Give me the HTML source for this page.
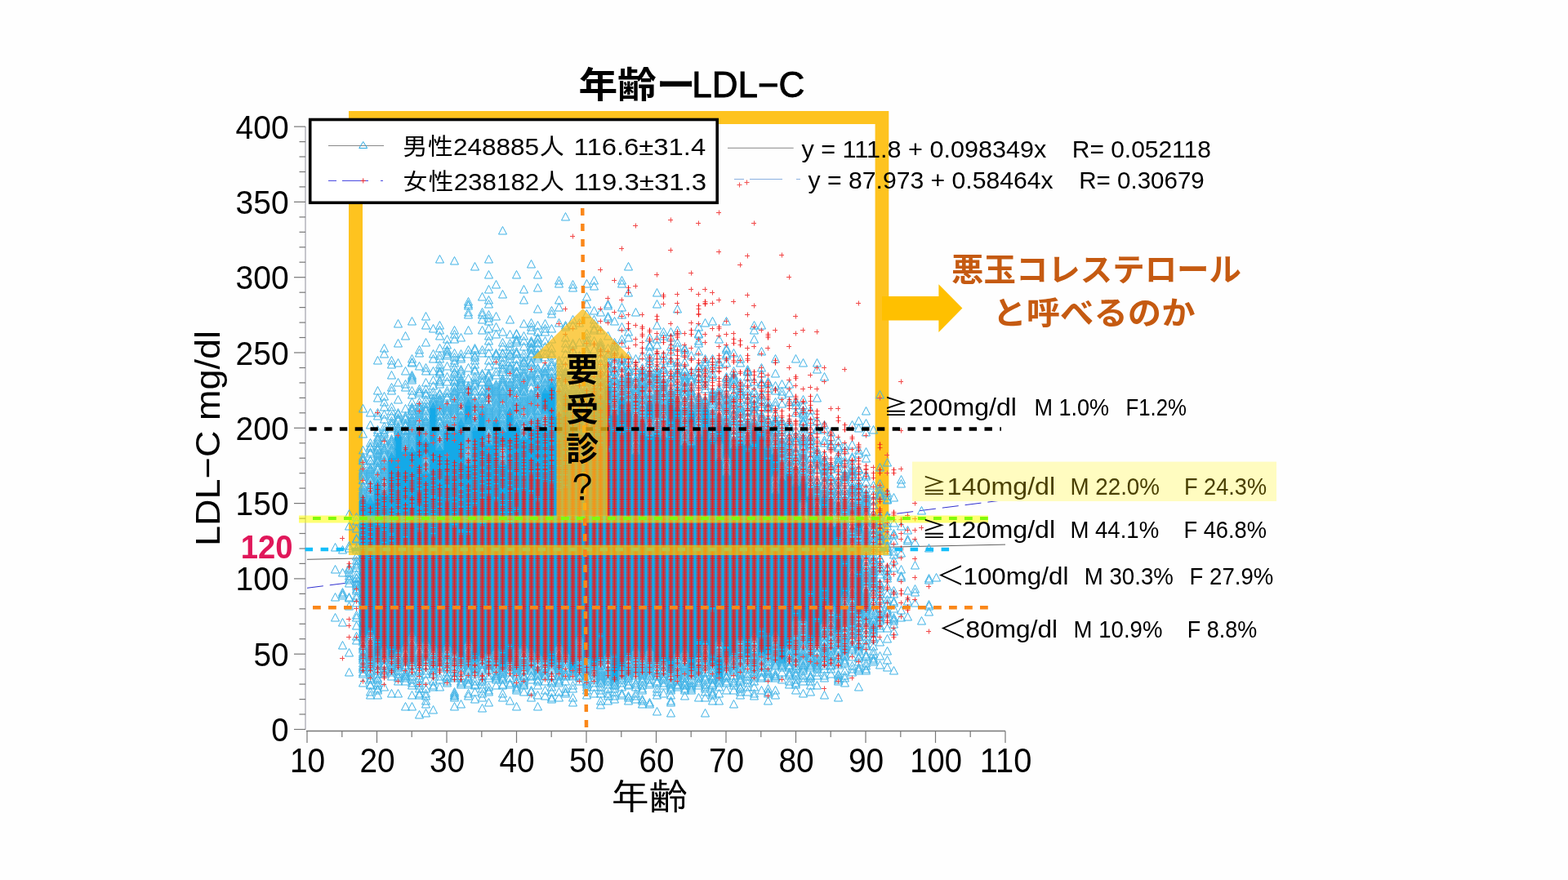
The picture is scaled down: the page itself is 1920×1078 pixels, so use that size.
<!DOCTYPE html>
<html><head><meta charset="utf-8"><title>年齢ーLDL-C</title>
<style>html,body{margin:0;padding:0;background:#fefefe;width:1920px;height:1078px;overflow:hidden}svg{display:block}</style>
</head><body>
<svg width="1920" height="1078" viewBox="0 0 1920 1078"><line x1="374" y1="155.1" x2="374" y2="893.5" stroke="#b8b8c0" stroke-width="1.6"/>
<line x1="360" y1="893.5" x2="374" y2="893.5" stroke="#777" stroke-width="1.2"/>
<line x1="366.5" y1="875.0" x2="374" y2="875.0" stroke="#777" stroke-width="1.2"/>
<line x1="366.5" y1="856.6" x2="374" y2="856.6" stroke="#777" stroke-width="1.2"/>
<line x1="366.5" y1="838.1" x2="374" y2="838.1" stroke="#777" stroke-width="1.2"/>
<line x1="366.5" y1="819.7" x2="374" y2="819.7" stroke="#777" stroke-width="1.2"/>
<line x1="360" y1="801.2" x2="374" y2="801.2" stroke="#777" stroke-width="1.2"/>
<line x1="366.5" y1="782.7" x2="374" y2="782.7" stroke="#777" stroke-width="1.2"/>
<line x1="366.5" y1="764.3" x2="374" y2="764.3" stroke="#777" stroke-width="1.2"/>
<line x1="366.5" y1="745.8" x2="374" y2="745.8" stroke="#777" stroke-width="1.2"/>
<line x1="366.5" y1="727.4" x2="374" y2="727.4" stroke="#777" stroke-width="1.2"/>
<line x1="360" y1="708.9" x2="374" y2="708.9" stroke="#777" stroke-width="1.2"/>
<line x1="366.5" y1="690.4" x2="374" y2="690.4" stroke="#777" stroke-width="1.2"/>
<line x1="366.5" y1="672.0" x2="374" y2="672.0" stroke="#777" stroke-width="1.2"/>
<line x1="366.5" y1="653.5" x2="374" y2="653.5" stroke="#777" stroke-width="1.2"/>
<line x1="366.5" y1="635.1" x2="374" y2="635.1" stroke="#777" stroke-width="1.2"/>
<line x1="360" y1="616.6" x2="374" y2="616.6" stroke="#777" stroke-width="1.2"/>
<line x1="366.5" y1="598.1" x2="374" y2="598.1" stroke="#777" stroke-width="1.2"/>
<line x1="366.5" y1="579.7" x2="374" y2="579.7" stroke="#777" stroke-width="1.2"/>
<line x1="366.5" y1="561.2" x2="374" y2="561.2" stroke="#777" stroke-width="1.2"/>
<line x1="366.5" y1="542.8" x2="374" y2="542.8" stroke="#777" stroke-width="1.2"/>
<line x1="360" y1="524.3" x2="374" y2="524.3" stroke="#777" stroke-width="1.2"/>
<line x1="366.5" y1="505.8" x2="374" y2="505.8" stroke="#777" stroke-width="1.2"/>
<line x1="366.5" y1="487.4" x2="374" y2="487.4" stroke="#777" stroke-width="1.2"/>
<line x1="366.5" y1="468.9" x2="374" y2="468.9" stroke="#777" stroke-width="1.2"/>
<line x1="366.5" y1="450.5" x2="374" y2="450.5" stroke="#777" stroke-width="1.2"/>
<line x1="360" y1="432.0" x2="374" y2="432.0" stroke="#777" stroke-width="1.2"/>
<line x1="366.5" y1="413.5" x2="374" y2="413.5" stroke="#777" stroke-width="1.2"/>
<line x1="366.5" y1="395.1" x2="374" y2="395.1" stroke="#777" stroke-width="1.2"/>
<line x1="366.5" y1="376.6" x2="374" y2="376.6" stroke="#777" stroke-width="1.2"/>
<line x1="366.5" y1="358.2" x2="374" y2="358.2" stroke="#777" stroke-width="1.2"/>
<line x1="360" y1="339.7" x2="374" y2="339.7" stroke="#777" stroke-width="1.2"/>
<line x1="366.5" y1="321.2" x2="374" y2="321.2" stroke="#777" stroke-width="1.2"/>
<line x1="366.5" y1="302.8" x2="374" y2="302.8" stroke="#777" stroke-width="1.2"/>
<line x1="366.5" y1="284.3" x2="374" y2="284.3" stroke="#777" stroke-width="1.2"/>
<line x1="366.5" y1="265.9" x2="374" y2="265.9" stroke="#777" stroke-width="1.2"/>
<line x1="360" y1="247.4" x2="374" y2="247.4" stroke="#777" stroke-width="1.2"/>
<line x1="366.5" y1="228.9" x2="374" y2="228.9" stroke="#777" stroke-width="1.2"/>
<line x1="366.5" y1="210.5" x2="374" y2="210.5" stroke="#777" stroke-width="1.2"/>
<line x1="366.5" y1="192.0" x2="374" y2="192.0" stroke="#777" stroke-width="1.2"/>
<line x1="366.5" y1="173.6" x2="374" y2="173.6" stroke="#777" stroke-width="1.2"/>
<line x1="360" y1="155.1" x2="374" y2="155.1" stroke="#777" stroke-width="1.2"/>
<line x1="375" y1="895.5" x2="1231" y2="895.5" stroke="#777" stroke-width="1.4"/>
<line x1="376.0" y1="895.5" x2="376.0" y2="910" stroke="#777" stroke-width="1.2"/>
<line x1="418.8" y1="895.5" x2="418.8" y2="903" stroke="#777" stroke-width="1.2"/>
<line x1="461.5" y1="895.5" x2="461.5" y2="910" stroke="#777" stroke-width="1.2"/>
<line x1="504.2" y1="895.5" x2="504.2" y2="903" stroke="#777" stroke-width="1.2"/>
<line x1="547.0" y1="895.5" x2="547.0" y2="910" stroke="#777" stroke-width="1.2"/>
<line x1="589.8" y1="895.5" x2="589.8" y2="903" stroke="#777" stroke-width="1.2"/>
<line x1="632.5" y1="895.5" x2="632.5" y2="910" stroke="#777" stroke-width="1.2"/>
<line x1="675.2" y1="895.5" x2="675.2" y2="903" stroke="#777" stroke-width="1.2"/>
<line x1="718.0" y1="895.5" x2="718.0" y2="910" stroke="#777" stroke-width="1.2"/>
<line x1="760.8" y1="895.5" x2="760.8" y2="903" stroke="#777" stroke-width="1.2"/>
<line x1="803.5" y1="895.5" x2="803.5" y2="910" stroke="#777" stroke-width="1.2"/>
<line x1="846.2" y1="895.5" x2="846.2" y2="903" stroke="#777" stroke-width="1.2"/>
<line x1="889.0" y1="895.5" x2="889.0" y2="910" stroke="#777" stroke-width="1.2"/>
<line x1="931.8" y1="895.5" x2="931.8" y2="903" stroke="#777" stroke-width="1.2"/>
<line x1="974.5" y1="895.5" x2="974.5" y2="910" stroke="#777" stroke-width="1.2"/>
<line x1="1017.2" y1="895.5" x2="1017.2" y2="903" stroke="#777" stroke-width="1.2"/>
<line x1="1060.0" y1="895.5" x2="1060.0" y2="910" stroke="#777" stroke-width="1.2"/>
<line x1="1102.8" y1="895.5" x2="1102.8" y2="903" stroke="#777" stroke-width="1.2"/>
<line x1="1145.5" y1="895.5" x2="1145.5" y2="910" stroke="#777" stroke-width="1.2"/>
<line x1="1188.2" y1="895.5" x2="1188.2" y2="903" stroke="#777" stroke-width="1.2"/>
<line x1="1231.0" y1="895.5" x2="1231.0" y2="910" stroke="#777" stroke-width="1.2"/>
<text x="353.6" y="908.0" font-size="40" fill="#000" font-weight="normal" font-family='"Liberation Sans",sans-serif' text-anchor="end" textLength="21.3" lengthAdjust="spacingAndGlyphs" >0</text>
<text x="353.6" y="815.7" font-size="40" fill="#000" font-weight="normal" font-family='"Liberation Sans",sans-serif' text-anchor="end" textLength="43.2" lengthAdjust="spacingAndGlyphs" >50</text>
<text x="353.6" y="723.4" font-size="40" fill="#000" font-weight="normal" font-family='"Liberation Sans",sans-serif' text-anchor="end" textLength="65.1" lengthAdjust="spacingAndGlyphs" >100</text>
<text x="353.6" y="631.1" font-size="40" fill="#000" font-weight="normal" font-family='"Liberation Sans",sans-serif' text-anchor="end" textLength="65.1" lengthAdjust="spacingAndGlyphs" >150</text>
<text x="353.6" y="538.8" font-size="40" fill="#000" font-weight="normal" font-family='"Liberation Sans",sans-serif' text-anchor="end" textLength="65.1" lengthAdjust="spacingAndGlyphs" >200</text>
<text x="353.6" y="446.5" font-size="40" fill="#000" font-weight="normal" font-family='"Liberation Sans",sans-serif' text-anchor="end" textLength="65.1" lengthAdjust="spacingAndGlyphs" >250</text>
<text x="353.6" y="354.2" font-size="40" fill="#000" font-weight="normal" font-family='"Liberation Sans",sans-serif' text-anchor="end" textLength="65.1" lengthAdjust="spacingAndGlyphs" >300</text>
<text x="353.6" y="261.9" font-size="40" fill="#000" font-weight="normal" font-family='"Liberation Sans",sans-serif' text-anchor="end" textLength="65.1" lengthAdjust="spacingAndGlyphs" >350</text>
<text x="353.6" y="169.6" font-size="40" fill="#000" font-weight="normal" font-family='"Liberation Sans",sans-serif' text-anchor="end" textLength="65.1" lengthAdjust="spacingAndGlyphs" >400</text>
<text x="376.6" y="946.0" font-size="42" fill="#000" font-weight="normal" font-family='"Liberation Sans",sans-serif' text-anchor="middle" textLength="43.2" lengthAdjust="spacingAndGlyphs" >10</text>
<text x="462.1" y="946.0" font-size="42" fill="#000" font-weight="normal" font-family='"Liberation Sans",sans-serif' text-anchor="middle" textLength="43.2" lengthAdjust="spacingAndGlyphs" >20</text>
<text x="547.6" y="946.0" font-size="42" fill="#000" font-weight="normal" font-family='"Liberation Sans",sans-serif' text-anchor="middle" textLength="43.2" lengthAdjust="spacingAndGlyphs" >30</text>
<text x="633.1" y="946.0" font-size="42" fill="#000" font-weight="normal" font-family='"Liberation Sans",sans-serif' text-anchor="middle" textLength="43.2" lengthAdjust="spacingAndGlyphs" >40</text>
<text x="718.6" y="946.0" font-size="42" fill="#000" font-weight="normal" font-family='"Liberation Sans",sans-serif' text-anchor="middle" textLength="43.2" lengthAdjust="spacingAndGlyphs" >50</text>
<text x="804.1" y="946.0" font-size="42" fill="#000" font-weight="normal" font-family='"Liberation Sans",sans-serif' text-anchor="middle" textLength="43.2" lengthAdjust="spacingAndGlyphs" >60</text>
<text x="889.6" y="946.0" font-size="42" fill="#000" font-weight="normal" font-family='"Liberation Sans",sans-serif' text-anchor="middle" textLength="43.2" lengthAdjust="spacingAndGlyphs" >70</text>
<text x="975.1" y="946.0" font-size="42" fill="#000" font-weight="normal" font-family='"Liberation Sans",sans-serif' text-anchor="middle" textLength="43.2" lengthAdjust="spacingAndGlyphs" >80</text>
<text x="1060.6" y="946.0" font-size="42" fill="#000" font-weight="normal" font-family='"Liberation Sans",sans-serif' text-anchor="middle" textLength="43.2" lengthAdjust="spacingAndGlyphs" >90</text>
<text x="1146.1" y="946.0" font-size="42" fill="#000" font-weight="normal" font-family='"Liberation Sans",sans-serif' text-anchor="middle" textLength="63.6" lengthAdjust="spacingAndGlyphs" >100</text>
<text x="1231.6" y="946.0" font-size="42" fill="#000" font-weight="normal" font-family='"Liberation Sans",sans-serif' text-anchor="middle" textLength="63.6" lengthAdjust="spacingAndGlyphs" >110</text>
<line x1="376" y1="685.3" x2="1231" y2="667.1" stroke="#606060" stroke-width="1"/>
<line x1="376" y1="720.3" x2="1231" y2="612.4" stroke="#3030d0" stroke-width="1" stroke-dasharray="20,8"/>
<g fill="rgb(254,195,31)"><rect x="427" y="136" width="661.3" height="16"/><rect x="427" y="152" width="17" height="516"/><rect x="1071.6" y="152" width="16.7" height="516"/></g>
<path d="M444.5 604.5L449.5 614V782H439.5V614ZM453.5 607.5L458.5 617V778H448.5V617ZM462.5 585.5L467.5 595V808H457.5V595ZM470.5 598.5L475.5 608V796H465.5V608ZM479.5 552.5L484.5 562V806H474.5V562ZM487.5 526.5L492.5 536V800H482.5V536ZM496.5 545.5L501.5 555V793H491.5V555ZM504.5 545.5L509.5 555V780H499.5V555ZM513.5 524.5L518.5 534V789H508.5V534ZM521.5 572.5L526.5 582V789H516.5V582ZM521.5 534.5L526.5 544V560H516.5V544ZM530.5 491.5L535.5 501V795H525.5V501ZM538.5 543.5L543.5 553V800H533.5V553ZM547.5 521.5L552.5 531V793H542.5V531ZM556.5 521.5L561.5 531V800H551.5V531ZM564.5 511.5L569.5 521V809H559.5V521ZM573.5 561.5L578.5 571V789H568.5V571ZM573.5 487.5L578.5 497V520H568.5V497ZM581.5 519.5L586.5 529V811H576.5V529ZM590.5 498.5L595.5 508V804H585.5V508ZM598.5 537.5L603.5 547V802H593.5V547ZM607.5 508.5L612.5 518V798H602.5V518ZM615.5 561.5L620.5 571V820H610.5V571ZM615.5 521.5L620.5 531V549H610.5V531ZM624.5 497.5L629.5 507V811H619.5V507ZM632.5 515.5L637.5 525V796H627.5V525ZM641.5 530.5L646.5 540V795H636.5V540ZM650.5 517.5L655.5 527V800H645.5V527ZM658.5 511.5L663.5 521V804H653.5V521ZM667.5 519.5L672.5 529V808H662.5V529ZM667.5 473.5L672.5 483V507H662.5V483ZM675.5 465.5L680.5 475V815H670.5V475ZM684.5 502.5L689.5 512V793H679.5V512ZM692.5 478.5L697.5 488V802H687.5V488ZM701.5 498.5L706.5 508V824H696.5V508ZM709.5 478.5L714.5 488V784H704.5V488ZM718.5 524.5L723.5 534V808H713.5V534ZM727.5 478.5L732.5 488V819H722.5V488ZM735.5 482.5L740.5 492V811H730.5V492ZM744.5 465.5L749.5 475V804H739.5V475ZM752.5 500.5L757.5 510V835H747.5V510ZM761.5 482.5L766.5 492V822H756.5V492ZM769.5 497.5L774.5 507V806H764.5V507ZM778.5 548.5L783.5 558V798H773.5V558ZM786.5 510.5L791.5 520V804H781.5V520ZM795.5 526.5L800.5 536V798H790.5V536ZM795.5 486.5L800.5 496V514H790.5V496ZM804.5 522.5L809.5 532V811H799.5V532ZM812.5 528.5L817.5 538V811H807.5V538ZM821.5 482.5L826.5 492V824H816.5V492ZM829.5 493.5L834.5 503V802H824.5V503ZM838.5 537.5L843.5 547V800H833.5V547ZM846.5 537.5L851.5 547V822H841.5V547ZM846.5 497.5L851.5 507V525H841.5V507ZM855.5 526.5L860.5 536V806H850.5V536ZM863.5 493.5L868.5 503V791H858.5V503ZM872.5 530.5L877.5 540V815H867.5V540ZM880.5 799.5L885.5 809V832H875.5V809ZM880.5 556.5L885.5 566V787H875.5V566ZM880.5 513.5L885.5 523V544H875.5V523ZM889.5 574.5L894.5 584V806H884.5V584ZM889.5 515.5L894.5 525V562H884.5V525ZM898.5 541.5L903.5 551V804H893.5V551ZM906.5 534.5L911.5 544V785H901.5V544ZM915.5 537.5L920.5 547V806H910.5V547ZM923.5 519.5L928.5 529V782H918.5V529ZM932.5 522.5L937.5 532V804H927.5V532ZM940.5 541.5L945.5 551V802H935.5V551ZM949.5 596.5L954.5 606V780H944.5V606ZM949.5 548.5L954.5 558V584H944.5V558ZM957.5 580.5L962.5 590V813H952.5V590ZM966.5 572.5L971.5 582V793H961.5V582ZM974.5 587.5L979.5 597V761H969.5V597ZM983.5 628.5L988.5 638V761H978.5V638ZM983.5 583.5L988.5 593V616H978.5V593ZM992.5 600.5L997.5 610V789H987.5V610ZM1000.5 624.5L1005.5 634V784H995.5V634ZM1009.5 602.5L1014.5 612V765H1004.5V612ZM1017.5 637.5L1022.5 647V743H1012.5V647ZM1026.5 635.5L1031.5 645V776H1021.5V645ZM1034.5 665.5L1039.5 675V732H1029.5V675ZM1051.5 676.5L1056.5 686V752H1046.5V686ZM1051.5 628.5L1056.5 638V654H1046.5V638Z" fill="#14a9e8"/>
<path d="M410.5 751.5l5 9.5h-10zM410.5 726.5l5 9.5h-10zM410.5 692.5l5 9.5h-10zM410.5 665.5l5 9.5h-10zM419.5 785.5l5 9.5h-10zM419.5 757.5l5 9.5h-10zM419.5 724.5l5 9.5h-10zM419.5 722.5l5 9.5h-10zM419.5 720.5l5 9.5h-10zM419.5 696.5l5 9.5h-10zM419.5 668.5l5 9.5h-10zM427.5 818.5l5 9.5h-10zM427.5 794.5l5 9.5h-10zM427.5 737.5l5 9.5h-10zM427.5 727.5l5 9.5h-10zM427.5 726.5l5 9.5h-10zM427.5 709.5l5 9.5h-10zM427.5 705.5l5 9.5h-10zM427.5 703.5l5 9.5h-10zM427.5 700.5l5 9.5h-10zM427.5 696.5l5 9.5h-10zM427.5 692.5l5 9.5h-10zM427.5 690.5l5 9.5h-10zM427.5 666.5l5 9.5h-10zM427.5 663.5l5 9.5h-10zM427.5 639.5l5 9.5h-10zM427.5 624.5l5 9.5h-10zM436.5 779.5l5 9.5h-10zM436.5 774.5l5 9.5h-10zM436.5 761.5l5 9.5h-10zM436.5 751.5l5 9.5h-10zM436.5 748.5l5 9.5h-10zM436.5 733.5l5 9.5h-10zM436.5 727.5l5 9.5h-10zM436.5 724.5l5 9.5h-10zM436.5 718.5l5 9.5h-10zM436.5 716.5l5 9.5h-10zM436.5 713.5l5 9.5h-10zM436.5 711.5l5 9.5h-10zM436.5 709.5l5 9.5h-10zM436.5 707.5l5 9.5h-10zM436.5 703.5l5 9.5h-10zM436.5 702.5l5 9.5h-10zM436.5 698.5l5 9.5h-10zM436.5 690.5l5 9.5h-10zM436.5 687.5l5 9.5h-10zM436.5 685.5l5 9.5h-10zM436.5 681.5l5 9.5h-10zM436.5 676.5l5 9.5h-10zM436.5 668.5l5 9.5h-10zM436.5 666.5l5 9.5h-10zM436.5 655.5l5 9.5h-10zM436.5 654.5l5 9.5h-10zM436.5 642.5l5 9.5h-10zM436.5 633.5l5 9.5h-10zM436.5 628.5l5 9.5h-10zM444.5 831.5l5 9.5h-10zM444.5 820.5l5 9.5h-10zM444.5 818.5l5 9.5h-10zM444.5 814.5l5 9.5h-10zM444.5 812.5l5 9.5h-10zM444.5 810.5l5 9.5h-10zM444.5 807.5l5 9.5h-10zM444.5 803.5l5 9.5h-10zM444.5 801.5l5 9.5h-10zM444.5 799.5l5 9.5h-10zM444.5 798.5l5 9.5h-10zM444.5 796.5l5 9.5h-10zM444.5 794.5l5 9.5h-10zM444.5 790.5l5 9.5h-10zM444.5 788.5l5 9.5h-10zM444.5 786.5l5 9.5h-10zM444.5 785.5l5 9.5h-10zM444.5 594.5l5 9.5h-10zM444.5 596.5l5 9.5h-10zM444.5 598.5l5 9.5h-10zM444.5 600.5l5 9.5h-10zM444.5 602.5l5 9.5h-10zM444.5 781.5l5 9.5h-10zM444.5 779.5l5 9.5h-10zM444.5 777.5l5 9.5h-10zM444.5 775.5l5 9.5h-10zM444.5 774.5l5 9.5h-10zM444.5 591.5l5 9.5h-10zM444.5 589.5l5 9.5h-10zM444.5 583.5l5 9.5h-10zM444.5 582.5l5 9.5h-10zM444.5 578.5l5 9.5h-10zM444.5 576.5l5 9.5h-10zM444.5 574.5l5 9.5h-10zM444.5 572.5l5 9.5h-10zM444.5 570.5l5 9.5h-10zM444.5 567.5l5 9.5h-10zM444.5 559.5l5 9.5h-10zM444.5 558.5l5 9.5h-10zM444.5 556.5l5 9.5h-10zM444.5 554.5l5 9.5h-10zM444.5 546.5l5 9.5h-10zM444.5 526.5l5 9.5h-10zM444.5 495.5l5 9.5h-10zM453.5 846.5l5 9.5h-10zM453.5 842.5l5 9.5h-10zM453.5 834.5l5 9.5h-10zM453.5 833.5l5 9.5h-10zM453.5 827.5l5 9.5h-10zM453.5 825.5l5 9.5h-10zM453.5 822.5l5 9.5h-10zM453.5 818.5l5 9.5h-10zM453.5 816.5l5 9.5h-10zM453.5 812.5l5 9.5h-10zM453.5 810.5l5 9.5h-10zM453.5 809.5l5 9.5h-10zM453.5 807.5l5 9.5h-10zM453.5 805.5l5 9.5h-10zM453.5 803.5l5 9.5h-10zM453.5 801.5l5 9.5h-10zM453.5 799.5l5 9.5h-10zM453.5 798.5l5 9.5h-10zM453.5 796.5l5 9.5h-10zM453.5 794.5l5 9.5h-10zM453.5 792.5l5 9.5h-10zM453.5 790.5l5 9.5h-10zM453.5 788.5l5 9.5h-10zM453.5 786.5l5 9.5h-10zM453.5 783.5l5 9.5h-10zM453.5 781.5l5 9.5h-10zM453.5 598.5l5 9.5h-10zM453.5 600.5l5 9.5h-10zM453.5 602.5l5 9.5h-10zM453.5 604.5l5 9.5h-10zM453.5 606.5l5 9.5h-10zM453.5 777.5l5 9.5h-10zM453.5 775.5l5 9.5h-10zM453.5 774.5l5 9.5h-10zM453.5 772.5l5 9.5h-10zM453.5 770.5l5 9.5h-10zM453.5 594.5l5 9.5h-10zM453.5 593.5l5 9.5h-10zM453.5 591.5l5 9.5h-10zM453.5 589.5l5 9.5h-10zM453.5 587.5l5 9.5h-10zM453.5 583.5l5 9.5h-10zM453.5 582.5l5 9.5h-10zM453.5 580.5l5 9.5h-10zM453.5 578.5l5 9.5h-10zM453.5 576.5l5 9.5h-10zM453.5 574.5l5 9.5h-10zM453.5 572.5l5 9.5h-10zM453.5 570.5l5 9.5h-10zM453.5 569.5l5 9.5h-10zM453.5 567.5l5 9.5h-10zM453.5 563.5l5 9.5h-10zM453.5 559.5l5 9.5h-10zM453.5 558.5l5 9.5h-10zM453.5 550.5l5 9.5h-10zM453.5 548.5l5 9.5h-10zM453.5 543.5l5 9.5h-10zM453.5 541.5l5 9.5h-10zM453.5 537.5l5 9.5h-10zM453.5 515.5l5 9.5h-10zM453.5 500.5l5 9.5h-10zM462.5 846.5l5 9.5h-10zM462.5 840.5l5 9.5h-10zM462.5 838.5l5 9.5h-10zM462.5 834.5l5 9.5h-10zM462.5 831.5l5 9.5h-10zM462.5 827.5l5 9.5h-10zM462.5 825.5l5 9.5h-10zM462.5 820.5l5 9.5h-10zM462.5 816.5l5 9.5h-10zM462.5 814.5l5 9.5h-10zM462.5 810.5l5 9.5h-10zM462.5 576.5l5 9.5h-10zM462.5 578.5l5 9.5h-10zM462.5 580.5l5 9.5h-10zM462.5 582.5l5 9.5h-10zM462.5 583.5l5 9.5h-10zM462.5 807.5l5 9.5h-10zM462.5 805.5l5 9.5h-10zM462.5 803.5l5 9.5h-10zM462.5 801.5l5 9.5h-10zM462.5 799.5l5 9.5h-10zM462.5 570.5l5 9.5h-10zM462.5 569.5l5 9.5h-10zM462.5 567.5l5 9.5h-10zM462.5 565.5l5 9.5h-10zM462.5 561.5l5 9.5h-10zM462.5 559.5l5 9.5h-10zM462.5 558.5l5 9.5h-10zM462.5 556.5l5 9.5h-10zM462.5 554.5l5 9.5h-10zM462.5 552.5l5 9.5h-10zM462.5 550.5l5 9.5h-10zM462.5 546.5l5 9.5h-10zM462.5 545.5l5 9.5h-10zM462.5 543.5l5 9.5h-10zM462.5 541.5l5 9.5h-10zM462.5 537.5l5 9.5h-10zM462.5 534.5l5 9.5h-10zM462.5 532.5l5 9.5h-10zM462.5 530.5l5 9.5h-10zM462.5 524.5l5 9.5h-10zM462.5 521.5l5 9.5h-10zM462.5 504.5l5 9.5h-10zM462.5 500.5l5 9.5h-10zM462.5 482.5l5 9.5h-10zM462.5 473.5l5 9.5h-10zM462.5 436.5l5 9.5h-10zM470.5 836.5l5 9.5h-10zM470.5 820.5l5 9.5h-10zM470.5 818.5l5 9.5h-10zM470.5 816.5l5 9.5h-10zM470.5 810.5l5 9.5h-10zM470.5 809.5l5 9.5h-10zM470.5 807.5l5 9.5h-10zM470.5 803.5l5 9.5h-10zM470.5 801.5l5 9.5h-10zM470.5 799.5l5 9.5h-10zM470.5 589.5l5 9.5h-10zM470.5 591.5l5 9.5h-10zM470.5 593.5l5 9.5h-10zM470.5 594.5l5 9.5h-10zM470.5 596.5l5 9.5h-10zM470.5 796.5l5 9.5h-10zM470.5 794.5l5 9.5h-10zM470.5 792.5l5 9.5h-10zM470.5 790.5l5 9.5h-10zM470.5 788.5l5 9.5h-10zM470.5 585.5l5 9.5h-10zM470.5 583.5l5 9.5h-10zM470.5 582.5l5 9.5h-10zM470.5 580.5l5 9.5h-10zM470.5 578.5l5 9.5h-10zM470.5 576.5l5 9.5h-10zM470.5 574.5l5 9.5h-10zM470.5 572.5l5 9.5h-10zM470.5 570.5l5 9.5h-10zM470.5 569.5l5 9.5h-10zM470.5 567.5l5 9.5h-10zM470.5 565.5l5 9.5h-10zM470.5 563.5l5 9.5h-10zM470.5 561.5l5 9.5h-10zM470.5 559.5l5 9.5h-10zM470.5 558.5l5 9.5h-10zM470.5 552.5l5 9.5h-10zM470.5 550.5l5 9.5h-10zM470.5 548.5l5 9.5h-10zM470.5 546.5l5 9.5h-10zM470.5 545.5l5 9.5h-10zM470.5 543.5l5 9.5h-10zM470.5 537.5l5 9.5h-10zM470.5 535.5l5 9.5h-10zM470.5 534.5l5 9.5h-10zM470.5 530.5l5 9.5h-10zM470.5 526.5l5 9.5h-10zM470.5 524.5l5 9.5h-10zM470.5 521.5l5 9.5h-10zM470.5 517.5l5 9.5h-10zM470.5 508.5l5 9.5h-10zM470.5 502.5l5 9.5h-10zM470.5 493.5l5 9.5h-10zM470.5 487.5l5 9.5h-10zM470.5 480.5l5 9.5h-10zM470.5 428.5l5 9.5h-10zM470.5 421.5l5 9.5h-10zM479.5 844.5l5 9.5h-10zM479.5 823.5l5 9.5h-10zM479.5 818.5l5 9.5h-10zM479.5 816.5l5 9.5h-10zM479.5 814.5l5 9.5h-10zM479.5 812.5l5 9.5h-10zM479.5 810.5l5 9.5h-10zM479.5 809.5l5 9.5h-10zM479.5 543.5l5 9.5h-10zM479.5 545.5l5 9.5h-10zM479.5 546.5l5 9.5h-10zM479.5 548.5l5 9.5h-10zM479.5 550.5l5 9.5h-10zM479.5 805.5l5 9.5h-10zM479.5 803.5l5 9.5h-10zM479.5 801.5l5 9.5h-10zM479.5 799.5l5 9.5h-10zM479.5 798.5l5 9.5h-10zM479.5 539.5l5 9.5h-10zM479.5 537.5l5 9.5h-10zM479.5 535.5l5 9.5h-10zM479.5 534.5l5 9.5h-10zM479.5 532.5l5 9.5h-10zM479.5 519.5l5 9.5h-10zM479.5 515.5l5 9.5h-10zM479.5 513.5l5 9.5h-10zM479.5 510.5l5 9.5h-10zM479.5 504.5l5 9.5h-10zM479.5 498.5l5 9.5h-10zM479.5 493.5l5 9.5h-10zM479.5 473.5l5 9.5h-10zM479.5 469.5l5 9.5h-10zM479.5 454.5l5 9.5h-10zM479.5 441.5l5 9.5h-10zM479.5 436.5l5 9.5h-10zM487.5 844.5l5 9.5h-10zM487.5 829.5l5 9.5h-10zM487.5 825.5l5 9.5h-10zM487.5 823.5l5 9.5h-10zM487.5 820.5l5 9.5h-10zM487.5 816.5l5 9.5h-10zM487.5 812.5l5 9.5h-10zM487.5 810.5l5 9.5h-10zM487.5 809.5l5 9.5h-10zM487.5 807.5l5 9.5h-10zM487.5 805.5l5 9.5h-10zM487.5 803.5l5 9.5h-10zM487.5 517.5l5 9.5h-10zM487.5 519.5l5 9.5h-10zM487.5 521.5l5 9.5h-10zM487.5 522.5l5 9.5h-10zM487.5 524.5l5 9.5h-10zM487.5 799.5l5 9.5h-10zM487.5 798.5l5 9.5h-10zM487.5 796.5l5 9.5h-10zM487.5 794.5l5 9.5h-10zM487.5 792.5l5 9.5h-10zM487.5 510.5l5 9.5h-10zM487.5 508.5l5 9.5h-10zM487.5 506.5l5 9.5h-10zM487.5 502.5l5 9.5h-10zM487.5 500.5l5 9.5h-10zM487.5 484.5l5 9.5h-10zM487.5 463.5l5 9.5h-10zM487.5 439.5l5 9.5h-10zM487.5 415.5l5 9.5h-10zM487.5 391.5l5 9.5h-10zM496.5 860.5l5 9.5h-10zM496.5 829.5l5 9.5h-10zM496.5 825.5l5 9.5h-10zM496.5 823.5l5 9.5h-10zM496.5 822.5l5 9.5h-10zM496.5 820.5l5 9.5h-10zM496.5 818.5l5 9.5h-10zM496.5 812.5l5 9.5h-10zM496.5 810.5l5 9.5h-10zM496.5 809.5l5 9.5h-10zM496.5 805.5l5 9.5h-10zM496.5 803.5l5 9.5h-10zM496.5 801.5l5 9.5h-10zM496.5 799.5l5 9.5h-10zM496.5 798.5l5 9.5h-10zM496.5 535.5l5 9.5h-10zM496.5 537.5l5 9.5h-10zM496.5 539.5l5 9.5h-10zM496.5 541.5l5 9.5h-10zM496.5 543.5l5 9.5h-10zM496.5 792.5l5 9.5h-10zM496.5 790.5l5 9.5h-10zM496.5 788.5l5 9.5h-10zM496.5 786.5l5 9.5h-10zM496.5 785.5l5 9.5h-10zM496.5 532.5l5 9.5h-10zM496.5 530.5l5 9.5h-10zM496.5 528.5l5 9.5h-10zM496.5 526.5l5 9.5h-10zM496.5 522.5l5 9.5h-10zM496.5 521.5l5 9.5h-10zM496.5 517.5l5 9.5h-10zM496.5 515.5l5 9.5h-10zM496.5 513.5l5 9.5h-10zM496.5 508.5l5 9.5h-10zM496.5 506.5l5 9.5h-10zM496.5 504.5l5 9.5h-10zM496.5 495.5l5 9.5h-10zM496.5 469.5l5 9.5h-10zM496.5 465.5l5 9.5h-10zM496.5 449.5l5 9.5h-10zM496.5 406.5l5 9.5h-10zM504.5 860.5l5 9.5h-10zM504.5 846.5l5 9.5h-10zM504.5 834.5l5 9.5h-10zM504.5 831.5l5 9.5h-10zM504.5 827.5l5 9.5h-10zM504.5 823.5l5 9.5h-10zM504.5 818.5l5 9.5h-10zM504.5 816.5l5 9.5h-10zM504.5 809.5l5 9.5h-10zM504.5 807.5l5 9.5h-10zM504.5 805.5l5 9.5h-10zM504.5 803.5l5 9.5h-10zM504.5 801.5l5 9.5h-10zM504.5 799.5l5 9.5h-10zM504.5 798.5l5 9.5h-10zM504.5 796.5l5 9.5h-10zM504.5 794.5l5 9.5h-10zM504.5 792.5l5 9.5h-10zM504.5 790.5l5 9.5h-10zM504.5 788.5l5 9.5h-10zM504.5 786.5l5 9.5h-10zM504.5 785.5l5 9.5h-10zM504.5 783.5l5 9.5h-10zM504.5 535.5l5 9.5h-10zM504.5 537.5l5 9.5h-10zM504.5 539.5l5 9.5h-10zM504.5 541.5l5 9.5h-10zM504.5 543.5l5 9.5h-10zM504.5 779.5l5 9.5h-10zM504.5 777.5l5 9.5h-10zM504.5 775.5l5 9.5h-10zM504.5 774.5l5 9.5h-10zM504.5 772.5l5 9.5h-10zM504.5 532.5l5 9.5h-10zM504.5 530.5l5 9.5h-10zM504.5 528.5l5 9.5h-10zM504.5 526.5l5 9.5h-10zM504.5 524.5l5 9.5h-10zM504.5 522.5l5 9.5h-10zM504.5 521.5l5 9.5h-10zM504.5 519.5l5 9.5h-10zM504.5 517.5l5 9.5h-10zM504.5 515.5l5 9.5h-10zM504.5 513.5l5 9.5h-10zM504.5 511.5l5 9.5h-10zM504.5 510.5l5 9.5h-10zM504.5 508.5l5 9.5h-10zM504.5 506.5l5 9.5h-10zM504.5 502.5l5 9.5h-10zM504.5 498.5l5 9.5h-10zM504.5 497.5l5 9.5h-10zM504.5 495.5l5 9.5h-10zM504.5 493.5l5 9.5h-10zM504.5 487.5l5 9.5h-10zM504.5 478.5l5 9.5h-10zM504.5 473.5l5 9.5h-10zM504.5 460.5l5 9.5h-10zM504.5 458.5l5 9.5h-10zM504.5 456.5l5 9.5h-10zM504.5 454.5l5 9.5h-10zM504.5 439.5l5 9.5h-10zM504.5 438.5l5 9.5h-10zM504.5 434.5l5 9.5h-10zM504.5 388.5l5 9.5h-10zM513.5 870.5l5 9.5h-10zM513.5 846.5l5 9.5h-10zM513.5 844.5l5 9.5h-10zM513.5 838.5l5 9.5h-10zM513.5 834.5l5 9.5h-10zM513.5 831.5l5 9.5h-10zM513.5 825.5l5 9.5h-10zM513.5 822.5l5 9.5h-10zM513.5 816.5l5 9.5h-10zM513.5 814.5l5 9.5h-10zM513.5 810.5l5 9.5h-10zM513.5 809.5l5 9.5h-10zM513.5 805.5l5 9.5h-10zM513.5 803.5l5 9.5h-10zM513.5 801.5l5 9.5h-10zM513.5 799.5l5 9.5h-10zM513.5 798.5l5 9.5h-10zM513.5 796.5l5 9.5h-10zM513.5 794.5l5 9.5h-10zM513.5 515.5l5 9.5h-10zM513.5 517.5l5 9.5h-10zM513.5 519.5l5 9.5h-10zM513.5 521.5l5 9.5h-10zM513.5 522.5l5 9.5h-10zM513.5 788.5l5 9.5h-10zM513.5 786.5l5 9.5h-10zM513.5 785.5l5 9.5h-10zM513.5 783.5l5 9.5h-10zM513.5 781.5l5 9.5h-10zM513.5 510.5l5 9.5h-10zM513.5 508.5l5 9.5h-10zM513.5 506.5l5 9.5h-10zM513.5 504.5l5 9.5h-10zM513.5 502.5l5 9.5h-10zM513.5 500.5l5 9.5h-10zM513.5 497.5l5 9.5h-10zM513.5 495.5l5 9.5h-10zM513.5 493.5l5 9.5h-10zM513.5 491.5l5 9.5h-10zM513.5 487.5l5 9.5h-10zM513.5 476.5l5 9.5h-10zM513.5 474.5l5 9.5h-10zM513.5 471.5l5 9.5h-10zM513.5 443.5l5 9.5h-10zM513.5 427.5l5 9.5h-10zM513.5 423.5l5 9.5h-10zM521.5 868.5l5 9.5h-10zM521.5 857.5l5 9.5h-10zM521.5 853.5l5 9.5h-10zM521.5 847.5l5 9.5h-10zM521.5 844.5l5 9.5h-10zM521.5 838.5l5 9.5h-10zM521.5 827.5l5 9.5h-10zM521.5 820.5l5 9.5h-10zM521.5 816.5l5 9.5h-10zM521.5 810.5l5 9.5h-10zM521.5 805.5l5 9.5h-10zM521.5 803.5l5 9.5h-10zM521.5 801.5l5 9.5h-10zM521.5 799.5l5 9.5h-10zM521.5 796.5l5 9.5h-10zM521.5 794.5l5 9.5h-10zM521.5 792.5l5 9.5h-10zM521.5 563.5l5 9.5h-10zM521.5 565.5l5 9.5h-10zM521.5 567.5l5 9.5h-10zM521.5 569.5l5 9.5h-10zM521.5 570.5l5 9.5h-10zM521.5 788.5l5 9.5h-10zM521.5 786.5l5 9.5h-10zM521.5 785.5l5 9.5h-10zM521.5 783.5l5 9.5h-10zM521.5 781.5l5 9.5h-10zM521.5 524.5l5 9.5h-10zM521.5 526.5l5 9.5h-10zM521.5 528.5l5 9.5h-10zM521.5 530.5l5 9.5h-10zM521.5 532.5l5 9.5h-10zM521.5 559.5l5 9.5h-10zM521.5 558.5l5 9.5h-10zM521.5 556.5l5 9.5h-10zM521.5 554.5l5 9.5h-10zM521.5 552.5l5 9.5h-10zM521.5 521.5l5 9.5h-10zM521.5 519.5l5 9.5h-10zM521.5 517.5l5 9.5h-10zM521.5 515.5l5 9.5h-10zM521.5 513.5l5 9.5h-10zM521.5 511.5l5 9.5h-10zM521.5 510.5l5 9.5h-10zM521.5 508.5l5 9.5h-10zM521.5 504.5l5 9.5h-10zM521.5 498.5l5 9.5h-10zM521.5 497.5l5 9.5h-10zM521.5 495.5l5 9.5h-10zM521.5 493.5l5 9.5h-10zM521.5 489.5l5 9.5h-10zM521.5 484.5l5 9.5h-10zM521.5 478.5l5 9.5h-10zM521.5 476.5l5 9.5h-10zM521.5 471.5l5 9.5h-10zM521.5 463.5l5 9.5h-10zM521.5 449.5l5 9.5h-10zM521.5 445.5l5 9.5h-10zM521.5 414.5l5 9.5h-10zM521.5 393.5l5 9.5h-10zM521.5 382.5l5 9.5h-10zM530.5 864.5l5 9.5h-10zM530.5 836.5l5 9.5h-10zM530.5 834.5l5 9.5h-10zM530.5 829.5l5 9.5h-10zM530.5 820.5l5 9.5h-10zM530.5 818.5l5 9.5h-10zM530.5 816.5l5 9.5h-10zM530.5 814.5l5 9.5h-10zM530.5 810.5l5 9.5h-10zM530.5 809.5l5 9.5h-10zM530.5 807.5l5 9.5h-10zM530.5 805.5l5 9.5h-10zM530.5 803.5l5 9.5h-10zM530.5 801.5l5 9.5h-10zM530.5 799.5l5 9.5h-10zM530.5 798.5l5 9.5h-10zM530.5 482.5l5 9.5h-10zM530.5 484.5l5 9.5h-10zM530.5 486.5l5 9.5h-10zM530.5 487.5l5 9.5h-10zM530.5 489.5l5 9.5h-10zM530.5 794.5l5 9.5h-10zM530.5 792.5l5 9.5h-10zM530.5 790.5l5 9.5h-10zM530.5 788.5l5 9.5h-10zM530.5 786.5l5 9.5h-10zM530.5 478.5l5 9.5h-10zM530.5 474.5l5 9.5h-10zM530.5 467.5l5 9.5h-10zM530.5 460.5l5 9.5h-10zM530.5 449.5l5 9.5h-10zM530.5 434.5l5 9.5h-10zM530.5 428.5l5 9.5h-10zM530.5 397.5l5 9.5h-10zM538.5 836.5l5 9.5h-10zM538.5 827.5l5 9.5h-10zM538.5 823.5l5 9.5h-10zM538.5 812.5l5 9.5h-10zM538.5 810.5l5 9.5h-10zM538.5 807.5l5 9.5h-10zM538.5 805.5l5 9.5h-10zM538.5 803.5l5 9.5h-10zM538.5 534.5l5 9.5h-10zM538.5 535.5l5 9.5h-10zM538.5 537.5l5 9.5h-10zM538.5 539.5l5 9.5h-10zM538.5 541.5l5 9.5h-10zM538.5 799.5l5 9.5h-10zM538.5 798.5l5 9.5h-10zM538.5 796.5l5 9.5h-10zM538.5 794.5l5 9.5h-10zM538.5 792.5l5 9.5h-10zM538.5 530.5l5 9.5h-10zM538.5 528.5l5 9.5h-10zM538.5 526.5l5 9.5h-10zM538.5 524.5l5 9.5h-10zM538.5 522.5l5 9.5h-10zM538.5 519.5l5 9.5h-10zM538.5 517.5l5 9.5h-10zM538.5 513.5l5 9.5h-10zM538.5 511.5l5 9.5h-10zM538.5 510.5l5 9.5h-10zM538.5 508.5l5 9.5h-10zM538.5 504.5l5 9.5h-10zM538.5 502.5l5 9.5h-10zM538.5 498.5l5 9.5h-10zM538.5 497.5l5 9.5h-10zM538.5 495.5l5 9.5h-10zM538.5 493.5l5 9.5h-10zM538.5 491.5l5 9.5h-10zM538.5 489.5l5 9.5h-10zM538.5 487.5l5 9.5h-10zM538.5 486.5l5 9.5h-10zM538.5 484.5l5 9.5h-10zM538.5 482.5l5 9.5h-10zM538.5 478.5l5 9.5h-10zM538.5 476.5l5 9.5h-10zM538.5 465.5l5 9.5h-10zM538.5 462.5l5 9.5h-10zM538.5 460.5l5 9.5h-10zM538.5 452.5l5 9.5h-10zM538.5 450.5l5 9.5h-10zM538.5 449.5l5 9.5h-10zM538.5 445.5l5 9.5h-10zM538.5 441.5l5 9.5h-10zM538.5 434.5l5 9.5h-10zM538.5 430.5l5 9.5h-10zM538.5 421.5l5 9.5h-10zM538.5 406.5l5 9.5h-10zM538.5 399.5l5 9.5h-10zM538.5 393.5l5 9.5h-10zM538.5 312.5l5 9.5h-10zM547.5 831.5l5 9.5h-10zM547.5 829.5l5 9.5h-10zM547.5 825.5l5 9.5h-10zM547.5 823.5l5 9.5h-10zM547.5 818.5l5 9.5h-10zM547.5 814.5l5 9.5h-10zM547.5 812.5l5 9.5h-10zM547.5 809.5l5 9.5h-10zM547.5 805.5l5 9.5h-10zM547.5 803.5l5 9.5h-10zM547.5 801.5l5 9.5h-10zM547.5 799.5l5 9.5h-10zM547.5 798.5l5 9.5h-10zM547.5 796.5l5 9.5h-10zM547.5 511.5l5 9.5h-10zM547.5 513.5l5 9.5h-10zM547.5 515.5l5 9.5h-10zM547.5 517.5l5 9.5h-10zM547.5 519.5l5 9.5h-10zM547.5 792.5l5 9.5h-10zM547.5 790.5l5 9.5h-10zM547.5 788.5l5 9.5h-10zM547.5 786.5l5 9.5h-10zM547.5 785.5l5 9.5h-10zM547.5 508.5l5 9.5h-10zM547.5 506.5l5 9.5h-10zM547.5 502.5l5 9.5h-10zM547.5 500.5l5 9.5h-10zM547.5 498.5l5 9.5h-10zM547.5 497.5l5 9.5h-10zM547.5 495.5l5 9.5h-10zM547.5 493.5l5 9.5h-10zM547.5 491.5l5 9.5h-10zM547.5 489.5l5 9.5h-10zM547.5 482.5l5 9.5h-10zM547.5 480.5l5 9.5h-10zM547.5 476.5l5 9.5h-10zM547.5 473.5l5 9.5h-10zM547.5 462.5l5 9.5h-10zM547.5 456.5l5 9.5h-10zM547.5 443.5l5 9.5h-10zM547.5 430.5l5 9.5h-10zM547.5 428.5l5 9.5h-10zM547.5 425.5l5 9.5h-10zM547.5 423.5l5 9.5h-10zM547.5 417.5l5 9.5h-10zM547.5 410.5l5 9.5h-10zM556.5 860.5l5 9.5h-10zM556.5 849.5l5 9.5h-10zM556.5 847.5l5 9.5h-10zM556.5 846.5l5 9.5h-10zM556.5 844.5l5 9.5h-10zM556.5 842.5l5 9.5h-10zM556.5 825.5l5 9.5h-10zM556.5 823.5l5 9.5h-10zM556.5 822.5l5 9.5h-10zM556.5 818.5l5 9.5h-10zM556.5 814.5l5 9.5h-10zM556.5 810.5l5 9.5h-10zM556.5 807.5l5 9.5h-10zM556.5 805.5l5 9.5h-10zM556.5 803.5l5 9.5h-10zM556.5 511.5l5 9.5h-10zM556.5 513.5l5 9.5h-10zM556.5 515.5l5 9.5h-10zM556.5 517.5l5 9.5h-10zM556.5 519.5l5 9.5h-10zM556.5 799.5l5 9.5h-10zM556.5 798.5l5 9.5h-10zM556.5 796.5l5 9.5h-10zM556.5 794.5l5 9.5h-10zM556.5 792.5l5 9.5h-10zM556.5 508.5l5 9.5h-10zM556.5 504.5l5 9.5h-10zM556.5 502.5l5 9.5h-10zM556.5 500.5l5 9.5h-10zM556.5 498.5l5 9.5h-10zM556.5 497.5l5 9.5h-10zM556.5 495.5l5 9.5h-10zM556.5 493.5l5 9.5h-10zM556.5 491.5l5 9.5h-10zM556.5 489.5l5 9.5h-10zM556.5 487.5l5 9.5h-10zM556.5 486.5l5 9.5h-10zM556.5 482.5l5 9.5h-10zM556.5 480.5l5 9.5h-10zM556.5 478.5l5 9.5h-10zM556.5 476.5l5 9.5h-10zM556.5 474.5l5 9.5h-10zM556.5 473.5l5 9.5h-10zM556.5 469.5l5 9.5h-10zM556.5 467.5l5 9.5h-10zM556.5 462.5l5 9.5h-10zM556.5 460.5l5 9.5h-10zM556.5 456.5l5 9.5h-10zM556.5 452.5l5 9.5h-10zM556.5 450.5l5 9.5h-10zM556.5 445.5l5 9.5h-10zM556.5 439.5l5 9.5h-10zM556.5 436.5l5 9.5h-10zM556.5 432.5l5 9.5h-10zM556.5 427.5l5 9.5h-10zM556.5 410.5l5 9.5h-10zM556.5 404.5l5 9.5h-10zM556.5 399.5l5 9.5h-10zM556.5 314.5l5 9.5h-10zM564.5 857.5l5 9.5h-10zM564.5 833.5l5 9.5h-10zM564.5 831.5l5 9.5h-10zM564.5 829.5l5 9.5h-10zM564.5 825.5l5 9.5h-10zM564.5 818.5l5 9.5h-10zM564.5 816.5l5 9.5h-10zM564.5 812.5l5 9.5h-10zM564.5 502.5l5 9.5h-10zM564.5 504.5l5 9.5h-10zM564.5 506.5l5 9.5h-10zM564.5 508.5l5 9.5h-10zM564.5 510.5l5 9.5h-10zM564.5 809.5l5 9.5h-10zM564.5 807.5l5 9.5h-10zM564.5 805.5l5 9.5h-10zM564.5 803.5l5 9.5h-10zM564.5 801.5l5 9.5h-10zM564.5 498.5l5 9.5h-10zM564.5 497.5l5 9.5h-10zM564.5 495.5l5 9.5h-10zM564.5 491.5l5 9.5h-10zM564.5 489.5l5 9.5h-10zM564.5 486.5l5 9.5h-10zM564.5 484.5l5 9.5h-10zM564.5 480.5l5 9.5h-10zM564.5 478.5l5 9.5h-10zM564.5 476.5l5 9.5h-10zM564.5 474.5l5 9.5h-10zM564.5 471.5l5 9.5h-10zM564.5 467.5l5 9.5h-10zM564.5 465.5l5 9.5h-10zM564.5 463.5l5 9.5h-10zM564.5 462.5l5 9.5h-10zM564.5 460.5l5 9.5h-10zM564.5 458.5l5 9.5h-10zM564.5 452.5l5 9.5h-10zM564.5 449.5l5 9.5h-10zM564.5 447.5l5 9.5h-10zM564.5 434.5l5 9.5h-10zM564.5 432.5l5 9.5h-10zM564.5 428.5l5 9.5h-10zM564.5 408.5l5 9.5h-10zM573.5 847.5l5 9.5h-10zM573.5 844.5l5 9.5h-10zM573.5 833.5l5 9.5h-10zM573.5 831.5l5 9.5h-10zM573.5 827.5l5 9.5h-10zM573.5 825.5l5 9.5h-10zM573.5 823.5l5 9.5h-10zM573.5 816.5l5 9.5h-10zM573.5 814.5l5 9.5h-10zM573.5 812.5l5 9.5h-10zM573.5 810.5l5 9.5h-10zM573.5 809.5l5 9.5h-10zM573.5 807.5l5 9.5h-10zM573.5 805.5l5 9.5h-10zM573.5 803.5l5 9.5h-10zM573.5 801.5l5 9.5h-10zM573.5 798.5l5 9.5h-10zM573.5 796.5l5 9.5h-10zM573.5 794.5l5 9.5h-10zM573.5 792.5l5 9.5h-10zM573.5 552.5l5 9.5h-10zM573.5 554.5l5 9.5h-10zM573.5 556.5l5 9.5h-10zM573.5 558.5l5 9.5h-10zM573.5 559.5l5 9.5h-10zM573.5 788.5l5 9.5h-10zM573.5 786.5l5 9.5h-10zM573.5 785.5l5 9.5h-10zM573.5 783.5l5 9.5h-10zM573.5 781.5l5 9.5h-10zM573.5 548.5l5 9.5h-10zM573.5 546.5l5 9.5h-10zM573.5 545.5l5 9.5h-10zM573.5 543.5l5 9.5h-10zM573.5 541.5l5 9.5h-10zM573.5 539.5l5 9.5h-10zM573.5 537.5l5 9.5h-10zM573.5 535.5l5 9.5h-10zM573.5 534.5l5 9.5h-10zM573.5 532.5l5 9.5h-10zM573.5 530.5l5 9.5h-10zM573.5 528.5l5 9.5h-10zM573.5 526.5l5 9.5h-10zM573.5 524.5l5 9.5h-10zM573.5 522.5l5 9.5h-10zM573.5 478.5l5 9.5h-10zM573.5 480.5l5 9.5h-10zM573.5 482.5l5 9.5h-10zM573.5 484.5l5 9.5h-10zM573.5 486.5l5 9.5h-10zM573.5 519.5l5 9.5h-10zM573.5 517.5l5 9.5h-10zM573.5 515.5l5 9.5h-10zM573.5 513.5l5 9.5h-10zM573.5 511.5l5 9.5h-10zM573.5 474.5l5 9.5h-10zM573.5 473.5l5 9.5h-10zM573.5 471.5l5 9.5h-10zM573.5 469.5l5 9.5h-10zM573.5 467.5l5 9.5h-10zM573.5 458.5l5 9.5h-10zM573.5 445.5l5 9.5h-10zM573.5 428.5l5 9.5h-10zM573.5 423.5l5 9.5h-10zM573.5 399.5l5 9.5h-10zM573.5 380.5l5 9.5h-10zM573.5 377.5l5 9.5h-10zM573.5 369.5l5 9.5h-10zM573.5 367.5l5 9.5h-10zM573.5 364.5l5 9.5h-10zM581.5 851.5l5 9.5h-10zM581.5 842.5l5 9.5h-10zM581.5 834.5l5 9.5h-10zM581.5 833.5l5 9.5h-10zM581.5 829.5l5 9.5h-10zM581.5 820.5l5 9.5h-10zM581.5 818.5l5 9.5h-10zM581.5 816.5l5 9.5h-10zM581.5 814.5l5 9.5h-10zM581.5 510.5l5 9.5h-10zM581.5 511.5l5 9.5h-10zM581.5 513.5l5 9.5h-10zM581.5 515.5l5 9.5h-10zM581.5 517.5l5 9.5h-10zM581.5 810.5l5 9.5h-10zM581.5 809.5l5 9.5h-10zM581.5 807.5l5 9.5h-10zM581.5 805.5l5 9.5h-10zM581.5 803.5l5 9.5h-10zM581.5 506.5l5 9.5h-10zM581.5 504.5l5 9.5h-10zM581.5 502.5l5 9.5h-10zM581.5 498.5l5 9.5h-10zM581.5 497.5l5 9.5h-10zM581.5 495.5l5 9.5h-10zM581.5 493.5l5 9.5h-10zM581.5 491.5l5 9.5h-10zM581.5 489.5l5 9.5h-10zM581.5 487.5l5 9.5h-10zM581.5 486.5l5 9.5h-10zM581.5 484.5l5 9.5h-10zM581.5 478.5l5 9.5h-10zM581.5 474.5l5 9.5h-10zM581.5 473.5l5 9.5h-10zM581.5 467.5l5 9.5h-10zM581.5 465.5l5 9.5h-10zM581.5 463.5l5 9.5h-10zM581.5 460.5l5 9.5h-10zM581.5 456.5l5 9.5h-10zM581.5 449.5l5 9.5h-10zM581.5 447.5l5 9.5h-10zM581.5 441.5l5 9.5h-10zM581.5 436.5l5 9.5h-10zM581.5 432.5l5 9.5h-10zM581.5 430.5l5 9.5h-10zM581.5 423.5l5 9.5h-10zM581.5 421.5l5 9.5h-10zM581.5 321.5l5 9.5h-10zM590.5 862.5l5 9.5h-10zM590.5 849.5l5 9.5h-10zM590.5 844.5l5 9.5h-10zM590.5 838.5l5 9.5h-10zM590.5 833.5l5 9.5h-10zM590.5 829.5l5 9.5h-10zM590.5 827.5l5 9.5h-10zM590.5 823.5l5 9.5h-10zM590.5 816.5l5 9.5h-10zM590.5 814.5l5 9.5h-10zM590.5 812.5l5 9.5h-10zM590.5 809.5l5 9.5h-10zM590.5 807.5l5 9.5h-10zM590.5 489.5l5 9.5h-10zM590.5 491.5l5 9.5h-10zM590.5 493.5l5 9.5h-10zM590.5 495.5l5 9.5h-10zM590.5 497.5l5 9.5h-10zM590.5 803.5l5 9.5h-10zM590.5 801.5l5 9.5h-10zM590.5 799.5l5 9.5h-10zM590.5 798.5l5 9.5h-10zM590.5 796.5l5 9.5h-10zM590.5 486.5l5 9.5h-10zM590.5 482.5l5 9.5h-10zM590.5 480.5l5 9.5h-10zM590.5 478.5l5 9.5h-10zM590.5 474.5l5 9.5h-10zM590.5 473.5l5 9.5h-10zM590.5 463.5l5 9.5h-10zM590.5 462.5l5 9.5h-10zM590.5 458.5l5 9.5h-10zM590.5 454.5l5 9.5h-10zM590.5 452.5l5 9.5h-10zM590.5 427.5l5 9.5h-10zM590.5 423.5l5 9.5h-10zM590.5 399.5l5 9.5h-10zM590.5 386.5l5 9.5h-10zM590.5 380.5l5 9.5h-10zM590.5 377.5l5 9.5h-10zM590.5 358.5l5 9.5h-10zM598.5 855.5l5 9.5h-10zM598.5 842.5l5 9.5h-10zM598.5 840.5l5 9.5h-10zM598.5 836.5l5 9.5h-10zM598.5 825.5l5 9.5h-10zM598.5 822.5l5 9.5h-10zM598.5 814.5l5 9.5h-10zM598.5 812.5l5 9.5h-10zM598.5 810.5l5 9.5h-10zM598.5 809.5l5 9.5h-10zM598.5 807.5l5 9.5h-10zM598.5 805.5l5 9.5h-10zM598.5 528.5l5 9.5h-10zM598.5 530.5l5 9.5h-10zM598.5 532.5l5 9.5h-10zM598.5 534.5l5 9.5h-10zM598.5 535.5l5 9.5h-10zM598.5 801.5l5 9.5h-10zM598.5 799.5l5 9.5h-10zM598.5 798.5l5 9.5h-10zM598.5 796.5l5 9.5h-10zM598.5 794.5l5 9.5h-10zM598.5 524.5l5 9.5h-10zM598.5 522.5l5 9.5h-10zM598.5 521.5l5 9.5h-10zM598.5 519.5l5 9.5h-10zM598.5 517.5l5 9.5h-10zM598.5 515.5l5 9.5h-10zM598.5 513.5l5 9.5h-10zM598.5 511.5l5 9.5h-10zM598.5 510.5l5 9.5h-10zM598.5 508.5l5 9.5h-10zM598.5 506.5l5 9.5h-10zM598.5 504.5l5 9.5h-10zM598.5 502.5l5 9.5h-10zM598.5 500.5l5 9.5h-10zM598.5 498.5l5 9.5h-10zM598.5 497.5l5 9.5h-10zM598.5 495.5l5 9.5h-10zM598.5 493.5l5 9.5h-10zM598.5 491.5l5 9.5h-10zM598.5 486.5l5 9.5h-10zM598.5 482.5l5 9.5h-10zM598.5 480.5l5 9.5h-10zM598.5 476.5l5 9.5h-10zM598.5 474.5l5 9.5h-10zM598.5 473.5l5 9.5h-10zM598.5 471.5l5 9.5h-10zM598.5 469.5l5 9.5h-10zM598.5 467.5l5 9.5h-10zM598.5 465.5l5 9.5h-10zM598.5 463.5l5 9.5h-10zM598.5 462.5l5 9.5h-10zM598.5 456.5l5 9.5h-10zM598.5 454.5l5 9.5h-10zM598.5 452.5l5 9.5h-10zM598.5 443.5l5 9.5h-10zM598.5 436.5l5 9.5h-10zM598.5 427.5l5 9.5h-10zM598.5 419.5l5 9.5h-10zM598.5 412.5l5 9.5h-10zM598.5 406.5l5 9.5h-10zM598.5 397.5l5 9.5h-10zM598.5 388.5l5 9.5h-10zM598.5 384.5l5 9.5h-10zM598.5 380.5l5 9.5h-10zM598.5 367.5l5 9.5h-10zM598.5 362.5l5 9.5h-10zM598.5 349.5l5 9.5h-10zM598.5 331.5l5 9.5h-10zM598.5 312.5l5 9.5h-10zM607.5 834.5l5 9.5h-10zM607.5 827.5l5 9.5h-10zM607.5 825.5l5 9.5h-10zM607.5 823.5l5 9.5h-10zM607.5 822.5l5 9.5h-10zM607.5 820.5l5 9.5h-10zM607.5 816.5l5 9.5h-10zM607.5 812.5l5 9.5h-10zM607.5 810.5l5 9.5h-10zM607.5 809.5l5 9.5h-10zM607.5 807.5l5 9.5h-10zM607.5 805.5l5 9.5h-10zM607.5 803.5l5 9.5h-10zM607.5 801.5l5 9.5h-10zM607.5 498.5l5 9.5h-10zM607.5 500.5l5 9.5h-10zM607.5 502.5l5 9.5h-10zM607.5 504.5l5 9.5h-10zM607.5 506.5l5 9.5h-10zM607.5 798.5l5 9.5h-10zM607.5 796.5l5 9.5h-10zM607.5 794.5l5 9.5h-10zM607.5 792.5l5 9.5h-10zM607.5 790.5l5 9.5h-10zM607.5 495.5l5 9.5h-10zM607.5 493.5l5 9.5h-10zM607.5 491.5l5 9.5h-10zM607.5 489.5l5 9.5h-10zM607.5 487.5l5 9.5h-10zM607.5 484.5l5 9.5h-10zM607.5 482.5l5 9.5h-10zM607.5 480.5l5 9.5h-10zM607.5 478.5l5 9.5h-10zM607.5 476.5l5 9.5h-10zM607.5 474.5l5 9.5h-10zM607.5 473.5l5 9.5h-10zM607.5 471.5l5 9.5h-10zM607.5 469.5l5 9.5h-10zM607.5 467.5l5 9.5h-10zM607.5 465.5l5 9.5h-10zM607.5 454.5l5 9.5h-10zM607.5 450.5l5 9.5h-10zM607.5 441.5l5 9.5h-10zM607.5 436.5l5 9.5h-10zM607.5 430.5l5 9.5h-10zM607.5 428.5l5 9.5h-10zM607.5 427.5l5 9.5h-10zM607.5 404.5l5 9.5h-10zM607.5 395.5l5 9.5h-10zM607.5 382.5l5 9.5h-10zM607.5 343.5l5 9.5h-10zM615.5 849.5l5 9.5h-10zM615.5 844.5l5 9.5h-10zM615.5 834.5l5 9.5h-10zM615.5 833.5l5 9.5h-10zM615.5 827.5l5 9.5h-10zM615.5 825.5l5 9.5h-10zM615.5 823.5l5 9.5h-10zM615.5 552.5l5 9.5h-10zM615.5 554.5l5 9.5h-10zM615.5 556.5l5 9.5h-10zM615.5 558.5l5 9.5h-10zM615.5 559.5l5 9.5h-10zM615.5 820.5l5 9.5h-10zM615.5 818.5l5 9.5h-10zM615.5 816.5l5 9.5h-10zM615.5 814.5l5 9.5h-10zM615.5 812.5l5 9.5h-10zM615.5 511.5l5 9.5h-10zM615.5 513.5l5 9.5h-10zM615.5 515.5l5 9.5h-10zM615.5 517.5l5 9.5h-10zM615.5 519.5l5 9.5h-10zM615.5 548.5l5 9.5h-10zM615.5 546.5l5 9.5h-10zM615.5 545.5l5 9.5h-10zM615.5 543.5l5 9.5h-10zM615.5 541.5l5 9.5h-10zM615.5 508.5l5 9.5h-10zM615.5 506.5l5 9.5h-10zM615.5 502.5l5 9.5h-10zM615.5 500.5l5 9.5h-10zM615.5 498.5l5 9.5h-10zM615.5 497.5l5 9.5h-10zM615.5 495.5l5 9.5h-10zM615.5 493.5l5 9.5h-10zM615.5 489.5l5 9.5h-10zM615.5 487.5l5 9.5h-10zM615.5 486.5l5 9.5h-10zM615.5 484.5l5 9.5h-10zM615.5 482.5l5 9.5h-10zM615.5 480.5l5 9.5h-10zM615.5 478.5l5 9.5h-10zM615.5 476.5l5 9.5h-10zM615.5 474.5l5 9.5h-10zM615.5 473.5l5 9.5h-10zM615.5 467.5l5 9.5h-10zM615.5 465.5l5 9.5h-10zM615.5 463.5l5 9.5h-10zM615.5 462.5l5 9.5h-10zM615.5 460.5l5 9.5h-10zM615.5 458.5l5 9.5h-10zM615.5 450.5l5 9.5h-10zM615.5 447.5l5 9.5h-10zM615.5 445.5l5 9.5h-10zM615.5 441.5l5 9.5h-10zM615.5 438.5l5 9.5h-10zM615.5 432.5l5 9.5h-10zM615.5 428.5l5 9.5h-10zM615.5 427.5l5 9.5h-10zM615.5 419.5l5 9.5h-10zM615.5 414.5l5 9.5h-10zM615.5 401.5l5 9.5h-10zM615.5 355.5l5 9.5h-10zM615.5 277.5l5 9.5h-10zM624.5 853.5l5 9.5h-10zM624.5 833.5l5 9.5h-10zM624.5 831.5l5 9.5h-10zM624.5 825.5l5 9.5h-10zM624.5 818.5l5 9.5h-10zM624.5 814.5l5 9.5h-10zM624.5 487.5l5 9.5h-10zM624.5 489.5l5 9.5h-10zM624.5 491.5l5 9.5h-10zM624.5 493.5l5 9.5h-10zM624.5 495.5l5 9.5h-10zM624.5 810.5l5 9.5h-10zM624.5 809.5l5 9.5h-10zM624.5 807.5l5 9.5h-10zM624.5 805.5l5 9.5h-10zM624.5 803.5l5 9.5h-10zM624.5 484.5l5 9.5h-10zM624.5 482.5l5 9.5h-10zM624.5 480.5l5 9.5h-10zM624.5 478.5l5 9.5h-10zM624.5 476.5l5 9.5h-10zM624.5 473.5l5 9.5h-10zM624.5 471.5l5 9.5h-10zM624.5 469.5l5 9.5h-10zM624.5 467.5l5 9.5h-10zM624.5 465.5l5 9.5h-10zM624.5 463.5l5 9.5h-10zM624.5 458.5l5 9.5h-10zM624.5 454.5l5 9.5h-10zM624.5 450.5l5 9.5h-10zM624.5 447.5l5 9.5h-10zM624.5 445.5l5 9.5h-10zM624.5 443.5l5 9.5h-10zM624.5 438.5l5 9.5h-10zM624.5 434.5l5 9.5h-10zM624.5 430.5l5 9.5h-10zM624.5 428.5l5 9.5h-10zM624.5 423.5l5 9.5h-10zM624.5 419.5l5 9.5h-10zM624.5 415.5l5 9.5h-10zM624.5 404.5l5 9.5h-10zM624.5 386.5l5 9.5h-10zM632.5 860.5l5 9.5h-10zM632.5 840.5l5 9.5h-10zM632.5 838.5l5 9.5h-10zM632.5 836.5l5 9.5h-10zM632.5 831.5l5 9.5h-10zM632.5 829.5l5 9.5h-10zM632.5 822.5l5 9.5h-10zM632.5 820.5l5 9.5h-10zM632.5 818.5l5 9.5h-10zM632.5 816.5l5 9.5h-10zM632.5 814.5l5 9.5h-10zM632.5 812.5l5 9.5h-10zM632.5 810.5l5 9.5h-10zM632.5 809.5l5 9.5h-10zM632.5 807.5l5 9.5h-10zM632.5 805.5l5 9.5h-10zM632.5 803.5l5 9.5h-10zM632.5 801.5l5 9.5h-10zM632.5 799.5l5 9.5h-10zM632.5 506.5l5 9.5h-10zM632.5 508.5l5 9.5h-10zM632.5 510.5l5 9.5h-10zM632.5 511.5l5 9.5h-10zM632.5 513.5l5 9.5h-10zM632.5 796.5l5 9.5h-10zM632.5 794.5l5 9.5h-10zM632.5 792.5l5 9.5h-10zM632.5 790.5l5 9.5h-10zM632.5 788.5l5 9.5h-10zM632.5 502.5l5 9.5h-10zM632.5 500.5l5 9.5h-10zM632.5 498.5l5 9.5h-10zM632.5 497.5l5 9.5h-10zM632.5 495.5l5 9.5h-10zM632.5 493.5l5 9.5h-10zM632.5 491.5l5 9.5h-10zM632.5 489.5l5 9.5h-10zM632.5 487.5l5 9.5h-10zM632.5 486.5l5 9.5h-10zM632.5 484.5l5 9.5h-10zM632.5 480.5l5 9.5h-10zM632.5 478.5l5 9.5h-10zM632.5 474.5l5 9.5h-10zM632.5 473.5l5 9.5h-10zM632.5 471.5l5 9.5h-10zM632.5 469.5l5 9.5h-10zM632.5 465.5l5 9.5h-10zM632.5 462.5l5 9.5h-10zM632.5 460.5l5 9.5h-10zM632.5 458.5l5 9.5h-10zM632.5 456.5l5 9.5h-10zM632.5 452.5l5 9.5h-10zM632.5 450.5l5 9.5h-10zM632.5 449.5l5 9.5h-10zM632.5 443.5l5 9.5h-10zM632.5 441.5l5 9.5h-10zM632.5 434.5l5 9.5h-10zM632.5 428.5l5 9.5h-10zM632.5 427.5l5 9.5h-10zM632.5 425.5l5 9.5h-10zM632.5 414.5l5 9.5h-10zM632.5 412.5l5 9.5h-10zM632.5 410.5l5 9.5h-10zM632.5 404.5l5 9.5h-10zM632.5 403.5l5 9.5h-10zM632.5 331.5l5 9.5h-10zM641.5 842.5l5 9.5h-10zM641.5 834.5l5 9.5h-10zM641.5 833.5l5 9.5h-10zM641.5 831.5l5 9.5h-10zM641.5 829.5l5 9.5h-10zM641.5 825.5l5 9.5h-10zM641.5 823.5l5 9.5h-10zM641.5 822.5l5 9.5h-10zM641.5 816.5l5 9.5h-10zM641.5 814.5l5 9.5h-10zM641.5 812.5l5 9.5h-10zM641.5 810.5l5 9.5h-10zM641.5 809.5l5 9.5h-10zM641.5 807.5l5 9.5h-10zM641.5 805.5l5 9.5h-10zM641.5 803.5l5 9.5h-10zM641.5 801.5l5 9.5h-10zM641.5 799.5l5 9.5h-10zM641.5 798.5l5 9.5h-10zM641.5 521.5l5 9.5h-10zM641.5 522.5l5 9.5h-10zM641.5 524.5l5 9.5h-10zM641.5 526.5l5 9.5h-10zM641.5 528.5l5 9.5h-10zM641.5 794.5l5 9.5h-10zM641.5 792.5l5 9.5h-10zM641.5 790.5l5 9.5h-10zM641.5 788.5l5 9.5h-10zM641.5 786.5l5 9.5h-10zM641.5 517.5l5 9.5h-10zM641.5 515.5l5 9.5h-10zM641.5 513.5l5 9.5h-10zM641.5 511.5l5 9.5h-10zM641.5 510.5l5 9.5h-10zM641.5 508.5l5 9.5h-10zM641.5 506.5l5 9.5h-10zM641.5 502.5l5 9.5h-10zM641.5 500.5l5 9.5h-10zM641.5 498.5l5 9.5h-10zM641.5 497.5l5 9.5h-10zM641.5 495.5l5 9.5h-10zM641.5 493.5l5 9.5h-10zM641.5 491.5l5 9.5h-10zM641.5 489.5l5 9.5h-10zM641.5 487.5l5 9.5h-10zM641.5 486.5l5 9.5h-10zM641.5 484.5l5 9.5h-10zM641.5 482.5l5 9.5h-10zM641.5 480.5l5 9.5h-10zM641.5 478.5l5 9.5h-10zM641.5 474.5l5 9.5h-10zM641.5 473.5l5 9.5h-10zM641.5 471.5l5 9.5h-10zM641.5 469.5l5 9.5h-10zM641.5 467.5l5 9.5h-10zM641.5 465.5l5 9.5h-10zM641.5 463.5l5 9.5h-10zM641.5 462.5l5 9.5h-10zM641.5 460.5l5 9.5h-10zM641.5 456.5l5 9.5h-10zM641.5 454.5l5 9.5h-10zM641.5 452.5l5 9.5h-10zM641.5 450.5l5 9.5h-10zM641.5 447.5l5 9.5h-10zM641.5 443.5l5 9.5h-10zM641.5 439.5l5 9.5h-10zM641.5 438.5l5 9.5h-10zM641.5 436.5l5 9.5h-10zM641.5 432.5l5 9.5h-10zM641.5 428.5l5 9.5h-10zM641.5 419.5l5 9.5h-10zM641.5 412.5l5 9.5h-10zM641.5 406.5l5 9.5h-10zM641.5 391.5l5 9.5h-10zM641.5 362.5l5 9.5h-10zM641.5 349.5l5 9.5h-10zM650.5 849.5l5 9.5h-10zM650.5 842.5l5 9.5h-10zM650.5 840.5l5 9.5h-10zM650.5 827.5l5 9.5h-10zM650.5 823.5l5 9.5h-10zM650.5 822.5l5 9.5h-10zM650.5 816.5l5 9.5h-10zM650.5 814.5l5 9.5h-10zM650.5 812.5l5 9.5h-10zM650.5 810.5l5 9.5h-10zM650.5 807.5l5 9.5h-10zM650.5 805.5l5 9.5h-10zM650.5 803.5l5 9.5h-10zM650.5 508.5l5 9.5h-10zM650.5 510.5l5 9.5h-10zM650.5 511.5l5 9.5h-10zM650.5 513.5l5 9.5h-10zM650.5 515.5l5 9.5h-10zM650.5 799.5l5 9.5h-10zM650.5 798.5l5 9.5h-10zM650.5 796.5l5 9.5h-10zM650.5 794.5l5 9.5h-10zM650.5 792.5l5 9.5h-10zM650.5 504.5l5 9.5h-10zM650.5 502.5l5 9.5h-10zM650.5 500.5l5 9.5h-10zM650.5 498.5l5 9.5h-10zM650.5 497.5l5 9.5h-10zM650.5 495.5l5 9.5h-10zM650.5 493.5l5 9.5h-10zM650.5 491.5l5 9.5h-10zM650.5 489.5l5 9.5h-10zM650.5 487.5l5 9.5h-10zM650.5 486.5l5 9.5h-10zM650.5 484.5l5 9.5h-10zM650.5 482.5l5 9.5h-10zM650.5 480.5l5 9.5h-10zM650.5 478.5l5 9.5h-10zM650.5 476.5l5 9.5h-10zM650.5 469.5l5 9.5h-10zM650.5 462.5l5 9.5h-10zM650.5 460.5l5 9.5h-10zM650.5 458.5l5 9.5h-10zM650.5 456.5l5 9.5h-10zM650.5 454.5l5 9.5h-10zM650.5 452.5l5 9.5h-10zM650.5 445.5l5 9.5h-10zM650.5 441.5l5 9.5h-10zM650.5 439.5l5 9.5h-10zM650.5 438.5l5 9.5h-10zM650.5 430.5l5 9.5h-10zM650.5 428.5l5 9.5h-10zM650.5 427.5l5 9.5h-10zM650.5 423.5l5 9.5h-10zM650.5 421.5l5 9.5h-10zM650.5 419.5l5 9.5h-10zM650.5 415.5l5 9.5h-10zM650.5 414.5l5 9.5h-10zM650.5 412.5l5 9.5h-10zM650.5 399.5l5 9.5h-10zM650.5 395.5l5 9.5h-10zM650.5 390.5l5 9.5h-10zM650.5 318.5l5 9.5h-10zM658.5 860.5l5 9.5h-10zM658.5 846.5l5 9.5h-10zM658.5 834.5l5 9.5h-10zM658.5 829.5l5 9.5h-10zM658.5 827.5l5 9.5h-10zM658.5 822.5l5 9.5h-10zM658.5 820.5l5 9.5h-10zM658.5 818.5l5 9.5h-10zM658.5 816.5l5 9.5h-10zM658.5 814.5l5 9.5h-10zM658.5 810.5l5 9.5h-10zM658.5 807.5l5 9.5h-10zM658.5 502.5l5 9.5h-10zM658.5 504.5l5 9.5h-10zM658.5 506.5l5 9.5h-10zM658.5 508.5l5 9.5h-10zM658.5 510.5l5 9.5h-10zM658.5 803.5l5 9.5h-10zM658.5 801.5l5 9.5h-10zM658.5 799.5l5 9.5h-10zM658.5 798.5l5 9.5h-10zM658.5 796.5l5 9.5h-10zM658.5 498.5l5 9.5h-10zM658.5 497.5l5 9.5h-10zM658.5 495.5l5 9.5h-10zM658.5 493.5l5 9.5h-10zM658.5 491.5l5 9.5h-10zM658.5 489.5l5 9.5h-10zM658.5 487.5l5 9.5h-10zM658.5 486.5l5 9.5h-10zM658.5 484.5l5 9.5h-10zM658.5 482.5l5 9.5h-10zM658.5 480.5l5 9.5h-10zM658.5 476.5l5 9.5h-10zM658.5 474.5l5 9.5h-10zM658.5 473.5l5 9.5h-10zM658.5 471.5l5 9.5h-10zM658.5 469.5l5 9.5h-10zM658.5 467.5l5 9.5h-10zM658.5 463.5l5 9.5h-10zM658.5 460.5l5 9.5h-10zM658.5 458.5l5 9.5h-10zM658.5 452.5l5 9.5h-10zM658.5 450.5l5 9.5h-10zM658.5 447.5l5 9.5h-10zM658.5 445.5l5 9.5h-10zM658.5 434.5l5 9.5h-10zM658.5 432.5l5 9.5h-10zM658.5 430.5l5 9.5h-10zM658.5 428.5l5 9.5h-10zM658.5 427.5l5 9.5h-10zM658.5 421.5l5 9.5h-10zM658.5 415.5l5 9.5h-10zM658.5 414.5l5 9.5h-10zM658.5 410.5l5 9.5h-10zM658.5 408.5l5 9.5h-10zM658.5 401.5l5 9.5h-10zM658.5 393.5l5 9.5h-10zM658.5 373.5l5 9.5h-10zM658.5 347.5l5 9.5h-10zM658.5 331.5l5 9.5h-10zM667.5 847.5l5 9.5h-10zM667.5 840.5l5 9.5h-10zM667.5 829.5l5 9.5h-10zM667.5 823.5l5 9.5h-10zM667.5 822.5l5 9.5h-10zM667.5 820.5l5 9.5h-10zM667.5 818.5l5 9.5h-10zM667.5 816.5l5 9.5h-10zM667.5 812.5l5 9.5h-10zM667.5 810.5l5 9.5h-10zM667.5 510.5l5 9.5h-10zM667.5 511.5l5 9.5h-10zM667.5 513.5l5 9.5h-10zM667.5 515.5l5 9.5h-10zM667.5 517.5l5 9.5h-10zM667.5 807.5l5 9.5h-10zM667.5 805.5l5 9.5h-10zM667.5 803.5l5 9.5h-10zM667.5 801.5l5 9.5h-10zM667.5 799.5l5 9.5h-10zM667.5 463.5l5 9.5h-10zM667.5 465.5l5 9.5h-10zM667.5 467.5l5 9.5h-10zM667.5 469.5l5 9.5h-10zM667.5 471.5l5 9.5h-10zM667.5 506.5l5 9.5h-10zM667.5 504.5l5 9.5h-10zM667.5 502.5l5 9.5h-10zM667.5 500.5l5 9.5h-10zM667.5 498.5l5 9.5h-10zM667.5 458.5l5 9.5h-10zM667.5 456.5l5 9.5h-10zM667.5 454.5l5 9.5h-10zM667.5 452.5l5 9.5h-10zM667.5 450.5l5 9.5h-10zM667.5 449.5l5 9.5h-10zM667.5 445.5l5 9.5h-10zM667.5 443.5l5 9.5h-10zM667.5 432.5l5 9.5h-10zM667.5 428.5l5 9.5h-10zM667.5 419.5l5 9.5h-10zM667.5 412.5l5 9.5h-10zM667.5 401.5l5 9.5h-10zM667.5 397.5l5 9.5h-10zM667.5 391.5l5 9.5h-10zM675.5 851.5l5 9.5h-10zM675.5 849.5l5 9.5h-10zM675.5 842.5l5 9.5h-10zM675.5 836.5l5 9.5h-10zM675.5 831.5l5 9.5h-10zM675.5 829.5l5 9.5h-10zM675.5 823.5l5 9.5h-10zM675.5 822.5l5 9.5h-10zM675.5 456.5l5 9.5h-10zM675.5 458.5l5 9.5h-10zM675.5 460.5l5 9.5h-10zM675.5 462.5l5 9.5h-10zM675.5 463.5l5 9.5h-10zM675.5 814.5l5 9.5h-10zM675.5 812.5l5 9.5h-10zM675.5 810.5l5 9.5h-10zM675.5 809.5l5 9.5h-10zM675.5 807.5l5 9.5h-10zM675.5 452.5l5 9.5h-10zM675.5 449.5l5 9.5h-10zM675.5 443.5l5 9.5h-10zM675.5 441.5l5 9.5h-10zM675.5 438.5l5 9.5h-10zM675.5 430.5l5 9.5h-10zM675.5 427.5l5 9.5h-10zM675.5 421.5l5 9.5h-10zM675.5 410.5l5 9.5h-10zM675.5 397.5l5 9.5h-10zM675.5 379.5l5 9.5h-10zM675.5 375.5l5 9.5h-10zM684.5 849.5l5 9.5h-10zM684.5 842.5l5 9.5h-10zM684.5 831.5l5 9.5h-10zM684.5 829.5l5 9.5h-10zM684.5 827.5l5 9.5h-10zM684.5 822.5l5 9.5h-10zM684.5 820.5l5 9.5h-10zM684.5 818.5l5 9.5h-10zM684.5 816.5l5 9.5h-10zM684.5 814.5l5 9.5h-10zM684.5 812.5l5 9.5h-10zM684.5 810.5l5 9.5h-10zM684.5 809.5l5 9.5h-10zM684.5 807.5l5 9.5h-10zM684.5 805.5l5 9.5h-10zM684.5 803.5l5 9.5h-10zM684.5 801.5l5 9.5h-10zM684.5 799.5l5 9.5h-10zM684.5 798.5l5 9.5h-10zM684.5 796.5l5 9.5h-10zM684.5 493.5l5 9.5h-10zM684.5 495.5l5 9.5h-10zM684.5 497.5l5 9.5h-10zM684.5 498.5l5 9.5h-10zM684.5 500.5l5 9.5h-10zM684.5 792.5l5 9.5h-10zM684.5 790.5l5 9.5h-10zM684.5 788.5l5 9.5h-10zM684.5 786.5l5 9.5h-10zM684.5 785.5l5 9.5h-10zM684.5 489.5l5 9.5h-10zM684.5 487.5l5 9.5h-10zM684.5 486.5l5 9.5h-10zM684.5 484.5l5 9.5h-10zM684.5 482.5l5 9.5h-10zM684.5 480.5l5 9.5h-10zM684.5 478.5l5 9.5h-10zM684.5 476.5l5 9.5h-10zM684.5 474.5l5 9.5h-10zM684.5 473.5l5 9.5h-10zM684.5 467.5l5 9.5h-10zM684.5 465.5l5 9.5h-10zM684.5 463.5l5 9.5h-10zM684.5 462.5l5 9.5h-10zM684.5 456.5l5 9.5h-10zM684.5 454.5l5 9.5h-10zM684.5 450.5l5 9.5h-10zM684.5 449.5l5 9.5h-10zM684.5 445.5l5 9.5h-10zM684.5 439.5l5 9.5h-10zM684.5 436.5l5 9.5h-10zM684.5 390.5l5 9.5h-10zM684.5 371.5l5 9.5h-10zM684.5 362.5l5 9.5h-10zM684.5 342.5l5 9.5h-10zM684.5 338.5l5 9.5h-10zM692.5 844.5l5 9.5h-10zM692.5 842.5l5 9.5h-10zM692.5 838.5l5 9.5h-10zM692.5 829.5l5 9.5h-10zM692.5 823.5l5 9.5h-10zM692.5 822.5l5 9.5h-10zM692.5 820.5l5 9.5h-10zM692.5 818.5l5 9.5h-10zM692.5 812.5l5 9.5h-10zM692.5 809.5l5 9.5h-10zM692.5 807.5l5 9.5h-10zM692.5 805.5l5 9.5h-10zM692.5 469.5l5 9.5h-10zM692.5 471.5l5 9.5h-10zM692.5 473.5l5 9.5h-10zM692.5 474.5l5 9.5h-10zM692.5 476.5l5 9.5h-10zM692.5 801.5l5 9.5h-10zM692.5 799.5l5 9.5h-10zM692.5 798.5l5 9.5h-10zM692.5 796.5l5 9.5h-10zM692.5 794.5l5 9.5h-10zM692.5 462.5l5 9.5h-10zM692.5 460.5l5 9.5h-10zM692.5 458.5l5 9.5h-10zM692.5 456.5l5 9.5h-10zM692.5 454.5l5 9.5h-10zM692.5 452.5l5 9.5h-10zM692.5 450.5l5 9.5h-10zM692.5 449.5l5 9.5h-10zM692.5 443.5l5 9.5h-10zM692.5 436.5l5 9.5h-10zM692.5 428.5l5 9.5h-10zM692.5 421.5l5 9.5h-10zM692.5 415.5l5 9.5h-10zM692.5 408.5l5 9.5h-10zM692.5 395.5l5 9.5h-10zM692.5 393.5l5 9.5h-10zM692.5 260.5l5 9.5h-10zM701.5 855.5l5 9.5h-10zM701.5 849.5l5 9.5h-10zM701.5 838.5l5 9.5h-10zM701.5 834.5l5 9.5h-10zM701.5 489.5l5 9.5h-10zM701.5 491.5l5 9.5h-10zM701.5 493.5l5 9.5h-10zM701.5 495.5l5 9.5h-10zM701.5 497.5l5 9.5h-10zM701.5 823.5l5 9.5h-10zM701.5 822.5l5 9.5h-10zM701.5 820.5l5 9.5h-10zM701.5 818.5l5 9.5h-10zM701.5 816.5l5 9.5h-10zM701.5 486.5l5 9.5h-10zM701.5 484.5l5 9.5h-10zM701.5 482.5l5 9.5h-10zM701.5 480.5l5 9.5h-10zM701.5 478.5l5 9.5h-10zM701.5 476.5l5 9.5h-10zM701.5 474.5l5 9.5h-10zM701.5 473.5l5 9.5h-10zM701.5 471.5l5 9.5h-10zM701.5 469.5l5 9.5h-10zM701.5 465.5l5 9.5h-10zM701.5 463.5l5 9.5h-10zM701.5 460.5l5 9.5h-10zM701.5 458.5l5 9.5h-10zM701.5 454.5l5 9.5h-10zM701.5 452.5l5 9.5h-10zM701.5 450.5l5 9.5h-10zM701.5 449.5l5 9.5h-10zM701.5 438.5l5 9.5h-10zM701.5 434.5l5 9.5h-10zM701.5 432.5l5 9.5h-10zM701.5 425.5l5 9.5h-10zM701.5 423.5l5 9.5h-10zM701.5 417.5l5 9.5h-10zM701.5 415.5l5 9.5h-10zM701.5 393.5l5 9.5h-10zM701.5 386.5l5 9.5h-10zM701.5 347.5l5 9.5h-10zM701.5 343.5l5 9.5h-10zM709.5 829.5l5 9.5h-10zM709.5 825.5l5 9.5h-10zM709.5 823.5l5 9.5h-10zM709.5 822.5l5 9.5h-10zM709.5 818.5l5 9.5h-10zM709.5 816.5l5 9.5h-10zM709.5 814.5l5 9.5h-10zM709.5 812.5l5 9.5h-10zM709.5 810.5l5 9.5h-10zM709.5 809.5l5 9.5h-10zM709.5 807.5l5 9.5h-10zM709.5 805.5l5 9.5h-10zM709.5 803.5l5 9.5h-10zM709.5 801.5l5 9.5h-10zM709.5 799.5l5 9.5h-10zM709.5 798.5l5 9.5h-10zM709.5 796.5l5 9.5h-10zM709.5 794.5l5 9.5h-10zM709.5 792.5l5 9.5h-10zM709.5 790.5l5 9.5h-10zM709.5 788.5l5 9.5h-10zM709.5 786.5l5 9.5h-10zM709.5 469.5l5 9.5h-10zM709.5 471.5l5 9.5h-10zM709.5 473.5l5 9.5h-10zM709.5 474.5l5 9.5h-10zM709.5 476.5l5 9.5h-10zM709.5 783.5l5 9.5h-10zM709.5 781.5l5 9.5h-10zM709.5 779.5l5 9.5h-10zM709.5 777.5l5 9.5h-10zM709.5 775.5l5 9.5h-10zM709.5 463.5l5 9.5h-10zM709.5 462.5l5 9.5h-10zM709.5 460.5l5 9.5h-10zM709.5 458.5l5 9.5h-10zM709.5 454.5l5 9.5h-10zM709.5 452.5l5 9.5h-10zM709.5 450.5l5 9.5h-10zM709.5 449.5l5 9.5h-10zM709.5 447.5l5 9.5h-10zM709.5 443.5l5 9.5h-10zM709.5 441.5l5 9.5h-10zM709.5 439.5l5 9.5h-10zM709.5 436.5l5 9.5h-10zM709.5 432.5l5 9.5h-10zM709.5 430.5l5 9.5h-10zM709.5 414.5l5 9.5h-10zM709.5 390.5l5 9.5h-10zM718.5 846.5l5 9.5h-10zM718.5 840.5l5 9.5h-10zM718.5 836.5l5 9.5h-10zM718.5 833.5l5 9.5h-10zM718.5 831.5l5 9.5h-10zM718.5 829.5l5 9.5h-10zM718.5 822.5l5 9.5h-10zM718.5 820.5l5 9.5h-10zM718.5 818.5l5 9.5h-10zM718.5 816.5l5 9.5h-10zM718.5 814.5l5 9.5h-10zM718.5 812.5l5 9.5h-10zM718.5 810.5l5 9.5h-10zM718.5 515.5l5 9.5h-10zM718.5 517.5l5 9.5h-10zM718.5 519.5l5 9.5h-10zM718.5 521.5l5 9.5h-10zM718.5 522.5l5 9.5h-10zM718.5 807.5l5 9.5h-10zM718.5 805.5l5 9.5h-10zM718.5 803.5l5 9.5h-10zM718.5 801.5l5 9.5h-10zM718.5 799.5l5 9.5h-10zM718.5 511.5l5 9.5h-10zM718.5 510.5l5 9.5h-10zM718.5 506.5l5 9.5h-10zM718.5 504.5l5 9.5h-10zM718.5 502.5l5 9.5h-10zM718.5 500.5l5 9.5h-10zM718.5 498.5l5 9.5h-10zM718.5 497.5l5 9.5h-10zM718.5 495.5l5 9.5h-10zM718.5 493.5l5 9.5h-10zM718.5 491.5l5 9.5h-10zM718.5 489.5l5 9.5h-10zM718.5 487.5l5 9.5h-10zM718.5 486.5l5 9.5h-10zM718.5 482.5l5 9.5h-10zM718.5 480.5l5 9.5h-10zM718.5 478.5l5 9.5h-10zM718.5 476.5l5 9.5h-10zM718.5 474.5l5 9.5h-10zM718.5 471.5l5 9.5h-10zM718.5 469.5l5 9.5h-10zM718.5 467.5l5 9.5h-10zM718.5 463.5l5 9.5h-10zM718.5 462.5l5 9.5h-10zM718.5 460.5l5 9.5h-10zM718.5 458.5l5 9.5h-10zM718.5 454.5l5 9.5h-10zM718.5 452.5l5 9.5h-10zM718.5 449.5l5 9.5h-10zM718.5 447.5l5 9.5h-10zM718.5 445.5l5 9.5h-10zM718.5 439.5l5 9.5h-10zM718.5 438.5l5 9.5h-10zM718.5 436.5l5 9.5h-10zM718.5 434.5l5 9.5h-10zM718.5 428.5l5 9.5h-10zM718.5 425.5l5 9.5h-10zM718.5 423.5l5 9.5h-10zM718.5 414.5l5 9.5h-10zM718.5 412.5l5 9.5h-10zM718.5 408.5l5 9.5h-10zM718.5 403.5l5 9.5h-10zM718.5 379.5l5 9.5h-10zM718.5 367.5l5 9.5h-10zM718.5 358.5l5 9.5h-10zM718.5 342.5l5 9.5h-10zM727.5 844.5l5 9.5h-10zM727.5 836.5l5 9.5h-10zM727.5 831.5l5 9.5h-10zM727.5 827.5l5 9.5h-10zM727.5 825.5l5 9.5h-10zM727.5 822.5l5 9.5h-10zM727.5 469.5l5 9.5h-10zM727.5 471.5l5 9.5h-10zM727.5 473.5l5 9.5h-10zM727.5 474.5l5 9.5h-10zM727.5 476.5l5 9.5h-10zM727.5 818.5l5 9.5h-10zM727.5 816.5l5 9.5h-10zM727.5 814.5l5 9.5h-10zM727.5 812.5l5 9.5h-10zM727.5 810.5l5 9.5h-10zM727.5 465.5l5 9.5h-10zM727.5 460.5l5 9.5h-10zM727.5 456.5l5 9.5h-10zM727.5 454.5l5 9.5h-10zM727.5 452.5l5 9.5h-10zM727.5 449.5l5 9.5h-10zM727.5 447.5l5 9.5h-10zM727.5 445.5l5 9.5h-10zM727.5 441.5l5 9.5h-10zM727.5 436.5l5 9.5h-10zM727.5 434.5l5 9.5h-10zM727.5 423.5l5 9.5h-10zM727.5 412.5l5 9.5h-10zM727.5 399.5l5 9.5h-10zM727.5 397.5l5 9.5h-10zM727.5 391.5l5 9.5h-10zM727.5 386.5l5 9.5h-10zM727.5 375.5l5 9.5h-10zM727.5 345.5l5 9.5h-10zM727.5 338.5l5 9.5h-10zM735.5 858.5l5 9.5h-10zM735.5 853.5l5 9.5h-10zM735.5 844.5l5 9.5h-10zM735.5 840.5l5 9.5h-10zM735.5 836.5l5 9.5h-10zM735.5 831.5l5 9.5h-10zM735.5 829.5l5 9.5h-10zM735.5 827.5l5 9.5h-10zM735.5 825.5l5 9.5h-10zM735.5 823.5l5 9.5h-10zM735.5 822.5l5 9.5h-10zM735.5 820.5l5 9.5h-10zM735.5 818.5l5 9.5h-10zM735.5 816.5l5 9.5h-10zM735.5 814.5l5 9.5h-10zM735.5 473.5l5 9.5h-10zM735.5 474.5l5 9.5h-10zM735.5 476.5l5 9.5h-10zM735.5 478.5l5 9.5h-10zM735.5 480.5l5 9.5h-10zM735.5 810.5l5 9.5h-10zM735.5 809.5l5 9.5h-10zM735.5 807.5l5 9.5h-10zM735.5 805.5l5 9.5h-10zM735.5 803.5l5 9.5h-10zM735.5 469.5l5 9.5h-10zM735.5 467.5l5 9.5h-10zM735.5 465.5l5 9.5h-10zM735.5 463.5l5 9.5h-10zM735.5 462.5l5 9.5h-10zM735.5 460.5l5 9.5h-10zM735.5 458.5l5 9.5h-10zM735.5 454.5l5 9.5h-10zM735.5 450.5l5 9.5h-10zM735.5 449.5l5 9.5h-10zM735.5 441.5l5 9.5h-10zM735.5 439.5l5 9.5h-10zM735.5 432.5l5 9.5h-10zM735.5 427.5l5 9.5h-10zM735.5 421.5l5 9.5h-10zM735.5 419.5l5 9.5h-10zM735.5 417.5l5 9.5h-10zM735.5 414.5l5 9.5h-10zM735.5 399.5l5 9.5h-10zM735.5 377.5l5 9.5h-10zM744.5 853.5l5 9.5h-10zM744.5 847.5l5 9.5h-10zM744.5 844.5l5 9.5h-10zM744.5 838.5l5 9.5h-10zM744.5 833.5l5 9.5h-10zM744.5 829.5l5 9.5h-10zM744.5 827.5l5 9.5h-10zM744.5 825.5l5 9.5h-10zM744.5 822.5l5 9.5h-10zM744.5 820.5l5 9.5h-10zM744.5 818.5l5 9.5h-10zM744.5 816.5l5 9.5h-10zM744.5 814.5l5 9.5h-10zM744.5 809.5l5 9.5h-10zM744.5 807.5l5 9.5h-10zM744.5 456.5l5 9.5h-10zM744.5 458.5l5 9.5h-10zM744.5 460.5l5 9.5h-10zM744.5 462.5l5 9.5h-10zM744.5 463.5l5 9.5h-10zM744.5 803.5l5 9.5h-10zM744.5 801.5l5 9.5h-10zM744.5 799.5l5 9.5h-10zM744.5 798.5l5 9.5h-10zM744.5 796.5l5 9.5h-10zM744.5 450.5l5 9.5h-10zM744.5 449.5l5 9.5h-10zM744.5 447.5l5 9.5h-10zM744.5 443.5l5 9.5h-10zM744.5 441.5l5 9.5h-10zM744.5 438.5l5 9.5h-10zM744.5 434.5l5 9.5h-10zM744.5 430.5l5 9.5h-10zM744.5 428.5l5 9.5h-10zM744.5 421.5l5 9.5h-10zM744.5 406.5l5 9.5h-10zM744.5 384.5l5 9.5h-10zM744.5 382.5l5 9.5h-10zM744.5 369.5l5 9.5h-10zM744.5 367.5l5 9.5h-10zM752.5 851.5l5 9.5h-10zM752.5 847.5l5 9.5h-10zM752.5 842.5l5 9.5h-10zM752.5 838.5l5 9.5h-10zM752.5 491.5l5 9.5h-10zM752.5 493.5l5 9.5h-10zM752.5 495.5l5 9.5h-10zM752.5 497.5l5 9.5h-10zM752.5 498.5l5 9.5h-10zM752.5 834.5l5 9.5h-10zM752.5 833.5l5 9.5h-10zM752.5 831.5l5 9.5h-10zM752.5 829.5l5 9.5h-10zM752.5 827.5l5 9.5h-10zM752.5 487.5l5 9.5h-10zM752.5 486.5l5 9.5h-10zM752.5 484.5l5 9.5h-10zM752.5 482.5l5 9.5h-10zM752.5 480.5l5 9.5h-10zM752.5 478.5l5 9.5h-10zM752.5 476.5l5 9.5h-10zM752.5 474.5l5 9.5h-10zM752.5 473.5l5 9.5h-10zM752.5 469.5l5 9.5h-10zM752.5 467.5l5 9.5h-10zM752.5 465.5l5 9.5h-10zM752.5 462.5l5 9.5h-10zM752.5 460.5l5 9.5h-10zM752.5 458.5l5 9.5h-10zM752.5 456.5l5 9.5h-10zM752.5 450.5l5 9.5h-10zM752.5 449.5l5 9.5h-10zM752.5 447.5l5 9.5h-10zM752.5 439.5l5 9.5h-10zM752.5 436.5l5 9.5h-10zM752.5 430.5l5 9.5h-10zM752.5 425.5l5 9.5h-10zM752.5 423.5l5 9.5h-10zM752.5 419.5l5 9.5h-10zM752.5 417.5l5 9.5h-10zM752.5 414.5l5 9.5h-10zM752.5 388.5l5 9.5h-10zM761.5 846.5l5 9.5h-10zM761.5 844.5l5 9.5h-10zM761.5 836.5l5 9.5h-10zM761.5 831.5l5 9.5h-10zM761.5 827.5l5 9.5h-10zM761.5 825.5l5 9.5h-10zM761.5 473.5l5 9.5h-10zM761.5 474.5l5 9.5h-10zM761.5 476.5l5 9.5h-10zM761.5 478.5l5 9.5h-10zM761.5 480.5l5 9.5h-10zM761.5 822.5l5 9.5h-10zM761.5 820.5l5 9.5h-10zM761.5 818.5l5 9.5h-10zM761.5 816.5l5 9.5h-10zM761.5 814.5l5 9.5h-10zM761.5 469.5l5 9.5h-10zM761.5 467.5l5 9.5h-10zM761.5 465.5l5 9.5h-10zM761.5 463.5l5 9.5h-10zM761.5 462.5l5 9.5h-10zM761.5 460.5l5 9.5h-10zM761.5 458.5l5 9.5h-10zM761.5 452.5l5 9.5h-10zM761.5 445.5l5 9.5h-10zM761.5 443.5l5 9.5h-10zM761.5 441.5l5 9.5h-10zM761.5 436.5l5 9.5h-10zM761.5 434.5l5 9.5h-10zM761.5 432.5l5 9.5h-10zM761.5 415.5l5 9.5h-10zM761.5 410.5l5 9.5h-10zM761.5 395.5l5 9.5h-10zM761.5 380.5l5 9.5h-10zM761.5 371.5l5 9.5h-10zM761.5 342.5l5 9.5h-10zM761.5 338.5l5 9.5h-10zM769.5 853.5l5 9.5h-10zM769.5 849.5l5 9.5h-10zM769.5 847.5l5 9.5h-10zM769.5 834.5l5 9.5h-10zM769.5 833.5l5 9.5h-10zM769.5 829.5l5 9.5h-10zM769.5 825.5l5 9.5h-10zM769.5 823.5l5 9.5h-10zM769.5 822.5l5 9.5h-10zM769.5 820.5l5 9.5h-10zM769.5 818.5l5 9.5h-10zM769.5 816.5l5 9.5h-10zM769.5 814.5l5 9.5h-10zM769.5 812.5l5 9.5h-10zM769.5 810.5l5 9.5h-10zM769.5 809.5l5 9.5h-10zM769.5 487.5l5 9.5h-10zM769.5 489.5l5 9.5h-10zM769.5 491.5l5 9.5h-10zM769.5 493.5l5 9.5h-10zM769.5 495.5l5 9.5h-10zM769.5 805.5l5 9.5h-10zM769.5 803.5l5 9.5h-10zM769.5 801.5l5 9.5h-10zM769.5 799.5l5 9.5h-10zM769.5 798.5l5 9.5h-10zM769.5 484.5l5 9.5h-10zM769.5 482.5l5 9.5h-10zM769.5 480.5l5 9.5h-10zM769.5 478.5l5 9.5h-10zM769.5 474.5l5 9.5h-10zM769.5 473.5l5 9.5h-10zM769.5 471.5l5 9.5h-10zM769.5 469.5l5 9.5h-10zM769.5 467.5l5 9.5h-10zM769.5 465.5l5 9.5h-10zM769.5 463.5l5 9.5h-10zM769.5 462.5l5 9.5h-10zM769.5 460.5l5 9.5h-10zM769.5 458.5l5 9.5h-10zM769.5 456.5l5 9.5h-10zM769.5 454.5l5 9.5h-10zM769.5 450.5l5 9.5h-10zM769.5 449.5l5 9.5h-10zM769.5 447.5l5 9.5h-10zM769.5 443.5l5 9.5h-10zM769.5 436.5l5 9.5h-10zM769.5 430.5l5 9.5h-10zM769.5 408.5l5 9.5h-10zM769.5 401.5l5 9.5h-10zM769.5 353.5l5 9.5h-10zM769.5 321.5l5 9.5h-10zM778.5 851.5l5 9.5h-10zM778.5 847.5l5 9.5h-10zM778.5 844.5l5 9.5h-10zM778.5 836.5l5 9.5h-10zM778.5 833.5l5 9.5h-10zM778.5 831.5l5 9.5h-10zM778.5 822.5l5 9.5h-10zM778.5 820.5l5 9.5h-10zM778.5 818.5l5 9.5h-10zM778.5 816.5l5 9.5h-10zM778.5 814.5l5 9.5h-10zM778.5 812.5l5 9.5h-10zM778.5 810.5l5 9.5h-10zM778.5 807.5l5 9.5h-10zM778.5 805.5l5 9.5h-10zM778.5 803.5l5 9.5h-10zM778.5 801.5l5 9.5h-10zM778.5 539.5l5 9.5h-10zM778.5 541.5l5 9.5h-10zM778.5 543.5l5 9.5h-10zM778.5 545.5l5 9.5h-10zM778.5 546.5l5 9.5h-10zM778.5 798.5l5 9.5h-10zM778.5 796.5l5 9.5h-10zM778.5 794.5l5 9.5h-10zM778.5 792.5l5 9.5h-10zM778.5 790.5l5 9.5h-10zM778.5 535.5l5 9.5h-10zM778.5 534.5l5 9.5h-10zM778.5 532.5l5 9.5h-10zM778.5 530.5l5 9.5h-10zM778.5 528.5l5 9.5h-10zM778.5 526.5l5 9.5h-10zM778.5 524.5l5 9.5h-10zM778.5 522.5l5 9.5h-10zM778.5 521.5l5 9.5h-10zM778.5 519.5l5 9.5h-10zM778.5 517.5l5 9.5h-10zM778.5 515.5l5 9.5h-10zM778.5 513.5l5 9.5h-10zM778.5 511.5l5 9.5h-10zM778.5 510.5l5 9.5h-10zM778.5 508.5l5 9.5h-10zM778.5 506.5l5 9.5h-10zM778.5 504.5l5 9.5h-10zM778.5 500.5l5 9.5h-10zM778.5 498.5l5 9.5h-10zM778.5 497.5l5 9.5h-10zM778.5 495.5l5 9.5h-10zM778.5 493.5l5 9.5h-10zM778.5 491.5l5 9.5h-10zM778.5 489.5l5 9.5h-10zM778.5 487.5l5 9.5h-10zM778.5 486.5l5 9.5h-10zM778.5 484.5l5 9.5h-10zM778.5 482.5l5 9.5h-10zM778.5 478.5l5 9.5h-10zM778.5 476.5l5 9.5h-10zM778.5 474.5l5 9.5h-10zM778.5 473.5l5 9.5h-10zM778.5 471.5l5 9.5h-10zM778.5 469.5l5 9.5h-10zM778.5 463.5l5 9.5h-10zM778.5 462.5l5 9.5h-10zM778.5 460.5l5 9.5h-10zM778.5 458.5l5 9.5h-10zM778.5 449.5l5 9.5h-10zM778.5 445.5l5 9.5h-10zM778.5 434.5l5 9.5h-10zM778.5 377.5l5 9.5h-10zM786.5 857.5l5 9.5h-10zM786.5 853.5l5 9.5h-10zM786.5 851.5l5 9.5h-10zM786.5 840.5l5 9.5h-10zM786.5 838.5l5 9.5h-10zM786.5 834.5l5 9.5h-10zM786.5 829.5l5 9.5h-10zM786.5 827.5l5 9.5h-10zM786.5 825.5l5 9.5h-10zM786.5 822.5l5 9.5h-10zM786.5 820.5l5 9.5h-10zM786.5 818.5l5 9.5h-10zM786.5 816.5l5 9.5h-10zM786.5 814.5l5 9.5h-10zM786.5 812.5l5 9.5h-10zM786.5 810.5l5 9.5h-10zM786.5 809.5l5 9.5h-10zM786.5 807.5l5 9.5h-10zM786.5 500.5l5 9.5h-10zM786.5 502.5l5 9.5h-10zM786.5 504.5l5 9.5h-10zM786.5 506.5l5 9.5h-10zM786.5 508.5l5 9.5h-10zM786.5 803.5l5 9.5h-10zM786.5 801.5l5 9.5h-10zM786.5 799.5l5 9.5h-10zM786.5 798.5l5 9.5h-10zM786.5 796.5l5 9.5h-10zM786.5 497.5l5 9.5h-10zM786.5 495.5l5 9.5h-10zM786.5 493.5l5 9.5h-10zM786.5 489.5l5 9.5h-10zM786.5 487.5l5 9.5h-10zM786.5 486.5l5 9.5h-10zM786.5 484.5l5 9.5h-10zM786.5 480.5l5 9.5h-10zM786.5 478.5l5 9.5h-10zM786.5 476.5l5 9.5h-10zM786.5 474.5l5 9.5h-10zM786.5 473.5l5 9.5h-10zM786.5 471.5l5 9.5h-10zM786.5 469.5l5 9.5h-10zM786.5 467.5l5 9.5h-10zM786.5 465.5l5 9.5h-10zM786.5 463.5l5 9.5h-10zM786.5 462.5l5 9.5h-10zM786.5 460.5l5 9.5h-10zM786.5 456.5l5 9.5h-10zM786.5 454.5l5 9.5h-10zM786.5 452.5l5 9.5h-10zM786.5 450.5l5 9.5h-10zM786.5 449.5l5 9.5h-10zM786.5 445.5l5 9.5h-10zM786.5 430.5l5 9.5h-10zM795.5 857.5l5 9.5h-10zM795.5 855.5l5 9.5h-10zM795.5 833.5l5 9.5h-10zM795.5 831.5l5 9.5h-10zM795.5 827.5l5 9.5h-10zM795.5 822.5l5 9.5h-10zM795.5 820.5l5 9.5h-10zM795.5 818.5l5 9.5h-10zM795.5 816.5l5 9.5h-10zM795.5 814.5l5 9.5h-10zM795.5 812.5l5 9.5h-10zM795.5 810.5l5 9.5h-10zM795.5 809.5l5 9.5h-10zM795.5 807.5l5 9.5h-10zM795.5 805.5l5 9.5h-10zM795.5 803.5l5 9.5h-10zM795.5 801.5l5 9.5h-10zM795.5 517.5l5 9.5h-10zM795.5 519.5l5 9.5h-10zM795.5 521.5l5 9.5h-10zM795.5 522.5l5 9.5h-10zM795.5 524.5l5 9.5h-10zM795.5 798.5l5 9.5h-10zM795.5 796.5l5 9.5h-10zM795.5 794.5l5 9.5h-10zM795.5 792.5l5 9.5h-10zM795.5 790.5l5 9.5h-10zM795.5 476.5l5 9.5h-10zM795.5 478.5l5 9.5h-10zM795.5 480.5l5 9.5h-10zM795.5 482.5l5 9.5h-10zM795.5 484.5l5 9.5h-10zM795.5 513.5l5 9.5h-10zM795.5 511.5l5 9.5h-10zM795.5 510.5l5 9.5h-10zM795.5 508.5l5 9.5h-10zM795.5 506.5l5 9.5h-10zM795.5 469.5l5 9.5h-10zM795.5 467.5l5 9.5h-10zM795.5 465.5l5 9.5h-10zM795.5 463.5l5 9.5h-10zM795.5 462.5l5 9.5h-10zM795.5 458.5l5 9.5h-10zM795.5 456.5l5 9.5h-10zM795.5 454.5l5 9.5h-10zM795.5 452.5l5 9.5h-10zM795.5 450.5l5 9.5h-10zM795.5 445.5l5 9.5h-10zM795.5 439.5l5 9.5h-10zM795.5 436.5l5 9.5h-10zM795.5 432.5l5 9.5h-10zM795.5 425.5l5 9.5h-10zM795.5 419.5l5 9.5h-10zM795.5 417.5l5 9.5h-10zM795.5 408.5l5 9.5h-10zM804.5 866.5l5 9.5h-10zM804.5 846.5l5 9.5h-10zM804.5 842.5l5 9.5h-10zM804.5 838.5l5 9.5h-10zM804.5 831.5l5 9.5h-10zM804.5 829.5l5 9.5h-10zM804.5 823.5l5 9.5h-10zM804.5 822.5l5 9.5h-10zM804.5 820.5l5 9.5h-10zM804.5 818.5l5 9.5h-10zM804.5 814.5l5 9.5h-10zM804.5 513.5l5 9.5h-10zM804.5 515.5l5 9.5h-10zM804.5 517.5l5 9.5h-10zM804.5 519.5l5 9.5h-10zM804.5 521.5l5 9.5h-10zM804.5 810.5l5 9.5h-10zM804.5 809.5l5 9.5h-10zM804.5 807.5l5 9.5h-10zM804.5 805.5l5 9.5h-10zM804.5 803.5l5 9.5h-10zM804.5 508.5l5 9.5h-10zM804.5 506.5l5 9.5h-10zM804.5 504.5l5 9.5h-10zM804.5 502.5l5 9.5h-10zM804.5 500.5l5 9.5h-10zM804.5 498.5l5 9.5h-10zM804.5 497.5l5 9.5h-10zM804.5 495.5l5 9.5h-10zM804.5 493.5l5 9.5h-10zM804.5 491.5l5 9.5h-10zM804.5 489.5l5 9.5h-10zM804.5 487.5l5 9.5h-10zM804.5 486.5l5 9.5h-10zM804.5 484.5l5 9.5h-10zM804.5 482.5l5 9.5h-10zM804.5 480.5l5 9.5h-10zM804.5 478.5l5 9.5h-10zM804.5 476.5l5 9.5h-10zM804.5 474.5l5 9.5h-10zM804.5 471.5l5 9.5h-10zM804.5 467.5l5 9.5h-10zM804.5 465.5l5 9.5h-10zM804.5 463.5l5 9.5h-10zM804.5 460.5l5 9.5h-10zM804.5 458.5l5 9.5h-10zM804.5 456.5l5 9.5h-10zM804.5 454.5l5 9.5h-10zM804.5 452.5l5 9.5h-10zM804.5 449.5l5 9.5h-10zM804.5 445.5l5 9.5h-10zM804.5 430.5l5 9.5h-10zM804.5 417.5l5 9.5h-10zM804.5 410.5l5 9.5h-10zM804.5 393.5l5 9.5h-10zM804.5 367.5l5 9.5h-10zM804.5 353.5l5 9.5h-10zM812.5 844.5l5 9.5h-10zM812.5 834.5l5 9.5h-10zM812.5 831.5l5 9.5h-10zM812.5 827.5l5 9.5h-10zM812.5 825.5l5 9.5h-10zM812.5 823.5l5 9.5h-10zM812.5 820.5l5 9.5h-10zM812.5 816.5l5 9.5h-10zM812.5 814.5l5 9.5h-10zM812.5 519.5l5 9.5h-10zM812.5 521.5l5 9.5h-10zM812.5 522.5l5 9.5h-10zM812.5 524.5l5 9.5h-10zM812.5 526.5l5 9.5h-10zM812.5 810.5l5 9.5h-10zM812.5 809.5l5 9.5h-10zM812.5 807.5l5 9.5h-10zM812.5 805.5l5 9.5h-10zM812.5 803.5l5 9.5h-10zM812.5 515.5l5 9.5h-10zM812.5 513.5l5 9.5h-10zM812.5 511.5l5 9.5h-10zM812.5 510.5l5 9.5h-10zM812.5 508.5l5 9.5h-10zM812.5 506.5l5 9.5h-10zM812.5 502.5l5 9.5h-10zM812.5 500.5l5 9.5h-10zM812.5 498.5l5 9.5h-10zM812.5 497.5l5 9.5h-10zM812.5 495.5l5 9.5h-10zM812.5 493.5l5 9.5h-10zM812.5 491.5l5 9.5h-10zM812.5 489.5l5 9.5h-10zM812.5 487.5l5 9.5h-10zM812.5 484.5l5 9.5h-10zM812.5 482.5l5 9.5h-10zM812.5 480.5l5 9.5h-10zM812.5 476.5l5 9.5h-10zM812.5 474.5l5 9.5h-10zM812.5 473.5l5 9.5h-10zM812.5 471.5l5 9.5h-10zM812.5 469.5l5 9.5h-10zM812.5 467.5l5 9.5h-10zM812.5 465.5l5 9.5h-10zM812.5 463.5l5 9.5h-10zM812.5 462.5l5 9.5h-10zM812.5 458.5l5 9.5h-10zM812.5 450.5l5 9.5h-10zM812.5 447.5l5 9.5h-10zM812.5 445.5l5 9.5h-10zM812.5 436.5l5 9.5h-10zM812.5 430.5l5 9.5h-10zM812.5 406.5l5 9.5h-10zM812.5 401.5l5 9.5h-10zM821.5 868.5l5 9.5h-10zM821.5 855.5l5 9.5h-10zM821.5 853.5l5 9.5h-10zM821.5 846.5l5 9.5h-10zM821.5 840.5l5 9.5h-10zM821.5 838.5l5 9.5h-10zM821.5 836.5l5 9.5h-10zM821.5 833.5l5 9.5h-10zM821.5 831.5l5 9.5h-10zM821.5 829.5l5 9.5h-10zM821.5 473.5l5 9.5h-10zM821.5 474.5l5 9.5h-10zM821.5 476.5l5 9.5h-10zM821.5 478.5l5 9.5h-10zM821.5 480.5l5 9.5h-10zM821.5 823.5l5 9.5h-10zM821.5 822.5l5 9.5h-10zM821.5 820.5l5 9.5h-10zM821.5 818.5l5 9.5h-10zM821.5 816.5l5 9.5h-10zM821.5 463.5l5 9.5h-10zM821.5 462.5l5 9.5h-10zM821.5 458.5l5 9.5h-10zM821.5 456.5l5 9.5h-10zM821.5 450.5l5 9.5h-10zM821.5 439.5l5 9.5h-10zM821.5 436.5l5 9.5h-10zM821.5 425.5l5 9.5h-10zM821.5 419.5l5 9.5h-10zM821.5 408.5l5 9.5h-10zM821.5 401.5l5 9.5h-10zM829.5 836.5l5 9.5h-10zM829.5 834.5l5 9.5h-10zM829.5 833.5l5 9.5h-10zM829.5 829.5l5 9.5h-10zM829.5 827.5l5 9.5h-10zM829.5 825.5l5 9.5h-10zM829.5 823.5l5 9.5h-10zM829.5 822.5l5 9.5h-10zM829.5 820.5l5 9.5h-10zM829.5 818.5l5 9.5h-10zM829.5 814.5l5 9.5h-10zM829.5 812.5l5 9.5h-10zM829.5 810.5l5 9.5h-10zM829.5 809.5l5 9.5h-10zM829.5 807.5l5 9.5h-10zM829.5 805.5l5 9.5h-10zM829.5 484.5l5 9.5h-10zM829.5 486.5l5 9.5h-10zM829.5 487.5l5 9.5h-10zM829.5 489.5l5 9.5h-10zM829.5 491.5l5 9.5h-10zM829.5 801.5l5 9.5h-10zM829.5 799.5l5 9.5h-10zM829.5 798.5l5 9.5h-10zM829.5 796.5l5 9.5h-10zM829.5 794.5l5 9.5h-10zM829.5 478.5l5 9.5h-10zM829.5 476.5l5 9.5h-10zM829.5 474.5l5 9.5h-10zM829.5 473.5l5 9.5h-10zM829.5 471.5l5 9.5h-10zM829.5 467.5l5 9.5h-10zM829.5 462.5l5 9.5h-10zM829.5 454.5l5 9.5h-10zM829.5 452.5l5 9.5h-10zM829.5 450.5l5 9.5h-10zM829.5 449.5l5 9.5h-10zM829.5 443.5l5 9.5h-10zM829.5 438.5l5 9.5h-10zM829.5 419.5l5 9.5h-10zM829.5 414.5l5 9.5h-10zM829.5 399.5l5 9.5h-10zM829.5 373.5l5 9.5h-10zM838.5 847.5l5 9.5h-10zM838.5 840.5l5 9.5h-10zM838.5 838.5l5 9.5h-10zM838.5 834.5l5 9.5h-10zM838.5 833.5l5 9.5h-10zM838.5 831.5l5 9.5h-10zM838.5 829.5l5 9.5h-10zM838.5 825.5l5 9.5h-10zM838.5 822.5l5 9.5h-10zM838.5 820.5l5 9.5h-10zM838.5 818.5l5 9.5h-10zM838.5 816.5l5 9.5h-10zM838.5 814.5l5 9.5h-10zM838.5 812.5l5 9.5h-10zM838.5 810.5l5 9.5h-10zM838.5 809.5l5 9.5h-10zM838.5 805.5l5 9.5h-10zM838.5 803.5l5 9.5h-10zM838.5 528.5l5 9.5h-10zM838.5 530.5l5 9.5h-10zM838.5 532.5l5 9.5h-10zM838.5 534.5l5 9.5h-10zM838.5 535.5l5 9.5h-10zM838.5 799.5l5 9.5h-10zM838.5 798.5l5 9.5h-10zM838.5 796.5l5 9.5h-10zM838.5 794.5l5 9.5h-10zM838.5 792.5l5 9.5h-10zM838.5 524.5l5 9.5h-10zM838.5 522.5l5 9.5h-10zM838.5 521.5l5 9.5h-10zM838.5 519.5l5 9.5h-10zM838.5 517.5l5 9.5h-10zM838.5 515.5l5 9.5h-10zM838.5 513.5l5 9.5h-10zM838.5 511.5l5 9.5h-10zM838.5 510.5l5 9.5h-10zM838.5 506.5l5 9.5h-10zM838.5 504.5l5 9.5h-10zM838.5 502.5l5 9.5h-10zM838.5 500.5l5 9.5h-10zM838.5 498.5l5 9.5h-10zM838.5 497.5l5 9.5h-10zM838.5 495.5l5 9.5h-10zM838.5 493.5l5 9.5h-10zM838.5 489.5l5 9.5h-10zM838.5 486.5l5 9.5h-10zM838.5 484.5l5 9.5h-10zM838.5 480.5l5 9.5h-10zM838.5 478.5l5 9.5h-10zM838.5 474.5l5 9.5h-10zM838.5 471.5l5 9.5h-10zM838.5 469.5l5 9.5h-10zM838.5 467.5l5 9.5h-10zM838.5 463.5l5 9.5h-10zM838.5 462.5l5 9.5h-10zM838.5 460.5l5 9.5h-10zM838.5 458.5l5 9.5h-10zM838.5 456.5l5 9.5h-10zM838.5 454.5l5 9.5h-10zM838.5 449.5l5 9.5h-10zM838.5 447.5l5 9.5h-10zM838.5 438.5l5 9.5h-10zM838.5 427.5l5 9.5h-10zM838.5 423.5l5 9.5h-10zM838.5 421.5l5 9.5h-10zM846.5 840.5l5 9.5h-10zM846.5 838.5l5 9.5h-10zM846.5 836.5l5 9.5h-10zM846.5 834.5l5 9.5h-10zM846.5 831.5l5 9.5h-10zM846.5 827.5l5 9.5h-10zM846.5 528.5l5 9.5h-10zM846.5 530.5l5 9.5h-10zM846.5 532.5l5 9.5h-10zM846.5 534.5l5 9.5h-10zM846.5 535.5l5 9.5h-10zM846.5 822.5l5 9.5h-10zM846.5 820.5l5 9.5h-10zM846.5 818.5l5 9.5h-10zM846.5 816.5l5 9.5h-10zM846.5 814.5l5 9.5h-10zM846.5 487.5l5 9.5h-10zM846.5 489.5l5 9.5h-10zM846.5 491.5l5 9.5h-10zM846.5 493.5l5 9.5h-10zM846.5 495.5l5 9.5h-10zM846.5 524.5l5 9.5h-10zM846.5 522.5l5 9.5h-10zM846.5 521.5l5 9.5h-10zM846.5 519.5l5 9.5h-10zM846.5 517.5l5 9.5h-10zM846.5 480.5l5 9.5h-10zM846.5 478.5l5 9.5h-10zM846.5 476.5l5 9.5h-10zM846.5 474.5l5 9.5h-10zM846.5 473.5l5 9.5h-10zM846.5 469.5l5 9.5h-10zM846.5 462.5l5 9.5h-10zM846.5 460.5l5 9.5h-10zM846.5 458.5l5 9.5h-10zM846.5 454.5l5 9.5h-10zM846.5 450.5l5 9.5h-10zM846.5 430.5l5 9.5h-10zM855.5 849.5l5 9.5h-10zM855.5 834.5l5 9.5h-10zM855.5 831.5l5 9.5h-10zM855.5 829.5l5 9.5h-10zM855.5 825.5l5 9.5h-10zM855.5 823.5l5 9.5h-10zM855.5 820.5l5 9.5h-10zM855.5 818.5l5 9.5h-10zM855.5 816.5l5 9.5h-10zM855.5 814.5l5 9.5h-10zM855.5 812.5l5 9.5h-10zM855.5 810.5l5 9.5h-10zM855.5 809.5l5 9.5h-10zM855.5 517.5l5 9.5h-10zM855.5 519.5l5 9.5h-10zM855.5 521.5l5 9.5h-10zM855.5 522.5l5 9.5h-10zM855.5 524.5l5 9.5h-10zM855.5 805.5l5 9.5h-10zM855.5 803.5l5 9.5h-10zM855.5 801.5l5 9.5h-10zM855.5 799.5l5 9.5h-10zM855.5 798.5l5 9.5h-10zM855.5 513.5l5 9.5h-10zM855.5 511.5l5 9.5h-10zM855.5 510.5l5 9.5h-10zM855.5 508.5l5 9.5h-10zM855.5 504.5l5 9.5h-10zM855.5 502.5l5 9.5h-10zM855.5 500.5l5 9.5h-10zM855.5 498.5l5 9.5h-10zM855.5 497.5l5 9.5h-10zM855.5 495.5l5 9.5h-10zM855.5 493.5l5 9.5h-10zM855.5 491.5l5 9.5h-10zM855.5 489.5l5 9.5h-10zM855.5 487.5l5 9.5h-10zM855.5 484.5l5 9.5h-10zM855.5 482.5l5 9.5h-10zM855.5 480.5l5 9.5h-10zM855.5 465.5l5 9.5h-10zM855.5 458.5l5 9.5h-10zM855.5 456.5l5 9.5h-10zM855.5 450.5l5 9.5h-10zM855.5 445.5l5 9.5h-10zM855.5 443.5l5 9.5h-10zM855.5 425.5l5 9.5h-10zM855.5 415.5l5 9.5h-10zM855.5 412.5l5 9.5h-10zM855.5 404.5l5 9.5h-10zM855.5 403.5l5 9.5h-10zM855.5 395.5l5 9.5h-10zM863.5 868.5l5 9.5h-10zM863.5 849.5l5 9.5h-10zM863.5 842.5l5 9.5h-10zM863.5 838.5l5 9.5h-10zM863.5 836.5l5 9.5h-10zM863.5 833.5l5 9.5h-10zM863.5 827.5l5 9.5h-10zM863.5 825.5l5 9.5h-10zM863.5 823.5l5 9.5h-10zM863.5 818.5l5 9.5h-10zM863.5 814.5l5 9.5h-10zM863.5 810.5l5 9.5h-10zM863.5 809.5l5 9.5h-10zM863.5 807.5l5 9.5h-10zM863.5 805.5l5 9.5h-10zM863.5 803.5l5 9.5h-10zM863.5 799.5l5 9.5h-10zM863.5 798.5l5 9.5h-10zM863.5 796.5l5 9.5h-10zM863.5 794.5l5 9.5h-10zM863.5 484.5l5 9.5h-10zM863.5 486.5l5 9.5h-10zM863.5 487.5l5 9.5h-10zM863.5 489.5l5 9.5h-10zM863.5 491.5l5 9.5h-10zM863.5 790.5l5 9.5h-10zM863.5 788.5l5 9.5h-10zM863.5 786.5l5 9.5h-10zM863.5 785.5l5 9.5h-10zM863.5 783.5l5 9.5h-10zM863.5 471.5l5 9.5h-10zM863.5 467.5l5 9.5h-10zM863.5 462.5l5 9.5h-10zM863.5 458.5l5 9.5h-10zM863.5 452.5l5 9.5h-10zM863.5 447.5l5 9.5h-10zM863.5 441.5l5 9.5h-10zM863.5 438.5l5 9.5h-10zM863.5 434.5l5 9.5h-10zM863.5 390.5l5 9.5h-10zM872.5 853.5l5 9.5h-10zM872.5 846.5l5 9.5h-10zM872.5 844.5l5 9.5h-10zM872.5 842.5l5 9.5h-10zM872.5 834.5l5 9.5h-10zM872.5 833.5l5 9.5h-10zM872.5 831.5l5 9.5h-10zM872.5 827.5l5 9.5h-10zM872.5 825.5l5 9.5h-10zM872.5 823.5l5 9.5h-10zM872.5 822.5l5 9.5h-10zM872.5 818.5l5 9.5h-10zM872.5 521.5l5 9.5h-10zM872.5 522.5l5 9.5h-10zM872.5 524.5l5 9.5h-10zM872.5 526.5l5 9.5h-10zM872.5 528.5l5 9.5h-10zM872.5 814.5l5 9.5h-10zM872.5 812.5l5 9.5h-10zM872.5 810.5l5 9.5h-10zM872.5 809.5l5 9.5h-10zM872.5 807.5l5 9.5h-10zM872.5 517.5l5 9.5h-10zM872.5 515.5l5 9.5h-10zM872.5 513.5l5 9.5h-10zM872.5 511.5l5 9.5h-10zM872.5 510.5l5 9.5h-10zM872.5 508.5l5 9.5h-10zM872.5 506.5l5 9.5h-10zM872.5 504.5l5 9.5h-10zM872.5 502.5l5 9.5h-10zM872.5 500.5l5 9.5h-10zM872.5 497.5l5 9.5h-10zM872.5 493.5l5 9.5h-10zM872.5 489.5l5 9.5h-10zM872.5 486.5l5 9.5h-10zM872.5 484.5l5 9.5h-10zM872.5 482.5l5 9.5h-10zM872.5 480.5l5 9.5h-10zM872.5 478.5l5 9.5h-10zM872.5 476.5l5 9.5h-10zM872.5 474.5l5 9.5h-10zM872.5 456.5l5 9.5h-10zM872.5 452.5l5 9.5h-10zM872.5 445.5l5 9.5h-10zM872.5 434.5l5 9.5h-10zM872.5 388.5l5 9.5h-10zM880.5 853.5l5 9.5h-10zM880.5 844.5l5 9.5h-10zM880.5 836.5l5 9.5h-10zM880.5 790.5l5 9.5h-10zM880.5 792.5l5 9.5h-10zM880.5 794.5l5 9.5h-10zM880.5 796.5l5 9.5h-10zM880.5 798.5l5 9.5h-10zM880.5 831.5l5 9.5h-10zM880.5 829.5l5 9.5h-10zM880.5 827.5l5 9.5h-10zM880.5 825.5l5 9.5h-10zM880.5 823.5l5 9.5h-10zM880.5 546.5l5 9.5h-10zM880.5 548.5l5 9.5h-10zM880.5 550.5l5 9.5h-10zM880.5 552.5l5 9.5h-10zM880.5 554.5l5 9.5h-10zM880.5 786.5l5 9.5h-10zM880.5 785.5l5 9.5h-10zM880.5 783.5l5 9.5h-10zM880.5 781.5l5 9.5h-10zM880.5 779.5l5 9.5h-10zM880.5 504.5l5 9.5h-10zM880.5 506.5l5 9.5h-10zM880.5 508.5l5 9.5h-10zM880.5 510.5l5 9.5h-10zM880.5 511.5l5 9.5h-10zM880.5 543.5l5 9.5h-10zM880.5 541.5l5 9.5h-10zM880.5 539.5l5 9.5h-10zM880.5 537.5l5 9.5h-10zM880.5 535.5l5 9.5h-10zM880.5 498.5l5 9.5h-10zM880.5 493.5l5 9.5h-10zM880.5 491.5l5 9.5h-10zM880.5 489.5l5 9.5h-10zM880.5 486.5l5 9.5h-10zM880.5 480.5l5 9.5h-10zM880.5 478.5l5 9.5h-10zM880.5 476.5l5 9.5h-10zM880.5 474.5l5 9.5h-10zM880.5 471.5l5 9.5h-10zM880.5 441.5l5 9.5h-10zM880.5 438.5l5 9.5h-10zM880.5 410.5l5 9.5h-10zM889.5 840.5l5 9.5h-10zM889.5 831.5l5 9.5h-10zM889.5 829.5l5 9.5h-10zM889.5 825.5l5 9.5h-10zM889.5 823.5l5 9.5h-10zM889.5 822.5l5 9.5h-10zM889.5 816.5l5 9.5h-10zM889.5 814.5l5 9.5h-10zM889.5 812.5l5 9.5h-10zM889.5 810.5l5 9.5h-10zM889.5 809.5l5 9.5h-10zM889.5 565.5l5 9.5h-10zM889.5 567.5l5 9.5h-10zM889.5 569.5l5 9.5h-10zM889.5 570.5l5 9.5h-10zM889.5 572.5l5 9.5h-10zM889.5 805.5l5 9.5h-10zM889.5 803.5l5 9.5h-10zM889.5 801.5l5 9.5h-10zM889.5 799.5l5 9.5h-10zM889.5 798.5l5 9.5h-10zM889.5 506.5l5 9.5h-10zM889.5 508.5l5 9.5h-10zM889.5 510.5l5 9.5h-10zM889.5 511.5l5 9.5h-10zM889.5 513.5l5 9.5h-10zM889.5 561.5l5 9.5h-10zM889.5 559.5l5 9.5h-10zM889.5 558.5l5 9.5h-10zM889.5 556.5l5 9.5h-10zM889.5 554.5l5 9.5h-10zM889.5 502.5l5 9.5h-10zM889.5 500.5l5 9.5h-10zM889.5 497.5l5 9.5h-10zM889.5 495.5l5 9.5h-10zM889.5 493.5l5 9.5h-10zM889.5 491.5l5 9.5h-10zM889.5 489.5l5 9.5h-10zM889.5 487.5l5 9.5h-10zM889.5 484.5l5 9.5h-10zM889.5 482.5l5 9.5h-10zM889.5 480.5l5 9.5h-10zM889.5 476.5l5 9.5h-10zM889.5 469.5l5 9.5h-10zM889.5 465.5l5 9.5h-10zM889.5 462.5l5 9.5h-10zM889.5 458.5l5 9.5h-10zM889.5 456.5l5 9.5h-10zM889.5 439.5l5 9.5h-10zM889.5 430.5l5 9.5h-10zM889.5 428.5l5 9.5h-10zM889.5 423.5l5 9.5h-10zM889.5 421.5l5 9.5h-10zM889.5 388.5l5 9.5h-10zM898.5 857.5l5 9.5h-10zM898.5 840.5l5 9.5h-10zM898.5 834.5l5 9.5h-10zM898.5 831.5l5 9.5h-10zM898.5 829.5l5 9.5h-10zM898.5 822.5l5 9.5h-10zM898.5 818.5l5 9.5h-10zM898.5 816.5l5 9.5h-10zM898.5 814.5l5 9.5h-10zM898.5 812.5l5 9.5h-10zM898.5 810.5l5 9.5h-10zM898.5 809.5l5 9.5h-10zM898.5 807.5l5 9.5h-10zM898.5 532.5l5 9.5h-10zM898.5 534.5l5 9.5h-10zM898.5 535.5l5 9.5h-10zM898.5 537.5l5 9.5h-10zM898.5 539.5l5 9.5h-10zM898.5 803.5l5 9.5h-10zM898.5 801.5l5 9.5h-10zM898.5 799.5l5 9.5h-10zM898.5 798.5l5 9.5h-10zM898.5 796.5l5 9.5h-10zM898.5 528.5l5 9.5h-10zM898.5 526.5l5 9.5h-10zM898.5 522.5l5 9.5h-10zM898.5 521.5l5 9.5h-10zM898.5 517.5l5 9.5h-10zM898.5 515.5l5 9.5h-10zM898.5 513.5l5 9.5h-10zM898.5 510.5l5 9.5h-10zM898.5 508.5l5 9.5h-10zM898.5 504.5l5 9.5h-10zM898.5 502.5l5 9.5h-10zM898.5 500.5l5 9.5h-10zM898.5 495.5l5 9.5h-10zM898.5 491.5l5 9.5h-10zM898.5 489.5l5 9.5h-10zM898.5 487.5l5 9.5h-10zM898.5 484.5l5 9.5h-10zM898.5 482.5l5 9.5h-10zM898.5 478.5l5 9.5h-10zM898.5 476.5l5 9.5h-10zM898.5 467.5l5 9.5h-10zM898.5 465.5l5 9.5h-10zM898.5 460.5l5 9.5h-10zM898.5 458.5l5 9.5h-10zM898.5 456.5l5 9.5h-10zM898.5 454.5l5 9.5h-10zM898.5 449.5l5 9.5h-10zM898.5 427.5l5 9.5h-10zM906.5 846.5l5 9.5h-10zM906.5 842.5l5 9.5h-10zM906.5 838.5l5 9.5h-10zM906.5 836.5l5 9.5h-10zM906.5 829.5l5 9.5h-10zM906.5 827.5l5 9.5h-10zM906.5 825.5l5 9.5h-10zM906.5 822.5l5 9.5h-10zM906.5 820.5l5 9.5h-10zM906.5 818.5l5 9.5h-10zM906.5 814.5l5 9.5h-10zM906.5 812.5l5 9.5h-10zM906.5 810.5l5 9.5h-10zM906.5 809.5l5 9.5h-10zM906.5 807.5l5 9.5h-10zM906.5 803.5l5 9.5h-10zM906.5 801.5l5 9.5h-10zM906.5 799.5l5 9.5h-10zM906.5 798.5l5 9.5h-10zM906.5 796.5l5 9.5h-10zM906.5 794.5l5 9.5h-10zM906.5 792.5l5 9.5h-10zM906.5 790.5l5 9.5h-10zM906.5 788.5l5 9.5h-10zM906.5 524.5l5 9.5h-10zM906.5 526.5l5 9.5h-10zM906.5 528.5l5 9.5h-10zM906.5 530.5l5 9.5h-10zM906.5 532.5l5 9.5h-10zM906.5 785.5l5 9.5h-10zM906.5 783.5l5 9.5h-10zM906.5 781.5l5 9.5h-10zM906.5 779.5l5 9.5h-10zM906.5 777.5l5 9.5h-10zM906.5 521.5l5 9.5h-10zM906.5 519.5l5 9.5h-10zM906.5 517.5l5 9.5h-10zM906.5 515.5l5 9.5h-10zM906.5 513.5l5 9.5h-10zM906.5 511.5l5 9.5h-10zM906.5 506.5l5 9.5h-10zM906.5 502.5l5 9.5h-10zM906.5 500.5l5 9.5h-10zM906.5 498.5l5 9.5h-10zM906.5 495.5l5 9.5h-10zM906.5 493.5l5 9.5h-10zM906.5 491.5l5 9.5h-10zM906.5 484.5l5 9.5h-10zM906.5 478.5l5 9.5h-10zM906.5 476.5l5 9.5h-10zM906.5 474.5l5 9.5h-10zM906.5 471.5l5 9.5h-10zM906.5 467.5l5 9.5h-10zM906.5 463.5l5 9.5h-10zM906.5 439.5l5 9.5h-10zM906.5 434.5l5 9.5h-10zM915.5 842.5l5 9.5h-10zM915.5 836.5l5 9.5h-10zM915.5 831.5l5 9.5h-10zM915.5 827.5l5 9.5h-10zM915.5 823.5l5 9.5h-10zM915.5 820.5l5 9.5h-10zM915.5 814.5l5 9.5h-10zM915.5 812.5l5 9.5h-10zM915.5 810.5l5 9.5h-10zM915.5 528.5l5 9.5h-10zM915.5 530.5l5 9.5h-10zM915.5 532.5l5 9.5h-10zM915.5 534.5l5 9.5h-10zM915.5 535.5l5 9.5h-10zM915.5 805.5l5 9.5h-10zM915.5 803.5l5 9.5h-10zM915.5 801.5l5 9.5h-10zM915.5 799.5l5 9.5h-10zM915.5 798.5l5 9.5h-10zM915.5 524.5l5 9.5h-10zM915.5 521.5l5 9.5h-10zM915.5 519.5l5 9.5h-10zM915.5 517.5l5 9.5h-10zM915.5 515.5l5 9.5h-10zM915.5 513.5l5 9.5h-10zM915.5 511.5l5 9.5h-10zM915.5 506.5l5 9.5h-10zM915.5 504.5l5 9.5h-10zM915.5 498.5l5 9.5h-10zM915.5 497.5l5 9.5h-10zM915.5 493.5l5 9.5h-10zM915.5 487.5l5 9.5h-10zM915.5 484.5l5 9.5h-10zM915.5 478.5l5 9.5h-10zM915.5 474.5l5 9.5h-10zM915.5 463.5l5 9.5h-10zM915.5 456.5l5 9.5h-10zM915.5 450.5l5 9.5h-10zM915.5 449.5l5 9.5h-10zM915.5 447.5l5 9.5h-10zM923.5 847.5l5 9.5h-10zM923.5 844.5l5 9.5h-10zM923.5 836.5l5 9.5h-10zM923.5 829.5l5 9.5h-10zM923.5 825.5l5 9.5h-10zM923.5 823.5l5 9.5h-10zM923.5 820.5l5 9.5h-10zM923.5 818.5l5 9.5h-10zM923.5 814.5l5 9.5h-10zM923.5 812.5l5 9.5h-10zM923.5 810.5l5 9.5h-10zM923.5 809.5l5 9.5h-10zM923.5 807.5l5 9.5h-10zM923.5 805.5l5 9.5h-10zM923.5 803.5l5 9.5h-10zM923.5 801.5l5 9.5h-10zM923.5 799.5l5 9.5h-10zM923.5 798.5l5 9.5h-10zM923.5 796.5l5 9.5h-10zM923.5 794.5l5 9.5h-10zM923.5 790.5l5 9.5h-10zM923.5 788.5l5 9.5h-10zM923.5 785.5l5 9.5h-10zM923.5 510.5l5 9.5h-10zM923.5 511.5l5 9.5h-10zM923.5 513.5l5 9.5h-10zM923.5 515.5l5 9.5h-10zM923.5 517.5l5 9.5h-10zM923.5 781.5l5 9.5h-10zM923.5 779.5l5 9.5h-10zM923.5 777.5l5 9.5h-10zM923.5 775.5l5 9.5h-10zM923.5 774.5l5 9.5h-10zM923.5 500.5l5 9.5h-10zM923.5 498.5l5 9.5h-10zM923.5 497.5l5 9.5h-10zM923.5 493.5l5 9.5h-10zM923.5 491.5l5 9.5h-10zM923.5 489.5l5 9.5h-10zM923.5 484.5l5 9.5h-10zM923.5 482.5l5 9.5h-10zM923.5 476.5l5 9.5h-10zM923.5 473.5l5 9.5h-10zM923.5 462.5l5 9.5h-10zM923.5 410.5l5 9.5h-10zM923.5 399.5l5 9.5h-10zM923.5 393.5l5 9.5h-10zM932.5 840.5l5 9.5h-10zM932.5 825.5l5 9.5h-10zM932.5 823.5l5 9.5h-10zM932.5 818.5l5 9.5h-10zM932.5 816.5l5 9.5h-10zM932.5 812.5l5 9.5h-10zM932.5 810.5l5 9.5h-10zM932.5 807.5l5 9.5h-10zM932.5 513.5l5 9.5h-10zM932.5 515.5l5 9.5h-10zM932.5 517.5l5 9.5h-10zM932.5 519.5l5 9.5h-10zM932.5 521.5l5 9.5h-10zM932.5 803.5l5 9.5h-10zM932.5 801.5l5 9.5h-10zM932.5 799.5l5 9.5h-10zM932.5 798.5l5 9.5h-10zM932.5 796.5l5 9.5h-10zM932.5 508.5l5 9.5h-10zM932.5 506.5l5 9.5h-10zM932.5 504.5l5 9.5h-10zM932.5 502.5l5 9.5h-10zM932.5 493.5l5 9.5h-10zM932.5 489.5l5 9.5h-10zM932.5 484.5l5 9.5h-10zM932.5 480.5l5 9.5h-10zM932.5 478.5l5 9.5h-10zM932.5 465.5l5 9.5h-10zM932.5 463.5l5 9.5h-10zM932.5 452.5l5 9.5h-10zM932.5 445.5l5 9.5h-10zM932.5 425.5l5 9.5h-10zM932.5 393.5l5 9.5h-10zM940.5 853.5l5 9.5h-10zM940.5 844.5l5 9.5h-10zM940.5 842.5l5 9.5h-10zM940.5 838.5l5 9.5h-10zM940.5 825.5l5 9.5h-10zM940.5 823.5l5 9.5h-10zM940.5 820.5l5 9.5h-10zM940.5 818.5l5 9.5h-10zM940.5 816.5l5 9.5h-10zM940.5 812.5l5 9.5h-10zM940.5 809.5l5 9.5h-10zM940.5 805.5l5 9.5h-10zM940.5 532.5l5 9.5h-10zM940.5 534.5l5 9.5h-10zM940.5 535.5l5 9.5h-10zM940.5 537.5l5 9.5h-10zM940.5 539.5l5 9.5h-10zM940.5 801.5l5 9.5h-10zM940.5 799.5l5 9.5h-10zM940.5 798.5l5 9.5h-10zM940.5 796.5l5 9.5h-10zM940.5 794.5l5 9.5h-10zM940.5 528.5l5 9.5h-10zM940.5 526.5l5 9.5h-10zM940.5 524.5l5 9.5h-10zM940.5 522.5l5 9.5h-10zM940.5 521.5l5 9.5h-10zM940.5 519.5l5 9.5h-10zM940.5 515.5l5 9.5h-10zM940.5 511.5l5 9.5h-10zM940.5 510.5l5 9.5h-10zM940.5 508.5l5 9.5h-10zM940.5 495.5l5 9.5h-10zM940.5 493.5l5 9.5h-10zM940.5 491.5l5 9.5h-10zM940.5 487.5l5 9.5h-10zM940.5 471.5l5 9.5h-10zM940.5 463.5l5 9.5h-10zM940.5 462.5l5 9.5h-10zM949.5 846.5l5 9.5h-10zM949.5 840.5l5 9.5h-10zM949.5 825.5l5 9.5h-10zM949.5 823.5l5 9.5h-10zM949.5 822.5l5 9.5h-10zM949.5 820.5l5 9.5h-10zM949.5 810.5l5 9.5h-10zM949.5 809.5l5 9.5h-10zM949.5 807.5l5 9.5h-10zM949.5 805.5l5 9.5h-10zM949.5 803.5l5 9.5h-10zM949.5 801.5l5 9.5h-10zM949.5 799.5l5 9.5h-10zM949.5 798.5l5 9.5h-10zM949.5 796.5l5 9.5h-10zM949.5 794.5l5 9.5h-10zM949.5 792.5l5 9.5h-10zM949.5 790.5l5 9.5h-10zM949.5 788.5l5 9.5h-10zM949.5 786.5l5 9.5h-10zM949.5 785.5l5 9.5h-10zM949.5 783.5l5 9.5h-10zM949.5 587.5l5 9.5h-10zM949.5 589.5l5 9.5h-10zM949.5 591.5l5 9.5h-10zM949.5 593.5l5 9.5h-10zM949.5 594.5l5 9.5h-10zM949.5 779.5l5 9.5h-10zM949.5 777.5l5 9.5h-10zM949.5 775.5l5 9.5h-10zM949.5 774.5l5 9.5h-10zM949.5 772.5l5 9.5h-10zM949.5 539.5l5 9.5h-10zM949.5 541.5l5 9.5h-10zM949.5 543.5l5 9.5h-10zM949.5 545.5l5 9.5h-10zM949.5 546.5l5 9.5h-10zM949.5 583.5l5 9.5h-10zM949.5 582.5l5 9.5h-10zM949.5 580.5l5 9.5h-10zM949.5 578.5l5 9.5h-10zM949.5 576.5l5 9.5h-10zM949.5 535.5l5 9.5h-10zM949.5 532.5l5 9.5h-10zM949.5 530.5l5 9.5h-10zM949.5 528.5l5 9.5h-10zM949.5 524.5l5 9.5h-10zM949.5 522.5l5 9.5h-10zM949.5 521.5l5 9.5h-10zM949.5 519.5l5 9.5h-10zM949.5 515.5l5 9.5h-10zM949.5 513.5l5 9.5h-10zM949.5 511.5l5 9.5h-10zM949.5 510.5l5 9.5h-10zM949.5 508.5l5 9.5h-10zM949.5 502.5l5 9.5h-10zM949.5 491.5l5 9.5h-10zM949.5 487.5l5 9.5h-10zM949.5 473.5l5 9.5h-10zM949.5 467.5l5 9.5h-10zM949.5 452.5l5 9.5h-10zM949.5 434.5l5 9.5h-10zM957.5 827.5l5 9.5h-10zM957.5 818.5l5 9.5h-10zM957.5 570.5l5 9.5h-10zM957.5 572.5l5 9.5h-10zM957.5 574.5l5 9.5h-10zM957.5 576.5l5 9.5h-10zM957.5 578.5l5 9.5h-10zM957.5 812.5l5 9.5h-10zM957.5 810.5l5 9.5h-10zM957.5 809.5l5 9.5h-10zM957.5 807.5l5 9.5h-10zM957.5 805.5l5 9.5h-10zM957.5 567.5l5 9.5h-10zM957.5 565.5l5 9.5h-10zM957.5 563.5l5 9.5h-10zM957.5 561.5l5 9.5h-10zM957.5 558.5l5 9.5h-10zM957.5 556.5l5 9.5h-10zM957.5 554.5l5 9.5h-10zM957.5 552.5l5 9.5h-10zM957.5 550.5l5 9.5h-10zM957.5 548.5l5 9.5h-10zM957.5 546.5l5 9.5h-10zM957.5 545.5l5 9.5h-10zM957.5 543.5l5 9.5h-10zM957.5 541.5l5 9.5h-10zM957.5 539.5l5 9.5h-10zM957.5 537.5l5 9.5h-10zM957.5 535.5l5 9.5h-10zM957.5 534.5l5 9.5h-10zM957.5 528.5l5 9.5h-10zM957.5 524.5l5 9.5h-10zM957.5 521.5l5 9.5h-10zM957.5 515.5l5 9.5h-10zM957.5 513.5l5 9.5h-10zM957.5 510.5l5 9.5h-10zM957.5 489.5l5 9.5h-10zM957.5 478.5l5 9.5h-10zM957.5 474.5l5 9.5h-10zM957.5 465.5l5 9.5h-10zM966.5 833.5l5 9.5h-10zM966.5 829.5l5 9.5h-10zM966.5 822.5l5 9.5h-10zM966.5 820.5l5 9.5h-10zM966.5 818.5l5 9.5h-10zM966.5 812.5l5 9.5h-10zM966.5 810.5l5 9.5h-10zM966.5 809.5l5 9.5h-10zM966.5 805.5l5 9.5h-10zM966.5 803.5l5 9.5h-10zM966.5 799.5l5 9.5h-10zM966.5 798.5l5 9.5h-10zM966.5 796.5l5 9.5h-10zM966.5 563.5l5 9.5h-10zM966.5 565.5l5 9.5h-10zM966.5 567.5l5 9.5h-10zM966.5 569.5l5 9.5h-10zM966.5 570.5l5 9.5h-10zM966.5 792.5l5 9.5h-10zM966.5 790.5l5 9.5h-10zM966.5 788.5l5 9.5h-10zM966.5 786.5l5 9.5h-10zM966.5 785.5l5 9.5h-10zM966.5 559.5l5 9.5h-10zM966.5 558.5l5 9.5h-10zM966.5 556.5l5 9.5h-10zM966.5 554.5l5 9.5h-10zM966.5 552.5l5 9.5h-10zM966.5 548.5l5 9.5h-10zM966.5 546.5l5 9.5h-10zM966.5 545.5l5 9.5h-10zM966.5 543.5l5 9.5h-10zM966.5 541.5l5 9.5h-10zM966.5 537.5l5 9.5h-10zM966.5 535.5l5 9.5h-10zM966.5 534.5l5 9.5h-10zM966.5 530.5l5 9.5h-10zM966.5 528.5l5 9.5h-10zM966.5 519.5l5 9.5h-10zM966.5 517.5l5 9.5h-10zM966.5 515.5l5 9.5h-10zM966.5 511.5l5 9.5h-10zM966.5 487.5l5 9.5h-10zM966.5 476.5l5 9.5h-10zM966.5 465.5l5 9.5h-10zM974.5 840.5l5 9.5h-10zM974.5 833.5l5 9.5h-10zM974.5 831.5l5 9.5h-10zM974.5 827.5l5 9.5h-10zM974.5 822.5l5 9.5h-10zM974.5 820.5l5 9.5h-10zM974.5 818.5l5 9.5h-10zM974.5 814.5l5 9.5h-10zM974.5 810.5l5 9.5h-10zM974.5 807.5l5 9.5h-10zM974.5 805.5l5 9.5h-10zM974.5 801.5l5 9.5h-10zM974.5 799.5l5 9.5h-10zM974.5 798.5l5 9.5h-10zM974.5 796.5l5 9.5h-10zM974.5 794.5l5 9.5h-10zM974.5 792.5l5 9.5h-10zM974.5 790.5l5 9.5h-10zM974.5 788.5l5 9.5h-10zM974.5 786.5l5 9.5h-10zM974.5 783.5l5 9.5h-10zM974.5 781.5l5 9.5h-10zM974.5 779.5l5 9.5h-10zM974.5 777.5l5 9.5h-10zM974.5 775.5l5 9.5h-10zM974.5 774.5l5 9.5h-10zM974.5 772.5l5 9.5h-10zM974.5 770.5l5 9.5h-10zM974.5 768.5l5 9.5h-10zM974.5 766.5l5 9.5h-10zM974.5 764.5l5 9.5h-10zM974.5 578.5l5 9.5h-10zM974.5 580.5l5 9.5h-10zM974.5 582.5l5 9.5h-10zM974.5 583.5l5 9.5h-10zM974.5 585.5l5 9.5h-10zM974.5 761.5l5 9.5h-10zM974.5 759.5l5 9.5h-10zM974.5 757.5l5 9.5h-10zM974.5 755.5l5 9.5h-10zM974.5 753.5l5 9.5h-10zM974.5 574.5l5 9.5h-10zM974.5 572.5l5 9.5h-10zM974.5 570.5l5 9.5h-10zM974.5 569.5l5 9.5h-10zM974.5 563.5l5 9.5h-10zM974.5 559.5l5 9.5h-10zM974.5 558.5l5 9.5h-10zM974.5 556.5l5 9.5h-10zM974.5 550.5l5 9.5h-10zM974.5 548.5l5 9.5h-10zM974.5 546.5l5 9.5h-10zM974.5 535.5l5 9.5h-10zM974.5 534.5l5 9.5h-10zM974.5 532.5l5 9.5h-10zM974.5 528.5l5 9.5h-10zM974.5 522.5l5 9.5h-10zM974.5 500.5l5 9.5h-10zM974.5 491.5l5 9.5h-10zM974.5 487.5l5 9.5h-10zM974.5 486.5l5 9.5h-10zM974.5 434.5l5 9.5h-10zM983.5 844.5l5 9.5h-10zM983.5 829.5l5 9.5h-10zM983.5 825.5l5 9.5h-10zM983.5 822.5l5 9.5h-10zM983.5 816.5l5 9.5h-10zM983.5 814.5l5 9.5h-10zM983.5 812.5l5 9.5h-10zM983.5 810.5l5 9.5h-10zM983.5 809.5l5 9.5h-10zM983.5 803.5l5 9.5h-10zM983.5 801.5l5 9.5h-10zM983.5 799.5l5 9.5h-10zM983.5 798.5l5 9.5h-10zM983.5 796.5l5 9.5h-10zM983.5 794.5l5 9.5h-10zM983.5 792.5l5 9.5h-10zM983.5 786.5l5 9.5h-10zM983.5 785.5l5 9.5h-10zM983.5 783.5l5 9.5h-10zM983.5 781.5l5 9.5h-10zM983.5 779.5l5 9.5h-10zM983.5 777.5l5 9.5h-10zM983.5 774.5l5 9.5h-10zM983.5 772.5l5 9.5h-10zM983.5 770.5l5 9.5h-10zM983.5 768.5l5 9.5h-10zM983.5 766.5l5 9.5h-10zM983.5 764.5l5 9.5h-10zM983.5 618.5l5 9.5h-10zM983.5 620.5l5 9.5h-10zM983.5 622.5l5 9.5h-10zM983.5 624.5l5 9.5h-10zM983.5 626.5l5 9.5h-10zM983.5 761.5l5 9.5h-10zM983.5 759.5l5 9.5h-10zM983.5 757.5l5 9.5h-10zM983.5 755.5l5 9.5h-10zM983.5 753.5l5 9.5h-10zM983.5 574.5l5 9.5h-10zM983.5 576.5l5 9.5h-10zM983.5 578.5l5 9.5h-10zM983.5 580.5l5 9.5h-10zM983.5 582.5l5 9.5h-10zM983.5 615.5l5 9.5h-10zM983.5 613.5l5 9.5h-10zM983.5 611.5l5 9.5h-10zM983.5 609.5l5 9.5h-10zM983.5 607.5l5 9.5h-10zM983.5 570.5l5 9.5h-10zM983.5 569.5l5 9.5h-10zM983.5 567.5l5 9.5h-10zM983.5 565.5l5 9.5h-10zM983.5 563.5l5 9.5h-10zM983.5 559.5l5 9.5h-10zM983.5 558.5l5 9.5h-10zM983.5 556.5l5 9.5h-10zM983.5 554.5l5 9.5h-10zM983.5 552.5l5 9.5h-10zM983.5 550.5l5 9.5h-10zM983.5 548.5l5 9.5h-10zM983.5 543.5l5 9.5h-10zM983.5 541.5l5 9.5h-10zM983.5 539.5l5 9.5h-10zM983.5 537.5l5 9.5h-10zM983.5 535.5l5 9.5h-10zM983.5 532.5l5 9.5h-10zM983.5 530.5l5 9.5h-10zM983.5 526.5l5 9.5h-10zM983.5 519.5l5 9.5h-10zM983.5 513.5l5 9.5h-10zM983.5 511.5l5 9.5h-10zM983.5 510.5l5 9.5h-10zM983.5 506.5l5 9.5h-10zM983.5 502.5l5 9.5h-10zM983.5 500.5l5 9.5h-10zM983.5 497.5l5 9.5h-10zM983.5 491.5l5 9.5h-10zM983.5 484.5l5 9.5h-10zM983.5 439.5l5 9.5h-10zM992.5 842.5l5 9.5h-10zM992.5 834.5l5 9.5h-10zM992.5 829.5l5 9.5h-10zM992.5 825.5l5 9.5h-10zM992.5 823.5l5 9.5h-10zM992.5 822.5l5 9.5h-10zM992.5 812.5l5 9.5h-10zM992.5 810.5l5 9.5h-10zM992.5 809.5l5 9.5h-10zM992.5 807.5l5 9.5h-10zM992.5 805.5l5 9.5h-10zM992.5 801.5l5 9.5h-10zM992.5 799.5l5 9.5h-10zM992.5 798.5l5 9.5h-10zM992.5 796.5l5 9.5h-10zM992.5 794.5l5 9.5h-10zM992.5 792.5l5 9.5h-10zM992.5 591.5l5 9.5h-10zM992.5 593.5l5 9.5h-10zM992.5 594.5l5 9.5h-10zM992.5 596.5l5 9.5h-10zM992.5 598.5l5 9.5h-10zM992.5 788.5l5 9.5h-10zM992.5 786.5l5 9.5h-10zM992.5 785.5l5 9.5h-10zM992.5 783.5l5 9.5h-10zM992.5 781.5l5 9.5h-10zM992.5 587.5l5 9.5h-10zM992.5 585.5l5 9.5h-10zM992.5 582.5l5 9.5h-10zM992.5 578.5l5 9.5h-10zM992.5 576.5l5 9.5h-10zM992.5 572.5l5 9.5h-10zM992.5 569.5l5 9.5h-10zM992.5 567.5l5 9.5h-10zM992.5 561.5l5 9.5h-10zM992.5 556.5l5 9.5h-10zM992.5 554.5l5 9.5h-10zM992.5 545.5l5 9.5h-10zM992.5 541.5l5 9.5h-10zM992.5 539.5l5 9.5h-10zM992.5 535.5l5 9.5h-10zM992.5 534.5l5 9.5h-10zM992.5 530.5l5 9.5h-10zM992.5 528.5l5 9.5h-10zM992.5 521.5l5 9.5h-10zM992.5 511.5l5 9.5h-10zM992.5 504.5l5 9.5h-10zM992.5 497.5l5 9.5h-10zM1000.5 834.5l5 9.5h-10zM1000.5 822.5l5 9.5h-10zM1000.5 818.5l5 9.5h-10zM1000.5 814.5l5 9.5h-10zM1000.5 812.5l5 9.5h-10zM1000.5 810.5l5 9.5h-10zM1000.5 809.5l5 9.5h-10zM1000.5 807.5l5 9.5h-10zM1000.5 805.5l5 9.5h-10zM1000.5 803.5l5 9.5h-10zM1000.5 801.5l5 9.5h-10zM1000.5 799.5l5 9.5h-10zM1000.5 794.5l5 9.5h-10zM1000.5 792.5l5 9.5h-10zM1000.5 788.5l5 9.5h-10zM1000.5 786.5l5 9.5h-10zM1000.5 615.5l5 9.5h-10zM1000.5 617.5l5 9.5h-10zM1000.5 618.5l5 9.5h-10zM1000.5 620.5l5 9.5h-10zM1000.5 622.5l5 9.5h-10zM1000.5 783.5l5 9.5h-10zM1000.5 781.5l5 9.5h-10zM1000.5 779.5l5 9.5h-10zM1000.5 777.5l5 9.5h-10zM1000.5 775.5l5 9.5h-10zM1000.5 611.5l5 9.5h-10zM1000.5 609.5l5 9.5h-10zM1000.5 607.5l5 9.5h-10zM1000.5 606.5l5 9.5h-10zM1000.5 604.5l5 9.5h-10zM1000.5 602.5l5 9.5h-10zM1000.5 600.5l5 9.5h-10zM1000.5 598.5l5 9.5h-10zM1000.5 596.5l5 9.5h-10zM1000.5 594.5l5 9.5h-10zM1000.5 593.5l5 9.5h-10zM1000.5 591.5l5 9.5h-10zM1000.5 589.5l5 9.5h-10zM1000.5 585.5l5 9.5h-10zM1000.5 583.5l5 9.5h-10zM1000.5 570.5l5 9.5h-10zM1000.5 569.5l5 9.5h-10zM1000.5 567.5l5 9.5h-10zM1000.5 561.5l5 9.5h-10zM1000.5 559.5l5 9.5h-10zM1000.5 558.5l5 9.5h-10zM1000.5 556.5l5 9.5h-10zM1000.5 554.5l5 9.5h-10zM1000.5 550.5l5 9.5h-10zM1000.5 548.5l5 9.5h-10zM1000.5 545.5l5 9.5h-10zM1000.5 534.5l5 9.5h-10zM1000.5 521.5l5 9.5h-10zM1000.5 519.5l5 9.5h-10zM1000.5 510.5l5 9.5h-10zM1000.5 482.5l5 9.5h-10zM1000.5 447.5l5 9.5h-10zM1000.5 439.5l5 9.5h-10zM1009.5 846.5l5 9.5h-10zM1009.5 825.5l5 9.5h-10zM1009.5 822.5l5 9.5h-10zM1009.5 814.5l5 9.5h-10zM1009.5 810.5l5 9.5h-10zM1009.5 805.5l5 9.5h-10zM1009.5 803.5l5 9.5h-10zM1009.5 799.5l5 9.5h-10zM1009.5 798.5l5 9.5h-10zM1009.5 796.5l5 9.5h-10zM1009.5 794.5l5 9.5h-10zM1009.5 792.5l5 9.5h-10zM1009.5 790.5l5 9.5h-10zM1009.5 788.5l5 9.5h-10zM1009.5 786.5l5 9.5h-10zM1009.5 785.5l5 9.5h-10zM1009.5 781.5l5 9.5h-10zM1009.5 779.5l5 9.5h-10zM1009.5 775.5l5 9.5h-10zM1009.5 774.5l5 9.5h-10zM1009.5 772.5l5 9.5h-10zM1009.5 770.5l5 9.5h-10zM1009.5 768.5l5 9.5h-10zM1009.5 593.5l5 9.5h-10zM1009.5 594.5l5 9.5h-10zM1009.5 596.5l5 9.5h-10zM1009.5 598.5l5 9.5h-10zM1009.5 600.5l5 9.5h-10zM1009.5 764.5l5 9.5h-10zM1009.5 762.5l5 9.5h-10zM1009.5 761.5l5 9.5h-10zM1009.5 759.5l5 9.5h-10zM1009.5 757.5l5 9.5h-10zM1009.5 587.5l5 9.5h-10zM1009.5 585.5l5 9.5h-10zM1009.5 583.5l5 9.5h-10zM1009.5 578.5l5 9.5h-10zM1009.5 576.5l5 9.5h-10zM1009.5 574.5l5 9.5h-10zM1009.5 572.5l5 9.5h-10zM1009.5 570.5l5 9.5h-10zM1009.5 567.5l5 9.5h-10zM1009.5 563.5l5 9.5h-10zM1009.5 561.5l5 9.5h-10zM1009.5 559.5l5 9.5h-10zM1009.5 558.5l5 9.5h-10zM1009.5 552.5l5 9.5h-10zM1009.5 537.5l5 9.5h-10zM1009.5 534.5l5 9.5h-10zM1009.5 521.5l5 9.5h-10zM1009.5 515.5l5 9.5h-10zM1009.5 456.5l5 9.5h-10zM1017.5 820.5l5 9.5h-10zM1017.5 814.5l5 9.5h-10zM1017.5 810.5l5 9.5h-10zM1017.5 809.5l5 9.5h-10zM1017.5 805.5l5 9.5h-10zM1017.5 803.5l5 9.5h-10zM1017.5 801.5l5 9.5h-10zM1017.5 798.5l5 9.5h-10zM1017.5 796.5l5 9.5h-10zM1017.5 792.5l5 9.5h-10zM1017.5 790.5l5 9.5h-10zM1017.5 788.5l5 9.5h-10zM1017.5 785.5l5 9.5h-10zM1017.5 781.5l5 9.5h-10zM1017.5 777.5l5 9.5h-10zM1017.5 775.5l5 9.5h-10zM1017.5 774.5l5 9.5h-10zM1017.5 772.5l5 9.5h-10zM1017.5 768.5l5 9.5h-10zM1017.5 766.5l5 9.5h-10zM1017.5 764.5l5 9.5h-10zM1017.5 762.5l5 9.5h-10zM1017.5 761.5l5 9.5h-10zM1017.5 757.5l5 9.5h-10zM1017.5 755.5l5 9.5h-10zM1017.5 753.5l5 9.5h-10zM1017.5 751.5l5 9.5h-10zM1017.5 750.5l5 9.5h-10zM1017.5 748.5l5 9.5h-10zM1017.5 746.5l5 9.5h-10zM1017.5 628.5l5 9.5h-10zM1017.5 630.5l5 9.5h-10zM1017.5 631.5l5 9.5h-10zM1017.5 633.5l5 9.5h-10zM1017.5 635.5l5 9.5h-10zM1017.5 742.5l5 9.5h-10zM1017.5 740.5l5 9.5h-10zM1017.5 738.5l5 9.5h-10zM1017.5 737.5l5 9.5h-10zM1017.5 735.5l5 9.5h-10zM1017.5 624.5l5 9.5h-10zM1017.5 622.5l5 9.5h-10zM1017.5 620.5l5 9.5h-10zM1017.5 618.5l5 9.5h-10zM1017.5 617.5l5 9.5h-10zM1017.5 615.5l5 9.5h-10zM1017.5 613.5l5 9.5h-10zM1017.5 611.5l5 9.5h-10zM1017.5 609.5l5 9.5h-10zM1017.5 607.5l5 9.5h-10zM1017.5 606.5l5 9.5h-10zM1017.5 602.5l5 9.5h-10zM1017.5 600.5l5 9.5h-10zM1017.5 598.5l5 9.5h-10zM1017.5 596.5l5 9.5h-10zM1017.5 591.5l5 9.5h-10zM1017.5 589.5l5 9.5h-10zM1017.5 582.5l5 9.5h-10zM1017.5 580.5l5 9.5h-10zM1017.5 578.5l5 9.5h-10zM1017.5 569.5l5 9.5h-10zM1017.5 567.5l5 9.5h-10zM1017.5 565.5l5 9.5h-10zM1017.5 541.5l5 9.5h-10zM1017.5 539.5l5 9.5h-10zM1017.5 530.5l5 9.5h-10zM1017.5 524.5l5 9.5h-10zM1026.5 849.5l5 9.5h-10zM1026.5 829.5l5 9.5h-10zM1026.5 827.5l5 9.5h-10zM1026.5 825.5l5 9.5h-10zM1026.5 822.5l5 9.5h-10zM1026.5 820.5l5 9.5h-10zM1026.5 809.5l5 9.5h-10zM1026.5 807.5l5 9.5h-10zM1026.5 801.5l5 9.5h-10zM1026.5 799.5l5 9.5h-10zM1026.5 798.5l5 9.5h-10zM1026.5 792.5l5 9.5h-10zM1026.5 790.5l5 9.5h-10zM1026.5 788.5l5 9.5h-10zM1026.5 785.5l5 9.5h-10zM1026.5 783.5l5 9.5h-10zM1026.5 781.5l5 9.5h-10zM1026.5 779.5l5 9.5h-10zM1026.5 626.5l5 9.5h-10zM1026.5 628.5l5 9.5h-10zM1026.5 630.5l5 9.5h-10zM1026.5 631.5l5 9.5h-10zM1026.5 633.5l5 9.5h-10zM1026.5 775.5l5 9.5h-10zM1026.5 774.5l5 9.5h-10zM1026.5 772.5l5 9.5h-10zM1026.5 770.5l5 9.5h-10zM1026.5 768.5l5 9.5h-10zM1026.5 622.5l5 9.5h-10zM1026.5 620.5l5 9.5h-10zM1026.5 618.5l5 9.5h-10zM1026.5 617.5l5 9.5h-10zM1026.5 615.5l5 9.5h-10zM1026.5 613.5l5 9.5h-10zM1026.5 609.5l5 9.5h-10zM1026.5 607.5l5 9.5h-10zM1026.5 606.5l5 9.5h-10zM1026.5 602.5l5 9.5h-10zM1026.5 600.5l5 9.5h-10zM1026.5 596.5l5 9.5h-10zM1026.5 594.5l5 9.5h-10zM1026.5 593.5l5 9.5h-10zM1026.5 589.5l5 9.5h-10zM1026.5 585.5l5 9.5h-10zM1026.5 583.5l5 9.5h-10zM1026.5 578.5l5 9.5h-10zM1026.5 569.5l5 9.5h-10zM1026.5 563.5l5 9.5h-10zM1026.5 561.5l5 9.5h-10zM1026.5 558.5l5 9.5h-10zM1026.5 556.5l5 9.5h-10zM1026.5 552.5l5 9.5h-10zM1026.5 543.5l5 9.5h-10zM1026.5 541.5l5 9.5h-10zM1026.5 535.5l5 9.5h-10zM1034.5 831.5l5 9.5h-10zM1034.5 825.5l5 9.5h-10zM1034.5 822.5l5 9.5h-10zM1034.5 816.5l5 9.5h-10zM1034.5 807.5l5 9.5h-10zM1034.5 805.5l5 9.5h-10zM1034.5 803.5l5 9.5h-10zM1034.5 798.5l5 9.5h-10zM1034.5 796.5l5 9.5h-10zM1034.5 794.5l5 9.5h-10zM1034.5 792.5l5 9.5h-10zM1034.5 790.5l5 9.5h-10zM1034.5 788.5l5 9.5h-10zM1034.5 786.5l5 9.5h-10zM1034.5 783.5l5 9.5h-10zM1034.5 781.5l5 9.5h-10zM1034.5 779.5l5 9.5h-10zM1034.5 777.5l5 9.5h-10zM1034.5 775.5l5 9.5h-10zM1034.5 774.5l5 9.5h-10zM1034.5 770.5l5 9.5h-10zM1034.5 768.5l5 9.5h-10zM1034.5 766.5l5 9.5h-10zM1034.5 762.5l5 9.5h-10zM1034.5 761.5l5 9.5h-10zM1034.5 759.5l5 9.5h-10zM1034.5 757.5l5 9.5h-10zM1034.5 755.5l5 9.5h-10zM1034.5 753.5l5 9.5h-10zM1034.5 751.5l5 9.5h-10zM1034.5 750.5l5 9.5h-10zM1034.5 748.5l5 9.5h-10zM1034.5 746.5l5 9.5h-10zM1034.5 744.5l5 9.5h-10zM1034.5 742.5l5 9.5h-10zM1034.5 740.5l5 9.5h-10zM1034.5 738.5l5 9.5h-10zM1034.5 737.5l5 9.5h-10zM1034.5 735.5l5 9.5h-10zM1034.5 655.5l5 9.5h-10zM1034.5 657.5l5 9.5h-10zM1034.5 659.5l5 9.5h-10zM1034.5 661.5l5 9.5h-10zM1034.5 663.5l5 9.5h-10zM1034.5 731.5l5 9.5h-10zM1034.5 729.5l5 9.5h-10zM1034.5 727.5l5 9.5h-10zM1034.5 726.5l5 9.5h-10zM1034.5 724.5l5 9.5h-10zM1034.5 652.5l5 9.5h-10zM1034.5 650.5l5 9.5h-10zM1034.5 648.5l5 9.5h-10zM1034.5 646.5l5 9.5h-10zM1034.5 642.5l5 9.5h-10zM1034.5 641.5l5 9.5h-10zM1034.5 639.5l5 9.5h-10zM1034.5 637.5l5 9.5h-10zM1034.5 635.5l5 9.5h-10zM1034.5 633.5l5 9.5h-10zM1034.5 631.5l5 9.5h-10zM1034.5 630.5l5 9.5h-10zM1034.5 628.5l5 9.5h-10zM1034.5 626.5l5 9.5h-10zM1034.5 624.5l5 9.5h-10zM1034.5 622.5l5 9.5h-10zM1034.5 620.5l5 9.5h-10zM1034.5 618.5l5 9.5h-10zM1034.5 617.5l5 9.5h-10zM1034.5 615.5l5 9.5h-10zM1034.5 613.5l5 9.5h-10zM1034.5 611.5l5 9.5h-10zM1034.5 609.5l5 9.5h-10zM1034.5 606.5l5 9.5h-10zM1034.5 604.5l5 9.5h-10zM1034.5 600.5l5 9.5h-10zM1034.5 596.5l5 9.5h-10zM1034.5 594.5l5 9.5h-10zM1034.5 585.5l5 9.5h-10zM1034.5 582.5l5 9.5h-10zM1034.5 580.5l5 9.5h-10zM1034.5 578.5l5 9.5h-10zM1034.5 576.5l5 9.5h-10zM1034.5 574.5l5 9.5h-10zM1034.5 569.5l5 9.5h-10zM1034.5 561.5l5 9.5h-10zM1034.5 558.5l5 9.5h-10zM1034.5 546.5l5 9.5h-10zM1034.5 541.5l5 9.5h-10zM1043.5 818.5l5 9.5h-10zM1043.5 814.5l5 9.5h-10zM1043.5 810.5l5 9.5h-10zM1043.5 799.5l5 9.5h-10zM1043.5 790.5l5 9.5h-10zM1043.5 788.5l5 9.5h-10zM1043.5 786.5l5 9.5h-10zM1043.5 783.5l5 9.5h-10zM1043.5 777.5l5 9.5h-10zM1043.5 775.5l5 9.5h-10zM1043.5 772.5l5 9.5h-10zM1043.5 770.5l5 9.5h-10zM1043.5 766.5l5 9.5h-10zM1043.5 764.5l5 9.5h-10zM1043.5 762.5l5 9.5h-10zM1043.5 761.5l5 9.5h-10zM1043.5 759.5l5 9.5h-10zM1043.5 757.5l5 9.5h-10zM1043.5 755.5l5 9.5h-10zM1043.5 753.5l5 9.5h-10zM1043.5 751.5l5 9.5h-10zM1043.5 750.5l5 9.5h-10zM1043.5 748.5l5 9.5h-10zM1043.5 746.5l5 9.5h-10zM1043.5 744.5l5 9.5h-10zM1043.5 742.5l5 9.5h-10zM1043.5 740.5l5 9.5h-10zM1043.5 738.5l5 9.5h-10zM1043.5 737.5l5 9.5h-10zM1043.5 735.5l5 9.5h-10zM1043.5 731.5l5 9.5h-10zM1043.5 729.5l5 9.5h-10zM1043.5 727.5l5 9.5h-10zM1043.5 726.5l5 9.5h-10zM1043.5 724.5l5 9.5h-10zM1043.5 722.5l5 9.5h-10zM1043.5 720.5l5 9.5h-10zM1043.5 716.5l5 9.5h-10zM1043.5 714.5l5 9.5h-10zM1043.5 713.5l5 9.5h-10zM1043.5 711.5l5 9.5h-10zM1043.5 709.5l5 9.5h-10zM1043.5 707.5l5 9.5h-10zM1043.5 705.5l5 9.5h-10zM1043.5 703.5l5 9.5h-10zM1043.5 702.5l5 9.5h-10zM1043.5 700.5l5 9.5h-10zM1043.5 698.5l5 9.5h-10zM1043.5 694.5l5 9.5h-10zM1043.5 692.5l5 9.5h-10zM1043.5 690.5l5 9.5h-10zM1043.5 689.5l5 9.5h-10zM1043.5 687.5l5 9.5h-10zM1043.5 685.5l5 9.5h-10zM1043.5 683.5l5 9.5h-10zM1043.5 681.5l5 9.5h-10zM1043.5 679.5l5 9.5h-10zM1043.5 678.5l5 9.5h-10zM1043.5 676.5l5 9.5h-10zM1043.5 674.5l5 9.5h-10zM1043.5 672.5l5 9.5h-10zM1043.5 670.5l5 9.5h-10zM1043.5 668.5l5 9.5h-10zM1043.5 666.5l5 9.5h-10zM1043.5 665.5l5 9.5h-10zM1043.5 661.5l5 9.5h-10zM1043.5 659.5l5 9.5h-10zM1043.5 657.5l5 9.5h-10zM1043.5 655.5l5 9.5h-10zM1043.5 654.5l5 9.5h-10zM1043.5 652.5l5 9.5h-10zM1043.5 650.5l5 9.5h-10zM1043.5 648.5l5 9.5h-10zM1043.5 646.5l5 9.5h-10zM1043.5 644.5l5 9.5h-10zM1043.5 642.5l5 9.5h-10zM1043.5 637.5l5 9.5h-10zM1043.5 633.5l5 9.5h-10zM1043.5 630.5l5 9.5h-10zM1043.5 626.5l5 9.5h-10zM1043.5 624.5l5 9.5h-10zM1043.5 622.5l5 9.5h-10zM1043.5 620.5l5 9.5h-10zM1043.5 618.5l5 9.5h-10zM1043.5 617.5l5 9.5h-10zM1043.5 615.5l5 9.5h-10zM1043.5 613.5l5 9.5h-10zM1043.5 611.5l5 9.5h-10zM1043.5 607.5l5 9.5h-10zM1043.5 606.5l5 9.5h-10zM1043.5 602.5l5 9.5h-10zM1043.5 600.5l5 9.5h-10zM1043.5 598.5l5 9.5h-10zM1043.5 596.5l5 9.5h-10zM1043.5 594.5l5 9.5h-10zM1043.5 593.5l5 9.5h-10zM1043.5 591.5l5 9.5h-10zM1043.5 589.5l5 9.5h-10zM1043.5 585.5l5 9.5h-10zM1043.5 578.5l5 9.5h-10zM1043.5 576.5l5 9.5h-10zM1043.5 574.5l5 9.5h-10zM1043.5 572.5l5 9.5h-10zM1043.5 570.5l5 9.5h-10zM1043.5 567.5l5 9.5h-10zM1043.5 563.5l5 9.5h-10zM1043.5 556.5l5 9.5h-10zM1043.5 554.5l5 9.5h-10zM1043.5 539.5l5 9.5h-10zM1043.5 515.5l5 9.5h-10zM1051.5 836.5l5 9.5h-10zM1051.5 816.5l5 9.5h-10zM1051.5 814.5l5 9.5h-10zM1051.5 812.5l5 9.5h-10zM1051.5 805.5l5 9.5h-10zM1051.5 801.5l5 9.5h-10zM1051.5 799.5l5 9.5h-10zM1051.5 792.5l5 9.5h-10zM1051.5 790.5l5 9.5h-10zM1051.5 788.5l5 9.5h-10zM1051.5 786.5l5 9.5h-10zM1051.5 785.5l5 9.5h-10zM1051.5 783.5l5 9.5h-10zM1051.5 775.5l5 9.5h-10zM1051.5 774.5l5 9.5h-10zM1051.5 772.5l5 9.5h-10zM1051.5 770.5l5 9.5h-10zM1051.5 768.5l5 9.5h-10zM1051.5 764.5l5 9.5h-10zM1051.5 762.5l5 9.5h-10zM1051.5 761.5l5 9.5h-10zM1051.5 759.5l5 9.5h-10zM1051.5 755.5l5 9.5h-10zM1051.5 666.5l5 9.5h-10zM1051.5 668.5l5 9.5h-10zM1051.5 670.5l5 9.5h-10zM1051.5 672.5l5 9.5h-10zM1051.5 674.5l5 9.5h-10zM1051.5 751.5l5 9.5h-10zM1051.5 750.5l5 9.5h-10zM1051.5 748.5l5 9.5h-10zM1051.5 746.5l5 9.5h-10zM1051.5 744.5l5 9.5h-10zM1051.5 663.5l5 9.5h-10zM1051.5 661.5l5 9.5h-10zM1051.5 659.5l5 9.5h-10zM1051.5 657.5l5 9.5h-10zM1051.5 618.5l5 9.5h-10zM1051.5 620.5l5 9.5h-10zM1051.5 622.5l5 9.5h-10zM1051.5 624.5l5 9.5h-10zM1051.5 626.5l5 9.5h-10zM1051.5 654.5l5 9.5h-10zM1051.5 652.5l5 9.5h-10zM1051.5 650.5l5 9.5h-10zM1051.5 648.5l5 9.5h-10zM1051.5 646.5l5 9.5h-10zM1051.5 615.5l5 9.5h-10zM1051.5 613.5l5 9.5h-10zM1051.5 611.5l5 9.5h-10zM1051.5 609.5l5 9.5h-10zM1051.5 607.5l5 9.5h-10zM1051.5 606.5l5 9.5h-10zM1051.5 602.5l5 9.5h-10zM1051.5 600.5l5 9.5h-10zM1051.5 596.5l5 9.5h-10zM1051.5 594.5l5 9.5h-10zM1051.5 593.5l5 9.5h-10zM1051.5 591.5l5 9.5h-10zM1051.5 589.5l5 9.5h-10zM1051.5 585.5l5 9.5h-10zM1051.5 578.5l5 9.5h-10zM1051.5 570.5l5 9.5h-10zM1051.5 569.5l5 9.5h-10zM1051.5 550.5l5 9.5h-10zM1051.5 546.5l5 9.5h-10zM1051.5 519.5l5 9.5h-10zM1051.5 510.5l5 9.5h-10zM1060.5 816.5l5 9.5h-10zM1060.5 814.5l5 9.5h-10zM1060.5 810.5l5 9.5h-10zM1060.5 807.5l5 9.5h-10zM1060.5 799.5l5 9.5h-10zM1060.5 798.5l5 9.5h-10zM1060.5 796.5l5 9.5h-10zM1060.5 786.5l5 9.5h-10zM1060.5 785.5l5 9.5h-10zM1060.5 783.5l5 9.5h-10zM1060.5 779.5l5 9.5h-10zM1060.5 774.5l5 9.5h-10zM1060.5 770.5l5 9.5h-10zM1060.5 764.5l5 9.5h-10zM1060.5 761.5l5 9.5h-10zM1060.5 757.5l5 9.5h-10zM1060.5 755.5l5 9.5h-10zM1060.5 753.5l5 9.5h-10zM1060.5 751.5l5 9.5h-10zM1060.5 748.5l5 9.5h-10zM1060.5 746.5l5 9.5h-10zM1060.5 744.5l5 9.5h-10zM1060.5 742.5l5 9.5h-10zM1060.5 740.5l5 9.5h-10zM1060.5 738.5l5 9.5h-10zM1060.5 737.5l5 9.5h-10zM1060.5 735.5l5 9.5h-10zM1060.5 733.5l5 9.5h-10zM1060.5 731.5l5 9.5h-10zM1060.5 729.5l5 9.5h-10zM1060.5 727.5l5 9.5h-10zM1060.5 726.5l5 9.5h-10zM1060.5 724.5l5 9.5h-10zM1060.5 722.5l5 9.5h-10zM1060.5 720.5l5 9.5h-10zM1060.5 718.5l5 9.5h-10zM1060.5 713.5l5 9.5h-10zM1060.5 711.5l5 9.5h-10zM1060.5 709.5l5 9.5h-10zM1060.5 707.5l5 9.5h-10zM1060.5 705.5l5 9.5h-10zM1060.5 703.5l5 9.5h-10zM1060.5 700.5l5 9.5h-10zM1060.5 698.5l5 9.5h-10zM1060.5 696.5l5 9.5h-10zM1060.5 694.5l5 9.5h-10zM1060.5 690.5l5 9.5h-10zM1060.5 689.5l5 9.5h-10zM1060.5 687.5l5 9.5h-10zM1060.5 681.5l5 9.5h-10zM1060.5 679.5l5 9.5h-10zM1060.5 676.5l5 9.5h-10zM1060.5 672.5l5 9.5h-10zM1060.5 670.5l5 9.5h-10zM1060.5 668.5l5 9.5h-10zM1060.5 666.5l5 9.5h-10zM1060.5 665.5l5 9.5h-10zM1060.5 663.5l5 9.5h-10zM1060.5 661.5l5 9.5h-10zM1060.5 659.5l5 9.5h-10zM1060.5 657.5l5 9.5h-10zM1060.5 655.5l5 9.5h-10zM1060.5 654.5l5 9.5h-10zM1060.5 652.5l5 9.5h-10zM1060.5 650.5l5 9.5h-10zM1060.5 648.5l5 9.5h-10zM1060.5 646.5l5 9.5h-10zM1060.5 644.5l5 9.5h-10zM1060.5 642.5l5 9.5h-10zM1060.5 637.5l5 9.5h-10zM1060.5 635.5l5 9.5h-10zM1060.5 633.5l5 9.5h-10zM1060.5 631.5l5 9.5h-10zM1060.5 630.5l5 9.5h-10zM1060.5 624.5l5 9.5h-10zM1060.5 622.5l5 9.5h-10zM1060.5 620.5l5 9.5h-10zM1060.5 617.5l5 9.5h-10zM1060.5 615.5l5 9.5h-10zM1060.5 613.5l5 9.5h-10zM1060.5 611.5l5 9.5h-10zM1060.5 609.5l5 9.5h-10zM1060.5 607.5l5 9.5h-10zM1060.5 606.5l5 9.5h-10zM1060.5 604.5l5 9.5h-10zM1060.5 602.5l5 9.5h-10zM1060.5 600.5l5 9.5h-10zM1060.5 598.5l5 9.5h-10zM1060.5 593.5l5 9.5h-10zM1060.5 585.5l5 9.5h-10zM1060.5 578.5l5 9.5h-10zM1060.5 576.5l5 9.5h-10zM1060.5 556.5l5 9.5h-10zM1060.5 548.5l5 9.5h-10zM1060.5 524.5l5 9.5h-10zM1060.5 513.5l5 9.5h-10zM1060.5 498.5l5 9.5h-10zM1069.5 805.5l5 9.5h-10zM1069.5 803.5l5 9.5h-10zM1069.5 801.5l5 9.5h-10zM1069.5 796.5l5 9.5h-10zM1069.5 792.5l5 9.5h-10zM1069.5 786.5l5 9.5h-10zM1069.5 777.5l5 9.5h-10zM1069.5 775.5l5 9.5h-10zM1069.5 770.5l5 9.5h-10zM1069.5 768.5l5 9.5h-10zM1069.5 766.5l5 9.5h-10zM1069.5 764.5l5 9.5h-10zM1069.5 762.5l5 9.5h-10zM1069.5 761.5l5 9.5h-10zM1069.5 759.5l5 9.5h-10zM1069.5 755.5l5 9.5h-10zM1069.5 753.5l5 9.5h-10zM1069.5 751.5l5 9.5h-10zM1069.5 748.5l5 9.5h-10zM1069.5 742.5l5 9.5h-10zM1069.5 740.5l5 9.5h-10zM1069.5 738.5l5 9.5h-10zM1069.5 733.5l5 9.5h-10zM1069.5 731.5l5 9.5h-10zM1069.5 724.5l5 9.5h-10zM1069.5 720.5l5 9.5h-10zM1069.5 718.5l5 9.5h-10zM1069.5 714.5l5 9.5h-10zM1069.5 713.5l5 9.5h-10zM1069.5 711.5l5 9.5h-10zM1069.5 709.5l5 9.5h-10zM1069.5 707.5l5 9.5h-10zM1069.5 705.5l5 9.5h-10zM1069.5 703.5l5 9.5h-10zM1069.5 702.5l5 9.5h-10zM1069.5 700.5l5 9.5h-10zM1069.5 698.5l5 9.5h-10zM1069.5 696.5l5 9.5h-10zM1069.5 694.5l5 9.5h-10zM1069.5 692.5l5 9.5h-10zM1069.5 690.5l5 9.5h-10zM1069.5 687.5l5 9.5h-10zM1069.5 683.5l5 9.5h-10zM1069.5 681.5l5 9.5h-10zM1069.5 679.5l5 9.5h-10zM1069.5 678.5l5 9.5h-10zM1069.5 674.5l5 9.5h-10zM1069.5 670.5l5 9.5h-10zM1069.5 668.5l5 9.5h-10zM1069.5 665.5l5 9.5h-10zM1069.5 663.5l5 9.5h-10zM1069.5 659.5l5 9.5h-10zM1069.5 657.5l5 9.5h-10zM1069.5 655.5l5 9.5h-10zM1069.5 654.5l5 9.5h-10zM1069.5 650.5l5 9.5h-10zM1069.5 648.5l5 9.5h-10zM1069.5 644.5l5 9.5h-10zM1069.5 642.5l5 9.5h-10zM1069.5 639.5l5 9.5h-10zM1069.5 635.5l5 9.5h-10zM1069.5 633.5l5 9.5h-10zM1069.5 631.5l5 9.5h-10zM1069.5 628.5l5 9.5h-10zM1069.5 624.5l5 9.5h-10zM1069.5 613.5l5 9.5h-10zM1069.5 607.5l5 9.5h-10zM1069.5 600.5l5 9.5h-10zM1069.5 589.5l5 9.5h-10zM1069.5 521.5l5 9.5h-10zM1077.5 809.5l5 9.5h-10zM1077.5 798.5l5 9.5h-10zM1077.5 781.5l5 9.5h-10zM1077.5 764.5l5 9.5h-10zM1077.5 761.5l5 9.5h-10zM1077.5 755.5l5 9.5h-10zM1077.5 753.5l5 9.5h-10zM1077.5 751.5l5 9.5h-10zM1077.5 750.5l5 9.5h-10zM1077.5 748.5l5 9.5h-10zM1077.5 746.5l5 9.5h-10zM1077.5 740.5l5 9.5h-10zM1077.5 738.5l5 9.5h-10zM1077.5 729.5l5 9.5h-10zM1077.5 727.5l5 9.5h-10zM1077.5 722.5l5 9.5h-10zM1077.5 718.5l5 9.5h-10zM1077.5 714.5l5 9.5h-10zM1077.5 711.5l5 9.5h-10zM1077.5 709.5l5 9.5h-10zM1077.5 698.5l5 9.5h-10zM1077.5 694.5l5 9.5h-10zM1077.5 690.5l5 9.5h-10zM1077.5 689.5l5 9.5h-10zM1077.5 685.5l5 9.5h-10zM1077.5 679.5l5 9.5h-10zM1077.5 678.5l5 9.5h-10zM1077.5 666.5l5 9.5h-10zM1077.5 665.5l5 9.5h-10zM1077.5 657.5l5 9.5h-10zM1077.5 655.5l5 9.5h-10zM1077.5 652.5l5 9.5h-10zM1077.5 650.5l5 9.5h-10zM1077.5 648.5l5 9.5h-10zM1077.5 642.5l5 9.5h-10zM1077.5 641.5l5 9.5h-10zM1077.5 633.5l5 9.5h-10zM1077.5 630.5l5 9.5h-10zM1077.5 628.5l5 9.5h-10zM1077.5 626.5l5 9.5h-10zM1077.5 602.5l5 9.5h-10zM1077.5 600.5l5 9.5h-10zM1077.5 598.5l5 9.5h-10zM1077.5 594.5l5 9.5h-10zM1077.5 587.5l5 9.5h-10zM1077.5 567.5l5 9.5h-10zM1077.5 478.5l5 9.5h-10zM1086.5 812.5l5 9.5h-10zM1086.5 803.5l5 9.5h-10zM1086.5 792.5l5 9.5h-10zM1086.5 777.5l5 9.5h-10zM1086.5 764.5l5 9.5h-10zM1086.5 753.5l5 9.5h-10zM1086.5 746.5l5 9.5h-10zM1086.5 744.5l5 9.5h-10zM1086.5 742.5l5 9.5h-10zM1086.5 735.5l5 9.5h-10zM1086.5 733.5l5 9.5h-10zM1086.5 729.5l5 9.5h-10zM1086.5 722.5l5 9.5h-10zM1086.5 713.5l5 9.5h-10zM1086.5 703.5l5 9.5h-10zM1086.5 700.5l5 9.5h-10zM1086.5 698.5l5 9.5h-10zM1086.5 692.5l5 9.5h-10zM1086.5 690.5l5 9.5h-10zM1086.5 670.5l5 9.5h-10zM1086.5 668.5l5 9.5h-10zM1086.5 665.5l5 9.5h-10zM1086.5 663.5l5 9.5h-10zM1086.5 655.5l5 9.5h-10zM1086.5 650.5l5 9.5h-10zM1086.5 639.5l5 9.5h-10zM1086.5 635.5l5 9.5h-10zM1086.5 628.5l5 9.5h-10zM1086.5 626.5l5 9.5h-10zM1086.5 607.5l5 9.5h-10zM1086.5 606.5l5 9.5h-10zM1086.5 602.5l5 9.5h-10zM1086.5 598.5l5 9.5h-10zM1086.5 561.5l5 9.5h-10zM1094.5 816.5l5 9.5h-10zM1094.5 768.5l5 9.5h-10zM1094.5 759.5l5 9.5h-10zM1094.5 755.5l5 9.5h-10zM1094.5 753.5l5 9.5h-10zM1094.5 751.5l5 9.5h-10zM1094.5 740.5l5 9.5h-10zM1094.5 733.5l5 9.5h-10zM1094.5 731.5l5 9.5h-10zM1094.5 722.5l5 9.5h-10zM1094.5 718.5l5 9.5h-10zM1094.5 690.5l5 9.5h-10zM1094.5 681.5l5 9.5h-10zM1094.5 674.5l5 9.5h-10zM1094.5 670.5l5 9.5h-10zM1094.5 657.5l5 9.5h-10zM1094.5 650.5l5 9.5h-10zM1094.5 648.5l5 9.5h-10zM1094.5 635.5l5 9.5h-10zM1094.5 604.5l5 9.5h-10zM1103.5 751.5l5 9.5h-10zM1103.5 742.5l5 9.5h-10zM1103.5 702.5l5 9.5h-10zM1103.5 700.5l5 9.5h-10zM1103.5 692.5l5 9.5h-10zM1103.5 672.5l5 9.5h-10zM1103.5 639.5l5 9.5h-10zM1103.5 587.5l5 9.5h-10zM1103.5 582.5l5 9.5h-10zM1111.5 750.5l5 9.5h-10zM1111.5 731.5l5 9.5h-10zM1111.5 718.5l5 9.5h-10zM1111.5 657.5l5 9.5h-10zM1111.5 655.5l5 9.5h-10zM1111.5 644.5l5 9.5h-10zM1120.5 733.5l5 9.5h-10zM1120.5 720.5l5 9.5h-10zM1120.5 716.5l5 9.5h-10zM1120.5 687.5l5 9.5h-10zM1120.5 659.5l5 9.5h-10zM1128.5 755.5l5 9.5h-10zM1128.5 620.5l5 9.5h-10zM1137.5 744.5l5 9.5h-10zM1137.5 737.5l5 9.5h-10zM1137.5 735.5l5 9.5h-10zM1137.5 705.5l5 9.5h-10zM1137.5 703.5l5 9.5h-10zM1137.5 666.5l5 9.5h-10zM1146.5 702.5l5 9.5h-10z" fill="none" stroke="#3fb2e6" stroke-width="1"/>
<path d="M442 675.5h5V793.5h-5zM451 784.5h5V806.5h-5zM451 686.5h5V769.5h-5zM451 666.5h5V679.5h-5zM460 646.5h5V782.5h-5zM468 668.5h5V808.5h-5zM477 666.5h5V791.5h-5zM485 631.5h5V795.5h-5zM494 660.5h5V812.5h-5zM502 623.5h5V810.5h-5zM511 651.5h5V815.5h-5zM511 603.5h5V616.5h-5zM519 640.5h5V806.5h-5zM528 657.5h5V799.5h-5zM536 636.5h5V814.5h-5zM545 614.5h5V797.5h-5zM554 646.5h5V801.5h-5zM562 655.5h5V803.5h-5zM562 623.5h5V646.5h-5zM571 655.5h5V808.5h-5zM579 620.5h5V799.5h-5zM588 644.5h5V806.5h-5zM588 612.5h5V636.5h-5zM596 607.5h5V801.5h-5zM605 614.5h5V808.5h-5zM613 631.5h5V795.5h-5zM622 795.5h5V810.5h-5zM622 642.5h5V788.5h-5zM630 627.5h5V815.5h-5zM630 603.5h5V620.5h-5zM639 601.5h5V803.5h-5zM648 605.5h5V808.5h-5zM648 581.5h5V598.5h-5zM656 614.5h5V808.5h-5zM656 588.5h5V607.5h-5zM665 590.5h5V808.5h-5zM673 592.5h5V797.5h-5zM682 601.5h5V808.5h-5zM690 598.5h5V808.5h-5zM699 568.5h5V810.5h-5zM699 531.5h5V546.5h-5zM707 561.5h5V806.5h-5zM716 568.5h5V804.5h-5zM725 542.5h5V806.5h-5zM733 782.5h5V804.5h-5zM733 546.5h5V775.5h-5zM742 553.5h5V804.5h-5zM742 520.5h5V546.5h-5zM742 496.5h5V509.5h-5zM750 529.5h5V801.5h-5zM750 503.5h5V522.5h-5zM759 533.5h5V810.5h-5zM767 529.5h5V799.5h-5zM767 494.5h5V522.5h-5zM776 507.5h5V804.5h-5zM784 533.5h5V808.5h-5zM784 513.5h5V526.5h-5zM793 540.5h5V810.5h-5zM793 513.5h5V529.5h-5zM802 535.5h5V810.5h-5zM802 494.5h5V511.5h-5zM810 516.5h5V804.5h-5zM819 539.5h5V806.5h-5zM819 496.5h5V513.5h-5zM827 513.5h5V804.5h-5zM827 485.5h5V502.5h-5zM836 542.5h5V810.5h-5zM844 548.5h5V804.5h-5zM844 513.5h5V540.5h-5zM853 526.5h5V782.5h-5zM861 791.5h5V808.5h-5zM861 526.5h5V784.5h-5zM870 749.5h5V801.5h-5zM870 544.5h5V742.5h-5zM878 535.5h5V790.5h-5zM878 505.5h5V527.5h-5zM887 797.5h5V812.5h-5zM887 520.5h5V790.5h-5zM896 537.5h5V799.5h-5zM904 546.5h5V784.5h-5zM913 553.5h5V782.5h-5zM913 529.5h5V546.5h-5zM921 550.5h5V784.5h-5zM921 520.5h5V540.5h-5zM930 782.5h5V795.5h-5zM930 537.5h5V769.5h-5zM938 564.5h5V775.5h-5zM938 527.5h5V546.5h-5zM947 577.5h5V786.5h-5zM947 550.5h5V563.5h-5zM955 566.5h5V791.5h-5zM964 583.5h5V780.5h-5zM972 755.5h5V777.5h-5zM972 570.5h5V747.5h-5zM981 583.5h5V760.5h-5zM990 731.5h5V777.5h-5zM990 599.5h5V723.5h-5zM998 762.5h5V791.5h-5zM998 609.5h5V755.5h-5zM1007 736.5h5V767.5h-5zM1007 622.5h5V719.5h-5zM1015 611.5h5V749.5h-5zM1024 758.5h5V771.5h-5zM1024 675.5h5V751.5h-5zM1024 638.5h5V657.5h-5zM1024 614.5h5V631.5h-5zM1032 745.5h5V766.5h-5zM1032 694.5h5V719.5h-5zM1032 640.5h5V686.5h-5zM1032 611.5h5V623.5h-5zM1041 660.5h5V732.5h-5zM1041 625.5h5V649.5h-5zM1049 707.5h5V749.5h-5zM1049 666.5h5V699.5h-5zM1049 620.5h5V644.5h-5zM1058 721.5h5V745.5h-5zM1058 622.5h5V671.5h-5zM1067 629.5h5V646.5h-5z" fill="#f01818" fill-opacity="0.4"/>
<path d="M424.5 690.5h6m-6 4h6M441.5 609.5h6m-6 3h6m-6 2h6m-6 2h6m-6 4h6m-6 3h6m-6 2h6m-6 6h6m-6 2h6m-6 3h6m-6 2h6m-6 4h6m-6 4h6m-6 1h6m-6 4h6m-6 2h6m-6 4h6m-6 2h6m-6 1h6m-6 4h6m-6 4h6m-6 2h6m-6 3h6m-6 2h6m-6 2h6m-6 2h6m-6 2h6m-6 2h6m-6 1h6m-6 2h6m-6 2h6m-6 2h6m-6 2h6m-6 2h6m-6 1h6m-6 2h6m-6 2h6m-6 2h6m-6 2h6m-6 2h6m-6 2h6m-6 1h6m-6 2h6m-6 2h6m-6 2h6m-6 2h6m-6 2h6m-6 1h6m-6 2h6m-6 2h6m-6 2h6m-6 2h6m-6 2h6m-6 2h6m-6 1h6m-6 2h6m-6 2h6m-6 2h6m-6 2h6m-6 2h6m-6 1h6m-6 2h6m-6 2h6m-6 2h6m-6 2h6m-6 2h6m-6 2h6m-6 1h6m-6 2h6m-6 2h6m-6 2h6m-6 2h6m-6 2h6m-6 1h6m-6 2h6m-6 2h6m-6 2h6m-6 2h6m-6 2h6m-6 2h6m-6 1h6m-6 2h6m-6 2h6m-6 2h6m-6 2h6m-6 2h6m-6 1h6m-6 2h6m-6 2h6m-6 6h6m-6 2h6m-6 3h6m-6 6h6m-6 2h6m-6 3h6m-6 4h6M450.5 638.5h6m-6 2h6m-6 2h6m-6 2h6m-6 3h6m-6 2h6m-6 4h6m-6 2h6m-6 4h6m-6 1h6m-6 4h6m-6 2h6m-6 2h6m-6 2h6m-6 1h6m-6 2h6m-6 2h6m-6 2h6m-6 2h6m-6 2h6m-6 3h6m-6 2h6m-6 2h6m-6 2h6m-6 2h6m-6 2h6m-6 1h6m-6 2h6m-6 2h6m-6 2h6m-6 2h6m-6 2h6m-6 2h6m-6 1h6m-6 2h6m-6 2h6m-6 2h6m-6 2h6m-6 2h6m-6 1h6m-6 2h6m-6 2h6m-6 2h6m-6 2h6m-6 2h6m-6 2h6m-6 1h6m-6 2h6m-6 2h6m-6 2h6m-6 2h6m-6 2h6m-6 1h6m-6 2h6m-6 2h6m-6 2h6m-6 2h6m-6 2h6m-6 2h6m-6 1h6m-6 2h6m-6 2h6m-6 2h6m-6 2h6m-6 2h6m-6 1h6m-6 2h6m-6 2h6m-6 4h6m-6 2h6m-6 2h6m-6 3h6m-6 2h6m-6 2h6m-6 2h6m-6 2h6m-6 1h6m-6 2h6m-6 2h6m-6 2h6m-6 2h6m-6 2h6m-6 2h6m-6 1h6m-6 2h6m-6 2h6m-6 4h6m-6 3h6m-6 2h6m-6 4h6M450.5 622.5h6m-6 5h6M450.5 592.5h6m-6 6h6m-6 3h6M459.5 817.5h6m-6 2h6m-6 4h6M459.5 612.5h6m-6 4h6m-6 2h6m-6 4h6m-6 3h6m-6 2h6m-6 2h6m-6 2h6m-6 2h6m-6 2h6m-6 5h6m-6 4h6m-6 2h6m-6 1h6m-6 2h6m-6 2h6m-6 2h6m-6 2h6m-6 2h6m-6 2h6m-6 1h6m-6 2h6m-6 2h6m-6 2h6m-6 2h6m-6 2h6m-6 1h6m-6 2h6m-6 2h6m-6 2h6m-6 2h6m-6 2h6m-6 2h6m-6 1h6m-6 2h6m-6 2h6m-6 2h6m-6 2h6m-6 2h6m-6 1h6m-6 2h6m-6 2h6m-6 2h6m-6 2h6m-6 2h6m-6 2h6m-6 1h6m-6 2h6m-6 2h6m-6 2h6m-6 2h6m-6 2h6m-6 1h6m-6 2h6m-6 2h6m-6 2h6m-6 2h6m-6 2h6m-6 2h6m-6 1h6m-6 2h6m-6 2h6m-6 2h6m-6 2h6m-6 2h6m-6 1h6m-6 2h6m-6 2h6m-6 2h6m-6 2h6m-6 2h6m-6 2h6m-6 1h6m-6 2h6m-6 2h6m-6 2h6m-6 2h6m-6 2h6m-6 1h6m-6 2h6m-6 2h6m-6 2h6m-6 2h6m-6 2h6m-6 2h6m-6 1h6m-6 2h6m-6 2h6m-6 4h6m-6 3h6m-6 2h6m-6 2h6m-6 2h6m-6 2h6m-6 2h6m-6 2h6m-6 3h6m-6 2h6m-6 2h6M459.5 594.5h6m-6 5h6m-6 6h6M467.5 817.5h6m-6 2h6m-6 4h6m-6 2h6m-6 3h6m-6 2h6M467.5 601.5h6m-6 2h6m-6 2h6m-6 4h6m-6 2h6m-6 3h6m-6 6h6m-6 3h6m-6 2h6m-6 2h6m-6 2h6m-6 4h6m-6 2h6m-6 3h6m-6 2h6m-6 6h6m-6 5h6m-6 2h6m-6 2h6m-6 2h6m-6 2h6m-6 1h6m-6 2h6m-6 4h6m-6 2h6m-6 2h6m-6 1h6m-6 2h6m-6 2h6m-6 2h6m-6 2h6m-6 2h6m-6 2h6m-6 1h6m-6 2h6m-6 2h6m-6 2h6m-6 2h6m-6 2h6m-6 1h6m-6 2h6m-6 2h6m-6 2h6m-6 2h6m-6 2h6m-6 2h6m-6 1h6m-6 2h6m-6 2h6m-6 2h6m-6 2h6m-6 2h6m-6 1h6m-6 2h6m-6 2h6m-6 2h6m-6 2h6m-6 2h6m-6 2h6m-6 1h6m-6 2h6m-6 2h6m-6 2h6m-6 2h6m-6 2h6m-6 1h6m-6 2h6m-6 2h6m-6 2h6m-6 2h6m-6 2h6m-6 2h6m-6 1h6m-6 2h6m-6 2h6m-6 2h6m-6 2h6m-6 2h6m-6 1h6m-6 2h6m-6 2h6m-6 2h6m-6 2h6m-6 2h6m-6 2h6m-6 1h6m-6 2h6m-6 2h6m-6 2h6m-6 2h6m-6 2h6m-6 1h6m-6 2h6m-6 2h6m-6 2h6m-6 2h6m-6 2h6m-6 2h6m-6 1h6m-6 2h6m-6 2h6m-6 2h6M467.5 587.5h6m-6 5h6m-6 2h6M476.5 821.5h6m-6 2h6M476.5 623.5h6m-6 4h6m-6 4h6m-6 2h6m-6 2h6m-6 5h6m-6 2h6m-6 2h6m-6 2h6m-6 1h6m-6 2h6m-6 2h6m-6 6h6m-6 2h6m-6 1h6m-6 4h6m-6 2h6m-6 2h6m-6 2h6m-6 1h6m-6 2h6m-6 2h6m-6 2h6m-6 2h6m-6 2h6m-6 2h6m-6 1h6m-6 2h6m-6 2h6m-6 2h6m-6 2h6m-6 2h6m-6 1h6m-6 2h6m-6 2h6m-6 2h6m-6 2h6m-6 2h6m-6 2h6m-6 1h6m-6 2h6m-6 2h6m-6 2h6m-6 2h6m-6 2h6m-6 1h6m-6 2h6m-6 2h6m-6 2h6m-6 2h6m-6 2h6m-6 2h6m-6 1h6m-6 2h6m-6 2h6m-6 2h6m-6 2h6m-6 2h6m-6 1h6m-6 2h6m-6 2h6m-6 2h6m-6 2h6m-6 2h6m-6 2h6m-6 1h6m-6 2h6m-6 2h6m-6 2h6m-6 2h6m-6 2h6m-6 1h6m-6 2h6m-6 2h6m-6 2h6m-6 2h6m-6 2h6m-6 2h6m-6 1h6m-6 2h6m-6 2h6m-6 2h6m-6 2h6m-6 2h6m-6 1h6m-6 2h6m-6 4h6m-6 2h6m-6 2h6m-6 2h6m-6 1h6m-6 2h6m-6 4h6m-6 2h6M476.5 579.5h6m-6 6h6m-6 3h6m-6 4h6m-6 2h6m-6 2h6m-6 3h6m-6 2h6m-6 4h6m-6 4h6m-6 3h6m-6 2h6M484.5 629.5h6m-6 2h6m-6 2h6m-6 2h6m-6 1h6m-6 2h6m-6 2h6m-6 2h6m-6 2h6m-6 2h6m-6 1h6m-6 2h6m-6 2h6m-6 2h6m-6 2h6m-6 2h6m-6 2h6m-6 1h6m-6 2h6m-6 2h6m-6 2h6m-6 2h6m-6 2h6m-6 1h6m-6 2h6m-6 2h6m-6 2h6m-6 2h6m-6 2h6m-6 2h6m-6 1h6m-6 2h6m-6 2h6m-6 2h6m-6 2h6m-6 2h6m-6 1h6m-6 2h6m-6 2h6m-6 2h6m-6 2h6m-6 2h6m-6 2h6m-6 1h6m-6 2h6m-6 2h6m-6 2h6m-6 2h6m-6 2h6m-6 1h6m-6 2h6m-6 2h6m-6 2h6m-6 2h6m-6 2h6m-6 2h6m-6 1h6m-6 2h6m-6 2h6m-6 2h6m-6 2h6m-6 2h6m-6 1h6m-6 2h6m-6 2h6m-6 2h6m-6 2h6m-6 2h6m-6 2h6m-6 1h6m-6 2h6m-6 2h6m-6 2h6m-6 2h6m-6 2h6m-6 1h6m-6 2h6m-6 2h6m-6 2h6m-6 2h6m-6 2h6m-6 2h6m-6 1h6m-6 2h6m-6 2h6m-6 2h6m-6 2h6m-6 2h6m-6 1h6m-6 2h6m-6 2h6m-6 2h6m-6 4h6m-6 2h6m-6 1h6m-6 2h6m-6 2h6m-6 2h6m-6 2h6m-6 3h6m-6 2h6M484.5 601.5h6m-6 2h6m-6 2h6m-6 2h6m-6 2h6m-6 2h6m-6 1h6m-6 2h6m-6 2h6m-6 4h6m-6 2h6M484.5 579.5h6m-6 2h6m-6 2h6m-6 4h6m-6 5h6m-6 2h6M493.5 618.5h6m-6 4h6m-6 1h6m-6 4h6m-6 2h6m-6 2h6m-6 2h6m-6 3h6m-6 4h6m-6 2h6m-6 2h6m-6 2h6m-6 1h6m-6 2h6m-6 2h6m-6 2h6m-6 2h6m-6 4h6m-6 1h6m-6 2h6m-6 2h6m-6 2h6m-6 2h6m-6 2h6m-6 1h6m-6 2h6m-6 2h6m-6 2h6m-6 2h6m-6 2h6m-6 2h6m-6 1h6m-6 2h6m-6 2h6m-6 2h6m-6 2h6m-6 2h6m-6 1h6m-6 2h6m-6 2h6m-6 2h6m-6 2h6m-6 2h6m-6 2h6m-6 1h6m-6 2h6m-6 2h6m-6 2h6m-6 2h6m-6 2h6m-6 1h6m-6 2h6m-6 2h6m-6 2h6m-6 2h6m-6 2h6m-6 2h6m-6 1h6m-6 2h6m-6 2h6m-6 2h6m-6 2h6m-6 2h6m-6 1h6m-6 2h6m-6 2h6m-6 2h6m-6 2h6m-6 2h6m-6 2h6m-6 1h6m-6 2h6m-6 2h6m-6 2h6m-6 2h6m-6 2h6m-6 1h6m-6 2h6m-6 2h6m-6 2h6m-6 2h6m-6 2h6m-6 2h6m-6 1h6m-6 2h6m-6 2h6m-6 2h6m-6 2h6m-6 2h6m-6 1h6m-6 2h6m-6 2h6m-6 2h6m-6 2h6m-6 2h6m-6 2h6m-6 1h6m-6 2h6m-6 2h6m-6 2h6m-6 2h6m-6 2h6M493.5 598.5h6m-6 3h6m-6 6h6m-6 2h6M493.5 579.5h6m-6 4h6m-6 2h6m-6 3h6M493.5 548.5h6m-6 2h6M501.5 609.5h6m-6 2h6m-6 1h6m-6 4h6m-6 6h6m-6 1h6m-6 2h6m-6 2h6m-6 2h6m-6 2h6m-6 2h6m-6 2h6m-6 1h6m-6 2h6m-6 2h6m-6 2h6m-6 2h6m-6 2h6m-6 1h6m-6 2h6m-6 2h6m-6 2h6m-6 2h6m-6 2h6m-6 2h6m-6 1h6m-6 2h6m-6 2h6m-6 2h6m-6 2h6m-6 2h6m-6 1h6m-6 2h6m-6 2h6m-6 2h6m-6 2h6m-6 2h6m-6 2h6m-6 1h6m-6 2h6m-6 2h6m-6 2h6m-6 2h6m-6 2h6m-6 1h6m-6 2h6m-6 2h6m-6 2h6m-6 2h6m-6 2h6m-6 2h6m-6 1h6m-6 2h6m-6 2h6m-6 2h6m-6 2h6m-6 2h6m-6 1h6m-6 2h6m-6 2h6m-6 2h6m-6 2h6m-6 2h6m-6 2h6m-6 1h6m-6 2h6m-6 2h6m-6 2h6m-6 2h6m-6 2h6m-6 1h6m-6 2h6m-6 2h6m-6 2h6m-6 2h6m-6 2h6m-6 2h6m-6 1h6m-6 2h6m-6 2h6m-6 2h6m-6 2h6m-6 2h6m-6 1h6m-6 2h6m-6 2h6m-6 2h6m-6 2h6m-6 2h6m-6 2h6m-6 1h6m-6 2h6m-6 2h6m-6 2h6m-6 2h6m-6 2h6m-6 1h6m-6 2h6m-6 2h6m-6 2h6m-6 2h6m-6 2h6m-6 2h6m-6 1h6m-6 2h6m-6 2h6m-6 2h6m-6 2h6m-6 3h6m-6 4h6m-6 4h6M501.5 581.5h6m-6 2h6m-6 5h6m-6 2h6m-6 2h6m-6 2h6m-6 2h6m-6 2h6m-6 1h6m-6 2h6M501.5 557.5h6m-6 6h6M510.5 625.5h6m-6 4h6m-6 2h6m-6 2h6m-6 3h6m-6 2h6m-6 2h6m-6 2h6m-6 2h6m-6 2h6m-6 3h6m-6 2h6m-6 2h6m-6 2h6m-6 2h6m-6 2h6m-6 1h6m-6 2h6m-6 2h6m-6 2h6m-6 2h6m-6 2h6m-6 1h6m-6 2h6m-6 2h6m-6 2h6m-6 2h6m-6 2h6m-6 2h6m-6 1h6m-6 2h6m-6 2h6m-6 2h6m-6 2h6m-6 2h6m-6 1h6m-6 2h6m-6 2h6m-6 2h6m-6 2h6m-6 2h6m-6 2h6m-6 1h6m-6 2h6m-6 2h6m-6 2h6m-6 2h6m-6 2h6m-6 1h6m-6 2h6m-6 2h6m-6 2h6m-6 2h6m-6 2h6m-6 2h6m-6 1h6m-6 2h6m-6 2h6m-6 2h6m-6 2h6m-6 2h6m-6 1h6m-6 2h6m-6 2h6m-6 2h6m-6 2h6m-6 2h6m-6 2h6m-6 1h6m-6 2h6m-6 2h6m-6 2h6m-6 2h6m-6 2h6m-6 1h6m-6 2h6m-6 2h6m-6 2h6m-6 2h6m-6 2h6m-6 2h6m-6 1h6m-6 2h6m-6 2h6m-6 2h6m-6 2h6m-6 2h6m-6 1h6m-6 2h6m-6 2h6m-6 2h6m-6 2h6m-6 2h6m-6 2h6m-6 1h6m-6 2h6m-6 2h6m-6 2h6m-6 2h6m-6 2h6m-6 1h6m-6 2h6m-6 4h6M510.5 572.5h6m-6 3h6m-6 2h6m-6 2h6m-6 6h6m-6 2h6m-6 3h6m-6 2h6m-6 4h6m-6 5h6m-6 2h6m-6 2h6m-6 2h6m-6 2h6m-6 2h6m-6 1h6m-6 2h6m-6 2h6m-6 2h6M510.5 553.5h6m-6 4h6M510.5 542.5h6m-6 2h6M510.5 524.5h6m-6 5h6m-6 2h6M518.5 638.5h6m-6 2h6m-6 2h6m-6 2h6m-6 2h6m-6 1h6m-6 2h6m-6 2h6m-6 2h6m-6 2h6m-6 2h6m-6 2h6m-6 1h6m-6 2h6m-6 2h6m-6 2h6m-6 2h6m-6 2h6m-6 1h6m-6 2h6m-6 2h6m-6 2h6m-6 2h6m-6 2h6m-6 2h6m-6 1h6m-6 2h6m-6 2h6m-6 2h6m-6 2h6m-6 2h6m-6 1h6m-6 2h6m-6 2h6m-6 2h6m-6 2h6m-6 2h6m-6 2h6m-6 1h6m-6 2h6m-6 2h6m-6 2h6m-6 2h6m-6 2h6m-6 1h6m-6 2h6m-6 2h6m-6 2h6m-6 2h6m-6 2h6m-6 2h6m-6 1h6m-6 2h6m-6 2h6m-6 2h6m-6 2h6m-6 2h6m-6 1h6m-6 2h6m-6 2h6m-6 2h6m-6 2h6m-6 2h6m-6 2h6m-6 1h6m-6 2h6m-6 2h6m-6 2h6m-6 2h6m-6 2h6m-6 1h6m-6 2h6m-6 2h6m-6 2h6m-6 2h6m-6 2h6m-6 2h6m-6 1h6m-6 2h6m-6 2h6m-6 2h6m-6 2h6m-6 2h6m-6 1h6m-6 2h6m-6 2h6m-6 2h6m-6 2h6m-6 2h6m-6 2h6m-6 1h6m-6 2h6m-6 2h6m-6 4h6m-6 3h6m-6 4h6M518.5 592.5h6m-6 2h6m-6 5h6m-6 2h6m-6 4h6m-6 4h6m-6 5h6m-6 4h6m-6 2h6m-6 3h6m-6 2h6m-6 4h6m-6 2h6M518.5 568.5h6m-6 2h6m-6 4h6M518.5 544.5h6m-6 2h6m-6 5h6m-6 2h6M527.5 825.5h6m-6 5h6M527.5 577.5h6m-6 2h6m-6 2h6m-6 4h6m-6 2h6m-6 3h6m-6 2h6m-6 4h6m-6 3h6m-6 2h6m-6 2h6m-6 2h6m-6 6h6m-6 1h6m-6 2h6m-6 2h6m-6 2h6m-6 2h6m-6 2h6m-6 3h6m-6 2h6m-6 4h6m-6 2h6m-6 2h6m-6 3h6m-6 2h6m-6 2h6m-6 2h6m-6 3h6m-6 2h6m-6 2h6m-6 4h6m-6 2h6m-6 2h6m-6 1h6m-6 2h6m-6 2h6m-6 2h6m-6 2h6m-6 2h6m-6 1h6m-6 2h6m-6 2h6m-6 2h6m-6 2h6m-6 2h6m-6 2h6m-6 1h6m-6 2h6m-6 2h6m-6 2h6m-6 2h6m-6 2h6m-6 1h6m-6 2h6m-6 2h6m-6 2h6m-6 2h6m-6 2h6m-6 2h6m-6 1h6m-6 2h6m-6 2h6m-6 2h6m-6 2h6m-6 2h6m-6 1h6m-6 2h6m-6 2h6m-6 2h6m-6 2h6m-6 2h6m-6 2h6m-6 1h6m-6 2h6m-6 2h6m-6 2h6m-6 2h6m-6 2h6m-6 1h6m-6 2h6m-6 2h6m-6 2h6m-6 2h6m-6 2h6m-6 2h6m-6 1h6m-6 2h6m-6 2h6m-6 2h6m-6 2h6m-6 2h6m-6 1h6m-6 2h6m-6 2h6m-6 2h6m-6 2h6m-6 2h6m-6 2h6m-6 1h6m-6 2h6m-6 2h6m-6 2h6m-6 2h6m-6 2h6m-6 1h6m-6 2h6m-6 2h6m-6 2h6m-6 2h6m-6 2h6m-6 3h6m-6 2h6m-6 4h6m-6 2h6m-6 2h6m-6 1h6M527.5 557.5h6m-6 6h6M535.5 594.5h6m-6 4h6m-6 1h6m-6 2h6m-6 2h6m-6 2h6m-6 2h6m-6 5h6m-6 4h6m-6 2h6m-6 4h6m-6 1h6m-6 2h6m-6 2h6m-6 2h6m-6 2h6m-6 4h6m-6 1h6m-6 2h6m-6 2h6m-6 2h6m-6 2h6m-6 2h6m-6 1h6m-6 2h6m-6 2h6m-6 2h6m-6 2h6m-6 2h6m-6 2h6m-6 1h6m-6 2h6m-6 2h6m-6 2h6m-6 2h6m-6 2h6m-6 1h6m-6 2h6m-6 2h6m-6 2h6m-6 2h6m-6 2h6m-6 2h6m-6 1h6m-6 2h6m-6 2h6m-6 2h6m-6 2h6m-6 2h6m-6 1h6m-6 2h6m-6 2h6m-6 2h6m-6 2h6m-6 2h6m-6 2h6m-6 1h6m-6 2h6m-6 2h6m-6 2h6m-6 2h6m-6 2h6m-6 1h6m-6 2h6m-6 2h6m-6 2h6m-6 2h6m-6 2h6m-6 2h6m-6 1h6m-6 2h6m-6 2h6m-6 2h6m-6 2h6m-6 2h6m-6 1h6m-6 2h6m-6 2h6m-6 2h6m-6 2h6m-6 2h6m-6 2h6m-6 1h6m-6 2h6m-6 2h6m-6 2h6m-6 2h6m-6 2h6m-6 1h6m-6 2h6m-6 2h6m-6 2h6m-6 2h6m-6 2h6m-6 2h6m-6 1h6m-6 2h6m-6 2h6m-6 2h6m-6 2h6m-6 2h6m-6 1h6m-6 2h6m-6 2h6m-6 2h6m-6 2h6m-6 2h6m-6 2h6m-6 1h6m-6 2h6m-6 2h6m-6 2h6m-6 2h6m-6 2h6m-6 1h6m-6 4h6m-6 2h6m-6 2h6M535.5 575.5h6m-6 2h6m-6 2h6m-6 2h6m-6 2h6m-6 2h6M535.5 559.5h6m-6 5h6m-6 4h6M535.5 537.5h6m-6 2h6M544.5 564.5h6m-6 4h6m-6 6h6m-6 1h6m-6 2h6m-6 6h6m-6 2h6m-6 2h6m-6 1h6m-6 2h6m-6 2h6m-6 6h6m-6 1h6m-6 2h6m-6 2h6m-6 2h6m-6 2h6m-6 2h6m-6 3h6m-6 2h6m-6 2h6m-6 2h6m-6 2h6m-6 2h6m-6 1h6m-6 2h6m-6 2h6m-6 2h6m-6 2h6m-6 2h6m-6 2h6m-6 1h6m-6 2h6m-6 2h6m-6 2h6m-6 2h6m-6 2h6m-6 1h6m-6 2h6m-6 2h6m-6 2h6m-6 2h6m-6 2h6m-6 2h6m-6 1h6m-6 2h6m-6 2h6m-6 2h6m-6 2h6m-6 2h6m-6 1h6m-6 2h6m-6 2h6m-6 2h6m-6 2h6m-6 2h6m-6 2h6m-6 1h6m-6 2h6m-6 2h6m-6 2h6m-6 2h6m-6 2h6m-6 1h6m-6 2h6m-6 2h6m-6 2h6m-6 2h6m-6 2h6m-6 2h6m-6 1h6m-6 2h6m-6 2h6m-6 2h6m-6 2h6m-6 2h6m-6 1h6m-6 2h6m-6 2h6m-6 2h6m-6 2h6m-6 2h6m-6 2h6m-6 1h6m-6 2h6m-6 2h6m-6 2h6m-6 2h6m-6 2h6m-6 1h6m-6 2h6m-6 2h6m-6 2h6m-6 2h6m-6 2h6m-6 2h6m-6 1h6m-6 2h6m-6 2h6m-6 2h6m-6 2h6m-6 2h6m-6 1h6m-6 2h6m-6 2h6m-6 2h6m-6 2h6m-6 2h6m-6 2h6m-6 1h6m-6 2h6m-6 2h6m-6 2h6m-6 2h6m-6 2h6m-6 1h6m-6 2h6m-6 2h6m-6 2h6m-6 2h6m-6 4h6m-6 1h6m-6 2h6m-6 6h6m-6 3h6m-6 2h6m-6 4h6M544.5 531.5h6m-6 6h6M544.5 522.5h6m-6 2h6M553.5 566.5h6m-6 4h6m-6 5h6m-6 2h6m-6 2h6m-6 4h6m-6 2h6m-6 2h6m-6 1h6m-6 4h6m-6 2h6m-6 2h6m-6 2h6m-6 1h6m-6 2h6m-6 2h6m-6 2h6m-6 2h6m-6 5h6m-6 4h6m-6 2h6m-6 2h6m-6 2h6m-6 1h6m-6 2h6m-6 4h6m-6 2h6m-6 2h6m-6 2h6m-6 1h6m-6 2h6m-6 2h6m-6 4h6m-6 2h6m-6 1h6m-6 2h6m-6 2h6m-6 2h6m-6 2h6m-6 2h6m-6 2h6m-6 1h6m-6 2h6m-6 2h6m-6 2h6m-6 2h6m-6 2h6m-6 1h6m-6 2h6m-6 2h6m-6 2h6m-6 2h6m-6 2h6m-6 2h6m-6 1h6m-6 2h6m-6 2h6m-6 2h6m-6 2h6m-6 2h6m-6 1h6m-6 2h6m-6 2h6m-6 2h6m-6 2h6m-6 2h6m-6 2h6m-6 1h6m-6 2h6m-6 2h6m-6 2h6m-6 2h6m-6 2h6m-6 1h6m-6 2h6m-6 2h6m-6 2h6m-6 2h6m-6 2h6m-6 2h6m-6 1h6m-6 2h6m-6 2h6m-6 2h6m-6 2h6m-6 2h6m-6 1h6m-6 2h6m-6 2h6m-6 2h6m-6 2h6m-6 2h6m-6 2h6m-6 1h6m-6 2h6m-6 2h6m-6 2h6m-6 2h6m-6 2h6m-6 1h6m-6 2h6m-6 2h6m-6 2h6m-6 2h6m-6 2h6m-6 2h6m-6 1h6m-6 2h6m-6 2h6m-6 2h6m-6 2h6m-6 2h6m-6 1h6m-6 2h6m-6 2h6m-6 2h6m-6 2h6m-6 2h6m-6 2h6m-6 3h6m-6 2h6m-6 2h6m-6 2h6m-6 2h6m-6 1h6m-6 6h6m-6 2h6m-6 5h6m-6 4h6M561.5 823.5h6m-6 2h6m-6 3h6m-6 4h6M561.5 601.5h6m-6 2h6m-6 4h6m-6 2h6m-6 5h6m-6 2h6m-6 2h6m-6 4h6m-6 1h6m-6 2h6m-6 2h6m-6 2h6m-6 2h6m-6 2h6m-6 2h6m-6 1h6m-6 2h6m-6 2h6m-6 2h6m-6 2h6m-6 2h6m-6 1h6m-6 6h6m-6 2h6m-6 2h6m-6 2h6m-6 1h6m-6 2h6m-6 2h6m-6 2h6m-6 2h6m-6 2h6m-6 1h6m-6 2h6m-6 2h6m-6 2h6m-6 2h6m-6 2h6m-6 2h6m-6 1h6m-6 2h6m-6 2h6m-6 2h6m-6 2h6m-6 2h6m-6 1h6m-6 2h6m-6 2h6m-6 2h6m-6 2h6m-6 2h6m-6 2h6m-6 1h6m-6 2h6m-6 2h6m-6 2h6m-6 2h6m-6 2h6m-6 1h6m-6 2h6m-6 2h6m-6 2h6m-6 2h6m-6 2h6m-6 2h6m-6 1h6m-6 2h6m-6 2h6m-6 2h6m-6 2h6m-6 2h6m-6 1h6m-6 2h6m-6 2h6m-6 2h6m-6 2h6m-6 2h6m-6 2h6m-6 1h6m-6 2h6m-6 2h6m-6 2h6m-6 2h6m-6 2h6m-6 1h6m-6 2h6m-6 2h6m-6 2h6m-6 2h6m-6 2h6m-6 2h6m-6 1h6m-6 2h6m-6 2h6m-6 2h6m-6 2h6m-6 2h6m-6 1h6m-6 2h6m-6 2h6m-6 2h6m-6 2h6m-6 2h6m-6 2h6m-6 1h6m-6 4h6m-6 2h6m-6 2h6m-6 3h6M561.5 592.5h6m-6 2h6M561.5 568.5h6m-6 2h6m-6 2h6m-6 2h6m-6 1h6m-6 2h6m-6 4h6m-6 2h6m-6 2h6M561.5 544.5h6m-6 6h6m-6 5h6m-6 2h6m-6 2h6M561.5 527.5h6m-6 2h6M561.5 496.5h6m-6 2h6M570.5 594.5h6m-6 2h6m-6 3h6m-6 2h6m-6 4h6m-6 2h6m-6 2h6m-6 3h6m-6 2h6m-6 4h6m-6 4h6m-6 3h6m-6 2h6m-6 2h6m-6 2h6m-6 2h6m-6 3h6m-6 2h6m-6 2h6m-6 2h6m-6 2h6m-6 2h6m-6 1h6m-6 2h6m-6 4h6m-6 2h6m-6 2h6m-6 2h6m-6 1h6m-6 2h6m-6 2h6m-6 2h6m-6 2h6m-6 2h6m-6 1h6m-6 2h6m-6 2h6m-6 2h6m-6 2h6m-6 2h6m-6 2h6m-6 1h6m-6 2h6m-6 2h6m-6 2h6m-6 2h6m-6 2h6m-6 1h6m-6 2h6m-6 2h6m-6 2h6m-6 2h6m-6 2h6m-6 2h6m-6 1h6m-6 2h6m-6 2h6m-6 2h6m-6 2h6m-6 2h6m-6 1h6m-6 2h6m-6 2h6m-6 2h6m-6 2h6m-6 2h6m-6 2h6m-6 1h6m-6 2h6m-6 2h6m-6 2h6m-6 2h6m-6 2h6m-6 1h6m-6 2h6m-6 2h6m-6 2h6m-6 2h6m-6 2h6m-6 2h6m-6 1h6m-6 2h6m-6 2h6m-6 2h6m-6 2h6m-6 2h6m-6 1h6m-6 2h6m-6 2h6m-6 2h6m-6 2h6m-6 2h6m-6 2h6m-6 1h6m-6 2h6m-6 2h6m-6 2h6m-6 2h6m-6 2h6m-6 1h6m-6 2h6m-6 2h6m-6 2h6m-6 2h6m-6 2h6m-6 2h6m-6 1h6m-6 2h6m-6 2h6m-6 2h6m-6 4h6M570.5 563.5h6m-6 1h6m-6 2h6m-6 6h6m-6 5h6m-6 4h6m-6 2h6m-6 2h6M570.5 539.5h6m-6 1h6M570.5 476.5h6m-6 5h6M578.5 823.5h6m-6 4h6M578.5 814.5h6m-6 1h6M578.5 540.5h6m-6 4h6m-6 4h6m-6 2h6m-6 5h6m-6 2h6m-6 2h6m-6 4h6m-6 1h6m-6 6h6m-6 2h6m-6 3h6m-6 4h6m-6 2h6m-6 4h6m-6 3h6m-6 2h6m-6 2h6m-6 2h6m-6 2h6m-6 2h6m-6 1h6m-6 4h6m-6 2h6m-6 2h6m-6 2h6m-6 2h6m-6 1h6m-6 2h6m-6 4h6m-6 2h6m-6 2h6m-6 1h6m-6 2h6m-6 2h6m-6 2h6m-6 2h6m-6 2h6m-6 2h6m-6 1h6m-6 2h6m-6 2h6m-6 2h6m-6 2h6m-6 2h6m-6 1h6m-6 2h6m-6 2h6m-6 2h6m-6 2h6m-6 2h6m-6 2h6m-6 1h6m-6 2h6m-6 2h6m-6 2h6m-6 2h6m-6 2h6m-6 1h6m-6 2h6m-6 2h6m-6 2h6m-6 2h6m-6 2h6m-6 2h6m-6 1h6m-6 2h6m-6 2h6m-6 2h6m-6 2h6m-6 2h6m-6 1h6m-6 2h6m-6 2h6m-6 2h6m-6 2h6m-6 2h6m-6 2h6m-6 1h6m-6 2h6m-6 2h6m-6 2h6m-6 2h6m-6 2h6m-6 1h6m-6 2h6m-6 2h6m-6 2h6m-6 2h6m-6 2h6m-6 2h6m-6 1h6m-6 2h6m-6 2h6m-6 2h6m-6 2h6m-6 2h6m-6 1h6m-6 2h6m-6 2h6m-6 2h6m-6 2h6m-6 2h6m-6 2h6m-6 1h6m-6 2h6m-6 2h6m-6 2h6m-6 2h6m-6 2h6m-6 1h6m-6 2h6m-6 2h6m-6 2h6m-6 2h6m-6 2h6m-6 2h6m-6 1h6m-6 2h6m-6 2h6m-6 2h6m-6 2h6m-6 2h6m-6 1h6m-6 2h6m-6 2h6m-6 2h6m-6 2h6m-6 2h6m-6 3h6m-6 2h6M578.5 511.5h6m-6 2h6M578.5 498.5h6m-6 4h6M587.5 827.5h6m-6 1h6m-6 4h6M587.5 553.5h6m-6 2h6m-6 2h6m-6 4h6m-6 3h6m-6 2h6m-6 2h6m-6 2h6m-6 5h6m-6 2h6m-6 2h6m-6 4h6m-6 5h6m-6 2h6m-6 4h6m-6 2h6m-6 2h6m-6 1h6m-6 2h6m-6 4h6m-6 2h6m-6 4h6m-6 1h6m-6 2h6m-6 2h6m-6 2h6m-6 2h6m-6 2h6m-6 1h6m-6 2h6m-6 2h6m-6 2h6m-6 2h6m-6 2h6m-6 2h6m-6 1h6m-6 2h6m-6 4h6m-6 2h6m-6 2h6m-6 1h6m-6 2h6m-6 2h6m-6 2h6m-6 2h6m-6 2h6m-6 2h6m-6 1h6m-6 2h6m-6 2h6m-6 2h6m-6 2h6m-6 2h6m-6 1h6m-6 2h6m-6 2h6m-6 2h6m-6 2h6m-6 2h6m-6 2h6m-6 1h6m-6 2h6m-6 2h6m-6 2h6m-6 2h6m-6 2h6m-6 1h6m-6 2h6m-6 2h6m-6 2h6m-6 2h6m-6 2h6m-6 2h6m-6 1h6m-6 2h6m-6 2h6m-6 2h6m-6 2h6m-6 2h6m-6 1h6m-6 2h6m-6 2h6m-6 2h6m-6 2h6m-6 2h6m-6 2h6m-6 1h6m-6 2h6m-6 2h6m-6 2h6m-6 2h6m-6 2h6m-6 1h6m-6 2h6m-6 2h6m-6 2h6m-6 2h6m-6 2h6m-6 2h6m-6 1h6m-6 2h6m-6 2h6m-6 2h6m-6 2h6m-6 2h6m-6 1h6m-6 2h6m-6 2h6m-6 2h6m-6 2h6m-6 2h6m-6 2h6m-6 1h6m-6 2h6m-6 2h6m-6 2h6m-6 2h6m-6 2h6m-6 1h6m-6 2h6m-6 2h6m-6 2h6m-6 2h6m-6 2h6m-6 2h6m-6 1h6m-6 2h6m-6 2h6m-6 4h6M587.5 537.5h6m-6 5h6m-6 2h6m-6 2h6M595.5 557.5h6m-6 2h6m-6 2h6m-6 2h6m-6 1h6m-6 2h6m-6 4h6m-6 2h6m-6 2h6m-6 5h6m-6 2h6m-6 2h6m-6 4h6m-6 1h6m-6 4h6m-6 4h6m-6 2h6m-6 1h6m-6 6h6m-6 2h6m-6 2h6m-6 2h6m-6 1h6m-6 2h6m-6 2h6m-6 2h6m-6 2h6m-6 2h6m-6 1h6m-6 2h6m-6 2h6m-6 2h6m-6 2h6m-6 2h6m-6 2h6m-6 1h6m-6 2h6m-6 2h6m-6 2h6m-6 2h6m-6 2h6m-6 1h6m-6 2h6m-6 2h6m-6 2h6m-6 2h6m-6 2h6m-6 2h6m-6 1h6m-6 2h6m-6 2h6m-6 2h6m-6 2h6m-6 2h6m-6 1h6m-6 2h6m-6 2h6m-6 2h6m-6 2h6m-6 2h6m-6 2h6m-6 1h6m-6 2h6m-6 2h6m-6 2h6m-6 2h6m-6 2h6m-6 1h6m-6 2h6m-6 2h6m-6 2h6m-6 2h6m-6 2h6m-6 2h6m-6 1h6m-6 2h6m-6 2h6m-6 2h6m-6 2h6m-6 2h6m-6 1h6m-6 2h6m-6 2h6m-6 2h6m-6 2h6m-6 2h6m-6 2h6m-6 1h6m-6 2h6m-6 2h6m-6 2h6m-6 2h6m-6 2h6m-6 1h6m-6 2h6m-6 2h6m-6 2h6m-6 2h6m-6 2h6m-6 2h6m-6 1h6m-6 2h6m-6 2h6m-6 2h6m-6 2h6m-6 2h6m-6 1h6m-6 2h6m-6 2h6m-6 2h6m-6 2h6m-6 2h6m-6 2h6m-6 1h6m-6 2h6m-6 2h6m-6 2h6m-6 2h6m-6 2h6m-6 1h6m-6 2h6m-6 2h6m-6 2h6m-6 2h6m-6 2h6m-6 2h6m-6 3h6m-6 4h6m-6 4h6m-6 1h6m-6 2h6m-6 2h6m-6 6h6M595.5 533.5h6m-6 2h6m-6 5h6M595.5 485.5h6m-6 2h6m-6 4h6M604.5 526.5h6m-6 5h6m-6 4h6m-6 2h6m-6 3h6m-6 2h6m-6 4h6m-6 4h6m-6 5h6m-6 2h6m-6 4h6m-6 2h6m-6 1h6m-6 2h6m-6 2h6m-6 2h6m-6 2h6m-6 3h6m-6 2h6m-6 2h6m-6 4h6m-6 2h6m-6 2h6m-6 1h6m-6 2h6m-6 4h6m-6 2h6m-6 2h6m-6 1h6m-6 2h6m-6 2h6m-6 2h6m-6 2h6m-6 5h6m-6 2h6m-6 2h6m-6 2h6m-6 2h6m-6 2h6m-6 1h6m-6 2h6m-6 2h6m-6 2h6m-6 2h6m-6 2h6m-6 2h6m-6 1h6m-6 2h6m-6 2h6m-6 2h6m-6 2h6m-6 2h6m-6 1h6m-6 2h6m-6 2h6m-6 2h6m-6 2h6m-6 2h6m-6 2h6m-6 1h6m-6 2h6m-6 2h6m-6 2h6m-6 2h6m-6 2h6m-6 1h6m-6 2h6m-6 2h6m-6 2h6m-6 2h6m-6 2h6m-6 2h6m-6 1h6m-6 2h6m-6 2h6m-6 2h6m-6 2h6m-6 2h6m-6 1h6m-6 2h6m-6 2h6m-6 2h6m-6 2h6m-6 2h6m-6 2h6m-6 1h6m-6 2h6m-6 2h6m-6 2h6m-6 2h6m-6 2h6m-6 1h6m-6 2h6m-6 2h6m-6 2h6m-6 2h6m-6 2h6m-6 2h6m-6 1h6m-6 2h6m-6 2h6m-6 2h6m-6 2h6m-6 2h6m-6 1h6m-6 2h6m-6 2h6m-6 2h6m-6 2h6m-6 2h6m-6 2h6m-6 1h6m-6 2h6m-6 2h6m-6 2h6m-6 2h6m-6 2h6m-6 1h6m-6 2h6m-6 2h6m-6 2h6m-6 2h6m-6 2h6m-6 2h6m-6 1h6m-6 2h6m-6 2h6m-6 2h6m-6 2h6m-6 2h6m-6 1h6m-6 2h6m-6 2h6m-6 2h6m-6 2h6m-6 2h6m-6 2h6m-6 1h6m-6 2h6m-6 2h6m-6 2h6m-6 4h6m-6 1h6M612.5 605.5h6m-6 2h6m-6 2h6m-6 2h6m-6 3h6m-6 2h6m-6 4h6m-6 2h6m-6 1h6m-6 2h6m-6 4h6m-6 2h6m-6 2h6m-6 2h6m-6 1h6m-6 2h6m-6 2h6m-6 2h6m-6 2h6m-6 2h6m-6 1h6m-6 2h6m-6 2h6m-6 2h6m-6 2h6m-6 2h6m-6 2h6m-6 1h6m-6 2h6m-6 2h6m-6 2h6m-6 2h6m-6 2h6m-6 1h6m-6 2h6m-6 2h6m-6 2h6m-6 2h6m-6 2h6m-6 2h6m-6 1h6m-6 2h6m-6 2h6m-6 2h6m-6 2h6m-6 2h6m-6 1h6m-6 2h6m-6 2h6m-6 2h6m-6 2h6m-6 2h6m-6 2h6m-6 1h6m-6 2h6m-6 2h6m-6 2h6m-6 2h6m-6 2h6m-6 1h6m-6 2h6m-6 2h6m-6 2h6m-6 2h6m-6 2h6m-6 2h6m-6 1h6m-6 2h6m-6 2h6m-6 2h6m-6 2h6m-6 2h6m-6 1h6m-6 2h6m-6 2h6m-6 2h6m-6 2h6m-6 2h6m-6 2h6m-6 1h6m-6 2h6m-6 2h6m-6 2h6m-6 2h6m-6 2h6m-6 1h6m-6 2h6m-6 2h6m-6 2h6m-6 2h6m-6 2h6m-6 2h6m-6 1h6m-6 2h6m-6 2h6m-6 2h6m-6 2h6m-6 2h6m-6 1h6m-6 2h6m-6 2h6m-6 2h6m-6 4h6m-6 2h6m-6 1h6m-6 2h6m-6 2h6m-6 2h6m-6 2h6m-6 5h6m-6 2h6M612.5 537.5h6m-6 2h6m-6 1h6m-6 4h6m-6 2h6m-6 4h6m-6 3h6m-6 6h6m-6 5h6m-6 2h6m-6 2h6m-6 4h6m-6 3h6m-6 2h6m-6 2h6m-6 2h6m-6 2h6m-6 4h6m-6 1h6m-6 2h6m-6 2h6m-6 2h6m-6 2h6M621.5 557.5h6m-6 2h6m-6 4h6m-6 1h6m-6 2h6m-6 2h6m-6 2h6m-6 2h6m-6 2h6m-6 5h6m-6 2h6m-6 2h6m-6 2h6m-6 2h6m-6 3h6m-6 2h6m-6 4h6m-6 2h6m-6 1h6m-6 4h6m-6 2h6m-6 2h6m-6 2h6m-6 2h6m-6 3h6m-6 2h6m-6 2h6m-6 2h6m-6 2h6m-6 1h6m-6 2h6m-6 4h6m-6 2h6m-6 2h6m-6 2h6m-6 1h6m-6 4h6m-6 2h6m-6 2h6m-6 2h6m-6 1h6m-6 2h6m-6 2h6m-6 2h6m-6 2h6m-6 2h6m-6 2h6m-6 1h6m-6 2h6m-6 2h6m-6 2h6m-6 2h6m-6 2h6m-6 1h6m-6 2h6m-6 2h6m-6 2h6m-6 2h6m-6 2h6m-6 2h6m-6 1h6m-6 2h6m-6 2h6m-6 2h6m-6 2h6m-6 2h6m-6 1h6m-6 2h6m-6 2h6m-6 2h6m-6 2h6m-6 2h6m-6 2h6m-6 1h6m-6 2h6m-6 2h6m-6 2h6m-6 2h6m-6 2h6m-6 1h6m-6 2h6m-6 2h6m-6 2h6m-6 2h6m-6 2h6m-6 2h6m-6 1h6m-6 2h6m-6 2h6m-6 2h6m-6 2h6m-6 2h6m-6 1h6m-6 2h6m-6 2h6m-6 2h6m-6 2h6m-6 2h6m-6 2h6m-6 1h6m-6 2h6m-6 2h6m-6 2h6m-6 2h6m-6 2h6m-6 1h6m-6 2h6m-6 2h6m-6 2h6m-6 2h6m-6 2h6m-6 2h6m-6 1h6m-6 2h6m-6 2h6m-6 2h6m-6 2h6m-6 2h6m-6 3h6m-6 2h6m-6 2h6m-6 2h6m-6 2h6m-6 2h6m-6 1h6m-6 2h6m-6 2h6m-6 2h6m-6 2h6m-6 3h6m-6 2h6m-6 2h6m-6 2h6m-6 4h6M621.5 539.5h6m-6 1h6m-6 2h6m-6 4h6m-6 4h6M621.5 520.5h6m-6 4h6M621.5 478.5h6m-6 5h6M629.5 555.5h6m-6 2h6m-6 2h6m-6 2h6m-6 2h6m-6 3h6m-6 2h6m-6 2h6m-6 2h6m-6 2h6m-6 1h6m-6 2h6m-6 6h6m-6 2h6m-6 2h6m-6 1h6m-6 2h6m-6 2h6m-6 2h6m-6 2h6m-6 5h6m-6 2h6m-6 2h6m-6 2h6m-6 2h6m-6 2h6m-6 1h6m-6 2h6m-6 2h6m-6 2h6m-6 2h6m-6 2h6m-6 3h6m-6 2h6m-6 2h6m-6 2h6m-6 2h6m-6 2h6m-6 1h6m-6 2h6m-6 2h6m-6 2h6m-6 2h6m-6 2h6m-6 1h6m-6 2h6m-6 2h6m-6 2h6m-6 2h6m-6 2h6m-6 2h6m-6 1h6m-6 2h6m-6 2h6m-6 2h6m-6 2h6m-6 2h6m-6 1h6m-6 2h6m-6 2h6m-6 2h6m-6 2h6m-6 2h6m-6 2h6m-6 1h6m-6 2h6m-6 2h6m-6 2h6m-6 2h6m-6 2h6m-6 1h6m-6 2h6m-6 2h6m-6 2h6m-6 2h6m-6 2h6m-6 2h6m-6 1h6m-6 2h6m-6 2h6m-6 2h6m-6 2h6m-6 2h6m-6 1h6m-6 2h6m-6 2h6m-6 2h6m-6 2h6m-6 2h6m-6 2h6m-6 1h6m-6 2h6m-6 2h6m-6 2h6m-6 2h6m-6 2h6m-6 1h6m-6 2h6m-6 2h6m-6 2h6m-6 2h6m-6 2h6m-6 2h6m-6 1h6m-6 2h6m-6 2h6m-6 2h6m-6 2h6m-6 2h6m-6 1h6m-6 2h6m-6 2h6m-6 2h6m-6 2h6m-6 2h6m-6 2h6m-6 1h6m-6 2h6m-6 2h6m-6 2h6m-6 2h6m-6 2h6m-6 1h6m-6 2h6m-6 2h6m-6 2h6m-6 2h6m-6 2h6m-6 2h6m-6 1h6m-6 2h6m-6 2h6m-6 2h6m-6 2h6m-6 2h6m-6 1h6m-6 2h6M629.5 533.5h6m-6 4h6m-6 3h6m-6 4h6m-6 2h6m-6 2h6M629.5 496.5h6m-6 6h6m-6 1h6M638.5 542.5h6m-6 4h6m-6 2h6m-6 5h6m-6 2h6m-6 2h6m-6 2h6m-6 4h6m-6 3h6m-6 4h6m-6 4h6m-6 5h6m-6 4h6m-6 2h6m-6 2h6m-6 1h6m-6 2h6m-6 2h6m-6 2h6m-6 2h6m-6 3h6m-6 2h6m-6 2h6m-6 2h6m-6 2h6m-6 2h6m-6 2h6m-6 1h6m-6 2h6m-6 2h6m-6 2h6m-6 2h6m-6 2h6m-6 1h6m-6 2h6m-6 2h6m-6 2h6m-6 2h6m-6 2h6m-6 2h6m-6 1h6m-6 2h6m-6 2h6m-6 2h6m-6 2h6m-6 2h6m-6 1h6m-6 2h6m-6 2h6m-6 2h6m-6 2h6m-6 2h6m-6 2h6m-6 1h6m-6 2h6m-6 2h6m-6 2h6m-6 2h6m-6 2h6m-6 1h6m-6 2h6m-6 2h6m-6 2h6m-6 2h6m-6 2h6m-6 2h6m-6 1h6m-6 2h6m-6 2h6m-6 2h6m-6 2h6m-6 2h6m-6 1h6m-6 2h6m-6 2h6m-6 2h6m-6 2h6m-6 2h6m-6 2h6m-6 1h6m-6 2h6m-6 2h6m-6 2h6m-6 2h6m-6 2h6m-6 1h6m-6 2h6m-6 2h6m-6 2h6m-6 2h6m-6 2h6m-6 2h6m-6 1h6m-6 2h6m-6 2h6m-6 2h6m-6 2h6m-6 2h6m-6 1h6m-6 2h6m-6 2h6m-6 2h6m-6 2h6m-6 2h6m-6 2h6m-6 1h6m-6 2h6m-6 2h6m-6 2h6m-6 2h6m-6 2h6m-6 1h6m-6 2h6m-6 2h6m-6 2h6m-6 2h6m-6 2h6m-6 2h6m-6 1h6m-6 2h6m-6 2h6m-6 2h6m-6 2h6m-6 2h6m-6 1h6m-6 2h6m-6 2h6m-6 2h6m-6 2h6m-6 2h6m-6 2h6m-6 1h6m-6 4h6m-6 2h6m-6 2h6m-6 3h6m-6 6h6m-6 4h6M638.5 520.5h6m-6 6h6m-6 3h6m-6 2h6M647.5 563.5h6m-6 1h6m-6 2h6m-6 2h6m-6 2h6m-6 2h6m-6 2h6m-6 1h6m-6 4h6m-6 2h6m-6 2h6m-6 2h6m-6 2h6m-6 1h6m-6 2h6m-6 2h6m-6 2h6m-6 2h6m-6 2h6m-6 1h6m-6 4h6m-6 2h6m-6 2h6m-6 2h6m-6 2h6m-6 1h6m-6 2h6m-6 2h6m-6 2h6m-6 2h6m-6 2h6m-6 1h6m-6 2h6m-6 2h6m-6 2h6m-6 2h6m-6 2h6m-6 2h6m-6 1h6m-6 2h6m-6 2h6m-6 2h6m-6 2h6m-6 2h6m-6 1h6m-6 2h6m-6 2h6m-6 2h6m-6 2h6m-6 2h6m-6 2h6m-6 1h6m-6 2h6m-6 2h6m-6 2h6m-6 2h6m-6 2h6m-6 1h6m-6 2h6m-6 2h6m-6 2h6m-6 2h6m-6 2h6m-6 2h6m-6 1h6m-6 2h6m-6 2h6m-6 2h6m-6 2h6m-6 2h6m-6 1h6m-6 2h6m-6 2h6m-6 2h6m-6 2h6m-6 2h6m-6 2h6m-6 1h6m-6 2h6m-6 2h6m-6 2h6m-6 2h6m-6 2h6m-6 1h6m-6 2h6m-6 2h6m-6 2h6m-6 2h6m-6 2h6m-6 2h6m-6 1h6m-6 2h6m-6 2h6m-6 2h6m-6 2h6m-6 2h6m-6 1h6m-6 2h6m-6 2h6m-6 2h6m-6 2h6m-6 2h6m-6 2h6m-6 1h6m-6 2h6m-6 2h6m-6 2h6m-6 2h6m-6 2h6m-6 1h6m-6 2h6m-6 2h6m-6 2h6m-6 2h6m-6 2h6m-6 2h6m-6 1h6m-6 2h6m-6 2h6m-6 2h6m-6 2h6m-6 2h6m-6 1h6m-6 2h6m-6 2h6m-6 2h6m-6 2h6m-6 2h6m-6 2h6m-6 1h6m-6 2h6m-6 2h6m-6 2h6m-6 4h6m-6 1h6M647.5 544.5h6m-6 2h6m-6 2h6m-6 2h6m-6 1h6m-6 2h6M647.5 526.5h6m-6 1h6m-6 4h6m-6 2h6m-6 4h6M647.5 516.5h6m-6 2h6M655.5 817.5h6m-6 2h6m-6 2h6M655.5 568.5h6m-6 2h6m-6 4h6m-6 1h6m-6 4h6m-6 2h6m-6 2h6m-6 4h6m-6 1h6m-6 2h6m-6 2h6m-6 2h6m-6 2h6m-6 2h6m-6 1h6m-6 2h6m-6 2h6m-6 2h6m-6 2h6m-6 2h6m-6 3h6m-6 2h6m-6 2h6m-6 2h6m-6 2h6m-6 2h6m-6 1h6m-6 2h6m-6 2h6m-6 2h6m-6 2h6m-6 2h6m-6 2h6m-6 1h6m-6 2h6m-6 2h6m-6 2h6m-6 2h6m-6 2h6m-6 1h6m-6 2h6m-6 2h6m-6 2h6m-6 2h6m-6 2h6m-6 2h6m-6 1h6m-6 2h6m-6 2h6m-6 2h6m-6 2h6m-6 2h6m-6 1h6m-6 2h6m-6 2h6m-6 2h6m-6 2h6m-6 2h6m-6 2h6m-6 1h6m-6 2h6m-6 2h6m-6 2h6m-6 2h6m-6 2h6m-6 1h6m-6 2h6m-6 2h6m-6 2h6m-6 2h6m-6 2h6m-6 2h6m-6 1h6m-6 2h6m-6 2h6m-6 2h6m-6 2h6m-6 2h6m-6 1h6m-6 2h6m-6 2h6m-6 2h6m-6 2h6m-6 2h6m-6 2h6m-6 1h6m-6 2h6m-6 2h6m-6 2h6m-6 2h6m-6 2h6m-6 1h6m-6 2h6m-6 2h6m-6 2h6m-6 2h6m-6 2h6m-6 2h6m-6 1h6m-6 2h6m-6 2h6m-6 2h6m-6 2h6m-6 2h6m-6 1h6m-6 2h6m-6 2h6m-6 2h6m-6 2h6m-6 2h6m-6 2h6m-6 1h6m-6 2h6m-6 2h6m-6 2h6m-6 2h6m-6 2h6m-6 1h6m-6 2h6m-6 2h6m-6 2h6m-6 2h6m-6 2h6m-6 2h6m-6 1h6m-6 2h6m-6 2h6m-6 2h6M655.5 557.5h6m-6 2h6M655.5 515.5h6m-6 3h6m-6 4h6m-6 2h6m-6 3h6m-6 4h6m-6 4h6m-6 5h6m-6 2h6m-6 4h6m-6 2h6m-6 2h6M655.5 483.5h6m-6 2h6M664.5 557.5h6m-6 2h6m-6 5h6m-6 2h6m-6 4h6m-6 4h6m-6 1h6m-6 4h6m-6 2h6m-6 2h6m-6 2h6m-6 3h6m-6 2h6m-6 2h6m-6 2h6m-6 2h6m-6 2h6m-6 1h6m-6 2h6m-6 2h6m-6 2h6m-6 2h6m-6 2h6m-6 2h6m-6 1h6m-6 2h6m-6 2h6m-6 2h6m-6 2h6m-6 2h6m-6 1h6m-6 2h6m-6 2h6m-6 2h6m-6 2h6m-6 2h6m-6 2h6m-6 1h6m-6 2h6m-6 2h6m-6 2h6m-6 2h6m-6 2h6m-6 1h6m-6 2h6m-6 2h6m-6 2h6m-6 2h6m-6 2h6m-6 2h6m-6 1h6m-6 2h6m-6 2h6m-6 2h6m-6 2h6m-6 2h6m-6 1h6m-6 2h6m-6 2h6m-6 2h6m-6 2h6m-6 2h6m-6 2h6m-6 1h6m-6 2h6m-6 2h6m-6 2h6m-6 2h6m-6 2h6m-6 1h6m-6 2h6m-6 2h6m-6 2h6m-6 2h6m-6 2h6m-6 2h6m-6 1h6m-6 2h6m-6 2h6m-6 2h6m-6 2h6m-6 2h6m-6 1h6m-6 2h6m-6 2h6m-6 2h6m-6 2h6m-6 2h6m-6 2h6m-6 1h6m-6 2h6m-6 2h6m-6 2h6m-6 2h6m-6 2h6m-6 1h6m-6 2h6m-6 2h6m-6 2h6m-6 2h6m-6 2h6m-6 2h6m-6 1h6m-6 2h6m-6 2h6m-6 2h6m-6 2h6m-6 2h6m-6 1h6m-6 2h6m-6 2h6m-6 2h6m-6 2h6m-6 2h6m-6 2h6m-6 1h6m-6 2h6m-6 2h6m-6 2h6m-6 2h6m-6 2h6m-6 1h6m-6 2h6m-6 2h6m-6 2h6m-6 2h6m-6 2h6m-6 2h6m-6 1h6m-6 2h6m-6 2h6m-6 2h6m-6 4h6m-6 1h6m-6 2h6m-6 6h6M664.5 531.5h6m-6 2h6m-6 2h6m-6 4h6m-6 3h6m-6 6h6m-6 2h6M664.5 511.5h6m-6 2h6m-6 3h6m-6 4h6M664.5 491.5h6m-6 5h6m-6 2h6m-6 2h6M672.5 825.5h6m-6 3h6m-6 4h6M672.5 511.5h6m-6 2h6m-6 5h6m-6 4h6m-6 5h6m-6 2h6m-6 2h6m-6 2h6m-6 2h6m-6 4h6m-6 1h6m-6 6h6m-6 2h6m-6 2h6m-6 1h6m-6 6h6m-6 6h6m-6 1h6m-6 6h6m-6 2h6m-6 2h6m-6 3h6m-6 2h6m-6 2h6m-6 2h6m-6 2h6m-6 2h6m-6 3h6m-6 2h6m-6 2h6m-6 2h6m-6 2h6m-6 1h6m-6 2h6m-6 2h6m-6 2h6m-6 2h6m-6 2h6m-6 2h6m-6 1h6m-6 2h6m-6 2h6m-6 2h6m-6 2h6m-6 2h6m-6 1h6m-6 2h6m-6 2h6m-6 2h6m-6 2h6m-6 2h6m-6 2h6m-6 1h6m-6 2h6m-6 2h6m-6 2h6m-6 2h6m-6 2h6m-6 1h6m-6 2h6m-6 2h6m-6 2h6m-6 2h6m-6 2h6m-6 2h6m-6 1h6m-6 2h6m-6 2h6m-6 2h6m-6 2h6m-6 2h6m-6 1h6m-6 2h6m-6 2h6m-6 2h6m-6 2h6m-6 2h6m-6 2h6m-6 1h6m-6 2h6m-6 2h6m-6 2h6m-6 2h6m-6 2h6m-6 1h6m-6 2h6m-6 2h6m-6 2h6m-6 2h6m-6 2h6m-6 2h6m-6 1h6m-6 2h6m-6 2h6m-6 2h6m-6 2h6m-6 2h6m-6 1h6m-6 2h6m-6 2h6m-6 2h6m-6 2h6m-6 2h6m-6 2h6m-6 1h6m-6 2h6m-6 2h6m-6 2h6m-6 2h6m-6 2h6m-6 1h6m-6 2h6m-6 2h6m-6 2h6m-6 2h6m-6 2h6m-6 2h6m-6 1h6m-6 2h6m-6 2h6m-6 2h6m-6 2h6m-6 2h6m-6 1h6m-6 2h6m-6 2h6m-6 2h6m-6 2h6m-6 2h6m-6 2h6m-6 1h6m-6 2h6m-6 2h6m-6 2h6m-6 2h6m-6 2h6m-6 1h6m-6 2h6m-6 2h6m-6 2h6m-6 2h6m-6 4h6m-6 5h6m-6 4h6m-6 3h6M672.5 502.5h6m-6 1h6M672.5 478.5h6m-6 5h6m-6 4h6M681.5 540.5h6m-6 4h6m-6 2h6m-6 2h6m-6 3h6m-6 2h6m-6 2h6m-6 2h6m-6 2h6m-6 4h6m-6 1h6m-6 2h6m-6 2h6m-6 4h6m-6 2h6m-6 1h6m-6 2h6m-6 2h6m-6 4h6m-6 2h6m-6 3h6m-6 4h6m-6 2h6m-6 2h6m-6 3h6m-6 2h6m-6 2h6m-6 2h6m-6 2h6m-6 2h6m-6 2h6m-6 1h6m-6 2h6m-6 2h6m-6 2h6m-6 2h6m-6 2h6m-6 1h6m-6 2h6m-6 2h6m-6 2h6m-6 2h6m-6 2h6m-6 2h6m-6 1h6m-6 2h6m-6 2h6m-6 2h6m-6 2h6m-6 2h6m-6 1h6m-6 2h6m-6 2h6m-6 2h6m-6 2h6m-6 2h6m-6 2h6m-6 1h6m-6 2h6m-6 2h6m-6 2h6m-6 2h6m-6 2h6m-6 1h6m-6 2h6m-6 2h6m-6 2h6m-6 2h6m-6 2h6m-6 2h6m-6 1h6m-6 2h6m-6 2h6m-6 2h6m-6 2h6m-6 2h6m-6 1h6m-6 2h6m-6 2h6m-6 2h6m-6 2h6m-6 2h6m-6 2h6m-6 1h6m-6 2h6m-6 2h6m-6 2h6m-6 2h6m-6 2h6m-6 1h6m-6 2h6m-6 2h6m-6 2h6m-6 2h6m-6 2h6m-6 2h6m-6 1h6m-6 2h6m-6 2h6m-6 2h6m-6 2h6m-6 2h6m-6 1h6m-6 2h6m-6 2h6m-6 2h6m-6 2h6m-6 2h6m-6 2h6m-6 1h6m-6 2h6m-6 2h6m-6 2h6m-6 2h6m-6 2h6m-6 1h6m-6 2h6m-6 2h6m-6 2h6m-6 2h6m-6 2h6m-6 2h6m-6 1h6m-6 2h6m-6 2h6m-6 2h6m-6 2h6m-6 2h6m-6 1h6m-6 2h6m-6 2h6m-6 2h6m-6 2h6m-6 2h6m-6 2h6m-6 1h6m-6 2h6m-6 2h6m-6 2h6m-6 5h6m-6 2h6M681.5 507.5h6m-6 2h6m-6 4h6m-6 5h6m-6 6h6m-6 3h6m-6 2h6M689.5 511.5h6m-6 2h6m-6 2h6m-6 3h6m-6 2h6m-6 2h6m-6 2h6m-6 2h6m-6 3h6m-6 2h6m-6 4h6m-6 4h6m-6 1h6m-6 2h6m-6 2h6m-6 2h6m-6 4h6m-6 1h6m-6 6h6m-6 2h6m-6 2h6m-6 2h6m-6 1h6m-6 6h6m-6 2h6m-6 2h6m-6 1h6m-6 2h6m-6 2h6m-6 4h6m-6 2h6m-6 2h6m-6 1h6m-6 2h6m-6 2h6m-6 4h6m-6 2h6m-6 1h6m-6 2h6m-6 2h6m-6 2h6m-6 2h6m-6 2h6m-6 2h6m-6 1h6m-6 2h6m-6 2h6m-6 2h6m-6 2h6m-6 2h6m-6 1h6m-6 2h6m-6 2h6m-6 2h6m-6 2h6m-6 2h6m-6 2h6m-6 1h6m-6 2h6m-6 2h6m-6 2h6m-6 2h6m-6 2h6m-6 1h6m-6 2h6m-6 2h6m-6 2h6m-6 2h6m-6 2h6m-6 2h6m-6 1h6m-6 2h6m-6 2h6m-6 2h6m-6 2h6m-6 2h6m-6 1h6m-6 2h6m-6 2h6m-6 2h6m-6 2h6m-6 2h6m-6 2h6m-6 1h6m-6 2h6m-6 2h6m-6 2h6m-6 2h6m-6 2h6m-6 1h6m-6 2h6m-6 2h6m-6 2h6m-6 2h6m-6 2h6m-6 2h6m-6 1h6m-6 2h6m-6 2h6m-6 2h6m-6 2h6m-6 2h6m-6 1h6m-6 2h6m-6 2h6m-6 2h6m-6 2h6m-6 2h6m-6 2h6m-6 1h6m-6 2h6m-6 2h6m-6 2h6m-6 2h6m-6 2h6m-6 1h6m-6 2h6m-6 2h6m-6 2h6m-6 2h6m-6 2h6m-6 2h6m-6 1h6m-6 2h6m-6 2h6m-6 2h6m-6 2h6m-6 2h6m-6 1h6m-6 2h6m-6 2h6m-6 2h6m-6 2h6m-6 2h6m-6 2h6m-6 1h6m-6 2h6m-6 2h6m-6 2h6m-6 2h6m-6 2h6m-6 1h6m-6 2h6m-6 2h6m-6 2h6m-6 2h6m-6 2h6m-6 2h6m-6 1h6m-6 2h6m-6 2h6m-6 2h6M689.5 485.5h6m-6 4h6m-6 5h6m-6 2h6M689.5 465.5h6m-6 2h6M698.5 489.5h6m-6 5h6m-6 2h6m-6 2h6m-6 4h6m-6 3h6m-6 4h6m-6 2h6m-6 4h6m-6 3h6m-6 2h6m-6 4h6m-6 2h6m-6 3h6m-6 2h6m-6 2h6m-6 2h6m-6 2h6m-6 2h6m-6 1h6m-6 2h6m-6 2h6m-6 2h6m-6 2h6m-6 3h6m-6 2h6m-6 2h6m-6 4h6m-6 2h6m-6 2h6m-6 3h6m-6 2h6m-6 2h6m-6 2h6m-6 2h6m-6 1h6m-6 2h6m-6 2h6m-6 2h6m-6 2h6m-6 2h6m-6 2h6m-6 1h6m-6 2h6m-6 2h6m-6 2h6m-6 2h6m-6 2h6m-6 1h6m-6 2h6m-6 2h6m-6 2h6m-6 2h6m-6 2h6m-6 2h6m-6 1h6m-6 2h6m-6 2h6m-6 2h6m-6 2h6m-6 2h6m-6 1h6m-6 2h6m-6 2h6m-6 2h6m-6 2h6m-6 2h6m-6 2h6m-6 1h6m-6 2h6m-6 2h6m-6 2h6m-6 2h6m-6 2h6m-6 1h6m-6 2h6m-6 2h6m-6 2h6m-6 2h6m-6 2h6m-6 2h6m-6 1h6m-6 2h6m-6 2h6m-6 2h6m-6 2h6m-6 2h6m-6 1h6m-6 2h6m-6 2h6m-6 2h6m-6 2h6m-6 2h6m-6 2h6m-6 1h6m-6 2h6m-6 2h6m-6 2h6m-6 2h6m-6 2h6m-6 1h6m-6 2h6m-6 2h6m-6 2h6m-6 2h6m-6 2h6m-6 2h6m-6 1h6m-6 2h6m-6 2h6m-6 2h6m-6 2h6m-6 2h6m-6 1h6m-6 2h6m-6 2h6m-6 2h6m-6 2h6m-6 2h6m-6 2h6m-6 1h6m-6 2h6m-6 2h6m-6 2h6m-6 2h6m-6 2h6m-6 1h6m-6 2h6m-6 2h6m-6 2h6m-6 2h6m-6 2h6m-6 2h6m-6 1h6m-6 2h6m-6 2h6m-6 2h6m-6 2h6m-6 2h6m-6 1h6m-6 2h6m-6 2h6m-6 2h6m-6 2h6m-6 2h6m-6 2h6m-6 1h6m-6 2h6m-6 2h6m-6 2h6m-6 2h6m-6 2h6m-6 1h6m-6 2h6m-6 2h6m-6 2h6m-6 2h6m-6 2h6m-6 2h6m-6 1h6m-6 2h6m-6 2h6m-6 2h6m-6 2h6M698.5 465.5h6m-6 3h6M706.5 815.5h6m-6 4h6m-6 2h6m-6 2h6M706.5 533.5h6m-6 2h6m-6 2h6m-6 5h6m-6 2h6m-6 2h6m-6 2h6m-6 2h6m-6 1h6m-6 2h6m-6 6h6m-6 2h6m-6 2h6m-6 1h6m-6 2h6m-6 2h6m-6 2h6m-6 2h6m-6 2h6m-6 1h6m-6 2h6m-6 2h6m-6 2h6m-6 2h6m-6 2h6m-6 2h6m-6 1h6m-6 2h6m-6 2h6m-6 2h6m-6 2h6m-6 2h6m-6 1h6m-6 2h6m-6 2h6m-6 2h6m-6 2h6m-6 2h6m-6 2h6m-6 1h6m-6 2h6m-6 2h6m-6 2h6m-6 2h6m-6 2h6m-6 1h6m-6 2h6m-6 2h6m-6 2h6m-6 2h6m-6 2h6m-6 2h6m-6 1h6m-6 2h6m-6 2h6m-6 2h6m-6 2h6m-6 2h6m-6 1h6m-6 2h6m-6 2h6m-6 2h6m-6 2h6m-6 2h6m-6 2h6m-6 1h6m-6 2h6m-6 2h6m-6 2h6m-6 2h6m-6 2h6m-6 1h6m-6 2h6m-6 2h6m-6 2h6m-6 2h6m-6 2h6m-6 2h6m-6 1h6m-6 2h6m-6 2h6m-6 2h6m-6 2h6m-6 2h6m-6 1h6m-6 2h6m-6 2h6m-6 2h6m-6 2h6m-6 2h6m-6 2h6m-6 1h6m-6 2h6m-6 2h6m-6 2h6m-6 2h6m-6 2h6m-6 1h6m-6 2h6m-6 2h6m-6 2h6m-6 2h6m-6 2h6m-6 2h6m-6 1h6m-6 2h6m-6 2h6m-6 2h6m-6 2h6m-6 2h6m-6 1h6m-6 2h6m-6 2h6m-6 2h6m-6 2h6m-6 2h6m-6 2h6m-6 1h6m-6 2h6m-6 2h6m-6 2h6m-6 2h6m-6 2h6m-6 1h6m-6 2h6m-6 2h6m-6 2h6m-6 2h6m-6 2h6m-6 2h6m-6 1h6m-6 2h6m-6 2h6m-6 2h6m-6 2h6m-6 2h6m-6 1h6m-6 2h6m-6 2h6m-6 2h6m-6 2h6m-6 2h6m-6 2h6m-6 1h6m-6 2h6m-6 2h6M706.5 492.5h6m-6 2h6m-6 2h6m-6 4h6m-6 2h6m-6 1h6m-6 4h6m-6 2h6m-6 4h6m-6 2h6m-6 1h6m-6 4h6m-6 2h6m-6 2h6M706.5 461.5h6m-6 4h6m-6 3h6m-6 4h6M715.5 817.5h6m-6 6h6m-6 2h6M715.5 537.5h6m-6 3h6m-6 2h6m-6 4h6m-6 4h6m-6 3h6m-6 2h6m-6 2h6m-6 2h6m-6 2h6m-6 2h6m-6 3h6m-6 2h6m-6 2h6m-6 2h6m-6 2h6m-6 1h6m-6 2h6m-6 2h6m-6 2h6m-6 2h6m-6 2h6m-6 2h6m-6 1h6m-6 2h6m-6 2h6m-6 2h6m-6 2h6m-6 2h6m-6 1h6m-6 2h6m-6 2h6m-6 2h6m-6 2h6m-6 2h6m-6 2h6m-6 1h6m-6 2h6m-6 2h6m-6 2h6m-6 2h6m-6 2h6m-6 1h6m-6 2h6m-6 2h6m-6 2h6m-6 2h6m-6 2h6m-6 2h6m-6 1h6m-6 2h6m-6 2h6m-6 2h6m-6 2h6m-6 2h6m-6 1h6m-6 2h6m-6 2h6m-6 2h6m-6 2h6m-6 2h6m-6 2h6m-6 1h6m-6 2h6m-6 2h6m-6 2h6m-6 2h6m-6 2h6m-6 1h6m-6 2h6m-6 2h6m-6 2h6m-6 2h6m-6 2h6m-6 2h6m-6 1h6m-6 2h6m-6 2h6m-6 2h6m-6 2h6m-6 2h6m-6 1h6m-6 2h6m-6 2h6m-6 2h6m-6 2h6m-6 2h6m-6 2h6m-6 1h6m-6 2h6m-6 2h6m-6 2h6m-6 2h6m-6 2h6m-6 1h6m-6 2h6m-6 2h6m-6 2h6m-6 2h6m-6 2h6m-6 2h6m-6 1h6m-6 2h6m-6 2h6m-6 2h6m-6 2h6m-6 2h6m-6 1h6m-6 2h6m-6 2h6m-6 2h6m-6 2h6m-6 2h6m-6 2h6m-6 1h6m-6 2h6m-6 2h6m-6 2h6m-6 2h6m-6 2h6m-6 1h6m-6 2h6m-6 2h6m-6 2h6m-6 2h6m-6 2h6m-6 2h6m-6 1h6m-6 2h6m-6 2h6m-6 2h6m-6 2h6m-6 2h6m-6 1h6m-6 2h6m-6 2h6m-6 2h6m-6 2h6m-6 2h6m-6 2h6m-6 1h6m-6 2h6M715.5 494.5h6m-6 2h6m-6 6h6m-6 3h6m-6 2h6m-6 4h6m-6 5h6m-6 2h6m-6 2h6m-6 2h6m-6 4h6m-6 1h6m-6 2h6M715.5 478.5h6m-6 5h6M724.5 472.5h6m-6 4h6m-6 3h6m-6 2h6m-6 2h6m-6 6h6m-6 2h6m-6 5h6m-6 2h6m-6 5h6m-6 6h6m-6 4h6m-6 2h6m-6 1h6m-6 2h6m-6 2h6m-6 2h6m-6 4h6m-6 1h6m-6 2h6m-6 6h6m-6 2h6m-6 3h6m-6 2h6m-6 2h6m-6 2h6m-6 2h6m-6 2h6m-6 1h6m-6 2h6m-6 2h6m-6 2h6m-6 2h6m-6 2h6m-6 2h6m-6 1h6m-6 2h6m-6 2h6m-6 2h6m-6 2h6m-6 2h6m-6 1h6m-6 2h6m-6 2h6m-6 2h6m-6 2h6m-6 2h6m-6 2h6m-6 1h6m-6 2h6m-6 2h6m-6 2h6m-6 2h6m-6 2h6m-6 1h6m-6 2h6m-6 2h6m-6 2h6m-6 2h6m-6 2h6m-6 2h6m-6 1h6m-6 2h6m-6 2h6m-6 2h6m-6 2h6m-6 2h6m-6 1h6m-6 2h6m-6 2h6m-6 2h6m-6 2h6m-6 2h6m-6 2h6m-6 1h6m-6 2h6m-6 2h6m-6 2h6m-6 2h6m-6 2h6m-6 1h6m-6 2h6m-6 2h6m-6 2h6m-6 2h6m-6 2h6m-6 2h6m-6 1h6m-6 2h6m-6 2h6m-6 2h6m-6 2h6m-6 2h6m-6 1h6m-6 2h6m-6 2h6m-6 2h6m-6 2h6m-6 2h6m-6 2h6m-6 1h6m-6 2h6m-6 2h6m-6 2h6m-6 2h6m-6 2h6m-6 1h6m-6 2h6m-6 2h6m-6 2h6m-6 2h6m-6 2h6m-6 2h6m-6 1h6m-6 2h6m-6 2h6m-6 2h6m-6 2h6m-6 2h6m-6 1h6m-6 2h6m-6 2h6m-6 2h6m-6 2h6m-6 2h6m-6 2h6m-6 1h6m-6 2h6m-6 2h6m-6 2h6m-6 2h6m-6 2h6m-6 1h6m-6 2h6m-6 2h6m-6 2h6m-6 2h6m-6 2h6m-6 2h6m-6 1h6m-6 2h6m-6 2h6m-6 2h6m-6 2h6m-6 2h6m-6 1h6m-6 2h6m-6 2h6m-6 2h6m-6 2h6m-6 2h6m-6 2h6m-6 1h6m-6 2h6m-6 2h6m-6 2h6m-6 2h6m-6 2h6m-6 1h6m-6 2h6m-6 2h6m-6 2h6m-6 2h6m-6 2h6m-6 2h6m-6 1h6m-6 2h6m-6 2h6m-6 4h6m-6 2h6m-6 1h6m-6 6h6m-6 2h6m-6 2h6m-6 2h6M724.5 420.5h6m-6 2h6M732.5 502.5h6m-6 1h6m-6 2h6m-6 6h6m-6 4h6m-6 1h6m-6 2h6m-6 2h6m-6 2h6m-6 2h6m-6 3h6m-6 2h6m-6 6h6m-6 2h6m-6 2h6m-6 1h6m-6 4h6m-6 2h6m-6 2h6m-6 2h6m-6 1h6m-6 2h6m-6 2h6m-6 2h6m-6 2h6m-6 2h6m-6 2h6m-6 1h6m-6 2h6m-6 2h6m-6 2h6m-6 2h6m-6 2h6m-6 1h6m-6 2h6m-6 2h6m-6 2h6m-6 2h6m-6 2h6m-6 2h6m-6 1h6m-6 2h6m-6 2h6m-6 2h6m-6 2h6m-6 2h6m-6 1h6m-6 2h6m-6 2h6m-6 2h6m-6 2h6m-6 2h6m-6 2h6m-6 1h6m-6 2h6m-6 2h6m-6 2h6m-6 2h6m-6 2h6m-6 1h6m-6 2h6m-6 2h6m-6 2h6m-6 2h6m-6 2h6m-6 2h6m-6 1h6m-6 2h6m-6 2h6m-6 2h6m-6 2h6m-6 2h6m-6 1h6m-6 2h6m-6 2h6m-6 2h6m-6 2h6m-6 2h6m-6 2h6m-6 1h6m-6 2h6m-6 2h6m-6 2h6m-6 2h6m-6 2h6m-6 1h6m-6 2h6m-6 2h6m-6 2h6m-6 2h6m-6 2h6m-6 2h6m-6 1h6m-6 2h6m-6 2h6m-6 2h6m-6 2h6m-6 2h6m-6 1h6m-6 2h6m-6 2h6m-6 2h6m-6 2h6m-6 2h6m-6 2h6m-6 1h6m-6 2h6m-6 2h6m-6 2h6m-6 2h6m-6 2h6m-6 1h6m-6 2h6m-6 2h6m-6 2h6m-6 2h6m-6 2h6m-6 2h6m-6 1h6m-6 2h6m-6 2h6m-6 2h6m-6 2h6m-6 2h6m-6 1h6m-6 2h6m-6 2h6m-6 2h6m-6 2h6m-6 2h6m-6 2h6m-6 1h6m-6 2h6m-6 2h6m-6 2h6m-6 2h6m-6 2h6m-6 1h6m-6 2h6m-6 2h6m-6 2h6m-6 2h6m-6 2h6m-6 3h6m-6 2h6m-6 2h6m-6 2h6m-6 2h6m-6 2h6m-6 1h6m-6 2h6m-6 2h6m-6 2h6m-6 2h6m-6 2h6m-6 2h6m-6 1h6m-6 2h6m-6 4h6m-6 2h6m-6 2h6M732.5 485.5h6m-6 2h6M732.5 470.5h6m-6 2h6m-6 4h6M732.5 455.5h6m-6 2h6m-6 2h6m-6 2h6M732.5 428.5h6m-6 2h6m-6 5h6M741.5 474.5h6m-6 5h6m-6 2h6m-6 2h6m-6 2h6m-6 2h6m-6 2h6m-6 5h6m-6 2h6m-6 2h6m-6 2h6m-6 2h6m-6 1h6m-6 2h6m-6 2h6m-6 2h6m-6 2h6m-6 4h6m-6 3h6m-6 2h6m-6 2h6m-6 2h6m-6 2h6m-6 1h6m-6 2h6m-6 2h6m-6 2h6m-6 2h6m-6 2h6m-6 2h6m-6 1h6m-6 2h6m-6 2h6m-6 2h6m-6 2h6m-6 3h6m-6 2h6m-6 2h6m-6 2h6m-6 2h6m-6 2h6m-6 2h6m-6 1h6m-6 2h6m-6 2h6m-6 2h6m-6 2h6m-6 2h6m-6 1h6m-6 2h6m-6 2h6m-6 2h6m-6 2h6m-6 2h6m-6 2h6m-6 1h6m-6 2h6m-6 2h6m-6 2h6m-6 2h6m-6 2h6m-6 1h6m-6 2h6m-6 2h6m-6 2h6m-6 2h6m-6 2h6m-6 2h6m-6 1h6m-6 2h6m-6 2h6m-6 2h6m-6 2h6m-6 2h6m-6 1h6m-6 2h6m-6 2h6m-6 2h6m-6 2h6m-6 2h6m-6 2h6m-6 1h6m-6 2h6m-6 2h6m-6 2h6m-6 2h6m-6 2h6m-6 1h6m-6 2h6m-6 2h6m-6 2h6m-6 2h6m-6 2h6m-6 2h6m-6 1h6m-6 2h6m-6 2h6m-6 2h6m-6 2h6m-6 2h6m-6 1h6m-6 2h6m-6 2h6m-6 2h6m-6 2h6m-6 2h6m-6 2h6m-6 1h6m-6 2h6m-6 2h6m-6 2h6m-6 2h6m-6 2h6m-6 1h6m-6 2h6m-6 2h6m-6 2h6m-6 2h6m-6 2h6m-6 2h6m-6 1h6m-6 2h6m-6 2h6m-6 2h6m-6 2h6m-6 2h6m-6 1h6m-6 2h6m-6 2h6m-6 2h6m-6 2h6m-6 2h6m-6 2h6m-6 1h6m-6 2h6m-6 2h6m-6 2h6m-6 2h6m-6 2h6m-6 1h6m-6 2h6m-6 2h6m-6 2h6m-6 2h6m-6 2h6m-6 2h6m-6 1h6m-6 2h6m-6 2h6m-6 2h6m-6 2h6m-6 2h6m-6 1h6m-6 2h6m-6 2h6m-6 2h6m-6 2h6m-6 2h6m-6 2h6m-6 1h6m-6 2h6m-6 2h6m-6 2h6m-6 2h6m-6 2h6m-6 1h6m-6 2h6m-6 2h6m-6 2h6m-6 2h6m-6 2h6m-6 2h6m-6 1h6m-6 2h6m-6 4h6m-6 2h6m-6 5h6m-6 4h6m-6 6h6M741.5 455.5h6m-6 6h6m-6 6h6M741.5 446.5h6m-6 2h6M749.5 830.5h6m-6 2h6M749.5 470.5h6m-6 4h6m-6 5h6m-6 6h6m-6 4h6m-6 2h6m-6 1h6m-6 2h6m-6 2h6m-6 2h6m-6 4h6m-6 1h6m-6 2h6m-6 2h6m-6 2h6m-6 2h6m-6 2h6m-6 2h6m-6 1h6m-6 2h6m-6 2h6m-6 2h6m-6 2h6m-6 3h6m-6 2h6m-6 2h6m-6 2h6m-6 2h6m-6 2h6m-6 2h6m-6 1h6m-6 2h6m-6 2h6m-6 2h6m-6 2h6m-6 2h6m-6 1h6m-6 2h6m-6 2h6m-6 2h6m-6 2h6m-6 2h6m-6 2h6m-6 1h6m-6 2h6m-6 2h6m-6 2h6m-6 2h6m-6 2h6m-6 1h6m-6 2h6m-6 2h6m-6 2h6m-6 2h6m-6 2h6m-6 2h6m-6 1h6m-6 2h6m-6 2h6m-6 2h6m-6 2h6m-6 2h6m-6 1h6m-6 2h6m-6 2h6m-6 2h6m-6 2h6m-6 2h6m-6 2h6m-6 1h6m-6 2h6m-6 2h6m-6 2h6m-6 2h6m-6 2h6m-6 1h6m-6 2h6m-6 2h6m-6 2h6m-6 2h6m-6 2h6m-6 2h6m-6 1h6m-6 2h6m-6 2h6m-6 2h6m-6 2h6m-6 2h6m-6 1h6m-6 2h6m-6 2h6m-6 2h6m-6 2h6m-6 2h6m-6 2h6m-6 1h6m-6 2h6m-6 2h6m-6 2h6m-6 2h6m-6 2h6m-6 1h6m-6 2h6m-6 2h6m-6 2h6m-6 2h6m-6 2h6m-6 2h6m-6 1h6m-6 2h6m-6 2h6m-6 2h6m-6 2h6m-6 2h6m-6 1h6m-6 2h6m-6 2h6m-6 2h6m-6 2h6m-6 2h6m-6 2h6m-6 1h6m-6 2h6m-6 2h6m-6 2h6m-6 2h6m-6 2h6m-6 1h6m-6 2h6m-6 2h6m-6 2h6m-6 2h6m-6 2h6m-6 2h6m-6 1h6m-6 2h6m-6 2h6m-6 2h6m-6 2h6m-6 2h6m-6 1h6m-6 2h6m-6 2h6m-6 2h6m-6 2h6m-6 2h6m-6 2h6m-6 1h6m-6 2h6m-6 2h6m-6 2h6m-6 2h6m-6 2h6m-6 1h6m-6 2h6m-6 2h6m-6 2h6m-6 2h6m-6 2h6m-6 2h6m-6 1h6m-6 2h6m-6 2h6m-6 2h6m-6 2h6m-6 2h6m-6 1h6m-6 2h6m-6 2h6m-6 2h6m-6 2h6m-6 2h6m-6 2h6m-6 3h6m-6 2h6m-6 2h6m-6 2h6m-6 2h6m-6 3h6m-6 4h6M749.5 450.5h6m-6 4h6m-6 1h6M749.5 433.5h6m-6 2h6m-6 2h6m-6 4h6m-6 2h6M758.5 496.5h6m-6 2h6m-6 2h6m-6 3h6m-6 2h6m-6 2h6m-6 2h6m-6 2h6m-6 2h6m-6 2h6m-6 1h6m-6 2h6m-6 4h6m-6 2h6m-6 2h6m-6 1h6m-6 4h6m-6 2h6m-6 2h6m-6 2h6m-6 2h6m-6 1h6m-6 2h6m-6 2h6m-6 2h6m-6 2h6m-6 2h6m-6 1h6m-6 2h6m-6 2h6m-6 2h6m-6 2h6m-6 2h6m-6 2h6m-6 1h6m-6 2h6m-6 2h6m-6 2h6m-6 2h6m-6 2h6m-6 1h6m-6 2h6m-6 2h6m-6 2h6m-6 2h6m-6 2h6m-6 2h6m-6 1h6m-6 2h6m-6 2h6m-6 2h6m-6 2h6m-6 2h6m-6 1h6m-6 2h6m-6 2h6m-6 2h6m-6 2h6m-6 2h6m-6 2h6m-6 1h6m-6 2h6m-6 2h6m-6 2h6m-6 2h6m-6 2h6m-6 1h6m-6 2h6m-6 2h6m-6 2h6m-6 2h6m-6 2h6m-6 2h6m-6 1h6m-6 2h6m-6 2h6m-6 2h6m-6 2h6m-6 2h6m-6 1h6m-6 2h6m-6 2h6m-6 2h6m-6 2h6m-6 2h6m-6 2h6m-6 1h6m-6 2h6m-6 2h6m-6 2h6m-6 2h6m-6 2h6m-6 1h6m-6 2h6m-6 2h6m-6 2h6m-6 2h6m-6 2h6m-6 2h6m-6 1h6m-6 2h6m-6 2h6m-6 2h6m-6 2h6m-6 2h6m-6 1h6m-6 2h6m-6 2h6m-6 2h6m-6 2h6m-6 2h6m-6 2h6m-6 1h6m-6 2h6m-6 2h6m-6 2h6m-6 2h6m-6 2h6m-6 1h6m-6 2h6m-6 2h6m-6 2h6m-6 2h6m-6 2h6m-6 2h6m-6 1h6m-6 2h6m-6 2h6m-6 2h6m-6 2h6m-6 2h6m-6 1h6m-6 2h6m-6 2h6m-6 2h6m-6 2h6m-6 2h6m-6 2h6m-6 1h6m-6 2h6m-6 2h6m-6 2h6m-6 2h6m-6 2h6m-6 1h6m-6 2h6m-6 2h6m-6 2h6m-6 2h6m-6 2h6m-6 2h6m-6 1h6m-6 2h6m-6 2h6m-6 2h6m-6 2h6m-6 2h6m-6 1h6m-6 2h6m-6 2h6m-6 2h6m-6 2h6m-6 2h6m-6 2h6m-6 1h6m-6 2h6m-6 2h6m-6 2h6m-6 2h6m-6 3h6m-6 6h6m-6 6h6m-6 1h6M758.5 452.5h6m-6 2h6m-6 5h6m-6 2h6m-6 6h6m-6 5h6m-6 2h6m-6 2h6m-6 3h6m-6 2h6m-6 2h6m-6 4h6m-6 2h6M758.5 437.5h6m-6 6h6M766.5 457.5h6m-6 2h6m-6 4h6m-6 2h6m-6 2h6m-6 1h6m-6 2h6m-6 2h6m-6 2h6m-6 5h6m-6 2h6m-6 4h6m-6 2h6m-6 5h6m-6 2h6m-6 2h6m-6 2h6m-6 2h6m-6 2h6m-6 1h6m-6 2h6m-6 2h6m-6 2h6m-6 2h6m-6 2h6m-6 2h6m-6 1h6m-6 2h6m-6 2h6m-6 2h6m-6 2h6m-6 3h6m-6 2h6m-6 2h6m-6 2h6m-6 2h6m-6 2h6m-6 2h6m-6 1h6m-6 2h6m-6 2h6m-6 2h6m-6 2h6m-6 2h6m-6 1h6m-6 2h6m-6 2h6m-6 2h6m-6 2h6m-6 2h6m-6 2h6m-6 1h6m-6 2h6m-6 2h6m-6 2h6m-6 2h6m-6 2h6m-6 1h6m-6 2h6m-6 2h6m-6 2h6m-6 2h6m-6 2h6m-6 2h6m-6 1h6m-6 2h6m-6 2h6m-6 2h6m-6 2h6m-6 2h6m-6 1h6m-6 2h6m-6 2h6m-6 2h6m-6 2h6m-6 2h6m-6 2h6m-6 1h6m-6 2h6m-6 2h6m-6 2h6m-6 2h6m-6 2h6m-6 1h6m-6 2h6m-6 2h6m-6 2h6m-6 2h6m-6 2h6m-6 2h6m-6 1h6m-6 2h6m-6 2h6m-6 2h6m-6 2h6m-6 2h6m-6 1h6m-6 2h6m-6 2h6m-6 2h6m-6 2h6m-6 2h6m-6 2h6m-6 1h6m-6 2h6m-6 2h6m-6 2h6m-6 2h6m-6 2h6m-6 1h6m-6 2h6m-6 2h6m-6 2h6m-6 2h6m-6 2h6m-6 2h6m-6 1h6m-6 2h6m-6 2h6m-6 2h6m-6 2h6m-6 2h6m-6 1h6m-6 2h6m-6 2h6m-6 2h6m-6 2h6m-6 2h6m-6 2h6m-6 1h6m-6 2h6m-6 2h6m-6 2h6m-6 2h6m-6 2h6m-6 1h6m-6 2h6m-6 2h6m-6 2h6m-6 2h6m-6 2h6m-6 2h6m-6 1h6m-6 2h6m-6 2h6m-6 2h6m-6 2h6m-6 2h6m-6 1h6m-6 2h6m-6 2h6m-6 2h6m-6 2h6m-6 2h6m-6 2h6m-6 1h6m-6 2h6m-6 2h6m-6 2h6m-6 2h6m-6 2h6m-6 1h6m-6 2h6m-6 2h6m-6 2h6m-6 2h6m-6 2h6m-6 2h6m-6 1h6m-6 2h6m-6 2h6m-6 2h6m-6 2h6m-6 2h6m-6 1h6m-6 2h6m-6 2h6m-6 2h6m-6 2h6m-6 2h6m-6 3h6m-6 2h6m-6 2h6m-6 4h6m-6 5h6m-6 4h6m-6 2h6m-6 2h6M766.5 437.5h6m-6 2h6m-6 4h6m-6 5h6M766.5 396.5h6m-6 6h6M766.5 352.5h6m-6 6h6M775.5 483.5h6m-6 2h6m-6 2h6m-6 4h6m-6 1h6m-6 4h6m-6 4h6m-6 5h6m-6 2h6m-6 2h6m-6 2h6m-6 2h6m-6 2h6m-6 1h6m-6 2h6m-6 2h6m-6 2h6m-6 2h6m-6 2h6m-6 1h6m-6 2h6m-6 2h6m-6 2h6m-6 2h6m-6 2h6m-6 2h6m-6 1h6m-6 2h6m-6 2h6m-6 2h6m-6 2h6m-6 2h6m-6 1h6m-6 2h6m-6 2h6m-6 2h6m-6 2h6m-6 2h6m-6 2h6m-6 1h6m-6 2h6m-6 2h6m-6 2h6m-6 2h6m-6 2h6m-6 1h6m-6 2h6m-6 2h6m-6 2h6m-6 2h6m-6 2h6m-6 2h6m-6 1h6m-6 2h6m-6 2h6m-6 2h6m-6 2h6m-6 2h6m-6 1h6m-6 2h6m-6 2h6m-6 2h6m-6 2h6m-6 2h6m-6 2h6m-6 1h6m-6 2h6m-6 2h6m-6 2h6m-6 2h6m-6 2h6m-6 1h6m-6 2h6m-6 2h6m-6 2h6m-6 2h6m-6 2h6m-6 2h6m-6 1h6m-6 2h6m-6 2h6m-6 2h6m-6 2h6m-6 2h6m-6 1h6m-6 2h6m-6 2h6m-6 2h6m-6 2h6m-6 2h6m-6 2h6m-6 1h6m-6 2h6m-6 2h6m-6 2h6m-6 2h6m-6 2h6m-6 1h6m-6 2h6m-6 2h6m-6 2h6m-6 2h6m-6 2h6m-6 2h6m-6 1h6m-6 2h6m-6 2h6m-6 2h6m-6 2h6m-6 2h6m-6 1h6m-6 2h6m-6 2h6m-6 2h6m-6 2h6m-6 2h6m-6 2h6m-6 1h6m-6 2h6m-6 2h6m-6 2h6m-6 2h6m-6 2h6m-6 1h6m-6 2h6m-6 2h6m-6 2h6m-6 2h6m-6 2h6m-6 2h6m-6 1h6m-6 2h6m-6 2h6m-6 2h6m-6 2h6m-6 2h6m-6 1h6m-6 2h6m-6 2h6m-6 2h6m-6 2h6m-6 2h6m-6 2h6m-6 1h6m-6 2h6m-6 2h6m-6 2h6m-6 2h6m-6 2h6m-6 1h6m-6 2h6m-6 2h6m-6 2h6m-6 2h6m-6 2h6m-6 2h6m-6 1h6m-6 2h6m-6 2h6m-6 2h6m-6 2h6m-6 2h6m-6 1h6m-6 2h6m-6 2h6m-6 2h6m-6 2h6m-6 2h6m-6 2h6m-6 1h6m-6 2h6m-6 4h6m-6 4h6m-6 3h6m-6 6h6m-6 5h6M775.5 465.5h6m-6 2h6m-6 3h6m-6 2h6m-6 2h6M775.5 443.5h6m-6 1h6m-6 2h6m-6 2h6m-6 4h6m-6 5h6M783.5 474.5h6m-6 4h6m-6 1h6m-6 6h6m-6 2h6m-6 5h6m-6 2h6m-6 4h6m-6 2h6m-6 2h6m-6 1h6m-6 4h6m-6 4h6m-6 2h6m-6 2h6m-6 1h6m-6 2h6m-6 2h6m-6 2h6m-6 2h6m-6 2h6m-6 1h6m-6 4h6m-6 2h6m-6 2h6m-6 2h6m-6 2h6m-6 1h6m-6 2h6m-6 2h6m-6 2h6m-6 2h6m-6 2h6m-6 1h6m-6 2h6m-6 2h6m-6 2h6m-6 2h6m-6 2h6m-6 2h6m-6 1h6m-6 2h6m-6 2h6m-6 2h6m-6 2h6m-6 2h6m-6 1h6m-6 2h6m-6 2h6m-6 2h6m-6 2h6m-6 2h6m-6 2h6m-6 1h6m-6 2h6m-6 2h6m-6 2h6m-6 2h6m-6 2h6m-6 1h6m-6 2h6m-6 2h6m-6 2h6m-6 2h6m-6 2h6m-6 2h6m-6 1h6m-6 2h6m-6 2h6m-6 2h6m-6 2h6m-6 2h6m-6 1h6m-6 2h6m-6 2h6m-6 2h6m-6 2h6m-6 2h6m-6 2h6m-6 1h6m-6 2h6m-6 2h6m-6 2h6m-6 2h6m-6 2h6m-6 1h6m-6 2h6m-6 2h6m-6 2h6m-6 2h6m-6 2h6m-6 2h6m-6 1h6m-6 2h6m-6 2h6m-6 2h6m-6 2h6m-6 2h6m-6 1h6m-6 2h6m-6 2h6m-6 2h6m-6 2h6m-6 2h6m-6 2h6m-6 1h6m-6 2h6m-6 2h6m-6 2h6m-6 2h6m-6 2h6m-6 1h6m-6 2h6m-6 2h6m-6 2h6m-6 2h6m-6 2h6m-6 2h6m-6 1h6m-6 2h6m-6 2h6m-6 2h6m-6 2h6m-6 2h6m-6 1h6m-6 2h6m-6 2h6m-6 2h6m-6 2h6m-6 2h6m-6 2h6m-6 1h6m-6 2h6m-6 2h6m-6 2h6m-6 2h6m-6 2h6m-6 1h6m-6 2h6m-6 2h6m-6 2h6m-6 2h6m-6 2h6m-6 2h6m-6 1h6m-6 2h6m-6 2h6m-6 2h6m-6 2h6m-6 2h6m-6 1h6m-6 2h6m-6 2h6m-6 2h6m-6 2h6m-6 2h6m-6 2h6m-6 1h6m-6 2h6m-6 2h6m-6 2h6m-6 2h6m-6 2h6m-6 1h6m-6 2h6m-6 2h6m-6 2h6m-6 2h6m-6 2h6m-6 2h6m-6 1h6m-6 2h6m-6 2h6m-6 2h6m-6 4h6m-6 3h6m-6 6h6M783.5 450.5h6m-6 2h6m-6 5h6m-6 6h6m-6 2h6M783.5 426.5h6m-6 6h6M783.5 409.5h6m-6 2h6M783.5 400.5h6m-6 2h6M792.5 437.5h6m-6 2h6m-6 4h6m-6 3h6m-6 4h6m-6 4h6m-6 1h6m-6 2h6m-6 2h6m-6 2h6m-6 4h6m-6 2h6m-6 1h6m-6 2h6m-6 4h6m-6 2h6m-6 2h6m-6 1h6m-6 6h6m-6 2h6m-6 4h6m-6 1h6m-6 2h6m-6 2h6m-6 2h6m-6 2h6m-6 2h6m-6 1h6m-6 4h6m-6 4h6m-6 2h6m-6 2h6m-6 1h6m-6 2h6m-6 2h6m-6 2h6m-6 2h6m-6 2h6m-6 1h6m-6 2h6m-6 2h6m-6 4h6m-6 4h6m-6 1h6m-6 2h6m-6 2h6m-6 2h6m-6 2h6m-6 2h6m-6 1h6m-6 2h6m-6 2h6m-6 2h6m-6 2h6m-6 2h6m-6 2h6m-6 1h6m-6 2h6m-6 2h6m-6 2h6m-6 2h6m-6 2h6m-6 1h6m-6 2h6m-6 2h6m-6 2h6m-6 2h6m-6 2h6m-6 2h6m-6 1h6m-6 2h6m-6 2h6m-6 2h6m-6 2h6m-6 2h6m-6 1h6m-6 2h6m-6 2h6m-6 2h6m-6 2h6m-6 2h6m-6 2h6m-6 1h6m-6 2h6m-6 2h6m-6 2h6m-6 2h6m-6 2h6m-6 1h6m-6 2h6m-6 2h6m-6 2h6m-6 2h6m-6 2h6m-6 2h6m-6 1h6m-6 2h6m-6 2h6m-6 2h6m-6 2h6m-6 2h6m-6 1h6m-6 2h6m-6 2h6m-6 2h6m-6 2h6m-6 2h6m-6 2h6m-6 1h6m-6 2h6m-6 2h6m-6 2h6m-6 2h6m-6 2h6m-6 1h6m-6 2h6m-6 2h6m-6 2h6m-6 2h6m-6 2h6m-6 2h6m-6 1h6m-6 2h6m-6 2h6m-6 2h6m-6 2h6m-6 2h6m-6 1h6m-6 2h6m-6 2h6m-6 2h6m-6 2h6m-6 2h6m-6 2h6m-6 1h6m-6 2h6m-6 2h6m-6 2h6m-6 2h6m-6 2h6m-6 1h6m-6 2h6m-6 2h6m-6 2h6m-6 2h6m-6 2h6m-6 2h6m-6 1h6m-6 2h6m-6 2h6m-6 2h6m-6 2h6m-6 2h6m-6 1h6m-6 2h6m-6 2h6m-6 2h6m-6 2h6m-6 2h6m-6 2h6m-6 1h6m-6 2h6m-6 2h6m-6 2h6m-6 2h6m-6 2h6m-6 1h6m-6 2h6m-6 2h6m-6 2h6m-6 2h6m-6 2h6m-6 2h6m-6 1h6m-6 2h6m-6 2h6m-6 2h6m-6 2h6m-6 2h6m-6 1h6m-6 2h6m-6 2h6m-6 2h6m-6 2h6m-6 2h6m-6 2h6m-6 1h6m-6 2h6m-6 2h6m-6 2h6m-6 2h6m-6 5h6m-6 6h6M792.5 415.5h6m-6 2h6M792.5 404.5h6m-6 2h6M801.5 461.5h6m-6 4h6m-6 3h6m-6 4h6m-6 2h6m-6 4h6m-6 1h6m-6 2h6m-6 2h6m-6 2h6m-6 2h6m-6 2h6m-6 3h6m-6 2h6m-6 2h6m-6 2h6m-6 2h6m-6 2h6m-6 1h6m-6 2h6m-6 2h6m-6 2h6m-6 2h6m-6 2h6m-6 3h6m-6 2h6m-6 2h6m-6 2h6m-6 2h6m-6 3h6m-6 2h6m-6 4h6m-6 2h6m-6 2h6m-6 2h6m-6 1h6m-6 2h6m-6 2h6m-6 2h6m-6 2h6m-6 2h6m-6 1h6m-6 2h6m-6 2h6m-6 2h6m-6 2h6m-6 2h6m-6 2h6m-6 1h6m-6 2h6m-6 2h6m-6 2h6m-6 2h6m-6 2h6m-6 1h6m-6 2h6m-6 2h6m-6 2h6m-6 2h6m-6 2h6m-6 2h6m-6 1h6m-6 2h6m-6 2h6m-6 2h6m-6 2h6m-6 2h6m-6 1h6m-6 2h6m-6 2h6m-6 2h6m-6 2h6m-6 2h6m-6 2h6m-6 1h6m-6 2h6m-6 2h6m-6 2h6m-6 2h6m-6 2h6m-6 1h6m-6 2h6m-6 2h6m-6 2h6m-6 2h6m-6 2h6m-6 2h6m-6 1h6m-6 2h6m-6 2h6m-6 2h6m-6 2h6m-6 2h6m-6 1h6m-6 2h6m-6 2h6m-6 2h6m-6 2h6m-6 2h6m-6 2h6m-6 1h6m-6 2h6m-6 2h6m-6 2h6m-6 2h6m-6 2h6m-6 1h6m-6 2h6m-6 2h6m-6 2h6m-6 2h6m-6 2h6m-6 2h6m-6 1h6m-6 2h6m-6 2h6m-6 2h6m-6 2h6m-6 2h6m-6 1h6m-6 2h6m-6 2h6m-6 2h6m-6 2h6m-6 2h6m-6 2h6m-6 1h6m-6 2h6m-6 2h6m-6 2h6m-6 2h6m-6 2h6m-6 1h6m-6 2h6m-6 2h6m-6 2h6m-6 2h6m-6 2h6m-6 2h6m-6 1h6m-6 2h6m-6 2h6m-6 2h6m-6 2h6m-6 2h6m-6 1h6m-6 2h6m-6 2h6m-6 2h6m-6 2h6m-6 2h6m-6 2h6m-6 1h6m-6 2h6m-6 2h6m-6 2h6m-6 2h6m-6 2h6m-6 1h6m-6 2h6m-6 2h6m-6 2h6m-6 2h6m-6 2h6m-6 2h6m-6 1h6m-6 2h6m-6 2h6m-6 2h6m-6 2h6m-6 2h6m-6 1h6m-6 2h6m-6 2h6m-6 2h6m-6 2h6m-6 2h6m-6 2h6m-6 1h6m-6 2h6m-6 2h6m-6 2h6m-6 2h6m-6 3h6m-6 2h6m-6 4h6m-6 4h6m-6 3h6M801.5 430.5h6m-6 2h6m-6 1h6m-6 6h6m-6 4h6m-6 3h6m-6 2h6m-6 4h6M801.5 387.5h6m-6 4h6M809.5 496.5h6m-6 2h6m-6 2h6m-6 2h6m-6 3h6m-6 2h6m-6 2h6m-6 2h6m-6 4h6m-6 1h6m-6 2h6m-6 2h6m-6 2h6m-6 2h6m-6 2h6m-6 1h6m-6 2h6m-6 2h6m-6 2h6m-6 2h6m-6 2h6m-6 2h6m-6 1h6m-6 2h6m-6 2h6m-6 2h6m-6 2h6m-6 2h6m-6 1h6m-6 2h6m-6 2h6m-6 2h6m-6 2h6m-6 2h6m-6 2h6m-6 1h6m-6 2h6m-6 2h6m-6 2h6m-6 2h6m-6 2h6m-6 1h6m-6 2h6m-6 2h6m-6 2h6m-6 2h6m-6 2h6m-6 2h6m-6 1h6m-6 2h6m-6 2h6m-6 2h6m-6 2h6m-6 2h6m-6 1h6m-6 2h6m-6 2h6m-6 2h6m-6 2h6m-6 2h6m-6 2h6m-6 1h6m-6 2h6m-6 2h6m-6 2h6m-6 2h6m-6 2h6m-6 1h6m-6 2h6m-6 2h6m-6 2h6m-6 2h6m-6 2h6m-6 2h6m-6 1h6m-6 2h6m-6 2h6m-6 2h6m-6 2h6m-6 2h6m-6 1h6m-6 2h6m-6 2h6m-6 2h6m-6 2h6m-6 2h6m-6 2h6m-6 1h6m-6 2h6m-6 2h6m-6 2h6m-6 2h6m-6 2h6m-6 1h6m-6 2h6m-6 2h6m-6 2h6m-6 2h6m-6 2h6m-6 2h6m-6 1h6m-6 2h6m-6 2h6m-6 2h6m-6 2h6m-6 2h6m-6 1h6m-6 2h6m-6 2h6m-6 2h6m-6 2h6m-6 2h6m-6 2h6m-6 1h6m-6 2h6m-6 2h6m-6 2h6m-6 2h6m-6 2h6m-6 1h6m-6 2h6m-6 2h6m-6 2h6m-6 2h6m-6 2h6m-6 2h6m-6 1h6m-6 2h6m-6 2h6m-6 2h6m-6 2h6m-6 2h6m-6 1h6m-6 2h6m-6 2h6m-6 2h6m-6 2h6m-6 2h6m-6 2h6m-6 1h6m-6 2h6m-6 2h6m-6 2h6m-6 2h6m-6 2h6m-6 1h6m-6 2h6m-6 2h6m-6 2h6m-6 2h6m-6 2h6m-6 2h6m-6 1h6m-6 2h6m-6 2h6m-6 2h6m-6 2h6m-6 2h6m-6 1h6m-6 2h6m-6 2h6m-6 2h6m-6 2h6m-6 2h6m-6 2h6m-6 1h6m-6 2h6m-6 4h6m-6 2h6m-6 2h6m-6 3h6m-6 2h6m-6 2h6m-6 4h6M809.5 457.5h6m-6 4h6m-6 4h6m-6 2h6m-6 1h6m-6 4h6m-6 2h6m-6 2h6m-6 2h6m-6 5h6m-6 2h6m-6 4h6M809.5 432.5h6m-6 5h6m-6 6h6M809.5 413.5h6m-6 6h6M809.5 361.5h6m-6 2h6M818.5 470.5h6m-6 2h6m-6 2h6m-6 2h6m-6 3h6m-6 2h6m-6 2h6m-6 2h6m-6 4h6m-6 2h6m-6 3h6m-6 2h6m-6 2h6m-6 2h6m-6 2h6m-6 1h6m-6 2h6m-6 2h6m-6 2h6m-6 2h6m-6 2h6m-6 2h6m-6 5h6m-6 2h6m-6 4h6m-6 1h6m-6 2h6m-6 2h6m-6 2h6m-6 4h6m-6 2h6m-6 1h6m-6 2h6m-6 2h6m-6 2h6m-6 2h6m-6 2h6m-6 1h6m-6 2h6m-6 2h6m-6 2h6m-6 2h6m-6 2h6m-6 2h6m-6 1h6m-6 2h6m-6 2h6m-6 2h6m-6 2h6m-6 2h6m-6 1h6m-6 2h6m-6 2h6m-6 2h6m-6 2h6m-6 2h6m-6 2h6m-6 1h6m-6 2h6m-6 2h6m-6 2h6m-6 2h6m-6 2h6m-6 1h6m-6 2h6m-6 2h6m-6 2h6m-6 2h6m-6 2h6m-6 2h6m-6 1h6m-6 2h6m-6 2h6m-6 2h6m-6 2h6m-6 2h6m-6 1h6m-6 2h6m-6 2h6m-6 2h6m-6 2h6m-6 2h6m-6 2h6m-6 1h6m-6 2h6m-6 2h6m-6 2h6m-6 2h6m-6 2h6m-6 1h6m-6 2h6m-6 2h6m-6 2h6m-6 2h6m-6 2h6m-6 2h6m-6 1h6m-6 2h6m-6 2h6m-6 2h6m-6 2h6m-6 2h6m-6 1h6m-6 2h6m-6 2h6m-6 2h6m-6 2h6m-6 2h6m-6 2h6m-6 1h6m-6 2h6m-6 2h6m-6 2h6m-6 2h6m-6 2h6m-6 1h6m-6 2h6m-6 2h6m-6 2h6m-6 2h6m-6 2h6m-6 2h6m-6 1h6m-6 2h6m-6 2h6m-6 2h6m-6 2h6m-6 2h6m-6 1h6m-6 2h6m-6 2h6m-6 2h6m-6 2h6m-6 2h6m-6 2h6m-6 1h6m-6 2h6m-6 2h6m-6 2h6m-6 2h6m-6 2h6m-6 1h6m-6 2h6m-6 2h6m-6 2h6m-6 2h6m-6 2h6m-6 2h6m-6 1h6m-6 2h6m-6 2h6m-6 2h6m-6 2h6m-6 2h6m-6 1h6m-6 2h6m-6 2h6m-6 2h6m-6 2h6m-6 2h6m-6 2h6m-6 1h6m-6 2h6m-6 2h6m-6 2h6m-6 2h6m-6 2h6m-6 1h6m-6 2h6m-6 2h6m-6 2h6m-6 2h6m-6 2h6m-6 2h6m-6 1h6m-6 2h6m-6 2h6m-6 6h6m-6 1h6m-6 2h6m-6 2h6m-6 2h6m-6 2h6m-6 5h6m-6 4h6M818.5 455.5h6m-6 2h6m-6 4h6m-6 2h6M818.5 439.5h6m-6 4h6M818.5 411.5h6m-6 4h6m-6 2h6m-6 5h6m-6 4h6m-6 6h6M826.5 819.5h6m-6 2h6m-6 6h6M826.5 428.5h6m-6 2h6m-6 5h6m-6 4h6m-6 5h6m-6 2h6m-6 2h6m-6 4h6m-6 3h6m-6 2h6m-6 4h6m-6 4h6m-6 2h6m-6 1h6m-6 2h6m-6 4h6m-6 4h6m-6 5h6m-6 2h6m-6 2h6m-6 2h6m-6 2h6m-6 1h6m-6 2h6m-6 2h6m-6 2h6m-6 2h6m-6 2h6m-6 1h6m-6 4h6m-6 4h6m-6 2h6m-6 2h6m-6 1h6m-6 2h6m-6 2h6m-6 2h6m-6 2h6m-6 2h6m-6 1h6m-6 2h6m-6 2h6m-6 2h6m-6 2h6m-6 2h6m-6 2h6m-6 1h6m-6 2h6m-6 2h6m-6 2h6m-6 2h6m-6 2h6m-6 1h6m-6 2h6m-6 2h6m-6 2h6m-6 2h6m-6 2h6m-6 2h6m-6 1h6m-6 2h6m-6 2h6m-6 2h6m-6 2h6m-6 2h6m-6 1h6m-6 2h6m-6 2h6m-6 2h6m-6 2h6m-6 2h6m-6 2h6m-6 1h6m-6 2h6m-6 2h6m-6 2h6m-6 2h6m-6 2h6m-6 1h6m-6 2h6m-6 2h6m-6 2h6m-6 2h6m-6 2h6m-6 2h6m-6 1h6m-6 2h6m-6 2h6m-6 2h6m-6 2h6m-6 2h6m-6 1h6m-6 2h6m-6 2h6m-6 2h6m-6 2h6m-6 2h6m-6 2h6m-6 1h6m-6 2h6m-6 2h6m-6 2h6m-6 2h6m-6 2h6m-6 1h6m-6 2h6m-6 2h6m-6 2h6m-6 2h6m-6 2h6m-6 2h6m-6 1h6m-6 2h6m-6 2h6m-6 2h6m-6 2h6m-6 2h6m-6 1h6m-6 2h6m-6 2h6m-6 2h6m-6 2h6m-6 2h6m-6 2h6m-6 1h6m-6 2h6m-6 2h6m-6 2h6m-6 2h6m-6 2h6m-6 1h6m-6 2h6m-6 2h6m-6 2h6m-6 2h6m-6 2h6m-6 2h6m-6 1h6m-6 2h6m-6 2h6m-6 2h6m-6 2h6m-6 2h6m-6 1h6m-6 2h6m-6 2h6m-6 2h6m-6 2h6m-6 2h6m-6 2h6m-6 1h6m-6 2h6m-6 2h6m-6 2h6m-6 2h6m-6 2h6m-6 1h6m-6 2h6m-6 2h6m-6 2h6m-6 2h6m-6 2h6m-6 2h6m-6 1h6m-6 2h6m-6 2h6m-6 2h6m-6 2h6m-6 2h6m-6 1h6m-6 2h6m-6 2h6m-6 2h6m-6 2h6m-6 2h6m-6 2h6m-6 1h6m-6 2h6m-6 2h6m-6 2h6m-6 2h6m-6 2h6m-6 1h6m-6 2h6m-6 2h6m-6 2h6m-6 2h6m-6 2h6m-6 2h6m-6 1h6m-6 2h6m-6 6h6M826.5 406.5h6m-6 2h6m-6 1h6m-6 2h6m-6 2h6M835.5 487.5h6m-6 2h6m-6 2h6m-6 1h6m-6 2h6m-6 2h6m-6 4h6m-6 2h6m-6 1h6m-6 2h6m-6 2h6m-6 4h6m-6 2h6m-6 2h6m-6 1h6m-6 2h6m-6 4h6m-6 4h6m-6 1h6m-6 2h6m-6 2h6m-6 2h6m-6 2h6m-6 2h6m-6 3h6m-6 2h6m-6 2h6m-6 2h6m-6 2h6m-6 2h6m-6 1h6m-6 2h6m-6 2h6m-6 2h6m-6 2h6m-6 2h6m-6 2h6m-6 1h6m-6 2h6m-6 2h6m-6 2h6m-6 2h6m-6 2h6m-6 1h6m-6 2h6m-6 2h6m-6 2h6m-6 2h6m-6 2h6m-6 2h6m-6 1h6m-6 2h6m-6 2h6m-6 2h6m-6 2h6m-6 2h6m-6 1h6m-6 2h6m-6 2h6m-6 2h6m-6 2h6m-6 2h6m-6 2h6m-6 1h6m-6 2h6m-6 2h6m-6 2h6m-6 2h6m-6 2h6m-6 1h6m-6 2h6m-6 2h6m-6 2h6m-6 2h6m-6 2h6m-6 2h6m-6 1h6m-6 2h6m-6 2h6m-6 2h6m-6 2h6m-6 2h6m-6 1h6m-6 2h6m-6 2h6m-6 2h6m-6 2h6m-6 2h6m-6 2h6m-6 1h6m-6 2h6m-6 2h6m-6 2h6m-6 2h6m-6 2h6m-6 1h6m-6 2h6m-6 2h6m-6 2h6m-6 2h6m-6 2h6m-6 2h6m-6 1h6m-6 2h6m-6 2h6m-6 2h6m-6 2h6m-6 2h6m-6 1h6m-6 2h6m-6 2h6m-6 2h6m-6 2h6m-6 2h6m-6 2h6m-6 1h6m-6 2h6m-6 2h6m-6 2h6m-6 2h6m-6 2h6m-6 1h6m-6 2h6m-6 2h6m-6 2h6m-6 2h6m-6 2h6m-6 2h6m-6 1h6m-6 2h6m-6 2h6m-6 2h6m-6 2h6m-6 2h6m-6 1h6m-6 2h6m-6 2h6m-6 2h6m-6 2h6m-6 2h6m-6 2h6m-6 1h6m-6 2h6m-6 2h6m-6 2h6m-6 2h6m-6 2h6m-6 1h6m-6 2h6m-6 2h6m-6 2h6m-6 2h6m-6 2h6m-6 2h6m-6 1h6m-6 2h6m-6 2h6m-6 2h6m-6 2h6m-6 2h6m-6 1h6m-6 2h6m-6 2h6m-6 2h6m-6 2h6m-6 2h6m-6 2h6m-6 1h6m-6 2h6m-6 2h6m-6 2h6m-6 2h6M835.5 470.5h6m-6 2h6m-6 6h6m-6 1h6M835.5 446.5h6m-6 2h6M835.5 430.5h6m-6 5h6m-6 2h6M843.5 485.5h6m-6 2h6m-6 2h6m-6 3h6m-6 2h6m-6 2h6m-6 2h6m-6 2h6m-6 3h6m-6 4h6m-6 4h6m-6 2h6m-6 2h6m-6 1h6m-6 2h6m-6 2h6m-6 2h6m-6 2h6m-6 2h6m-6 1h6m-6 2h6m-6 2h6m-6 2h6m-6 2h6m-6 2h6m-6 2h6m-6 1h6m-6 2h6m-6 4h6m-6 2h6m-6 2h6m-6 1h6m-6 2h6m-6 2h6m-6 2h6m-6 2h6m-6 2h6m-6 2h6m-6 1h6m-6 2h6m-6 2h6m-6 2h6m-6 2h6m-6 2h6m-6 1h6m-6 2h6m-6 2h6m-6 2h6m-6 2h6m-6 2h6m-6 2h6m-6 1h6m-6 2h6m-6 2h6m-6 2h6m-6 2h6m-6 2h6m-6 1h6m-6 2h6m-6 2h6m-6 2h6m-6 2h6m-6 2h6m-6 2h6m-6 1h6m-6 2h6m-6 2h6m-6 2h6m-6 2h6m-6 2h6m-6 1h6m-6 2h6m-6 2h6m-6 2h6m-6 2h6m-6 2h6m-6 2h6m-6 1h6m-6 2h6m-6 2h6m-6 2h6m-6 2h6m-6 2h6m-6 1h6m-6 2h6m-6 2h6m-6 2h6m-6 2h6m-6 2h6m-6 2h6m-6 1h6m-6 2h6m-6 2h6m-6 2h6m-6 2h6m-6 2h6m-6 1h6m-6 2h6m-6 2h6m-6 2h6m-6 2h6m-6 2h6m-6 2h6m-6 1h6m-6 2h6m-6 2h6m-6 2h6m-6 2h6m-6 2h6m-6 1h6m-6 2h6m-6 2h6m-6 2h6m-6 2h6m-6 2h6m-6 2h6m-6 1h6m-6 2h6m-6 2h6m-6 2h6m-6 2h6m-6 2h6m-6 1h6m-6 2h6m-6 2h6m-6 2h6m-6 2h6m-6 2h6m-6 2h6m-6 1h6m-6 2h6m-6 2h6m-6 2h6m-6 2h6m-6 2h6m-6 1h6m-6 2h6m-6 2h6m-6 2h6m-6 2h6m-6 2h6m-6 2h6m-6 1h6m-6 2h6m-6 2h6m-6 2h6m-6 2h6m-6 2h6m-6 1h6m-6 2h6m-6 2h6m-6 2h6m-6 2h6m-6 2h6m-6 2h6m-6 1h6m-6 2h6m-6 2h6m-6 2h6m-6 2h6m-6 2h6m-6 1h6m-6 2h6m-6 2h6m-6 2h6m-6 2h6m-6 2h6m-6 2h6m-6 1h6m-6 2h6m-6 6h6m-6 2h6m-6 3h6m-6 4h6m-6 6h6m-6 1h6M843.5 470.5h6m-6 2h6m-6 2h6m-6 2h6m-6 2h6M843.5 452.5h6m-6 5h6M843.5 439.5h6m-6 2h6M843.5 404.5h6m-6 5h6M852.5 452.5h6m-6 3h6m-6 4h6m-6 2h6m-6 4h6m-6 3h6m-6 4h6m-6 2h6m-6 2h6m-6 2h6m-6 3h6m-6 2h6m-6 2h6m-6 2h6m-6 2h6m-6 2h6m-6 3h6m-6 2h6m-6 2h6m-6 2h6m-6 3h6m-6 4h6m-6 2h6m-6 2h6m-6 2h6m-6 3h6m-6 4h6m-6 4h6m-6 2h6m-6 1h6m-6 2h6m-6 2h6m-6 2h6m-6 2h6m-6 2h6m-6 2h6m-6 1h6m-6 2h6m-6 2h6m-6 2h6m-6 2h6m-6 2h6m-6 1h6m-6 2h6m-6 2h6m-6 2h6m-6 2h6m-6 2h6m-6 2h6m-6 1h6m-6 2h6m-6 2h6m-6 2h6m-6 2h6m-6 2h6m-6 1h6m-6 2h6m-6 2h6m-6 2h6m-6 2h6m-6 2h6m-6 2h6m-6 1h6m-6 2h6m-6 2h6m-6 2h6m-6 2h6m-6 2h6m-6 1h6m-6 2h6m-6 2h6m-6 2h6m-6 2h6m-6 2h6m-6 2h6m-6 1h6m-6 2h6m-6 2h6m-6 2h6m-6 2h6m-6 2h6m-6 1h6m-6 2h6m-6 2h6m-6 2h6m-6 2h6m-6 2h6m-6 2h6m-6 1h6m-6 2h6m-6 2h6m-6 2h6m-6 2h6m-6 2h6m-6 1h6m-6 2h6m-6 2h6m-6 2h6m-6 2h6m-6 2h6m-6 2h6m-6 1h6m-6 2h6m-6 2h6m-6 2h6m-6 2h6m-6 2h6m-6 1h6m-6 2h6m-6 2h6m-6 2h6m-6 2h6m-6 2h6m-6 2h6m-6 1h6m-6 2h6m-6 2h6m-6 2h6m-6 2h6m-6 2h6m-6 1h6m-6 2h6m-6 2h6m-6 2h6m-6 2h6m-6 2h6m-6 2h6m-6 1h6m-6 2h6m-6 2h6m-6 2h6m-6 2h6m-6 2h6m-6 1h6m-6 2h6m-6 2h6m-6 2h6m-6 2h6m-6 2h6m-6 2h6m-6 1h6m-6 2h6m-6 2h6m-6 2h6m-6 2h6m-6 2h6m-6 1h6m-6 2h6m-6 2h6m-6 2h6m-6 2h6m-6 2h6m-6 2h6m-6 1h6m-6 2h6m-6 2h6m-6 2h6m-6 2h6m-6 2h6m-6 1h6m-6 2h6m-6 2h6m-6 2h6m-6 2h6m-6 2h6m-6 2h6m-6 1h6m-6 2h6m-6 2h6m-6 6h6m-6 1h6m-6 2h6m-6 2h6m-6 2h6m-6 2h6m-6 2h6m-6 2h6m-6 1h6m-6 4h6m-6 2h6m-6 4h6m-6 1h6m-6 2h6m-6 6h6m-6 2h6M852.5 441.5h6m-6 3h6M852.5 374.5h6m-6 4h6m-6 6h6m-6 1h6M860.5 483.5h6m-6 4h6m-6 2h6m-6 5h6m-6 2h6m-6 2h6m-6 2h6m-6 3h6m-6 4h6m-6 6h6m-6 3h6m-6 2h6m-6 6h6m-6 2h6m-6 1h6m-6 2h6m-6 2h6m-6 2h6m-6 2h6m-6 2h6m-6 2h6m-6 1h6m-6 2h6m-6 2h6m-6 2h6m-6 2h6m-6 2h6m-6 1h6m-6 2h6m-6 2h6m-6 2h6m-6 2h6m-6 2h6m-6 2h6m-6 1h6m-6 2h6m-6 2h6m-6 2h6m-6 2h6m-6 2h6m-6 1h6m-6 2h6m-6 2h6m-6 2h6m-6 2h6m-6 2h6m-6 2h6m-6 1h6m-6 2h6m-6 2h6m-6 2h6m-6 2h6m-6 2h6m-6 1h6m-6 2h6m-6 2h6m-6 2h6m-6 2h6m-6 2h6m-6 2h6m-6 1h6m-6 2h6m-6 2h6m-6 2h6m-6 2h6m-6 2h6m-6 1h6m-6 2h6m-6 2h6m-6 2h6m-6 2h6m-6 2h6m-6 2h6m-6 1h6m-6 2h6m-6 2h6m-6 2h6m-6 2h6m-6 2h6m-6 1h6m-6 2h6m-6 2h6m-6 2h6m-6 2h6m-6 2h6m-6 2h6m-6 1h6m-6 2h6m-6 2h6m-6 2h6m-6 2h6m-6 2h6m-6 1h6m-6 2h6m-6 2h6m-6 2h6m-6 2h6m-6 2h6m-6 2h6m-6 1h6m-6 2h6m-6 2h6m-6 2h6m-6 2h6m-6 2h6m-6 1h6m-6 2h6m-6 2h6m-6 2h6m-6 2h6m-6 2h6m-6 2h6m-6 1h6m-6 2h6m-6 2h6m-6 2h6m-6 2h6m-6 2h6m-6 1h6m-6 2h6m-6 2h6m-6 2h6m-6 2h6m-6 2h6m-6 2h6m-6 1h6m-6 2h6m-6 2h6m-6 2h6m-6 2h6m-6 2h6m-6 1h6m-6 2h6m-6 2h6m-6 2h6m-6 2h6m-6 2h6m-6 2h6m-6 1h6m-6 2h6m-6 2h6m-6 2h6m-6 2h6m-6 2h6m-6 1h6m-6 2h6m-6 2h6m-6 2h6m-6 2h6m-6 2h6m-6 2h6m-6 1h6m-6 2h6m-6 2h6m-6 2h6m-6 4h6m-6 1h6m-6 2h6m-6 2h6m-6 2h6m-6 2h6m-6 2h6m-6 2h6m-6 1h6m-6 2h6m-6 2h6m-6 2h6m-6 5h6m-6 2h6m-6 2h6m-6 2h6M860.5 452.5h6m-6 2h6m-6 3h6m-6 2h6m-6 2h6m-6 6h6m-6 1h6m-6 2h6m-6 2h6m-6 2h6M860.5 439.5h6m-6 2h6M860.5 369.5h6m-6 2h6m-6 1h6M869.5 503.5h6m-6 2h6m-6 2h6m-6 6h6m-6 2h6m-6 1h6m-6 2h6m-6 2h6m-6 2h6m-6 2h6m-6 2h6m-6 1h6m-6 4h6m-6 2h6m-6 2h6m-6 2h6m-6 2h6m-6 3h6m-6 2h6m-6 2h6m-6 2h6m-6 2h6m-6 1h6m-6 2h6m-6 2h6m-6 2h6m-6 2h6m-6 2h6m-6 2h6m-6 1h6m-6 2h6m-6 2h6m-6 2h6m-6 2h6m-6 2h6m-6 1h6m-6 2h6m-6 2h6m-6 2h6m-6 2h6m-6 2h6m-6 2h6m-6 1h6m-6 2h6m-6 2h6m-6 2h6m-6 2h6m-6 2h6m-6 1h6m-6 2h6m-6 2h6m-6 2h6m-6 2h6m-6 2h6m-6 2h6m-6 1h6m-6 2h6m-6 2h6m-6 2h6m-6 2h6m-6 2h6m-6 1h6m-6 2h6m-6 2h6m-6 2h6m-6 2h6m-6 2h6m-6 2h6m-6 1h6m-6 2h6m-6 2h6m-6 2h6m-6 2h6m-6 2h6m-6 1h6m-6 2h6m-6 2h6m-6 2h6m-6 2h6m-6 2h6m-6 2h6m-6 1h6m-6 2h6m-6 2h6m-6 2h6m-6 2h6m-6 2h6m-6 1h6m-6 2h6m-6 2h6m-6 2h6m-6 2h6m-6 2h6m-6 2h6m-6 1h6m-6 2h6m-6 2h6m-6 2h6m-6 2h6m-6 2h6m-6 1h6m-6 2h6m-6 2h6m-6 2h6m-6 2h6m-6 2h6m-6 2h6m-6 1h6m-6 2h6m-6 2h6m-6 2h6m-6 2h6m-6 2h6m-6 1h6m-6 2h6m-6 2h6m-6 2h6m-6 2h6m-6 2h6m-6 2h6m-6 1h6m-6 2h6m-6 2h6m-6 2h6m-6 2h6m-6 2h6m-6 1h6m-6 4h6m-6 2h6m-6 2h6m-6 2h6m-6 2h6m-6 1h6m-6 2h6m-6 2h6m-6 2h6m-6 2h6m-6 2h6m-6 1h6m-6 2h6m-6 2h6m-6 2h6m-6 2h6m-6 2h6m-6 2h6m-6 1h6m-6 2h6m-6 2h6m-6 2h6m-6 2h6m-6 2h6m-6 1h6m-6 2h6m-6 2h6m-6 2h6m-6 2h6m-6 2h6m-6 2h6m-6 3h6m-6 2h6m-6 4h6m-6 2h6m-6 1h6M869.5 463.5h6m-6 5h6m-6 4h6m-6 4h6m-6 5h6m-6 4h6m-6 2h6m-6 2h6m-6 2h6m-6 1h6M869.5 439.5h6m-6 4h6m-6 3h6m-6 4h6m-6 2h6m-6 3h6M877.5 481.5h6m-6 2h6m-6 2h6m-6 2h6m-6 2h6m-6 3h6m-6 2h6m-6 2h6m-6 2h6m-6 2h6m-6 3h6m-6 2h6m-6 2h6m-6 2h6m-6 2h6m-6 2h6m-6 2h6m-6 1h6m-6 2h6m-6 2h6m-6 2h6m-6 2h6m-6 2h6m-6 1h6m-6 2h6m-6 4h6m-6 2h6m-6 2h6m-6 2h6m-6 1h6m-6 2h6m-6 2h6m-6 2h6m-6 2h6m-6 2h6m-6 1h6m-6 2h6m-6 2h6m-6 2h6m-6 2h6m-6 2h6m-6 2h6m-6 1h6m-6 2h6m-6 2h6m-6 2h6m-6 2h6m-6 2h6m-6 1h6m-6 2h6m-6 2h6m-6 2h6m-6 2h6m-6 2h6m-6 2h6m-6 1h6m-6 2h6m-6 2h6m-6 2h6m-6 2h6m-6 2h6m-6 1h6m-6 2h6m-6 2h6m-6 2h6m-6 2h6m-6 2h6m-6 2h6m-6 1h6m-6 2h6m-6 2h6m-6 2h6m-6 2h6m-6 2h6m-6 1h6m-6 2h6m-6 2h6m-6 2h6m-6 2h6m-6 2h6m-6 2h6m-6 1h6m-6 2h6m-6 2h6m-6 2h6m-6 2h6m-6 2h6m-6 1h6m-6 2h6m-6 2h6m-6 2h6m-6 2h6m-6 2h6m-6 2h6m-6 1h6m-6 2h6m-6 2h6m-6 2h6m-6 2h6m-6 2h6m-6 1h6m-6 2h6m-6 2h6m-6 2h6m-6 2h6m-6 2h6m-6 2h6m-6 1h6m-6 2h6m-6 2h6m-6 2h6m-6 2h6m-6 2h6m-6 1h6m-6 2h6m-6 2h6m-6 2h6m-6 2h6m-6 2h6m-6 2h6m-6 1h6m-6 2h6m-6 2h6m-6 2h6m-6 2h6m-6 2h6m-6 1h6m-6 2h6m-6 2h6m-6 2h6m-6 2h6m-6 2h6m-6 2h6m-6 1h6m-6 2h6m-6 2h6m-6 2h6m-6 2h6m-6 2h6m-6 1h6m-6 2h6m-6 2h6m-6 2h6m-6 2h6m-6 2h6m-6 2h6m-6 1h6m-6 2h6m-6 2h6m-6 2h6m-6 2h6m-6 2h6m-6 1h6m-6 2h6m-6 2h6m-6 2h6m-6 2h6m-6 2h6m-6 2h6m-6 1h6m-6 2h6m-6 2h6m-6 2h6m-6 2h6m-6 2h6m-6 1h6m-6 4h6m-6 2h6m-6 2h6m-6 2h6m-6 2h6m-6 1h6m-6 4h6m-6 2h6m-6 4h6m-6 5h6m-6 4h6M877.5 463.5h6m-6 4h6m-6 3h6m-6 2h6M877.5 450.5h6m-6 4h6m-6 1h6M877.5 435.5h6m-6 4h6m-6 4h6M877.5 400.5h6m-6 2h6M886.5 461.5h6m-6 2h6m-6 2h6m-6 3h6m-6 2h6m-6 2h6m-6 2h6m-6 5h6m-6 2h6m-6 2h6m-6 2h6m-6 2h6m-6 5h6m-6 2h6m-6 6h6m-6 2h6m-6 1h6m-6 2h6m-6 2h6m-6 6h6m-6 2h6m-6 3h6m-6 2h6m-6 2h6m-6 2h6m-6 2h6m-6 1h6m-6 2h6m-6 2h6m-6 2h6m-6 2h6m-6 2h6m-6 2h6m-6 1h6m-6 2h6m-6 2h6m-6 2h6m-6 2h6m-6 2h6m-6 1h6m-6 2h6m-6 2h6m-6 2h6m-6 2h6m-6 2h6m-6 2h6m-6 1h6m-6 2h6m-6 2h6m-6 2h6m-6 2h6m-6 2h6m-6 1h6m-6 2h6m-6 2h6m-6 2h6m-6 2h6m-6 2h6m-6 2h6m-6 1h6m-6 2h6m-6 2h6m-6 2h6m-6 2h6m-6 2h6m-6 1h6m-6 2h6m-6 2h6m-6 2h6m-6 2h6m-6 2h6m-6 2h6m-6 1h6m-6 2h6m-6 2h6m-6 2h6m-6 2h6m-6 2h6m-6 1h6m-6 2h6m-6 2h6m-6 2h6m-6 2h6m-6 2h6m-6 2h6m-6 1h6m-6 2h6m-6 2h6m-6 2h6m-6 2h6m-6 2h6m-6 1h6m-6 2h6m-6 2h6m-6 2h6m-6 2h6m-6 2h6m-6 2h6m-6 1h6m-6 2h6m-6 2h6m-6 2h6m-6 2h6m-6 2h6m-6 1h6m-6 2h6m-6 2h6m-6 2h6m-6 2h6m-6 2h6m-6 2h6m-6 1h6m-6 2h6m-6 2h6m-6 2h6m-6 2h6m-6 2h6m-6 1h6m-6 2h6m-6 2h6m-6 2h6m-6 2h6m-6 2h6m-6 2h6m-6 1h6m-6 2h6m-6 2h6m-6 2h6m-6 2h6m-6 2h6m-6 1h6m-6 2h6m-6 2h6m-6 2h6m-6 2h6m-6 2h6m-6 2h6m-6 1h6m-6 2h6m-6 2h6m-6 2h6m-6 2h6m-6 2h6m-6 1h6m-6 2h6m-6 2h6m-6 2h6m-6 2h6m-6 2h6m-6 2h6m-6 1h6m-6 2h6m-6 2h6m-6 2h6m-6 2h6m-6 2h6m-6 1h6m-6 2h6m-6 2h6m-6 2h6m-6 2h6m-6 2h6m-6 2h6m-6 1h6m-6 2h6m-6 2h6m-6 2h6m-6 2h6m-6 2h6m-6 1h6m-6 4h6m-6 2h6m-6 2h6m-6 2h6m-6 2h6m-6 1h6m-6 2h6m-6 2h6m-6 2h6m-6 2h6m-6 2h6m-6 3h6m-6 2h6m-6 2h6M886.5 439.5h6m-6 2h6M895.5 489.5h6m-6 2h6m-6 1h6m-6 4h6m-6 2h6m-6 2h6m-6 3h6m-6 2h6m-6 2h6m-6 2h6m-6 2h6m-6 2h6m-6 3h6m-6 4h6m-6 4h6m-6 2h6m-6 1h6m-6 2h6m-6 2h6m-6 4h6m-6 2h6m-6 2h6m-6 1h6m-6 2h6m-6 2h6m-6 2h6m-6 2h6m-6 2h6m-6 1h6m-6 2h6m-6 2h6m-6 2h6m-6 2h6m-6 2h6m-6 2h6m-6 1h6m-6 2h6m-6 2h6m-6 2h6m-6 2h6m-6 2h6m-6 1h6m-6 2h6m-6 2h6m-6 2h6m-6 2h6m-6 2h6m-6 2h6m-6 1h6m-6 2h6m-6 2h6m-6 2h6m-6 2h6m-6 2h6m-6 1h6m-6 2h6m-6 2h6m-6 2h6m-6 2h6m-6 2h6m-6 2h6m-6 1h6m-6 2h6m-6 2h6m-6 2h6m-6 2h6m-6 2h6m-6 1h6m-6 2h6m-6 2h6m-6 2h6m-6 2h6m-6 2h6m-6 2h6m-6 1h6m-6 2h6m-6 2h6m-6 2h6m-6 2h6m-6 2h6m-6 1h6m-6 2h6m-6 2h6m-6 2h6m-6 2h6m-6 2h6m-6 2h6m-6 1h6m-6 2h6m-6 2h6m-6 2h6m-6 2h6m-6 2h6m-6 1h6m-6 2h6m-6 2h6m-6 2h6m-6 2h6m-6 2h6m-6 2h6m-6 1h6m-6 2h6m-6 2h6m-6 2h6m-6 2h6m-6 2h6m-6 1h6m-6 2h6m-6 2h6m-6 2h6m-6 2h6m-6 2h6m-6 2h6m-6 1h6m-6 2h6m-6 2h6m-6 2h6m-6 2h6m-6 2h6m-6 1h6m-6 2h6m-6 2h6m-6 2h6m-6 2h6m-6 2h6m-6 2h6m-6 1h6m-6 2h6m-6 2h6m-6 2h6m-6 2h6m-6 2h6m-6 1h6m-6 2h6m-6 2h6m-6 2h6m-6 2h6m-6 2h6m-6 2h6m-6 1h6m-6 2h6m-6 2h6m-6 2h6m-6 2h6m-6 2h6m-6 1h6m-6 2h6m-6 2h6m-6 2h6m-6 2h6m-6 2h6m-6 2h6m-6 1h6m-6 2h6m-6 2h6m-6 2h6m-6 2h6m-6 2h6m-6 1h6m-6 2h6m-6 2h6m-6 2h6m-6 2h6m-6 2h6m-6 3h6m-6 2h6m-6 2h6m-6 2h6m-6 2h6m-6 2h6m-6 3h6M895.5 472.5h6m-6 2h6M895.5 455.5h6m-6 4h6m-6 2h6M895.5 435.5h6m-6 6h6m-6 2h6M895.5 415.5h6m-6 5h6M903.5 507.5h6m-6 2h6m-6 2h6m-6 4h6m-6 1h6m-6 4h6m-6 4h6m-6 2h6m-6 3h6m-6 6h6m-6 4h6m-6 1h6m-6 4h6m-6 2h6m-6 2h6m-6 2h6m-6 1h6m-6 2h6m-6 2h6m-6 2h6m-6 2h6m-6 2h6m-6 2h6m-6 1h6m-6 2h6m-6 2h6m-6 2h6m-6 2h6m-6 2h6m-6 1h6m-6 2h6m-6 2h6m-6 2h6m-6 2h6m-6 2h6m-6 2h6m-6 1h6m-6 2h6m-6 2h6m-6 2h6m-6 2h6m-6 2h6m-6 1h6m-6 2h6m-6 2h6m-6 2h6m-6 2h6m-6 2h6m-6 2h6m-6 1h6m-6 2h6m-6 2h6m-6 2h6m-6 2h6m-6 2h6m-6 1h6m-6 2h6m-6 2h6m-6 2h6m-6 2h6m-6 2h6m-6 2h6m-6 1h6m-6 2h6m-6 2h6m-6 2h6m-6 2h6m-6 2h6m-6 1h6m-6 2h6m-6 2h6m-6 2h6m-6 2h6m-6 2h6m-6 2h6m-6 1h6m-6 2h6m-6 2h6m-6 2h6m-6 2h6m-6 2h6m-6 1h6m-6 2h6m-6 2h6m-6 2h6m-6 2h6m-6 2h6m-6 2h6m-6 1h6m-6 2h6m-6 2h6m-6 2h6m-6 2h6m-6 2h6m-6 1h6m-6 2h6m-6 2h6m-6 2h6m-6 2h6m-6 2h6m-6 2h6m-6 1h6m-6 2h6m-6 2h6m-6 2h6m-6 2h6m-6 2h6m-6 1h6m-6 2h6m-6 2h6m-6 2h6m-6 2h6m-6 2h6m-6 2h6m-6 1h6m-6 2h6m-6 2h6m-6 2h6m-6 2h6m-6 2h6m-6 1h6m-6 2h6m-6 2h6m-6 2h6m-6 2h6m-6 2h6m-6 2h6m-6 1h6m-6 2h6m-6 2h6m-6 2h6m-6 2h6m-6 2h6m-6 1h6m-6 2h6m-6 2h6m-6 2h6m-6 2h6m-6 2h6m-6 2h6m-6 1h6m-6 2h6m-6 2h6m-6 2h6m-6 4h6m-6 1h6m-6 2h6m-6 2h6m-6 2h6m-6 4h6m-6 2h6m-6 1h6m-6 2h6m-6 6h6m-6 2h6M903.5 468.5h6m-6 2h6m-6 2h6m-6 4h6m-6 3h6m-6 4h6m-6 6h6m-6 2h6M903.5 455.5h6m-6 2h6M903.5 417.5h6m-6 5h6M912.5 483.5h6m-6 4h6m-6 2h6m-6 3h6m-6 2h6m-6 6h6m-6 2h6m-6 1h6m-6 4h6m-6 2h6m-6 4h6m-6 3h6m-6 2h6m-6 2h6m-6 2h6m-6 2h6m-6 3h6m-6 2h6m-6 2h6m-6 2h6m-6 2h6m-6 2h6m-6 2h6m-6 1h6m-6 2h6m-6 2h6m-6 2h6m-6 2h6m-6 3h6m-6 2h6m-6 2h6m-6 2h6m-6 2h6m-6 2h6m-6 2h6m-6 1h6m-6 2h6m-6 2h6m-6 2h6m-6 2h6m-6 2h6m-6 1h6m-6 2h6m-6 2h6m-6 2h6m-6 2h6m-6 2h6m-6 2h6m-6 1h6m-6 2h6m-6 2h6m-6 2h6m-6 2h6m-6 2h6m-6 1h6m-6 2h6m-6 2h6m-6 2h6m-6 2h6m-6 2h6m-6 2h6m-6 1h6m-6 2h6m-6 2h6m-6 2h6m-6 2h6m-6 2h6m-6 1h6m-6 2h6m-6 2h6m-6 2h6m-6 2h6m-6 2h6m-6 2h6m-6 1h6m-6 2h6m-6 2h6m-6 2h6m-6 2h6m-6 2h6m-6 1h6m-6 2h6m-6 2h6m-6 2h6m-6 2h6m-6 2h6m-6 2h6m-6 1h6m-6 2h6m-6 2h6m-6 2h6m-6 2h6m-6 2h6m-6 1h6m-6 2h6m-6 2h6m-6 2h6m-6 2h6m-6 2h6m-6 2h6m-6 1h6m-6 2h6m-6 2h6m-6 2h6m-6 2h6m-6 2h6m-6 1h6m-6 2h6m-6 2h6m-6 2h6m-6 2h6m-6 2h6m-6 2h6m-6 1h6m-6 2h6m-6 2h6m-6 2h6m-6 2h6m-6 2h6m-6 1h6m-6 2h6m-6 2h6m-6 2h6m-6 2h6m-6 2h6m-6 2h6m-6 1h6m-6 2h6m-6 2h6m-6 2h6m-6 2h6m-6 2h6m-6 1h6m-6 2h6m-6 2h6m-6 2h6m-6 2h6m-6 2h6m-6 2h6m-6 1h6m-6 2h6m-6 2h6m-6 2h6m-6 2h6m-6 2h6m-6 1h6m-6 2h6m-6 2h6m-6 2h6m-6 2h6m-6 2h6m-6 2h6m-6 1h6m-6 2h6m-6 2h6m-6 4h6m-6 2h6m-6 1h6m-6 4h6m-6 2h6m-6 2h6m-6 4h6m-6 1h6m-6 4h6m-6 2h6m-6 2h6M912.5 472.5h6m-6 2h6M912.5 454.5h6m-6 5h6m-6 6h6M912.5 435.5h6m-6 4h6m-6 2h6M920.5 492.5h6m-6 6h6m-6 5h6m-6 2h6m-6 4h6m-6 2h6m-6 2h6m-6 2h6m-6 3h6m-6 2h6m-6 2h6m-6 2h6m-6 2h6m-6 1h6m-6 2h6m-6 2h6m-6 2h6m-6 2h6m-6 2h6m-6 2h6m-6 1h6m-6 2h6m-6 6h6m-6 2h6m-6 1h6m-6 2h6m-6 2h6m-6 2h6m-6 2h6m-6 2h6m-6 2h6m-6 1h6m-6 2h6m-6 2h6m-6 2h6m-6 2h6m-6 2h6m-6 1h6m-6 2h6m-6 2h6m-6 2h6m-6 2h6m-6 2h6m-6 2h6m-6 1h6m-6 2h6m-6 2h6m-6 2h6m-6 2h6m-6 2h6m-6 1h6m-6 2h6m-6 2h6m-6 2h6m-6 2h6m-6 2h6m-6 2h6m-6 1h6m-6 2h6m-6 2h6m-6 2h6m-6 2h6m-6 2h6m-6 1h6m-6 2h6m-6 2h6m-6 2h6m-6 2h6m-6 2h6m-6 2h6m-6 1h6m-6 2h6m-6 2h6m-6 2h6m-6 2h6m-6 2h6m-6 1h6m-6 2h6m-6 2h6m-6 2h6m-6 2h6m-6 2h6m-6 2h6m-6 1h6m-6 2h6m-6 2h6m-6 2h6m-6 2h6m-6 2h6m-6 1h6m-6 2h6m-6 2h6m-6 2h6m-6 2h6m-6 2h6m-6 2h6m-6 1h6m-6 2h6m-6 2h6m-6 2h6m-6 2h6m-6 2h6m-6 1h6m-6 2h6m-6 2h6m-6 2h6m-6 2h6m-6 2h6m-6 2h6m-6 1h6m-6 2h6m-6 2h6m-6 2h6m-6 2h6m-6 2h6m-6 1h6m-6 2h6m-6 2h6m-6 2h6m-6 2h6m-6 2h6m-6 2h6m-6 1h6m-6 2h6m-6 2h6m-6 2h6m-6 2h6m-6 2h6m-6 1h6m-6 2h6m-6 2h6m-6 2h6m-6 2h6m-6 2h6m-6 2h6m-6 1h6m-6 2h6m-6 2h6m-6 2h6m-6 2h6m-6 2h6m-6 1h6m-6 2h6m-6 2h6m-6 2h6m-6 2h6m-6 2h6m-6 2h6m-6 1h6m-6 2h6m-6 2h6m-6 2h6m-6 4h6m-6 1h6m-6 2h6m-6 2h6m-6 2h6m-6 4h6m-6 2h6m-6 5h6m-6 2h6m-6 2h6m-6 3h6m-6 6h6M920.5 455.5h6m-6 4h6m-6 6h6m-6 3h6M929.5 812.5h6m-6 2h6m-6 5h6M929.5 494.5h6m-6 2h6m-6 6h6m-6 1h6m-6 6h6m-6 2h6m-6 2h6m-6 2h6m-6 1h6m-6 6h6m-6 2h6m-6 2h6m-6 1h6m-6 2h6m-6 6h6m-6 2h6m-6 2h6m-6 1h6m-6 2h6m-6 2h6m-6 2h6m-6 2h6m-6 2h6m-6 1h6m-6 2h6m-6 2h6m-6 2h6m-6 2h6m-6 2h6m-6 2h6m-6 1h6m-6 2h6m-6 2h6m-6 2h6m-6 2h6m-6 2h6m-6 1h6m-6 2h6m-6 2h6m-6 2h6m-6 2h6m-6 2h6m-6 2h6m-6 1h6m-6 2h6m-6 2h6m-6 2h6m-6 2h6m-6 2h6m-6 1h6m-6 2h6m-6 2h6m-6 2h6m-6 2h6m-6 2h6m-6 2h6m-6 1h6m-6 2h6m-6 2h6m-6 2h6m-6 2h6m-6 2h6m-6 1h6m-6 2h6m-6 2h6m-6 2h6m-6 2h6m-6 2h6m-6 2h6m-6 1h6m-6 2h6m-6 2h6m-6 2h6m-6 2h6m-6 2h6m-6 1h6m-6 2h6m-6 2h6m-6 2h6m-6 2h6m-6 2h6m-6 2h6m-6 1h6m-6 2h6m-6 2h6m-6 2h6m-6 2h6m-6 2h6m-6 1h6m-6 2h6m-6 2h6m-6 2h6m-6 2h6m-6 2h6m-6 2h6m-6 1h6m-6 2h6m-6 2h6m-6 2h6m-6 2h6m-6 2h6m-6 1h6m-6 2h6m-6 2h6m-6 2h6m-6 2h6m-6 2h6m-6 2h6m-6 1h6m-6 2h6m-6 2h6m-6 2h6m-6 2h6m-6 2h6m-6 1h6m-6 2h6m-6 2h6m-6 2h6m-6 2h6m-6 2h6m-6 2h6m-6 1h6m-6 2h6m-6 2h6m-6 2h6m-6 2h6m-6 2h6m-6 1h6m-6 2h6m-6 2h6m-6 2h6m-6 2h6m-6 2h6m-6 2h6m-6 1h6m-6 2h6m-6 2h6m-6 2h6m-6 2h6m-6 2h6m-6 1h6m-6 2h6m-6 2h6m-6 4h6m-6 2h6m-6 3h6m-6 2h6m-6 2h6m-6 2h6m-6 2h6m-6 2h6m-6 1h6m-6 2h6m-6 2h6m-6 2h6M929.5 468.5h6m-6 4h6m-6 4h6m-6 2h6m-6 1h6m-6 4h6m-6 2h6m-6 2h6M929.5 457.5h6m-6 4h6M937.5 496.5h6m-6 2h6m-6 4h6m-6 1h6m-6 6h6m-6 4h6m-6 3h6m-6 2h6m-6 4h6m-6 4h6m-6 1h6m-6 2h6m-6 2h6m-6 2h6m-6 2h6m-6 2h6m-6 2h6m-6 1h6m-6 2h6m-6 2h6m-6 2h6m-6 2h6m-6 3h6m-6 2h6m-6 2h6m-6 2h6m-6 2h6m-6 4h6m-6 1h6m-6 2h6m-6 2h6m-6 2h6m-6 2h6m-6 2h6m-6 1h6m-6 2h6m-6 2h6m-6 2h6m-6 2h6m-6 2h6m-6 2h6m-6 1h6m-6 2h6m-6 2h6m-6 2h6m-6 2h6m-6 2h6m-6 1h6m-6 2h6m-6 2h6m-6 2h6m-6 2h6m-6 2h6m-6 2h6m-6 1h6m-6 2h6m-6 2h6m-6 2h6m-6 2h6m-6 2h6m-6 1h6m-6 2h6m-6 2h6m-6 2h6m-6 2h6m-6 2h6m-6 2h6m-6 1h6m-6 2h6m-6 2h6m-6 2h6m-6 2h6m-6 2h6m-6 1h6m-6 2h6m-6 2h6m-6 2h6m-6 2h6m-6 2h6m-6 2h6m-6 1h6m-6 2h6m-6 2h6m-6 2h6m-6 2h6m-6 2h6m-6 1h6m-6 2h6m-6 2h6m-6 2h6m-6 2h6m-6 2h6m-6 2h6m-6 1h6m-6 2h6m-6 2h6m-6 2h6m-6 2h6m-6 2h6m-6 1h6m-6 2h6m-6 2h6m-6 2h6m-6 2h6m-6 2h6m-6 2h6m-6 1h6m-6 2h6m-6 2h6m-6 2h6m-6 2h6m-6 2h6m-6 1h6m-6 2h6m-6 2h6m-6 2h6m-6 2h6m-6 2h6m-6 2h6m-6 1h6m-6 2h6m-6 2h6m-6 2h6m-6 2h6m-6 2h6m-6 1h6m-6 2h6m-6 2h6m-6 2h6m-6 2h6m-6 2h6m-6 2h6m-6 1h6m-6 2h6m-6 2h6m-6 2h6m-6 2h6m-6 2h6m-6 1h6m-6 2h6m-6 2h6m-6 2h6m-6 2h6m-6 2h6m-6 3h6m-6 2h6m-6 2h6m-6 2h6m-6 2h6m-6 2h6m-6 1h6m-6 4h6m-6 6h6m-6 5h6M937.5 468.5h6m-6 2h6m-6 4h6m-6 5h6m-6 4h6m-6 2h6m-6 2h6m-6 2h6M937.5 409.5h6m-6 2h6m-6 2h6M946.5 531.5h6m-6 2h6m-6 2h6m-6 2h6m-6 2h6m-6 1h6m-6 2h6m-6 2h6m-6 4h6m-6 2h6m-6 1h6m-6 2h6m-6 2h6m-6 2h6m-6 2h6m-6 2h6m-6 2h6m-6 1h6m-6 4h6m-6 2h6m-6 2h6m-6 3h6m-6 2h6m-6 2h6m-6 2h6m-6 2h6m-6 2h6m-6 2h6m-6 1h6m-6 2h6m-6 2h6m-6 2h6m-6 2h6m-6 2h6m-6 1h6m-6 2h6m-6 2h6m-6 2h6m-6 2h6m-6 2h6m-6 2h6m-6 1h6m-6 2h6m-6 2h6m-6 2h6m-6 2h6m-6 2h6m-6 1h6m-6 2h6m-6 2h6m-6 2h6m-6 2h6m-6 2h6m-6 2h6m-6 1h6m-6 2h6m-6 2h6m-6 2h6m-6 2h6m-6 2h6m-6 1h6m-6 2h6m-6 2h6m-6 2h6m-6 2h6m-6 2h6m-6 2h6m-6 1h6m-6 2h6m-6 2h6m-6 2h6m-6 2h6m-6 2h6m-6 1h6m-6 2h6m-6 2h6m-6 2h6m-6 2h6m-6 2h6m-6 2h6m-6 1h6m-6 2h6m-6 2h6m-6 2h6m-6 2h6m-6 2h6m-6 1h6m-6 2h6m-6 2h6m-6 2h6m-6 2h6m-6 2h6m-6 2h6m-6 1h6m-6 2h6m-6 2h6m-6 2h6m-6 2h6m-6 2h6m-6 1h6m-6 2h6m-6 2h6m-6 2h6m-6 2h6m-6 2h6m-6 2h6m-6 1h6m-6 2h6m-6 2h6m-6 2h6m-6 2h6m-6 2h6m-6 1h6m-6 2h6m-6 2h6m-6 2h6m-6 2h6m-6 2h6m-6 2h6m-6 1h6m-6 2h6m-6 2h6m-6 2h6m-6 2h6m-6 2h6m-6 1h6m-6 2h6m-6 2h6m-6 2h6m-6 2h6m-6 2h6m-6 2h6m-6 1h6m-6 2h6m-6 2h6m-6 2h6m-6 2h6m-6 3h6m-6 2h6m-6 4h6m-6 2h6m-6 2h6m-6 2h6m-6 5h6M946.5 522.5h6m-6 2h6M946.5 500.5h6m-6 2h6m-6 1h6m-6 2h6m-6 4h6m-6 6h6M946.5 476.5h6m-6 2h6M946.5 441.5h6m-6 3h6M954.5 503.5h6m-6 6h6m-6 2h6m-6 4h6m-6 5h6m-6 4h6m-6 3h6m-6 4h6m-6 2h6m-6 4h6m-6 3h6m-6 2h6m-6 6h6m-6 2h6m-6 3h6m-6 4h6m-6 2h6m-6 5h6m-6 2h6m-6 2h6m-6 2h6m-6 2h6m-6 2h6m-6 1h6m-6 2h6m-6 2h6m-6 2h6m-6 2h6m-6 2h6m-6 2h6m-6 1h6m-6 2h6m-6 2h6m-6 2h6m-6 2h6m-6 2h6m-6 1h6m-6 2h6m-6 2h6m-6 2h6m-6 2h6m-6 2h6m-6 2h6m-6 1h6m-6 2h6m-6 2h6m-6 2h6m-6 2h6m-6 2h6m-6 1h6m-6 2h6m-6 2h6m-6 2h6m-6 2h6m-6 2h6m-6 2h6m-6 1h6m-6 2h6m-6 2h6m-6 2h6m-6 2h6m-6 2h6m-6 1h6m-6 2h6m-6 2h6m-6 2h6m-6 2h6m-6 2h6m-6 2h6m-6 1h6m-6 2h6m-6 2h6m-6 2h6m-6 2h6m-6 2h6m-6 1h6m-6 2h6m-6 2h6m-6 2h6m-6 2h6m-6 2h6m-6 2h6m-6 1h6m-6 2h6m-6 2h6m-6 2h6m-6 2h6m-6 2h6m-6 1h6m-6 2h6m-6 2h6m-6 2h6m-6 2h6m-6 2h6m-6 2h6m-6 1h6m-6 2h6m-6 2h6m-6 2h6m-6 2h6m-6 2h6m-6 1h6m-6 2h6m-6 2h6m-6 2h6m-6 2h6m-6 2h6m-6 2h6m-6 1h6m-6 2h6m-6 2h6m-6 2h6m-6 2h6m-6 2h6m-6 1h6m-6 2h6m-6 2h6m-6 2h6m-6 2h6m-6 2h6m-6 2h6m-6 1h6m-6 2h6m-6 2h6m-6 2h6m-6 2h6m-6 2h6m-6 1h6m-6 2h6m-6 2h6m-6 2h6m-6 2h6m-6 2h6m-6 2h6m-6 1h6m-6 2h6m-6 2h6m-6 2h6m-6 2h6m-6 2h6m-6 1h6m-6 2h6m-6 4h6m-6 6h6m-6 1h6M963.5 804.5h6m-6 2h6m-6 2h6m-6 2h6M963.5 533.5h6m-6 2h6m-6 2h6m-6 3h6m-6 2h6m-6 2h6m-6 6h6m-6 1h6m-6 2h6m-6 2h6m-6 2h6m-6 4h6m-6 3h6m-6 2h6m-6 2h6m-6 2h6m-6 4h6m-6 3h6m-6 4h6m-6 2h6m-6 2h6m-6 2h6m-6 1h6m-6 2h6m-6 2h6m-6 2h6m-6 2h6m-6 2h6m-6 1h6m-6 2h6m-6 2h6m-6 2h6m-6 2h6m-6 2h6m-6 2h6m-6 1h6m-6 2h6m-6 2h6m-6 2h6m-6 2h6m-6 2h6m-6 1h6m-6 2h6m-6 2h6m-6 2h6m-6 2h6m-6 2h6m-6 2h6m-6 1h6m-6 2h6m-6 2h6m-6 2h6m-6 2h6m-6 2h6m-6 1h6m-6 2h6m-6 2h6m-6 2h6m-6 2h6m-6 2h6m-6 2h6m-6 1h6m-6 2h6m-6 2h6m-6 2h6m-6 2h6m-6 2h6m-6 1h6m-6 2h6m-6 2h6m-6 2h6m-6 2h6m-6 2h6m-6 2h6m-6 1h6m-6 2h6m-6 2h6m-6 2h6m-6 2h6m-6 2h6m-6 1h6m-6 2h6m-6 2h6m-6 2h6m-6 2h6m-6 2h6m-6 2h6m-6 1h6m-6 2h6m-6 2h6m-6 2h6m-6 2h6m-6 2h6m-6 1h6m-6 2h6m-6 2h6m-6 2h6m-6 2h6m-6 2h6m-6 2h6m-6 1h6m-6 2h6m-6 2h6m-6 2h6m-6 2h6m-6 2h6m-6 1h6m-6 2h6m-6 2h6m-6 2h6m-6 2h6m-6 2h6m-6 2h6m-6 1h6m-6 2h6m-6 2h6m-6 2h6m-6 2h6m-6 2h6m-6 1h6m-6 2h6m-6 2h6m-6 2h6m-6 2h6m-6 2h6m-6 2h6m-6 1h6m-6 2h6m-6 4h6m-6 4h6m-6 1h6m-6 2h6M963.5 509.5h6m-6 4h6m-6 2h6m-6 1h6m-6 2h6M963.5 489.5h6m-6 3h6m-6 2h6m-6 2h6m-6 4h6M971.5 808.5h6m-6 2h6m-6 4h6M971.5 515.5h6m-6 1h6m-6 2h6m-6 2h6m-6 4h6m-6 2h6m-6 5h6m-6 2h6m-6 2h6m-6 5h6m-6 4h6m-6 2h6m-6 2h6m-6 3h6m-6 2h6m-6 4h6m-6 4h6m-6 2h6m-6 1h6m-6 4h6m-6 2h6m-6 2h6m-6 2h6m-6 1h6m-6 2h6m-6 2h6m-6 2h6m-6 2h6m-6 2h6m-6 2h6m-6 1h6m-6 2h6m-6 2h6m-6 2h6m-6 2h6m-6 2h6m-6 1h6m-6 2h6m-6 2h6m-6 2h6m-6 2h6m-6 2h6m-6 2h6m-6 1h6m-6 2h6m-6 2h6m-6 2h6m-6 2h6m-6 2h6m-6 1h6m-6 2h6m-6 2h6m-6 2h6m-6 2h6m-6 2h6m-6 2h6m-6 1h6m-6 2h6m-6 2h6m-6 2h6m-6 2h6m-6 2h6m-6 1h6m-6 2h6m-6 2h6m-6 2h6m-6 2h6m-6 2h6m-6 2h6m-6 1h6m-6 2h6m-6 2h6m-6 2h6m-6 2h6m-6 2h6m-6 1h6m-6 2h6m-6 2h6m-6 2h6m-6 2h6m-6 2h6m-6 2h6m-6 1h6m-6 2h6m-6 2h6m-6 2h6m-6 2h6m-6 2h6m-6 1h6m-6 2h6m-6 2h6m-6 2h6m-6 2h6m-6 2h6m-6 2h6m-6 1h6m-6 2h6m-6 2h6m-6 2h6m-6 2h6m-6 2h6m-6 1h6m-6 2h6m-6 2h6m-6 2h6m-6 2h6m-6 2h6m-6 2h6m-6 1h6m-6 2h6m-6 2h6m-6 2h6m-6 2h6m-6 2h6m-6 1h6m-6 2h6m-6 2h6m-6 2h6m-6 4h6m-6 2h6m-6 1h6m-6 2h6m-6 2h6m-6 2h6m-6 2h6m-6 2h6m-6 1h6m-6 2h6m-6 2h6m-6 2h6m-6 2h6m-6 2h6m-6 2h6m-6 5h6m-6 2h6m-6 2h6m-6 2h6m-6 1h6m-6 2h6m-6 2h6m-6 6h6M971.5 500.5h6m-6 5h6m-6 2h6M971.5 485.5h6m-6 2h6m-6 2h6m-6 3h6M971.5 461.5h6m-6 2h6M980.5 791.5h6m-6 2h6M980.5 533.5h6m-6 2h6m-6 2h6m-6 2h6m-6 5h6m-6 6h6m-6 1h6m-6 6h6m-6 2h6m-6 2h6m-6 2h6m-6 3h6m-6 2h6m-6 2h6m-6 4h6m-6 1h6m-6 2h6m-6 4h6m-6 2h6m-6 2h6m-6 2h6m-6 1h6m-6 2h6m-6 2h6m-6 2h6m-6 2h6m-6 2h6m-6 1h6m-6 2h6m-6 2h6m-6 2h6m-6 2h6m-6 2h6m-6 2h6m-6 1h6m-6 2h6m-6 2h6m-6 2h6m-6 2h6m-6 2h6m-6 1h6m-6 2h6m-6 2h6m-6 2h6m-6 2h6m-6 2h6m-6 2h6m-6 1h6m-6 2h6m-6 2h6m-6 2h6m-6 2h6m-6 2h6m-6 1h6m-6 2h6m-6 2h6m-6 2h6m-6 2h6m-6 2h6m-6 2h6m-6 1h6m-6 2h6m-6 2h6m-6 2h6m-6 2h6m-6 2h6m-6 1h6m-6 2h6m-6 2h6m-6 2h6m-6 2h6m-6 2h6m-6 2h6m-6 1h6m-6 2h6m-6 2h6m-6 2h6m-6 2h6m-6 2h6m-6 1h6m-6 2h6m-6 2h6m-6 2h6m-6 2h6m-6 2h6m-6 2h6m-6 1h6m-6 2h6m-6 2h6m-6 2h6m-6 2h6m-6 2h6m-6 1h6m-6 2h6m-6 2h6m-6 2h6m-6 2h6m-6 2h6m-6 2h6m-6 1h6m-6 2h6m-6 2h6m-6 2h6m-6 2h6m-6 2h6m-6 1h6m-6 2h6m-6 2h6m-6 2h6m-6 2h6m-6 2h6m-6 2h6m-6 1h6m-6 2h6m-6 2h6m-6 2h6m-6 4h6m-6 1h6m-6 2h6m-6 2h6m-6 2h6m-6 2h6m-6 4h6m-6 1h6m-6 2h6m-6 2h6M980.5 520.5h6m-6 4h6M980.5 500.5h6m-6 2h6m-6 3h6M980.5 491.5h6m-6 1h6M989.5 566.5h6m-6 2h6m-6 2h6m-6 2h6m-6 3h6m-6 2h6m-6 2h6m-6 4h6m-6 2h6m-6 2h6m-6 1h6m-6 2h6m-6 2h6m-6 2h6m-6 4h6m-6 1h6m-6 2h6m-6 2h6m-6 2h6m-6 2h6m-6 2h6m-6 2h6m-6 1h6m-6 2h6m-6 2h6m-6 2h6m-6 2h6m-6 2h6m-6 1h6m-6 2h6m-6 2h6m-6 2h6m-6 2h6m-6 2h6m-6 2h6m-6 1h6m-6 2h6m-6 2h6m-6 2h6m-6 2h6m-6 2h6m-6 1h6m-6 2h6m-6 2h6m-6 2h6m-6 2h6m-6 2h6m-6 2h6m-6 1h6m-6 2h6m-6 2h6m-6 2h6m-6 2h6m-6 2h6m-6 1h6m-6 2h6m-6 2h6m-6 2h6m-6 2h6m-6 2h6m-6 2h6m-6 1h6m-6 2h6m-6 2h6m-6 2h6m-6 2h6m-6 2h6m-6 1h6m-6 2h6m-6 2h6m-6 2h6m-6 2h6m-6 2h6m-6 2h6m-6 1h6m-6 2h6m-6 2h6m-6 2h6m-6 2h6m-6 2h6m-6 1h6m-6 2h6m-6 2h6m-6 2h6m-6 4h6m-6 2h6m-6 1h6m-6 2h6m-6 2h6m-6 2h6m-6 2h6m-6 2h6m-6 1h6m-6 2h6m-6 2h6m-6 2h6m-6 2h6m-6 2h6m-6 2h6m-6 1h6m-6 2h6m-6 2h6m-6 2h6m-6 2h6m-6 2h6m-6 1h6m-6 2h6m-6 2h6m-6 2h6m-6 2h6m-6 2h6m-6 2h6m-6 3h6m-6 2h6m-6 4h6m-6 2h6m-6 1h6m-6 2h6m-6 2h6m-6 4h6m-6 2h6M989.5 513.5h6m-6 5h6m-6 6h6m-6 2h6m-6 3h6m-6 4h6m-6 2h6m-6 2h6m-6 2h6m-6 5h6m-6 4h6m-6 5h6m-6 6h6M989.5 485.5h6m-6 6h6m-6 5h6m-6 6h6m-6 1h6M997.5 566.5h6m-6 2h6m-6 2h6m-6 2h6m-6 2h6m-6 5h6m-6 4h6m-6 2h6m-6 2h6m-6 1h6m-6 2h6m-6 2h6m-6 4h6m-6 2h6m-6 1h6m-6 2h6m-6 2h6m-6 4h6m-6 2h6m-6 2h6m-6 1h6m-6 2h6m-6 2h6m-6 2h6m-6 2h6m-6 2h6m-6 1h6m-6 2h6m-6 2h6m-6 2h6m-6 2h6m-6 2h6m-6 2h6m-6 1h6m-6 2h6m-6 2h6m-6 2h6m-6 2h6m-6 2h6m-6 1h6m-6 2h6m-6 2h6m-6 2h6m-6 2h6m-6 2h6m-6 2h6m-6 1h6m-6 2h6m-6 2h6m-6 2h6m-6 2h6m-6 2h6m-6 1h6m-6 2h6m-6 2h6m-6 2h6m-6 2h6m-6 2h6m-6 2h6m-6 1h6m-6 2h6m-6 2h6m-6 2h6m-6 2h6m-6 2h6m-6 1h6m-6 2h6m-6 2h6m-6 2h6m-6 2h6m-6 2h6m-6 2h6m-6 1h6m-6 2h6m-6 2h6m-6 2h6m-6 2h6m-6 2h6m-6 1h6m-6 2h6m-6 2h6m-6 2h6m-6 2h6m-6 2h6m-6 2h6m-6 1h6m-6 2h6m-6 2h6m-6 2h6m-6 2h6m-6 2h6m-6 1h6m-6 2h6m-6 2h6m-6 2h6m-6 2h6m-6 2h6m-6 2h6m-6 1h6m-6 4h6m-6 2h6m-6 2h6m-6 2h6m-6 1h6m-6 2h6m-6 2h6m-6 2h6m-6 2h6m-6 2h6m-6 2h6m-6 1h6m-6 2h6m-6 2h6m-6 2h6m-6 2h6m-6 2h6m-6 1h6m-6 2h6M997.5 531.5h6m-6 4h6m-6 5h6m-6 2h6m-6 4h6m-6 5h6m-6 2h6m-6 2h6M997.5 503.5h6m-6 4h6m-6 4h6m-6 4h6m-6 5h6M1006.5 804.5h6m-6 6h6m-6 4h6m-6 1h6M1006.5 790.5h6m-6 3h6m-6 2h6m-6 2h6M1006.5 553.5h6m-6 6h6m-6 2h6m-6 2h6m-6 5h6m-6 2h6m-6 4h6m-6 1h6m-6 4h6m-6 2h6m-6 4h6m-6 2h6m-6 1h6m-6 2h6m-6 2h6m-6 2h6m-6 2h6m-6 2h6m-6 3h6m-6 2h6m-6 2h6m-6 2h6m-6 2h6m-6 3h6m-6 2h6m-6 2h6m-6 4h6m-6 2h6m-6 1h6m-6 2h6m-6 2h6m-6 2h6m-6 2h6m-6 2h6m-6 2h6m-6 1h6m-6 2h6m-6 2h6m-6 2h6m-6 2h6m-6 2h6m-6 1h6m-6 2h6m-6 2h6m-6 2h6m-6 2h6m-6 2h6m-6 2h6m-6 1h6m-6 2h6m-6 2h6m-6 2h6m-6 2h6m-6 2h6m-6 1h6m-6 2h6m-6 2h6m-6 2h6m-6 2h6m-6 2h6m-6 2h6m-6 1h6m-6 2h6m-6 2h6m-6 2h6m-6 2h6m-6 2h6m-6 1h6m-6 2h6m-6 2h6m-6 2h6m-6 2h6m-6 2h6m-6 2h6m-6 1h6m-6 2h6m-6 2h6m-6 2h6m-6 2h6m-6 2h6m-6 1h6m-6 2h6m-6 4h6m-6 2h6m-6 2h6m-6 2h6m-6 3h6m-6 2h6m-6 2h6m-6 2h6m-6 2h6m-6 1h6m-6 2h6m-6 2h6m-6 2h6m-6 2h6m-6 2h6m-6 2h6m-6 1h6m-6 2h6m-6 2h6m-6 2h6m-6 2h6m-6 2h6m-6 1h6m-6 2h6m-6 4h6m-6 2h6m-6 2h6m-6 2h6m-6 1h6M1006.5 518.5h6m-6 2h6m-6 2h6M1014.5 808.5h6m-6 4h6M1014.5 784.5h6m-6 4h6m-6 5h6M1014.5 587.5h6m-6 1h6m-6 4h6m-6 2h6m-6 2h6m-6 2h6m-6 1h6m-6 4h6m-6 2h6m-6 4h6m-6 2h6m-6 1h6m-6 2h6m-6 2h6m-6 2h6m-6 2h6m-6 2h6m-6 1h6m-6 2h6m-6 2h6m-6 2h6m-6 2h6m-6 2h6m-6 2h6m-6 1h6m-6 2h6m-6 2h6m-6 2h6m-6 2h6m-6 2h6m-6 1h6m-6 2h6m-6 2h6m-6 2h6m-6 2h6m-6 2h6m-6 2h6m-6 1h6m-6 2h6m-6 2h6m-6 2h6m-6 2h6m-6 2h6m-6 1h6m-6 2h6m-6 2h6m-6 2h6m-6 2h6m-6 2h6m-6 2h6m-6 1h6m-6 2h6m-6 2h6m-6 2h6m-6 2h6m-6 2h6m-6 1h6m-6 2h6m-6 2h6m-6 2h6m-6 2h6m-6 2h6m-6 2h6m-6 1h6m-6 2h6m-6 2h6m-6 2h6m-6 2h6m-6 2h6m-6 1h6m-6 2h6m-6 2h6m-6 2h6m-6 2h6m-6 2h6m-6 2h6m-6 1h6m-6 2h6m-6 2h6m-6 2h6m-6 2h6m-6 2h6m-6 1h6m-6 2h6m-6 2h6m-6 2h6m-6 2h6m-6 4h6m-6 1h6m-6 2h6m-6 2h6m-6 2h6m-6 2h6m-6 2h6m-6 1h6m-6 2h6m-6 4h6m-6 2h6m-6 2h6M1014.5 561.5h6m-6 2h6m-6 3h6m-6 2h6m-6 4h6m-6 2h6m-6 1h6m-6 4h6M1014.5 529.5h6m-6 2h6m-6 2h6m-6 6h6m-6 5h6m-6 4h6m-6 2h6m-6 1h6m-6 2h6M1023.5 814.5h6m-6 1h6M1023.5 803.5h6m-6 3h6M1023.5 570.5h6m-6 5h6m-6 2h6m-6 4h6m-6 4h6m-6 2h6m-6 3h6m-6 2h6m-6 2h6m-6 2h6m-6 2h6m-6 3h6m-6 2h6m-6 2h6m-6 2h6m-6 2h6m-6 3h6m-6 2h6m-6 2h6m-6 2h6m-6 2h6m-6 2h6m-6 1h6m-6 2h6m-6 2h6m-6 2h6m-6 2h6m-6 2h6m-6 3h6m-6 2h6m-6 2h6m-6 2h6m-6 2h6m-6 2h6m-6 1h6m-6 2h6m-6 2h6m-6 2h6m-6 2h6m-6 2h6m-6 2h6m-6 3h6m-6 2h6m-6 2h6m-6 2h6m-6 2h6m-6 3h6m-6 2h6m-6 2h6m-6 2h6m-6 2h6m-6 2h6m-6 1h6m-6 2h6m-6 2h6m-6 2h6m-6 2h6m-6 2h6m-6 1h6m-6 2h6m-6 2h6m-6 2h6m-6 2h6m-6 2h6m-6 2h6m-6 1h6m-6 2h6m-6 2h6m-6 2h6m-6 2h6m-6 2h6m-6 1h6m-6 2h6m-6 2h6m-6 2h6m-6 2h6m-6 2h6m-6 2h6m-6 1h6m-6 2h6m-6 2h6m-6 2h6m-6 2h6m-6 2h6m-6 1h6m-6 2h6m-6 2h6m-6 2h6m-6 2h6m-6 2h6m-6 3h6m-6 2h6m-6 2h6m-6 2h6m-6 2h6m-6 2h6m-6 1h6m-6 2h6m-6 2h6m-6 2h6m-6 4h6m-6 2h6m-6 1h6m-6 2h6m-6 2h6m-6 2h6m-6 5h6M1023.5 555.5h6m-6 2h6M1023.5 511.5h6m-6 4h6M1031.5 579.5h6m-6 2h6m-6 2h6m-6 2h6m-6 2h6m-6 1h6m-6 4h6m-6 2h6m-6 2h6m-6 2h6m-6 3h6m-6 2h6m-6 2h6m-6 4h6m-6 2h6m-6 1h6m-6 2h6m-6 2h6m-6 2h6m-6 2h6m-6 2h6m-6 1h6m-6 2h6m-6 4h6m-6 2h6m-6 2h6m-6 2h6m-6 3h6m-6 2h6m-6 2h6m-6 2h6m-6 2h6m-6 1h6m-6 2h6m-6 2h6m-6 2h6m-6 2h6m-6 2h6m-6 2h6m-6 1h6m-6 2h6m-6 2h6m-6 2h6m-6 2h6m-6 2h6m-6 1h6m-6 2h6m-6 2h6m-6 2h6m-6 2h6m-6 2h6m-6 2h6m-6 1h6m-6 2h6m-6 2h6m-6 4h6m-6 2h6m-6 1h6m-6 2h6m-6 2h6m-6 2h6m-6 2h6m-6 2h6m-6 2h6m-6 1h6m-6 2h6m-6 2h6m-6 2h6m-6 2h6m-6 2h6m-6 1h6m-6 2h6m-6 4h6m-6 2h6m-6 2h6m-6 2h6m-6 1h6m-6 2h6m-6 2h6m-6 2h6m-6 2h6m-6 3h6m-6 2h6m-6 2h6m-6 2h6m-6 2h6m-6 2h6m-6 2h6m-6 1h6m-6 2h6m-6 2h6m-6 2h6m-6 2h6m-6 2h6m-6 1h6m-6 4h6m-6 2h6m-6 4h6m-6 2h6m-6 3h6m-6 6h6m-6 3h6m-6 4h6m-6 4h6M1031.5 564.5h6m-6 4h6m-6 2h6m-6 2h6M1031.5 550.5h6m-6 3h6m-6 2h6M1031.5 520.5h6m-6 6h6M1040.5 596.5h6m-6 2h6m-6 5h6m-6 2h6m-6 2h6m-6 4h6m-6 1h6m-6 2h6m-6 2h6m-6 2h6m-6 2h6m-6 3h6m-6 2h6m-6 2h6m-6 2h6m-6 2h6m-6 2h6m-6 2h6m-6 1h6m-6 2h6m-6 2h6m-6 2h6m-6 2h6m-6 2h6m-6 1h6m-6 2h6m-6 2h6m-6 4h6m-6 4h6m-6 1h6m-6 2h6m-6 2h6m-6 2h6m-6 2h6m-6 2h6m-6 1h6m-6 2h6m-6 2h6m-6 2h6m-6 2h6m-6 2h6m-6 2h6m-6 1h6m-6 2h6m-6 2h6m-6 2h6m-6 2h6m-6 2h6m-6 1h6m-6 2h6m-6 2h6m-6 2h6m-6 2h6m-6 2h6m-6 2h6m-6 1h6m-6 2h6m-6 2h6m-6 2h6m-6 2h6m-6 2h6m-6 1h6m-6 2h6m-6 2h6m-6 2h6m-6 2h6m-6 2h6m-6 2h6m-6 1h6m-6 2h6m-6 4h6m-6 2h6m-6 2h6m-6 1h6m-6 2h6m-6 2h6m-6 4h6m-6 2h6m-6 2h6m-6 1h6m-6 2h6m-6 2h6m-6 2h6m-6 2h6m-6 5h6m-6 2h6m-6 4h6m-6 2h6m-6 3h6m-6 2h6m-6 4h6m-6 2h6M1040.5 563.5h6m-6 1h6m-6 4h6m-6 6h6m-6 5h6m-6 2h6m-6 4h6m-6 3h6M1040.5 535.5h6m-6 2h6M1048.5 561.5h6m-6 3h6m-6 4h6m-6 4h6m-6 2h6m-6 3h6m-6 4h6m-6 4h6m-6 3h6m-6 4h6m-6 6h6m-6 1h6m-6 4h6m-6 2h6m-6 2h6m-6 4h6m-6 1h6m-6 6h6m-6 2h6m-6 2h6m-6 1h6m-6 2h6m-6 2h6m-6 2h6m-6 2h6m-6 2h6m-6 2h6m-6 1h6m-6 2h6m-6 2h6m-6 2h6m-6 2h6m-6 2h6m-6 3h6m-6 2h6m-6 2h6m-6 2h6m-6 4h6m-6 1h6m-6 4h6m-6 2h6m-6 2h6m-6 2h6m-6 1h6m-6 2h6m-6 2h6m-6 2h6m-6 2h6m-6 2h6m-6 2h6m-6 1h6m-6 2h6m-6 2h6m-6 2h6m-6 2h6m-6 2h6m-6 1h6m-6 2h6m-6 2h6m-6 2h6m-6 4h6m-6 2h6m-6 1h6m-6 2h6m-6 2h6m-6 2h6m-6 2h6m-6 2h6m-6 1h6m-6 2h6m-6 2h6m-6 2h6m-6 2h6m-6 2h6m-6 2h6m-6 1h6m-6 2h6m-6 2h6m-6 2h6m-6 2h6m-6 2h6m-6 1h6m-6 2h6m-6 2h6m-6 2h6m-6 2h6m-6 4h6m-6 1h6m-6 4h6m-6 4h6m-6 2h6m-6 1h6m-6 4h6m-6 2h6m-6 4h6m-6 3h6m-6 2h6m-6 2h6m-6 4h6m-6 5h6M1048.5 544.5h6m-6 2h6m-6 2h6m-6 3h6M1057.5 758.5h6m-6 6h6m-6 2h6m-6 1h6m-6 2h6m-6 4h6m-6 2h6m-6 4h6M1057.5 603.5h6m-6 4h6m-6 2h6m-6 3h6m-6 2h6m-6 6h6m-6 2h6m-6 1h6m-6 2h6m-6 2h6m-6 2h6m-6 2h6m-6 2h6m-6 2h6m-6 1h6m-6 2h6m-6 2h6m-6 2h6m-6 2h6m-6 2h6m-6 1h6m-6 2h6m-6 2h6m-6 2h6m-6 2h6m-6 2h6m-6 2h6m-6 1h6m-6 2h6m-6 2h6m-6 2h6m-6 2h6m-6 2h6m-6 1h6m-6 2h6m-6 4h6m-6 2h6m-6 4h6m-6 1h6m-6 2h6m-6 2h6m-6 2h6m-6 2h6m-6 3h6m-6 2h6m-6 4h6m-6 2h6m-6 2h6m-6 2h6m-6 1h6m-6 2h6m-6 2h6m-6 4h6m-6 3h6m-6 2h6m-6 2h6m-6 2h6m-6 2h6m-6 2h6m-6 2h6m-6 1h6m-6 2h6m-6 2h6m-6 2h6m-6 2h6m-6 2h6m-6 1h6m-6 2h6m-6 2h6M1057.5 570.5h6m-6 4h6m-6 1h6m-6 4h6m-6 4h6M1066.5 767.5h6m-6 2h6m-6 6h6m-6 4h6m-6 1h6m-6 4h6m-6 2h6M1066.5 684.5h6m-6 2h6m-6 4h6m-6 4h6m-6 1h6m-6 2h6m-6 2h6m-6 2h6m-6 2h6m-6 4h6m-6 1h6m-6 2h6m-6 2h6m-6 4h6m-6 2h6m-6 1h6m-6 4h6m-6 2h6m-6 2h6m-6 2h6m-6 2h6m-6 1h6m-6 6h6m-6 2h6m-6 5h6M1066.5 664.5h6m-6 6h6m-6 3h6m-6 2h6m-6 2h6M1066.5 605.5h6m-6 4h6m-6 2h6m-6 5h6m-6 2h6m-6 5h6m-6 4h6m-6 2h6m-6 2h6m-6 2h6m-6 2h6m-6 1h6m-6 2h6m-6 2h6m-6 2h6m-6 2h6m-6 2h6m-6 1h6m-6 4h6m-6 2h6m-6 4h6M1066.5 579.5h6m-6 6h6M1074.5 712.5h6m-6 6h6m-6 1h6m-6 2h6m-6 4h6m-6 4h6m-6 3h6m-6 2h6m-6 4h6m-6 2h6m-6 3h6m-6 6h6m-6 6h6m-6 1h6m-6 4h6m-6 6h6m-6 1h6M1074.5 655.5h6m-6 5h6m-6 6h6m-6 4h6m-6 3h6m-6 2h6m-6 2h6m-6 2h6m-6 5h6m-6 6h6m-6 2h6m-6 3h6m-6 4h6M1074.5 623.5h6m-6 2h6m-6 2h6m-6 4h6m-6 2h6m-6 5h6m-6 4h6m-6 4h6m-6 1h6M1074.5 611.5h6m-6 3h6M1074.5 575.5h6m-6 4h6M1074.5 544.5h6m-6 4h6M1083.5 753.5h6m-6 2h6m-6 5h6m-6 2h6M1083.5 719.5h6m-6 2h6M1083.5 710.5h6m-6 2h6M1083.5 692.5h6m-6 2h6m-6 5h6m-6 4h6M1083.5 601.5h6m-6 4h6M1091.5 777.5h6m-6 3h6M1091.5 725.5h6m-6 2h6M1091.5 688.5h6m-6 4h6M1091.5 627.5h6m-6 2h6m-6 2h6m-6 5h6M1091.5 575.5h6m-6 4h6M1100.5 723.5h6m-6 4h6M1100.5 671.5h6m-6 2h6M1100.5 636.5h6m-6 6h6M1108.5 743.5h6m-6 4h6M1108.5 732.5h6m-6 2h6" fill="none" stroke="#f01818" stroke-width="1" stroke-opacity="0.68"/>
<path d="M426.9 687.5h1.2V697.5h-1.2zM443.9 606.5h1.2V824.5h-1.2zM452.9 635.5h1.2V824.5h-1.2zM452.9 619.5h1.2V630.5h-1.2zM452.9 589.5h1.2V604.5h-1.2zM461.9 814.5h1.2V826.5h-1.2zM461.9 609.5h1.2V813.5h-1.2zM461.9 591.5h1.2V608.5h-1.2zM469.9 814.5h1.2V833.5h-1.2zM469.9 598.5h1.2V813.5h-1.2zM469.9 584.5h1.2V597.5h-1.2zM478.9 818.5h1.2V826.5h-1.2zM478.9 620.5h1.2V815.5h-1.2zM478.9 576.5h1.2V617.5h-1.2zM486.9 626.5h1.2V820.5h-1.2zM486.9 598.5h1.2V625.5h-1.2zM486.9 576.5h1.2V597.5h-1.2zM495.9 615.5h1.2V817.5h-1.2zM495.9 595.5h1.2V612.5h-1.2zM495.9 576.5h1.2V591.5h-1.2zM495.9 545.5h1.2V553.5h-1.2zM503.9 606.5h1.2V826.5h-1.2zM503.9 578.5h1.2V604.5h-1.2zM503.9 554.5h1.2V566.5h-1.2zM512.9 622.5h1.2V824.5h-1.2zM512.9 569.5h1.2V621.5h-1.2zM512.9 550.5h1.2V560.5h-1.2zM512.9 539.5h1.2V547.5h-1.2zM512.9 521.5h1.2V534.5h-1.2zM520.9 635.5h1.2V822.5h-1.2zM520.9 589.5h1.2V634.5h-1.2zM520.9 565.5h1.2V577.5h-1.2zM520.9 541.5h1.2V556.5h-1.2zM529.9 822.5h1.2V833.5h-1.2zM529.9 574.5h1.2V818.5h-1.2zM529.9 554.5h1.2V566.5h-1.2zM537.9 591.5h1.2V826.5h-1.2zM537.9 572.5h1.2V588.5h-1.2zM537.9 556.5h1.2V571.5h-1.2zM537.9 534.5h1.2V542.5h-1.2zM546.9 561.5h1.2V824.5h-1.2zM546.9 528.5h1.2V540.5h-1.2zM546.9 519.5h1.2V527.5h-1.2zM555.9 563.5h1.2V835.5h-1.2zM563.9 820.5h1.2V835.5h-1.2zM563.9 598.5h1.2V818.5h-1.2zM563.9 589.5h1.2V597.5h-1.2zM563.9 565.5h1.2V588.5h-1.2zM563.9 541.5h1.2V562.5h-1.2zM563.9 524.5h1.2V532.5h-1.2zM563.9 493.5h1.2V501.5h-1.2zM572.9 591.5h1.2V817.5h-1.2zM572.9 560.5h1.2V588.5h-1.2zM572.9 536.5h1.2V543.5h-1.2zM572.9 473.5h1.2V484.5h-1.2zM580.9 820.5h1.2V830.5h-1.2zM580.9 811.5h1.2V818.5h-1.2zM580.9 537.5h1.2V809.5h-1.2zM580.9 508.5h1.2V516.5h-1.2zM580.9 495.5h1.2V505.5h-1.2zM589.9 824.5h1.2V835.5h-1.2zM589.9 550.5h1.2V815.5h-1.2zM589.9 534.5h1.2V549.5h-1.2zM597.9 554.5h1.2V828.5h-1.2zM597.9 530.5h1.2V543.5h-1.2zM597.9 482.5h1.2V494.5h-1.2zM606.9 523.5h1.2V818.5h-1.2zM614.9 602.5h1.2V822.5h-1.2zM614.9 534.5h1.2V599.5h-1.2zM623.9 554.5h1.2V828.5h-1.2zM623.9 536.5h1.2V553.5h-1.2zM623.9 517.5h1.2V527.5h-1.2zM623.9 475.5h1.2V486.5h-1.2zM631.9 552.5h1.2V820.5h-1.2zM631.9 530.5h1.2V551.5h-1.2zM631.9 493.5h1.2V506.5h-1.2zM640.9 539.5h1.2V828.5h-1.2zM640.9 517.5h1.2V534.5h-1.2zM649.9 560.5h1.2V818.5h-1.2zM649.9 541.5h1.2V556.5h-1.2zM649.9 523.5h1.2V540.5h-1.2zM649.9 513.5h1.2V521.5h-1.2zM657.9 814.5h1.2V824.5h-1.2zM657.9 565.5h1.2V813.5h-1.2zM657.9 554.5h1.2V562.5h-1.2zM657.9 512.5h1.2V553.5h-1.2zM657.9 480.5h1.2V488.5h-1.2zM666.9 554.5h1.2V826.5h-1.2zM666.9 528.5h1.2V553.5h-1.2zM666.9 508.5h1.2V523.5h-1.2zM666.9 488.5h1.2V503.5h-1.2zM674.9 822.5h1.2V835.5h-1.2zM674.9 508.5h1.2V818.5h-1.2zM674.9 499.5h1.2V506.5h-1.2zM674.9 475.5h1.2V490.5h-1.2zM683.9 537.5h1.2V820.5h-1.2zM683.9 504.5h1.2V532.5h-1.2zM691.9 508.5h1.2V813.5h-1.2zM691.9 482.5h1.2V499.5h-1.2zM691.9 462.5h1.2V470.5h-1.2zM700.9 486.5h1.2V815.5h-1.2zM700.9 462.5h1.2V471.5h-1.2zM708.9 812.5h1.2V826.5h-1.2zM708.9 530.5h1.2V811.5h-1.2zM708.9 489.5h1.2V527.5h-1.2zM708.9 458.5h1.2V475.5h-1.2zM717.9 814.5h1.2V828.5h-1.2zM717.9 534.5h1.2V809.5h-1.2zM717.9 491.5h1.2V532.5h-1.2zM717.9 475.5h1.2V486.5h-1.2zM726.9 469.5h1.2V830.5h-1.2zM726.9 417.5h1.2V425.5h-1.2zM734.9 499.5h1.2V817.5h-1.2zM734.9 482.5h1.2V490.5h-1.2zM734.9 467.5h1.2V479.5h-1.2zM734.9 452.5h1.2V464.5h-1.2zM734.9 425.5h1.2V438.5h-1.2zM743.9 471.5h1.2V830.5h-1.2zM743.9 452.5h1.2V470.5h-1.2zM743.9 443.5h1.2V451.5h-1.2zM751.9 827.5h1.2V835.5h-1.2zM751.9 467.5h1.2V824.5h-1.2zM751.9 447.5h1.2V458.5h-1.2zM751.9 430.5h1.2V446.5h-1.2zM760.9 493.5h1.2V831.5h-1.2zM760.9 449.5h1.2V492.5h-1.2zM760.9 434.5h1.2V446.5h-1.2zM768.9 454.5h1.2V828.5h-1.2zM768.9 434.5h1.2V451.5h-1.2zM768.9 393.5h1.2V405.5h-1.2zM768.9 349.5h1.2V361.5h-1.2zM777.9 480.5h1.2V831.5h-1.2zM777.9 462.5h1.2V477.5h-1.2zM777.9 440.5h1.2V460.5h-1.2zM785.9 471.5h1.2V826.5h-1.2zM785.9 447.5h1.2V468.5h-1.2zM785.9 423.5h1.2V435.5h-1.2zM785.9 406.5h1.2V414.5h-1.2zM785.9 397.5h1.2V405.5h-1.2zM794.9 434.5h1.2V826.5h-1.2zM794.9 412.5h1.2V420.5h-1.2zM794.9 401.5h1.2V409.5h-1.2zM803.9 458.5h1.2V831.5h-1.2zM803.9 427.5h1.2V455.5h-1.2zM803.9 384.5h1.2V394.5h-1.2zM811.9 493.5h1.2V828.5h-1.2zM811.9 454.5h1.2V492.5h-1.2zM811.9 429.5h1.2V446.5h-1.2zM811.9 410.5h1.2V422.5h-1.2zM811.9 358.5h1.2V366.5h-1.2zM820.9 467.5h1.2V835.5h-1.2zM820.9 452.5h1.2V466.5h-1.2zM820.9 436.5h1.2V446.5h-1.2zM820.9 408.5h1.2V435.5h-1.2zM828.9 816.5h1.2V830.5h-1.2zM828.9 425.5h1.2V815.5h-1.2zM828.9 403.5h1.2V416.5h-1.2zM837.9 484.5h1.2V815.5h-1.2zM837.9 467.5h1.2V482.5h-1.2zM837.9 443.5h1.2V451.5h-1.2zM837.9 427.5h1.2V440.5h-1.2zM845.9 482.5h1.2V831.5h-1.2zM845.9 467.5h1.2V481.5h-1.2zM845.9 449.5h1.2V460.5h-1.2zM845.9 436.5h1.2V444.5h-1.2zM845.9 401.5h1.2V412.5h-1.2zM854.9 449.5h1.2V828.5h-1.2zM854.9 438.5h1.2V447.5h-1.2zM854.9 371.5h1.2V388.5h-1.2zM862.9 480.5h1.2V824.5h-1.2zM862.9 449.5h1.2V477.5h-1.2zM862.9 436.5h1.2V444.5h-1.2zM862.9 366.5h1.2V375.5h-1.2zM871.9 500.5h1.2V818.5h-1.2zM871.9 460.5h1.2V495.5h-1.2zM871.9 436.5h1.2V458.5h-1.2zM879.9 478.5h1.2V826.5h-1.2zM879.9 460.5h1.2V475.5h-1.2zM879.9 447.5h1.2V458.5h-1.2zM879.9 432.5h1.2V446.5h-1.2zM879.9 397.5h1.2V405.5h-1.2zM888.9 458.5h1.2V824.5h-1.2zM888.9 436.5h1.2V444.5h-1.2zM897.9 486.5h1.2V820.5h-1.2zM897.9 469.5h1.2V477.5h-1.2zM897.9 452.5h1.2V464.5h-1.2zM897.9 432.5h1.2V446.5h-1.2zM897.9 412.5h1.2V423.5h-1.2zM905.9 504.5h1.2V817.5h-1.2zM905.9 465.5h1.2V494.5h-1.2zM905.9 452.5h1.2V460.5h-1.2zM905.9 414.5h1.2V425.5h-1.2zM914.9 480.5h1.2V815.5h-1.2zM914.9 469.5h1.2V477.5h-1.2zM914.9 451.5h1.2V468.5h-1.2zM914.9 432.5h1.2V444.5h-1.2zM922.9 489.5h1.2V824.5h-1.2zM922.9 452.5h1.2V471.5h-1.2zM931.9 809.5h1.2V822.5h-1.2zM931.9 491.5h1.2V800.5h-1.2zM931.9 465.5h1.2V490.5h-1.2zM931.9 454.5h1.2V464.5h-1.2zM939.9 493.5h1.2V809.5h-1.2zM939.9 465.5h1.2V492.5h-1.2zM939.9 406.5h1.2V416.5h-1.2zM948.9 528.5h1.2V811.5h-1.2zM948.9 519.5h1.2V527.5h-1.2zM948.9 497.5h1.2V518.5h-1.2zM948.9 473.5h1.2V481.5h-1.2zM948.9 438.5h1.2V447.5h-1.2zM956.9 500.5h1.2V807.5h-1.2zM965.9 801.5h1.2V813.5h-1.2zM965.9 530.5h1.2V796.5h-1.2zM965.9 506.5h1.2V521.5h-1.2zM965.9 486.5h1.2V503.5h-1.2zM973.9 805.5h1.2V817.5h-1.2zM973.9 512.5h1.2V804.5h-1.2zM973.9 497.5h1.2V510.5h-1.2zM973.9 482.5h1.2V495.5h-1.2zM973.9 458.5h1.2V466.5h-1.2zM982.9 788.5h1.2V796.5h-1.2zM982.9 530.5h1.2V787.5h-1.2zM982.9 517.5h1.2V527.5h-1.2zM982.9 497.5h1.2V508.5h-1.2zM982.9 488.5h1.2V495.5h-1.2zM991.9 563.5h1.2V804.5h-1.2zM991.9 510.5h1.2V562.5h-1.2zM991.9 482.5h1.2V506.5h-1.2zM999.9 563.5h1.2V796.5h-1.2zM999.9 528.5h1.2V558.5h-1.2zM999.9 500.5h1.2V523.5h-1.2zM1008.9 801.5h1.2V818.5h-1.2zM1008.9 787.5h1.2V800.5h-1.2zM1008.9 550.5h1.2V783.5h-1.2zM1008.9 515.5h1.2V525.5h-1.2zM1016.9 805.5h1.2V815.5h-1.2zM1016.9 781.5h1.2V796.5h-1.2zM1016.9 584.5h1.2V780.5h-1.2zM1016.9 558.5h1.2V582.5h-1.2zM1016.9 526.5h1.2V556.5h-1.2zM1025.9 811.5h1.2V818.5h-1.2zM1025.9 800.5h1.2V809.5h-1.2zM1025.9 567.5h1.2V794.5h-1.2zM1025.9 552.5h1.2V560.5h-1.2zM1025.9 508.5h1.2V518.5h-1.2zM1033.9 576.5h1.2V802.5h-1.2zM1033.9 561.5h1.2V575.5h-1.2zM1033.9 547.5h1.2V558.5h-1.2zM1033.9 517.5h1.2V529.5h-1.2zM1042.9 593.5h1.2V791.5h-1.2zM1042.9 560.5h1.2V591.5h-1.2zM1042.9 532.5h1.2V540.5h-1.2zM1050.9 558.5h1.2V796.5h-1.2zM1050.9 541.5h1.2V554.5h-1.2zM1059.9 755.5h1.2V782.5h-1.2zM1059.9 600.5h1.2V750.5h-1.2zM1059.9 567.5h1.2V586.5h-1.2zM1068.9 764.5h1.2V789.5h-1.2zM1068.9 681.5h1.2V748.5h-1.2zM1068.9 661.5h1.2V680.5h-1.2zM1068.9 602.5h1.2V660.5h-1.2zM1068.9 576.5h1.2V588.5h-1.2zM1076.9 709.5h1.2V770.5h-1.2zM1076.9 652.5h1.2V702.5h-1.2zM1076.9 620.5h1.2V650.5h-1.2zM1076.9 608.5h1.2V617.5h-1.2zM1076.9 572.5h1.2V582.5h-1.2zM1076.9 541.5h1.2V551.5h-1.2zM1085.9 750.5h1.2V765.5h-1.2zM1085.9 716.5h1.2V724.5h-1.2zM1085.9 707.5h1.2V715.5h-1.2zM1085.9 689.5h1.2V706.5h-1.2zM1085.9 598.5h1.2V608.5h-1.2zM1093.9 774.5h1.2V783.5h-1.2zM1093.9 722.5h1.2V730.5h-1.2zM1093.9 685.5h1.2V695.5h-1.2zM1093.9 624.5h1.2V639.5h-1.2zM1093.9 572.5h1.2V582.5h-1.2zM1102.9 720.5h1.2V730.5h-1.2zM1102.9 668.5h1.2V676.5h-1.2zM1102.9 633.5h1.2V645.5h-1.2zM1110.9 740.5h1.2V750.5h-1.2zM1110.9 729.5h1.2V737.5h-1.2z" fill="#f01818"/>
<path d="M416 806.5h6M419.5 803.5v6M416 659.5h6M419.5 656.5v6M424 780.5h6M427.5 777.5v6M424 766.5h6M427.5 763.5v6M424 758.5h6M427.5 755.5v6M433 780.5h6M436.5 777.5v6M433 745.5h6M436.5 742.5v6M433 736.5h6M436.5 733.5v6M433 721.5h6M436.5 718.5v6M441 834.5h6M444.5 831.5v6M441 588.5h6M444.5 585.5v6M441 574.5h6M444.5 571.5v6M441 566.5h6M444.5 563.5v6M450 830.5h6M453.5 827.5v6M459 581.5h6M462.5 578.5v6M459 505.5h6M462.5 502.5v6M467 838.5h6M470.5 835.5v6M467 574.5h6M470.5 571.5v6M467 564.5h6M470.5 561.5v6M467 540.5h6M470.5 537.5v6M476 564.5h6M479.5 561.5v6M484 834.5h6M487.5 831.5v6M484 572.5h6M487.5 569.5v6M484 564.5h6M487.5 561.5v6M484 533.5h6M487.5 530.5v6M493 821.5h6M496.5 818.5v6M493 557.5h6M496.5 554.5v6M501 570.5h6M504.5 567.5v6M501 526.5h6M504.5 523.5v6M510 838.5h6M513.5 835.5v6M510 828.5h6M513.5 825.5v6M510 515.5h6M513.5 512.5v6M510 503.5h6M513.5 500.5v6M510 494.5h6M513.5 491.5v6M518 838.5h6M521.5 835.5v6M518 583.5h6M521.5 580.5v6M518 561.5h6M521.5 558.5v6M518 531.5h6M521.5 528.5v6M527 542.5h6M530.5 539.5v6M527 533.5h6M530.5 530.5v6M535 500.5h6M538.5 497.5v6M544 836.5h6M547.5 833.5v6M544 557.5h6M547.5 554.5v6M544 494.5h6M547.5 491.5v6M553 539.5h6M556.5 536.5v6M553 531.5h6M556.5 528.5v6M553 520.5h6M556.5 517.5v6M553 511.5h6M556.5 508.5v6M553 489.5h6M556.5 486.5v6M570 827.5h6M573.5 824.5v6M570 555.5h6M573.5 552.5v6M570 548.5h6M573.5 545.5v6M570 507.5h6M573.5 504.5v6M578 489.5h6M581.5 486.5v6M587 507.5h6M590.5 504.5v6M587 498.5h6M590.5 495.5v6M595 550.5h6M598.5 547.5v6M595 515.5h6M598.5 512.5v6M595 476.5h6M598.5 473.5v6M604 823.5h6M607.5 820.5v6M604 515.5h6M607.5 512.5v6M604 443.5h6M607.5 440.5v6M612 529.5h6M615.5 526.5v6M612 492.5h6M615.5 489.5v6M621 507.5h6M624.5 504.5v6M621 457.5h6M624.5 454.5v6M629 836.5h6M632.5 833.5v6M629 827.5h6M632.5 824.5v6M629 485.5h6M632.5 482.5v6M638 834.5h6M641.5 831.5v6M638 507.5h6M641.5 504.5v6M638 500.5h6M641.5 497.5v6M638 467.5h6M641.5 464.5v6M647 851.5h6M650.5 848.5v6M647 494.5h6M650.5 491.5v6M647 452.5h6M650.5 449.5v6M655 496.5h6M658.5 493.5v6M655 474.5h6M658.5 471.5v6M664 832.5h6M667.5 829.5v6M664 444.5h6M667.5 441.5v6M672 465.5h6M675.5 462.5v6M681 825.5h6M684.5 822.5v6M681 479.5h6M684.5 476.5v6M681 463.5h6M684.5 460.5v6M681 396.5h6M684.5 393.5v6M689 828.5h6M692.5 825.5v6M689 819.5h6M692.5 816.5v6M689 503.5h6M692.5 500.5v6M689 446.5h6M692.5 443.5v6M689 409.5h6M692.5 406.5v6M689 378.5h6M692.5 375.5v6M698 828.5h6M701.5 825.5v6M698 821.5h6M701.5 818.5v6M698 455.5h6M701.5 452.5v6M698 428.5h6M701.5 425.5v6M698 402.5h6M701.5 399.5v6M698 289.5h6M701.5 286.5v6M706 834.5h6M709.5 831.5v6M706 441.5h6M709.5 438.5v6M706 396.5h6M709.5 393.5v6M715 836.5h6M718.5 833.5v6M715 439.5h6M718.5 436.5v6M715 420.5h6M718.5 417.5v6M724 834.5h6M727.5 831.5v6M724 461.5h6M727.5 458.5v6M724 444.5h6M727.5 441.5v6M732 494.5h6M735.5 491.5v6M732 446.5h6M735.5 443.5v6M732 404.5h6M735.5 401.5v6M732 393.5h6M735.5 390.5v6M732 378.5h6M735.5 375.5v6M732 330.5h6M735.5 327.5v6M741 430.5h6M744.5 427.5v6M741 395.5h6M744.5 392.5v6M741 365.5h6M744.5 362.5v6M749 463.5h6M752.5 460.5v6M749 420.5h6M752.5 417.5v6M749 382.5h6M752.5 379.5v6M749 343.5h6M752.5 340.5v6M758 420.5h6M761.5 417.5v6M758 404.5h6M761.5 401.5v6M758 387.5h6M761.5 384.5v6M758 367.5h6M761.5 364.5v6M758 304.5h6M761.5 301.5v6M766 426.5h6M769.5 423.5v6M766 385.5h6M769.5 382.5v6M775 422.5h6M778.5 419.5v6M775 415.5h6M778.5 412.5v6M775 398.5h6M778.5 395.5v6M775 350.5h6M778.5 347.5v6M775 276.5h6M778.5 273.5v6M783 439.5h6M786.5 436.5v6M783 419.5h6M786.5 416.5v6M783 385.5h6M786.5 382.5v6M801 415.5h6M804.5 412.5v6M801 408.5h6M804.5 405.5v6M801 336.5h6M804.5 333.5v6M809 450.5h6M812.5 447.5v6M809 372.5h6M812.5 369.5v6M818 396.5h6M821.5 393.5v6M818 306.5h6M821.5 303.5v6M818 269.5h6M821.5 266.5v6M826 834.5h6M829.5 831.5v6M826 382.5h6M829.5 379.5v6M826 371.5h6M829.5 368.5v6M826 360.5h6M829.5 357.5v6M835 825.5h6M838.5 822.5v6M835 459.5h6M838.5 456.5v6M835 422.5h6M838.5 419.5v6M835 408.5h6M838.5 405.5v6M843 426.5h6M846.5 423.5v6M843 395.5h6M846.5 392.5v6M843 354.5h6M846.5 351.5v6M843 334.5h6M846.5 331.5v6M852 433.5h6M855.5 430.5v6M852 415.5h6M855.5 412.5v6M852 396.5h6M855.5 393.5v6M852 360.5h6M855.5 357.5v6M852 273.5h6M855.5 270.5v6M860 419.5h6M863.5 416.5v6M860 409.5h6M863.5 406.5v6M860 354.5h6M863.5 351.5v6M869 825.5h6M872.5 822.5v6M869 402.5h6M872.5 399.5v6M869 371.5h6M872.5 368.5v6M869 358.5h6M872.5 355.5v6M877 830.5h6M880.5 827.5v6M877 424.5h6M880.5 421.5v6M877 411.5h6M880.5 408.5v6M877 367.5h6M880.5 364.5v6M877 308.5h6M880.5 305.5v6M877 260.5h6M880.5 257.5v6M886 450.5h6M889.5 447.5v6M886 422.5h6M889.5 419.5v6M886 409.5h6M889.5 406.5v6M886 393.5h6M889.5 390.5v6M895 827.5h6M898.5 824.5v6M895 481.5h6M898.5 478.5v6M895 408.5h6M898.5 405.5v6M895 369.5h6M898.5 366.5v6M903 823.5h6M906.5 820.5v6M903 498.5h6M906.5 495.5v6M903 441.5h6M906.5 438.5v6M903 324.5h6M906.5 321.5v6M912 819.5h6M915.5 816.5v6M912 426.5h6M915.5 423.5v6M912 385.5h6M915.5 382.5v6M912 361.5h6M915.5 358.5v6M912 313.5h6M915.5 310.5v6M920 830.5h6M923.5 827.5v6M920 485.5h6M923.5 482.5v6M920 476.5h6M923.5 473.5v6M920 424.5h6M923.5 421.5v6M920 400.5h6M923.5 397.5v6M920 374.5h6M923.5 371.5v6M920 273.5h6M923.5 270.5v6M929 804.5h6M932.5 801.5v6M929 450.5h6M932.5 447.5v6M929 433.5h6M932.5 430.5v6M929 404.5h6M932.5 401.5v6M937 852.5h6M940.5 849.5v6M937 834.5h6M940.5 831.5v6M937 819.5h6M940.5 816.5v6M937 459.5h6M940.5 456.5v6M937 426.5h6M940.5 423.5v6M946 404.5h6M949.5 401.5v6M954 832.5h6M957.5 829.5v6M954 489.5h6M957.5 486.5v6M954 312.5h6M957.5 309.5v6M963 526.5h6M966.5 523.5v6M963 476.5h6M966.5 473.5v6M963 465.5h6M966.5 462.5v6M963 450.5h6M966.5 447.5v6M963 424.5h6M966.5 421.5v6M963 339.5h6M966.5 336.5v6M971 472.5h6M974.5 469.5v6M971 408.5h6M974.5 405.5v6M971 387.5h6M974.5 384.5v6M980 804.5h6M983.5 801.5v6M980 476.5h6M983.5 473.5v6M980 404.5h6M983.5 401.5v6M989 810.5h6M992.5 807.5v6M989 474.5h6M992.5 471.5v6M989 459.5h6M992.5 456.5v6M997 812.5h6M1000.5 809.5v6M997 803.5h6M1000.5 800.5v6M997 476.5h6M1000.5 473.5v6M997 450.5h6M1000.5 447.5v6M997 406.5h6M1000.5 403.5v6M1006 843.5h6M1009.5 840.5v6M1006 544.5h6M1009.5 541.5v6M1006 529.5h6M1009.5 526.5v6M1006 467.5h6M1009.5 464.5v6M1006 450.5h6M1009.5 447.5v6M1014 500.5h6M1017.5 497.5v6M1023 834.5h6M1026.5 831.5v6M1023 544.5h6M1026.5 541.5v6M1023 535.5h6M1026.5 532.5v6M1023 500.5h6M1026.5 497.5v6M1031 542.5h6M1034.5 539.5v6M1031 452.5h6M1034.5 449.5v6M1040 830.5h6M1043.5 827.5v6M1040 804.5h6M1043.5 801.5v6M1040 550.5h6M1043.5 547.5v6M1040 524.5h6M1043.5 521.5v6M1048 810.5h6M1051.5 807.5v6M1048 371.5h6M1051.5 368.5v6M1057 795.5h6M1060.5 792.5v6M1057 788.5h6M1060.5 785.5v6M1057 596.5h6M1060.5 593.5v6M1057 533.5h6M1060.5 530.5v6M1066 596.5h6M1069.5 593.5v6M1066 572.5h6M1069.5 569.5v6M1074 780.5h6M1077.5 777.5v6M1074 594.5h6M1077.5 591.5v6M1074 487.5h6M1077.5 484.5v6M1083 738.5h6M1086.5 735.5v6M1083 675.5h6M1086.5 672.5v6M1083 651.5h6M1086.5 648.5v6M1083 640.5h6M1086.5 637.5v6M1083 579.5h6M1086.5 576.5v6M1083 557.5h6M1086.5 554.5v6M1091 769.5h6M1094.5 766.5v6M1091 703.5h6M1094.5 700.5v6M1091 666.5h6M1094.5 663.5v6M1091 655.5h6M1094.5 652.5v6M1100 755.5h6M1103.5 752.5v6M1100 738.5h6M1103.5 735.5v6M1100 712.5h6M1103.5 709.5v6M1100 683.5h6M1103.5 680.5v6M1100 660.5h6M1103.5 657.5v6M1100 653.5h6M1103.5 650.5v6M1100 574.5h6M1103.5 571.5v6M1100 527.5h6M1103.5 524.5v6M1100 467.5h6M1103.5 464.5v6M1108 649.5h6M1111.5 646.5v6M1108 631.5h6M1111.5 628.5v6M1117 734.5h6M1120.5 731.5v6M1117 707.5h6M1120.5 704.5v6M1117 684.5h6M1120.5 681.5v6M1117 660.5h6M1120.5 657.5v6M1117 649.5h6M1120.5 646.5v6M1117 635.5h6M1120.5 632.5v6M1117 616.5h6M1120.5 613.5v6M1125 646.5h6M1128.5 643.5v6M1134 773.5h6M1137.5 770.5v6M1134 718.5h6M1137.5 715.5v6M1134 609.5h6M1137.5 606.5v6" fill="none" stroke="#f24a4a" stroke-width="1"/>
<path d="M902.5 226.5h6M905.5 223.5v6M911.5 223.5h6M914.5 220.5v6" stroke="#f25555" stroke-width="1" fill="none"/>
<line x1="373.6" y1="673" x2="1165" y2="673" stroke="rgb(20,190,250)" stroke-width="4.4" stroke-dasharray="9.5,9.5"/>
<rect x="427" y="667.7" width="661.3" height="12.3" fill="rgb(255,200,0)" fill-opacity="0.7"/>
<rect x="366" y="631.5" width="844" height="9" fill="rgb(255,255,0)" fill-opacity="0.55"/>
<line x1="378.3" y1="525.5" x2="1226" y2="525.5" stroke="#000" stroke-width="4.4" stroke-dasharray="9.4,9.4"/>
<line x1="383" y1="635" x2="1210" y2="635" stroke="rgb(130,250,10)" stroke-width="4" stroke-dasharray="9.8,9.2"/>
<line x1="383" y1="744.3" x2="1212" y2="744.3" stroke="rgb(250,135,25)" stroke-width="4.6" stroke-dasharray="9.8,9.2"/>
<line x1="713.2" y1="255" x2="718" y2="893" stroke="rgb(250,135,25)" stroke-width="4.5" stroke-dasharray="9.1,9.9"/>
<path d="M713.7,378 L773.6,439 L744,439 L744,632 L681.5,632 L681.5,439 L651.5,439 Z" fill="rgb(250,188,20)" fill-opacity="0.75"/>
<path d="M1080,363 L1149.4,363 L1149.4,348.3 L1178.4,377.5 L1149.4,407 L1149.4,392.5 L1080,392.5 Z" fill="#FFC000"/>
<rect x="379.7" y="146.5" width="498.5" height="101.8" fill="#fff" stroke="#000" stroke-width="3.6"/>
<line x1="402" y1="178.5" x2="470" y2="178.5" stroke="#888" stroke-width="1"/>
<path d="M444.7,173.5 L449.7,181.5 L439.7,181.5 Z" fill="none" stroke="#2aa8e0" stroke-width="1"/>
<line x1="402" y1="221.4" x2="470" y2="221.4" stroke="#4040e0" stroke-width="1" stroke-dasharray="10,7,32,15,3,100"/>
<path d="M441.7,221.4 h6 M444.7,218.4 v6" stroke="#f03030" stroke-width="1"/>
<line x1="891" y1="181.3" x2="971.7" y2="181.3" stroke="#888" stroke-width="1"/>
<line x1="899" y1="219.5" x2="911" y2="219.5" stroke="#8ab0e0" stroke-width="1"/><line x1="918" y1="219.5" x2="958" y2="219.5" stroke="#8ab0e0" stroke-width="1"/><line x1="975" y1="219.5" x2="980" y2="219.5" stroke="#8ab0e0" stroke-width="1"/>
<text transform="translate(268.5,669) rotate(-90)" font-size="43" font-family='"Liberation Sans",sans-serif' textLength="264" lengthAdjust="spacingAndGlyphs">LDL−C mg/dl</text>
<rect x="1117" y="565.6" width="446" height="48.4" fill="rgb(255,252,192)"/>
<text x="708.4" y="119.5" font-size="44" fill="#000" font-weight="bold" font-family='"Liberation Sans","Noto Sans CJK JP",sans-serif' textLength="143.2" lengthAdjust="spacingAndGlyphs" >年齢ー</text>
<text x="847.2" y="119.3" font-size="44" fill="#000" font-weight="normal" font-family='"Liberation Sans",sans-serif' textLength="138.2" lengthAdjust="spacingAndGlyphs" stroke="#000" stroke-width="0.9">LDL−C</text>
<text x="492.0" y="190.4" font-size="30" fill="#000" font-weight="normal" font-family='"Liberation Sans","IPAGothic","Noto Sans CJK JP",sans-serif' textLength="199.6" lengthAdjust="spacingAndGlyphs" >男性248885人</text>
<text x="702.6" y="190.4" font-size="30" fill="#000" font-weight="normal" font-family='"Liberation Sans","IPAGothic","Noto Sans CJK JP",sans-serif' textLength="161.6" lengthAdjust="spacingAndGlyphs" >116.6±31.4</text>
<text x="493.0" y="233.0" font-size="30" fill="#000" font-weight="normal" font-family='"Liberation Sans","IPAGothic","Noto Sans CJK JP",sans-serif' textLength="198.6" lengthAdjust="spacingAndGlyphs" >女性238182人</text>
<text x="702.6" y="233.0" font-size="30" fill="#000" font-weight="normal" font-family='"Liberation Sans","IPAGothic","Noto Sans CJK JP",sans-serif' textLength="162.6" lengthAdjust="spacingAndGlyphs" >119.3±31.3</text>
<text x="981.4" y="192.8" font-size="30" fill="#000" font-weight="normal" font-family='"Liberation Sans",sans-serif' textLength="300.0" lengthAdjust="spacingAndGlyphs" >y = 111.8 + 0.098349x</text>
<text x="1312.8" y="192.8" font-size="30" fill="#000" font-weight="normal" font-family='"Liberation Sans",sans-serif' textLength="170.0" lengthAdjust="spacingAndGlyphs" >R= 0.052118</text>
<text x="989.6" y="230.7" font-size="30" fill="#000" font-weight="normal" font-family='"Liberation Sans",sans-serif' textLength="300.0" lengthAdjust="spacingAndGlyphs" >y = 87.973 + 0.58464x</text>
<text x="1321.2" y="230.7" font-size="30" fill="#000" font-weight="normal" font-family='"Liberation Sans",sans-serif' textLength="153.6" lengthAdjust="spacingAndGlyphs" >R= 0.30679</text>
<text x="748.0" y="992.0" font-size="45" fill="#000" font-weight="normal" font-family='"Liberation Sans","IPAGothic","Noto Sans CJK JP",sans-serif' textLength="93.6" lengthAdjust="spacingAndGlyphs" >年齢</text>
<text x="294.8" y="684.0" font-size="40" fill="#E0175A" font-weight="bold" font-family='"Liberation Sans",sans-serif' textLength="63.8" lengthAdjust="spacingAndGlyphs" >120</text>
<text x="1165.0" y="344.0" font-size="39" fill="#C55A11" font-weight="bold" font-family='"Liberation Sans","Noto Sans CJK JP",sans-serif' textLength="355.0" lengthAdjust="spacingAndGlyphs" >悪玉コレステロール</text>
<text x="1215.4" y="397.0" font-size="39" fill="#C55A11" font-weight="bold" font-family='"Liberation Sans","Noto Sans CJK JP",sans-serif' textLength="248.2" lengthAdjust="spacingAndGlyphs" >と呼べるのか</text>
<text x="1080.8" y="509.0" font-size="30" fill="#000" font-weight="normal" font-family='"Liberation Sans","IPAGothic","Noto Sans CJK JP",sans-serif' textLength="164.2" lengthAdjust="spacingAndGlyphs" >≧200mg/dl</text>
<text x="1266.4" y="509.0" font-size="30" fill="#000" font-weight="normal" font-family='"Liberation Sans","IPAGothic","Noto Sans CJK JP",sans-serif' textLength="91.8" lengthAdjust="spacingAndGlyphs" >M 1.0%</text>
<text x="1378.4" y="509.0" font-size="30" fill="#000" font-weight="normal" font-family='"Liberation Sans","IPAGothic","Noto Sans CJK JP",sans-serif' textLength="74.6" lengthAdjust="spacingAndGlyphs" >F1.2%</text>
<text x="1127.4" y="605.9" font-size="30" fill="#4a4000" font-weight="normal" font-family='"Liberation Sans","IPAGothic","Noto Sans CJK JP",sans-serif' textLength="164.8" lengthAdjust="spacingAndGlyphs" >≧140mg/dl</text>
<text x="1310.4" y="605.9" font-size="30" fill="#4a4000" font-weight="normal" font-family='"Liberation Sans","IPAGothic","Noto Sans CJK JP",sans-serif' textLength="109.6" lengthAdjust="spacingAndGlyphs" >M 22.0%</text>
<text x="1450.0" y="605.9" font-size="30" fill="#4a4000" font-weight="normal" font-family='"Liberation Sans","IPAGothic","Noto Sans CJK JP",sans-serif' textLength="101.0" lengthAdjust="spacingAndGlyphs" >F 24.3%</text>
<text x="1127.4" y="658.7" font-size="30" fill="#000" font-weight="normal" font-family='"Liberation Sans","IPAGothic","Noto Sans CJK JP",sans-serif' textLength="164.8" lengthAdjust="spacingAndGlyphs" >≧120mg/dl</text>
<text x="1310.4" y="658.7" font-size="30" fill="#000" font-weight="normal" font-family='"Liberation Sans","IPAGothic","Noto Sans CJK JP",sans-serif' textLength="108.8" lengthAdjust="spacingAndGlyphs" >M 44.1%</text>
<text x="1449.4" y="658.7" font-size="30" fill="#000" font-weight="normal" font-family='"Liberation Sans","IPAGothic","Noto Sans CJK JP",sans-serif' textLength="101.6" lengthAdjust="spacingAndGlyphs" >F 46.8%</text>
<text x="1148.2" y="716.2" font-size="30" fill="#000" font-weight="normal" font-family='"Liberation Sans","IPAGothic","Noto Sans CJK JP",sans-serif' textLength="160.2" lengthAdjust="spacingAndGlyphs" >＜100mg/dl</text>
<text x="1327.8" y="716.2" font-size="30" fill="#000" font-weight="normal" font-family='"Liberation Sans","IPAGothic","Noto Sans CJK JP",sans-serif' textLength="109.0" lengthAdjust="spacingAndGlyphs" >M 30.3%</text>
<text x="1456.6" y="716.2" font-size="30" fill="#000" font-weight="normal" font-family='"Liberation Sans","IPAGothic","Noto Sans CJK JP",sans-serif' textLength="102.8" lengthAdjust="spacingAndGlyphs" >F 27.9%</text>
<text x="1151.0" y="781.2" font-size="30" fill="#000" font-weight="normal" font-family='"Liberation Sans","IPAGothic","Noto Sans CJK JP",sans-serif' textLength="144.0" lengthAdjust="spacingAndGlyphs" >＜80mg/dl</text>
<text x="1314.6" y="781.2" font-size="30" fill="#000" font-weight="normal" font-family='"Liberation Sans","IPAGothic","Noto Sans CJK JP",sans-serif' textLength="108.8" lengthAdjust="spacingAndGlyphs" >M 10.9%</text>
<text x="1453.8" y="781.2" font-size="30" fill="#000" font-weight="normal" font-family='"Liberation Sans","IPAGothic","Noto Sans CJK JP",sans-serif' textLength="85.4" lengthAdjust="spacingAndGlyphs" >F 8.8%</text>
<text x="713" y="467" font-size="40" font-weight="bold" text-anchor="middle" font-family='"Liberation Sans","Noto Sans CJK JP",sans-serif'>要</text>
<text x="713" y="516" font-size="40" font-weight="bold" text-anchor="middle" font-family='"Liberation Sans","Noto Sans CJK JP",sans-serif'>受</text>
<text x="713" y="564" font-size="40" font-weight="bold" text-anchor="middle" font-family='"Liberation Sans","Noto Sans CJK JP",sans-serif'>診</text>
<text x="713" y="612" font-size="40" text-anchor="middle" font-family='"Liberation Sans","IPAGothic","Noto Sans CJK JP",sans-serif'>？</text></svg>
</body></html>
